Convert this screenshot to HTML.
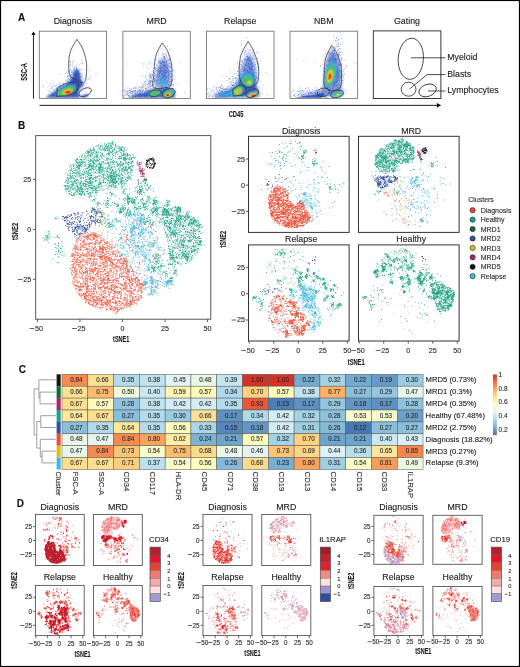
<!DOCTYPE html>
<html><head><meta charset="utf-8"><style>
html,body{margin:0;padding:0;background:#fff;}
body{width:520px;height:667px;overflow:hidden;}
svg{display:block;will-change:transform;filter:blur(0.25px);font-family:"Liberation Sans", sans-serif;}
text{stroke:#222;stroke-width:0.22px;stroke-opacity:0.55;}
</style></head><body>
<svg width="520" height="667" viewBox="0 0 520 667">
<rect x="0" y="0" width="520" height="667" fill="#fff"/>
<text x="18.00" y="21.40" font-size="10" text-anchor="start" fill="#111" font-weight="bold" >A</text>
<text x="72.95" y="24.30" font-size="8.8" text-anchor="middle" fill="#222" >Diagnosis</text>
<text x="156.60" y="24.30" font-size="8.8" text-anchor="middle" fill="#222" >MRD</text>
<text x="240.25" y="24.30" font-size="8.8" text-anchor="middle" fill="#222" >Relapse</text>
<text x="323.80" y="24.30" font-size="8.8" text-anchor="middle" fill="#222" >NBM</text>
<text x="407.00" y="24.30" font-size="8.8" text-anchor="middle" fill="#222" >Gating</text>
<defs><filter id="fb1" x="-50%" y="-50%" width="200%" height="200%"><feGaussianBlur stdDeviation="0.9"/></filter><filter id="fb2" x="-50%" y="-50%" width="200%" height="200%"><feGaussianBlur stdDeviation="1.6"/></filter><filter id="fb0" x="-50%" y="-50%" width="200%" height="200%"><feGaussianBlur stdDeviation="0.5"/></filter></defs>
<clipPath id="fc39"><rect x="39.3" y="31.2" width="67.3" height="67.2"/></clipPath>
<g clip-path="url(#fc39)">
<path transform="scale(.5)" d="M166 126h0m-1 1h0m-1-6h0m-1 1h0m-1 5h0m-14-5h0m-1-2h0m-2 6h0m0-2h0m-4-1h0m0 2h0m-2-2h0m-1 10h0m0-1h0m2-4h0m0 1h0m2 1h0m2 2h0m1-1h0m3 4h0m0-7h0m1 6h0m3-1h0m0 1h0m1 0h0m1-5h0m5 1h0m20 7h0m-11 1h0m-4 1h0m-3 1h0m-1-2h0m-1 2h0m-2 2h0m0-1h0m0 2h0m-1-2h0m-1 2h0m0-1h0m0-2h0m-1-3h0m0 4h0m-1-2h0m0-2h0m-1 6h0m-1-3h0m0 2h0m-1-3h0m0 2h0m0-5h0m-1 7h0m0-5h0m-1-1h0m-1 2h0m0 3h0m0-2h0m-2 0h0m-1 3h0m0-5h0m-1 5h0m-1-5h0m0 3h0m-1-2h0m-2 3h0m-1 0h0m-1 0h0m-2 0h0m-1-5h0m-14 12h0m11-2h0m2-3h0m1 2h0m2 2h0m0 3h0m1-5h0m1-2h0m3 6h0m1-1h0m0-4h0m1 1h0m0-1h0m0 4h0m2 0h0m0-3h0m1-1h0m0-1h0m1 5h0m0-1h0m0-1h0m0 3h0m0-5h0m1 0h0m1 2h0m0 3h0m0-1h0m0-1h0m1 0h0m1-1h0m0 4h0m1-4h0m0-1h0m0-1h0m1 2h0m0 4h0m1-4h0m2 2h0m0-2h0m0 4h0m0-5h0m0 4h0m1-5h0m0 3h0m1 0h0m0-1h0m0 3h0m1-4h0m0 4h0m2-3h0m3 1h0m0-1h0m4 4h0m3-3h0m2 3h0m6-7h0m13 3h0m-10 6h0m-3 6h0m0-5h0m-2 3h0m-5-3h0m-3 5h0m-1-1h0m-2-3h0m-2 2h0m0-5h0m0 2h0m-2-2h0m-1 7h0m-1-7h0m-1 3h0m0 1h0m-2 2h0m0-1h0m-1-1h0m-1-3h0m0 2h0m0-1h0m-1-1h0m-1 1h0m0 4h0m0-5h0m-1 6h0m0-6h0m0 4h0m-1 2h0m0-5h0m-1 2h0m-1 0h0m0-1h0m0 3h0m0-5h0m-1 6h0m0-6h0m0 2h0m-1 3h0m0-3h0m-1 3h0m-1-4h0m0 3h0m0 2h0m-1-1h0m-1 1h0m0-6h0m0-1h0m-1 3h0m-1 1h0m0 1h0m0-5h0m-1 6h0m0-2h0m-1-2h0m-1 5h0m0-7h0m-1 6h0m0-1h0m0-5h0m-1 1h0m-1 6h0m0-6h0m-1 2h0m-41 9h0m9 3h0m3-5h0m16 5h0m4-3h0m1 3h0m1 0h0m4-5h0m0-2h0m1 1h0m0 4h0m2-1h0m0-3h0m1 2h0m1 1h0m0-1h0m1 1h0m1-4h0m2 6h0m0-6h0m1 2h0m1 1h0m0-3h0m0 4h0m1 1h0m1-4h0m0-1h0m1 3h0m0 4h0m0-5h0m0-2h0m1 1h0m0-1h0m0 7h0m1-6h0m0 4h0m1-4h0m0 3h0m1-3h0m0 4h0m0-1h0m0 3h0m1-1h0m0-1h0m1-3h0m0 4h0m0-5h0m0 4h0m0-5h0m1 0h0m0 2h0m0 4h0m2-1h0m1-4h0m0 3h0m1 3h0m0-6h0m0 3h0m1-4h0m0 7h0m0-1h0m1 1h0m0-5h0m1 4h0m1-4h0m0 4h0m1-3h0m0 4h0m0-5h0m0-1h0m1 4h0m0 2h0m0-1h0m1 0h0m1-5h0m1 1h0m2 4h0m2 1h0m5 0h0m1-7h0m7 2h0m-13 11h0m-4 0h0m-2-4h0m0-1h0m-4 3h0m-1-2h0m-1 4h0m-1-4h0m-1 0h0m-2-1h0m0 7h0m0-6h0m-1 6h0m0-4h0m-1 0h0m-1 2h0m0-5h0m0 7h0m0-6h0m-2 5h0m-1-1h0m0-5h0m-2 5h0m0-5h0m0 2h0m-2-1h0m0 3h0m-1-2h0m-1-2h0m-5 3h0m0 4h0m-1 0h0m0-2h0m-1 0h0m0-1h0m0-2h0m-1-2h0m0 3h0m-1-2h0m-4 0h0m-1 2h0m0 3h0m-1-3h0m0 4h0m-2 0h0m0-3h0m-1-1h0m0-1h0m-1 2h0m-1 1h0m0-2h0m-1 1h0m0 3h0m-1-6h0m0 3h0m-1-4h0m0 7h0m-1-2h0m-1-3h0m-3 1h0m-1 1h0m0 2h0m-2-3h0m-1 0h0m-3 2h0m0-5h0m-1 4h0m-2 3h0m-1-3h0m-2-1h0m-4 4h0m-9-1h0m-1-3h0m10 10h0m6-4h0m0 6h0m3-6h0m0-1h0m2 5h0m1-2h0m1 3h0m2-4h0m1 2h0m1-3h0m0 4h0m0-5h0m0 3h0m1 2h0m1-3h0m0 3h0m0-5h0m0 4h0m1-3h0m3 5h0m0-1h0m0-5h0m1 2h0m1 0h0m0-2h0m0 7h0m1-6h0m0-1h0m1 1h0m0 4h0m1 0h0m1-1h0m0 3h0m0-2h0m1-4h0m0 3h0m0-1h0m0 4h0m1 0h0m0-5h0m2-1h0m0-1h0m0 4h0m0-1h0m1 0h0m0-2h0m1 0h0m0-1h0m1 6h0m0-5h0m0 4h0m2-3h0m1 5h0m0-7h0m2 5h0m0-1h0m1 2h0m0-5h0m0-1h0m2 5h0m1-1h0m0-2h0m0 4h0m0-5h0m2 2h0m0 4h0m1-4h0m1 3h0m1 1h0m0-7h0m3 0h0m1 3h0m13 4h0m1-2h0m0-2h0m2 0h0m5 4h0m-16 1h0m-8 5h0m-8-5h0m-2 2h0m-1 1h0m-3-2h0m-1 0h0m-3 1h0m-1 5h0m-1-6h0m-1 2h0m-3-3h0m-2 1h0m-1 5h0m-3-4h0m-1 2h0m-1-1h0m0-2h0m0-1h0m-3 1h0m-2 1h0m0 2h0m-1-3h0m-1 6h0m-4-2h0m-4-5h0m-2 0h0m16 8h0m11 0h0m8 0h0m4 0h0m11 0h0m9 0h0" stroke="#3D62C6" stroke-width="1.6" stroke-linecap="round" stroke-opacity="0.55"/>
<polygon points="46.3,96.7 53.3,92.2 61.3,87.2 68.3,82.7 72.3,77.2 74.3,71.2 77.3,68.2 80.3,74.2 81.3,81.2 84.3,84.2 80.3,88.2 78.3,93.2 80.3,97.7 46.3,97.7" fill="#2A50BC" fill-opacity="0.95" filter="url(#fb1)"/>
<ellipse cx="65.30" cy="90.70" rx="11" ry="3.7" transform="rotate(-24 65.30 90.70)" fill="#35B6E6" fill-opacity="1.0" filter="url(#fb1)"/>
<ellipse cx="66.30" cy="91.20" rx="9.6" ry="3.3" transform="rotate(-22 66.30 91.20)" fill="#58BF4C" fill-opacity="1.0" filter="url(#fb1)"/>
<ellipse cx="67.30" cy="91.70" rx="5.6" ry="2.1" transform="rotate(-18 67.30 91.70)" fill="#F2E22C" fill-opacity="1.0" filter="url(#fb1)"/>
<ellipse cx="67.90" cy="92.00" rx="4.2" ry="1.8" transform="rotate(-14 67.90 92.00)" fill="#F59A22" fill-opacity="1" filter="url(#fb0)"/>
<ellipse cx="68.10" cy="92.10" rx="2.6" ry="1.2" transform="rotate(-10 68.10 92.10)" fill="#E4241F" fill-opacity="1" filter="url(#fb0)"/>
<ellipse cx="84.80" cy="95.80" rx="4.2" ry="1.4" transform="rotate(-12 84.80 95.80)" fill="#2A50BC" fill-opacity="0.9" filter="url(#fb1)"/>
<ellipse cx="85.30" cy="96.00" rx="2.2" ry="0.8" transform="rotate(-12 85.30 96.00)" fill="#35B6E6" fill-opacity="0.8" filter="url(#fb0)"/>
<path d="M76.9 39.3C77.8 40.8 80.9 44.7 82.4 48.2C83.9 51.7 85.4 56.5 86.1 60.2C86.8 63.9 86.7 67.2 86.6 70.4C86.5 73.7 86.3 77.7 85.7 79.7C85.0 81.7 84.4 82.5 82.7 82.4C81.0 82.3 77.4 80.3 75.3 79.2C73.2 78.1 71.2 78.2 70.1 75.7C69.0 73.2 68.6 68.3 68.7 64.2C68.8 60.1 69.1 55.3 70.5 51.2C71.9 47.0 75.8 41.3 76.9 39.3Z" fill="none" stroke="#3a3a3a" stroke-width="0.8" stroke-linejoin="miter"/>
<path d="M56.3 96.4 L57.6 87.7 L65.3 83.6 L74.6 81.5 L78.5 83.5 L78.7 87.4 L75.9 92.6 L65.4 95.9Z" fill="none" stroke="#3a3a3a" stroke-width="0.8" stroke-linejoin="round"/>
<ellipse cx="85.10" cy="92.20" rx="6.6" ry="3.8" transform="rotate(-25 85.10 92.20)" fill="none" stroke="#3a3a3a" stroke-width="0.8"/>
</g>
<clipPath id="fc122"><rect x="122.9" y="31.2" width="67.4" height="67.2"/></clipPath>
<g clip-path="url(#fc122)">
<polygon points="153.9,87.2 155.4,76.2 158.9,63.2 163.9,55.2 168.9,63.2 170.9,76.2 170.9,87.2" fill="#2A50BC" fill-opacity="0.45" filter="url(#fb2)"/>
<polygon points="126.9,97.7 134.9,94.7 146.9,91.7 154.9,89.2 162.9,88.2 170.9,88.2 174.9,91.2 174.9,97.7" fill="#2A50BC" fill-opacity="0.9" filter="url(#fb1)"/>
<path transform="scale(.5)" d="M335 93h0m-7-2h0m-6 3h0m0 4h0m16 0h0m3 1h0m-3 12h0m-2-5h0m-3 0h0m-2 4h0m-1-3h0m-3 2h0m0-1h0m-1 0h0m-2 3h0m-7-6h0m-4 13h0m5-2h0m6 2h0m3-4h0m1-1h0m1 6h0m0-6h0m0 3h0m0-1h0m2 2h0m1-5h0m1 0h0m2 4h0m3 0h0m0 3h0m0-1h0m2 1h0m0-1h0m21 7h0m-18-1h0m-3 3h0m0-1h0m-1 0h0m-1-5h0m0-1h0m0 6h0m-2-5h0m0 2h0m-2 4h0m0-6h0m-1 1h0m0 3h0m0-2h0m-2-1h0m0 4h0m-2-2h0m0-2h0m0 3h0m-1 2h0m-1-2h0m0-1h0m0-1h0m0 3h0m-2-2h0m0-1h0m-1 0h0m0-1h0m0 4h0m0-1h0m-1 2h0m-1-1h0m0-1h0m0 2h0m-1 0h0m0-1h0m0-5h0m-1 1h0m0 2h0m-1 0h0m0 3h0m0-5h0m-2 0h0m0 3h0m0-5h0m0 3h0m-6-1h0m-10 2h0m-3 1h0m-13 2h0m-31 1h0m33 4h0m4-4h0m7 0h0m4 4h0m4-4h0m4 0h0m0 7h0m1 0h0m1-1h0m1-6h0m1 3h0m0-1h0m3 4h0m1-2h0m0 2h0m2-6h0m1 4h0m0-1h0m0 4h0m1 0h0m0-5h0m0 2h0m1 3h0m1-6h0m0 3h0m0 3h0m1 0h0m1-3h0m0 3h0m0-5h0m0 4h0m1-2h0m0-2h0m1 1h0m0-1h0m0 4h0m0-5h0m0 4h0m0-5h0m0 4h0m1 0h0m1-1h0m0-2h0m0 4h0m0-1h0m1-1h0m0 3h0m0-6h0m1 2h0m0 4h0m1-4h0m0 4h0m1-1h0m0-3h0m0 4h0m1 1h0m0-5h0m1 1h0m0 1h0m2-1h0m1 3h0m1-5h0m0 5h0m1 0h0m0-1h0m1 0h0m2-4h0m4 11h0m-1 1h0m-2 1h0m-2 1h0m-1-7h0m0 4h0m-1 3h0m-1 0h0m-1-1h0m-2-1h0m0-1h0m-1-2h0m0 4h0m0-6h0m-1 1h0m0 4h0m0-5h0m-1 1h0m0 3h0m0 3h0m-1-2h0m0-1h0m0-2h0m0 4h0m-1-6h0m0 7h0m-1-3h0m0 2h0m0-1h0m0-5h0m-1 0h0m0 1h0m0 4h0m-1 2h0m0-1h0m0-1h0m0-1h0m0-1h0m-1 0h0m0-1h0m0-2h0m-1 7h0m0-2h0m0-5h0m-1 2h0m0 4h0m0-6h0m-1 4h0m0 3h0m0-2h0m-1 2h0m0-1h0m0-1h0m0-1h0m-1-3h0m0 1h0m-1 3h0m0-1h0m0-1h0m0 4h0m0-5h0m-1 5h0m0-6h0m0 4h0m0-5h0m-1 0h0m0 4h0m0 3h0m0-2h0m-1 1h0m0-5h0m0 4h0m0-5h0m-1 7h0m0-5h0m0-2h0m-1 4h0m0 3h0m-1-4h0m-1 2h0m0-5h0m0 7h0m-1-3h0m0 1h0m-1 0h0m-1 2h0m0-5h0m0-1h0m-1 2h0m-2-2h0m-3 5h0m-2 0h0m-7-5h0m-4-1h0m-9 14h0m13 0h0m2-4h0m1 4h0m1-2h0m0 3h0m1-2h0m2 1h0m0-2h0m1 3h0m0-2h0m2-4h0m2 2h0m0 4h0m4-2h0m1-1h0m0-2h0m1 5h0m0-6h0m1 6h0m1-2h0m0-5h0m0 4h0m1 1h0m1-1h0m0-1h0m0-1h0m0-1h0m0 4h0m0-5h0m1 1h0m0 4h0m0-5h0m1 2h0m0-1h0m0-1h0m1 0h0m0 4h0m1-2h0m0 2h0m1 0h0m0-1h0m0 3h0m0-1h0m1 1h0m0-1h0m0-2h0m1 3h0m0-5h0m0-1h0m0 4h0m1 3h0m0-6h0m0-1h0m0 4h0m1-3h0m0 3h0m0-2h0m1 1h0m0 4h0m0-5h0m0 4h0m0-1h0m1 0h0m0-2h0m0-1h0m1 4h0m0-3h0m0 4h0m0-5h0m1 0h0m0-1h0m0 3h0m1-3h0m0-1h0m0 3h0m0-1h0m1 5h0m0-7h0m1 5h0m0-5h0m1 0h0m1 3h0m0 4h0m0-2h0m0-5h0m0 4h0m1-4h0m0 7h0m0-6h0m1 3h0m1-2h0m0 3h0m0-1h0m1-1h0m3-3h0m1 6h0m3 1h0m2-7h0m0 11h0m-1 4h0m-2-6h0m-4 6h0m-1-6h0m-1 1h0m-1 0h0m-1 4h0m-1-1h0m-1-5h0m0 6h0m0-5h0m-1 1h0m0 2h0m-2-1h0m0-1h0m0-2h0m-1 2h0m0-1h0m0 4h0m-1-2h0m0-2h0m-1 6h0m0-5h0m0 4h0m0-2h0m-1-2h0m0-1h0m0 6h0m-1-2h0m0-5h0m0 7h0m0-5h0m0 4h0m0-5h0m-1 6h0m0-5h0m0 4h0m0-2h0m-1-4h0m0 4h0m0 3h0m0-1h0m0-5h0m-1 2h0m0-1h0m0 4h0m0-6h0m-1 3h0m0-3h0m0 4h0m-1 1h0m0-1h0m0 3h0m-1-1h0m0-5h0m0 3h0m-1 3h0m0-1h0m0-6h0m0 4h0m-1 1h0m0 2h0m0-6h0m-1 6h0m0-6h0m-1-1h0m0 1h0m-1 2h0m0-1h0m-1 1h0m0-2h0m0 4h0m-1-5h0m0 7h0m0-1h0m-1 0h0m0-6h0m-1 0h0m-2 1h0m0 3h0m-2 1h0m0-5h0m0 7h0m-1-1h0m0-1h0m-1-2h0m-1-1h0m0 4h0m-1 1h0m-2-4h0m0-1h0m-1 3h0m-1-5h0m0 3h0m0-1h0m-1 1h0m0-3h0m0 4h0m-1-4h0m0 7h0m-1-4h0m0-2h0m-3 5h0m-2-1h0m-1 1h0m-1-6h0m-1 2h0m-3-1h0m-8 0h0m6 14h0m3-1h0m0-3h0m3 0h0m0 4h0m0-6h0m0 3h0m4-3h0m1 6h0m0-1h0m1-2h0m0 3h0m0-5h0m0 3h0m1-4h0m0 2h0m1 3h0m0-6h0m1 4h0m0-1h0m0 4h0m0-5h0m1-1h0m0 4h0m0-1h0m0-2h0m1 0h0m1 1h0m1 0h0m2 2h0m1-3h0m0-1h0m0 4h0m1-2h0m0-2h0m1 2h0m2-3h0m0 4h0m0-2h0m1 2h0m1-2h0m0-1h0m0 3h0m1 2h0m1-5h0m0 6h0m2-7h0m1 6h0m0 1h0m1 0h0m0-5h0m0-1h0m0-1h0m1 6h0m0-5h0m0 4h0m1-2h0m1 1h0m0-1h0m0 3h0m1-2h0m0-1h0m1 4h0m0-1h0m0-5h0m1-1h0m0 1h0m1 3h0m0-1h0m0 4h0m0-5h0m1 2h0m0-2h0m1 4h0m0-1h0m0-2h0m1-1h0m0 2h0m1 0h0m0 3h0m0-7h0m1 4h0m0 3h0m0-5h0m1-2h0m1 5h0m1 1h0m0-5h0m0 4h0m0-2h0m1-2h0m0 4h0m0-5h0m2 0h0m0 3h0m1 0h0m0 2h0m2-2h0m1 0h0m1 3h0m0-1h0m1-5h0m1 1h0m11 6h0m18-4h0m-26 6h0m-1 0h0m-1 2h0m-2-3h0m-1 3h0m-1-1h0m-1 0h0m-1 0h0m-2-1h0m-1 1h0m0-2h0m-1 3h0m0 4h0m-1 0h0m-1-6h0m0 4h0m-1-4h0m-1 6h0m0-5h0m0 4h0m-1-6h0m0 4h0m0 2h0m-2 1h0m0-3h0m-1 2h0m-1 0h0m0-6h0m-1 3h0m-1 3h0m0-2h0m0-1h0m-1 4h0m-1-7h0m0 3h0m0-1h0m0 4h0m-1-1h0m-1 0h0m0-5h0m-3 5h0m0-5h0m-2 2h0m0 3h0m-2-4h0m-3 2h0m0 4h0m-1-6h0m-4 0h0m0 2h0m-2 1h0m-2-1h0m0 3h0m0-2h0m-1-3h0m0 4h0m-1-4h0m-1 0h0m0-1h0m0 4h0m-1 2h0m-1-3h0m0 4h0m-1-1h0m-1 0h0m0-5h0m-2 2h0m-1-2h0m-1 5h0m-1-5h0m0 2h0m-2 4h0m-1-4h0m-1 1h0m0 2h0m-1 1h0m-1-3h0m0 2h0m-3 1h0m-2 0h0m-2-2h0m-5 2h0m-2 0h0m-22 8h0m1-2h0m1-2h0m2 3h0m2 1h0m1-2h0m0-5h0m2 6h0m1 0h0m1-1h0m0-5h0m0 2h0m1 3h0m1 2h0m1-4h0m1-1h0m0 4h0m1 1h0m0-5h0m0 4h0m1 0h0m1 1h0m2-6h0m0 4h0m0-5h0m0 7h0m1 0h0m0-1h0m0-6h0m1 5h0m0-4h0m1 5h0m0-1h0m1-2h0m0 3h0m2-6h0m1 7h0m0-6h0m1 6h0m0-1h0m0-1h0m1 1h0m1-3h0m0 3h0m1 1h0m0-3h0m1 0h0m0 1h0m1 0h0m0 2h0m0-6h0m1 5h0m0-1h0m1-2h0m1 3h0m0-6h0m1 7h0m0-2h0m1 2h0m1-2h0m0-2h0m1-2h0m3 3h0m0-2h0m0 4h0m0-5h0m1 3h0m0 2h0m1 1h0m0-5h0m0-1h0m1 4h0m0 2h0m1-6h0m0 4h0m1 0h0m1 0h0m0-2h0m0 4h0m0-1h0m1 1h0m1-4h0m0 4h0m0-7h0m0 4h0m1 2h0m1-4h0m0 3h0m0-1h0m2-3h0m1 6h0m0-5h0m0 4h0m0-1h0m1 0h0m0-5h0m0 4h0m0 3h0m0-1h0m2 1h0m0-6h0m0 4h0m1-5h0m0 4h0m2 0h0m1-4h0m0 4h0m1-1h0m2-2h0m0 2h0m0 4h0m0-1h0m2-1h0m1 2h0m1-6h0m1 2h0m0 3h0m1-6h0m1 5h0m1 2h0m0-5h0m0 4h0m1-1h0m0-5h0m0 3h0m1 0h0m0-2h0m1 6h0m3-4h0m1 1h0m0-4h0m1 4h0m0 3h0m0-5h0m1-2h0m0 3h0m1-2h0m1 1h0m1 3h0m0-5h0m1 1h0m1 0h0m1 0h0m0 3h0m9-3h0m23 8h0m-28 4h0m-1-3h0m-1 4h0m-5-5h0m0 4h0m-3 1h0m-1-6h0m-2 7h0m0-5h0m0 4h0m-2-5h0m-1 1h0m-2 5h0m0-2h0m0-1h0m-2-3h0m-1 3h0m-1-3h0m-3 0h0m0-1h0m-1 7h0m0-6h0m0 4h0m-1-4h0m0 6h0m-2-6h0m-7 1h0m0 2h0m-1 1h0m-1-3h0m0 4h0m-1-3h0m-1 0h0m0-2h0m-1 5h0m0-1h0m-1-5h0m0 7h0m0-5h0m-1 1h0m0-1h0m0-2h0m-1 2h0m-1 2h0m0-1h0m0-2h0m0-1h0m-1 7h0m0-5h0m0 4h0m0-2h0m-1-1h0m-1 0h0m0 4h0m0-2h0m-1 1h0m0-6h0m-1 1h0m-1 1h0m0-1h0m-1-1h0m0 3h0m0 4h0m-2-2h0m-3 1h0m0-6h0m0 3h0m-1 2h0m0-1h0m-1 0h0m0-3h0m0-1h0m-1 2h0m0 3h0m-1 0h0m0-5h0m0 3h0m-1 1h0m0 2h0m-1 0h0m0-1h0m0-5h0m0 4h0m0-1h0m0-1h0m-1 3h0m-1 2h0m0-2h0m0-1h0m-1-4h0m0 4h0m-1 0h0m0-3h0m-1 4h0m-1-4h0m0 3h0m0-2h0m-1 1h0m0-1h0m0 3h0m-2 1h0m0-5h0m-1-1h0m-1 7h0m0-3h0m-1-2h0m-1 4h0m0-5h0m0 3h0m-1-4h0m0 3h0m-1-3h0m0 3h0m-1 4h0m-1-5h0m0-1h0m-2 0h0m0-1h0m-1 3h0m-1 4h0m-1-2h0m0-1h0m0 3h0m-1-3h0m0-3h0m-1 4h0m0-5h0m-2 4h0m0 2h0m0-5h0m-1 4h0m0-5h0m-2 7h0m-1 4h0m0-3h0m10 0h0m1 0h0m1 1h0m4 2h0m2-2h0m0 2h0m1-1h0m2-1h0m2-1h0m0 2h0m1-1h0m0-1h0m2 0h0m2 1h0m1-1h0m1 0h0m2 0h0m0 2h0m1 1h0m1-3h0m1 0h0m5 0h0m1 1h0m1 1h0m2-2h0m2 2h0m0-1h0m1-1h0m8 3h0m1-1h0m2-2h0m6 3h0m1-2h0m3-1h0m7 0h0m0 2h0m14-1h0" stroke="#2E56C4" stroke-width="1.7" stroke-linecap="round" stroke-opacity="0.55"/>
<ellipse cx="162.90" cy="82.20" rx="4" ry="4.5" transform="rotate(8 162.90 82.20)" fill="#35B6E6" fill-opacity="0.7" filter="url(#fb2)"/>
<ellipse cx="154.90" cy="93.20" rx="7" ry="3.2" transform="rotate(-10 154.90 93.20)" fill="#35B6E6" fill-opacity="1.0" filter="url(#fb1)"/>
<ellipse cx="154.90" cy="93.20" rx="5.2" ry="2.2" transform="rotate(-10 154.90 93.20)" fill="#58BF4C" fill-opacity="1.0" filter="url(#fb1)"/>
<ellipse cx="168.40" cy="93.70" rx="6" ry="3.8" transform="rotate(-20 168.40 93.70)" fill="#35B6E6" fill-opacity="1.0" filter="url(#fb1)"/>
<ellipse cx="168.10" cy="94.20" rx="4.5" ry="2.8" transform="rotate(-20 168.10 94.20)" fill="#58BF4C" fill-opacity="1.0" filter="url(#fb1)"/>
<ellipse cx="167.90" cy="94.70" rx="3" ry="1.8" transform="rotate(-20 167.90 94.70)" fill="#F2E22C" fill-opacity="1.0" filter="url(#fb1)"/>
<ellipse cx="167.70" cy="95.00" rx="1.8" ry="1.1" transform="rotate(-20 167.70 95.00)" fill="#E4241F" fill-opacity="1" filter="url(#fb0)"/>
<path d="M162.1 43.0C163.1 44.5 166.4 48.3 167.9 51.7C169.4 55.1 170.7 59.3 171.4 63.2C172.1 67.1 171.9 71.8 171.9 75.2C171.9 78.6 172.1 81.5 171.3 83.5C170.5 85.5 170.2 86.8 167.3 87.4C164.3 88.0 155.9 89.4 153.6 87.4C151.3 85.4 153.7 79.2 153.8 75.2C153.9 71.2 154.0 67.0 154.5 63.2C155.0 59.5 155.6 56.1 156.9 52.7C158.2 49.3 161.2 44.6 162.1 43.0Z" fill="none" stroke="#3a3a3a" stroke-width="0.8" stroke-linejoin="miter"/>
<ellipse cx="154.90" cy="93.20" rx="6.2" ry="3.3" transform="rotate(-10 154.90 93.20)" fill="none" stroke="#3a3a3a" stroke-width="0.8"/>
<ellipse cx="168.70" cy="93.00" rx="6.6" ry="4.4" transform="rotate(-20 168.70 93.00)" fill="none" stroke="#3a3a3a" stroke-width="0.8"/>
</g>
<clipPath id="fc206"><rect x="206.5" y="31.2" width="67.5" height="67.2"/></clipPath>
<g clip-path="url(#fc206)">
<polygon points="239.5,81.2 240.5,69.2 244.5,59.2 248.5,53.2 253.5,61.2 255.5,73.2 255.5,83.2" fill="#2A50BC" fill-opacity="0.45" filter="url(#fb2)"/>
<polygon points="212.5,97.2 220.5,93.2 230.5,89.2 236.5,85.2 239.5,78.2 246.5,71.2 253.5,73.2 255.5,79.2 256.5,86.2 258.5,90.2 259.5,96.2 212.5,97.8" fill="#2A50BC" fill-opacity="0.9" filter="url(#fb2)"/>
<path transform="scale(.5)" d="M494 75h0m-11 12h0m0-5h0m1 9h0m6 10h0m1 0h0m0 2h0m3-3h0m2 3h0m2-3h0m2 1h0m0-1h0m4 2h0m2-3h0m12 7h0m-4 0h0m-1-2h0m-6 6h0m-1 1h0m0-5h0m0-1h0m-1 4h0m-1-4h0m-2 4h0m-2-3h0m0 4h0m-2-5h0m0 2h0m-4 0h0m-1 1h0m-3-4h0m-1 1h0m0 4h0m-1-3h0m0 4h0m-8 4h0m6 0h0m3 4h0m0 1h0m1-3h0m1 2h0m2-5h0m1 6h0m0-1h0m0-5h0m1 5h0m0-5h0m0 4h0m0-5h0m0 7h0m0-5h0m1 1h0m0 2h0m0-1h0m1 2h0m0-1h0m0-2h0m0 4h0m1-5h0m0 3h0m1 1h0m0-1h0m1 1h0m0-5h0m0 2h0m0 4h0m0-5h0m1 3h0m3 0h0m0-1h0m1 2h0m0-2h0m0-2h0m2-1h0m0 3h0m2 1h0m0-5h0m1 7h0m0-1h0m0-1h0m3 0h0m1 0h0m4 1h0m4 4h0m-5 5h0m-2 0h0m-1-5h0m0 2h0m-4-2h0m0 4h0m-2-2h0m-3 3h0m0-1h0m0-6h0m-1 5h0m0-1h0m-1 3h0m0-7h0m0 4h0m0-1h0m-1 2h0m0-5h0m0 4h0m0 3h0m-1-5h0m0-1h0m-1 6h0m0-5h0m0-1h0m0-1h0m-1 2h0m0 4h0m-1-3h0m0-1h0m0-1h0m0-1h0m-1 7h0m0-1h0m0-1h0m-1 0h0m0 2h0m0-6h0m-1-1h0m0 4h0m-1-2h0m-1 3h0m0-2h0m0 3h0m0-5h0m-1 5h0m0-5h0m-2 1h0m0-2h0m-2 6h0m-1 0h0m-1-6h0m-1 1h0m0 4h0m0-3h0m-3 2h0m-1-1h0m-3 2h0m-3 1h0m-1 2h0m4 7h0m0-5h0m3-1h0m1 5h0m1-4h0m0 1h0m1 2h0m0-5h0m1 5h0m3 0h0m0-5h0m0 3h0m0 4h0m1 0h0m0-1h0m1-5h0m1 5h0m0-1h0m0-5h0m0 3h0m0-1h0m1 1h0m0-1h0m0-2h0m1 2h0m0 2h0m1 2h0m0-5h0m0-1h0m1 4h0m0-1h0m1 3h0m0-6h0m0 4h0m1-2h0m0-1h0m0 4h0m0-5h0m1 6h0m0-1h0m1-3h0m0 3h0m0-5h0m0 4h0m0-1h0m0 4h0m1-5h0m0-1h0m1 0h0m0 4h0m0-5h0m0 7h0m0-5h0m1 4h0m0-1h0m0-2h0m1 3h0m0-2h0m1-2h0m0 4h0m0-5h0m0 4h0m0 2h0m1-3h0m0 3h0m0-5h0m0 4h0m0-6h0m1 3h0m0-1h0m0 3h0m2 0h0m0-5h0m1 1h0m0 4h0m0-3h0m1 4h0m0-2h0m1-3h0m4-1h0m0 7h0m2-4h0m0 3h0m1 3h0m-4 4h0m0-1h0m-1-4h0m-1 7h0m-1-7h0m0 4h0m0-2h0m-2 4h0m0-5h0m0-1h0m0 3h0m-1 1h0m-1 2h0m0-1h0m-1-1h0m-1 1h0m0-5h0m0 3h0m0-1h0m0 4h0m-1-3h0m0 4h0m0-6h0m0 3h0m-1 1h0m0-3h0m0-1h0m-1 2h0m0-1h0m0-2h0m0 4h0m-1-1h0m0 4h0m0-5h0m0-2h0m-1 5h0m0-5h0m0 3h0m0 4h0m0-5h0m-1 1h0m0 4h0m0-6h0m0 4h0m0-5h0m0 4h0m-1-3h0m0-1h0m-1 0h0m-1 7h0m0-5h0m0 3h0m0-1h0m-1 1h0m0-5h0m0 3h0m0 4h0m-1-1h0m0-6h0m-1 3h0m0 4h0m0-6h0m-1 5h0m0 1h0m0-5h0m-1 1h0m0-1h0m0 4h0m-1 0h0m0-1h0m0-1h0m-1-4h0m0 4h0m0-1h0m0-1h0m-1 1h0m0 3h0m-1-5h0m0 6h0m-1-4h0m0 3h0m-1-3h0m0-2h0m-1 6h0m-2 0h0m-1-3h0m0-2h0m-1 4h0m-3-6h0m-2 7h0m0-1h0m-8-2h0m-7 1h0m8 6h0m2 0h0m2 4h0m4-2h0m1 2h0m1 0h0m2-6h0m1 4h0m0-1h0m0-1h0m2 3h0m4 1h0m0-1h0m1-1h0m0 2h0m0-5h0m1 1h0m1 4h0m0-2h0m0-2h0m1 1h0m0-1h0m1 3h0m0-1h0m0-1h0m1-2h0m0-1h0m0 4h0m1 2h0m0-2h0m1 2h0m0-1h0m0-6h0m1 3h0m0 4h0m0-6h0m1 1h0m0 4h0m0-1h0m0-5h0m0 4h0m0-1h0m1 3h0m0-5h0m0 4h0m0-5h0m0 7h0m1-7h0m0 4h0m0-1h0m0-1h0m0 4h0m0-1h0m1 2h0m0-6h0m0 4h0m1-1h0m0 2h0m0-5h0m0 4h0m0-5h0m1 4h0m1-1h0m0 4h0m1 0h0m0-1h0m0-5h0m1 5h0m0-1h0m0-2h0m1 4h0m0-5h0m0 4h0m0-5h0m0 3h0m1 0h0m0 1h0m0-5h0m1 0h0m0 7h0m1-6h0m0 4h0m1 2h0m1-5h0m1 2h0m0-3h0m1 2h0m1 3h0m0-5h0m4 3h0m15-3h0m-17 13h0m-1-1h0m-1-5h0m-1 1h0m0 3h0m0-1h0m0-1h0m-1 3h0m0 1h0m-2 0h0m0-5h0m0 6h0m-1-2h0m-1-5h0m0 4h0m-1 1h0m-1-4h0m0-1h0m-1 7h0m-1-6h0m0 6h0m-1-4h0m0 4h0m0-1h0m0-1h0m-1-4h0m0 4h0m0-5h0m0 2h0m-1 4h0m-1-5h0m0-1h0m-1 6h0m0-1h0m0-5h0m0 2h0m-1 1h0m0 4h0m0-6h0m-1 6h0m0-3h0m-1 2h0m0-6h0m0 4h0m0-1h0m-1 0h0m0 4h0m0-7h0m0 4h0m-1 1h0m0-2h0m0 4h0m0-5h0m-1 4h0m0-6h0m0 2h0m-1 2h0m0-2h0m0-1h0m-1-1h0m0 4h0m0 3h0m-1 0h0m0-5h0m0-2h0m-2 1h0m-2 5h0m0 1h0m-1-6h0m0 4h0m-1 0h0m-2 0h0m-3-1h0m-4 0h0m-1 1h0m-2 1h0m0-3h0m-1 1h0m-1 1h0m-3 0h0m-1-4h0m0 4h0m-2-4h0m-4 4h0m-1 1h0m0-1h0m-2 1h0m-3-5h0m-10 0h0m0 10h0m10-2h0m5 5h0m2 0h0m1-2h0m1 0h0m3-3h0m0-1h0m0 4h0m1 1h0m1 2h0m2-3h0m1 3h0m1 0h0m0-5h0m0 4h0m0-1h0m0-5h0m1 2h0m1 3h0m2-5h0m1 0h0m1 4h0m1 1h0m0-1h0m3-3h0m0 3h0m1-3h0m1 2h0m1-1h0m0 3h0m0-1h0m1-1h0m0-3h0m1 1h0m0-1h0m0 4h0m0 3h0m0-1h0m1-4h0m1 2h0m0-2h0m2-2h0m1 5h0m0-5h0m1 7h0m0-5h0m0-1h0m0 2h0m1-3h0m1 2h0m0 4h0m1-1h0m0-2h0m1-3h0m1 2h0m1 0h0m0 2h0m1 1h0m0-5h0m0 3h0m1 3h0m0-2h0m0 3h0m1-1h0m2 0h0m2-6h0m1 2h0m0-2h0m1 6h0m1-4h0m0-1h0m1 5h0m0-6h0m2 2h0m2 3h0m6-4h0m1 3h0m7 6h0m-17-2h0m-1 1h0m-2 5h0m-1-5h0m-1 1h0m-1-2h0m-1 2h0m0 3h0m0-1h0m-3 3h0m0-6h0m-1 0h0m0-1h0m-1 3h0m-1 0h0m-1 0h0m0-2h0m-1 5h0m0-6h0m-1 5h0m0-5h0m-2 1h0m0-1h0m-1 1h0m0 3h0m-1-4h0m-1 0h0m-1 1h0m0-1h0m0 3h0m-4-3h0m-1 4h0m-1 1h0m-1 1h0m-1-5h0m0 2h0m-1-2h0m-1 1h0m-1-2h0m0 4h0m0 3h0m0-1h0m0-5h0m-3 6h0m-1-2h0m-1-4h0m-2 3h0m-2-1h0m-1-1h0m0-1h0m0 2h0m-1 4h0m0-5h0m-1 1h0m-1-1h0m0 2h0m0-1h0m-1-3h0m0 2h0m-1 5h0m0-1h0m0-5h0m-2 2h0m-3 1h0m0 2h0m-2-4h0m0 3h0m-3 1h0m-6 0h0m-3-4h0m0 4h0m-1-5h0m0 3h0m-2 2h0m-1 1h0m0-1h0m-2 1h0m-2 0h0m-2-7h0m-1 7h0m-1-2h0m-4 2h0m0-2h0m-13 5h0m4-1h0m3 5h0m2-4h0m0 4h0m2 0h0m3-2h0m4-1h0m0-2h0m1 4h0m1 1h0m1 0h0m2 0h0m1-1h0m1 1h0m0-2h0m0-2h0m2-2h0m0 7h0m1-5h0m0-1h0m0 4h0m1 2h0m0-5h0m0 4h0m1-5h0m0 4h0m0 2h0m2-4h0m1-2h0m0 2h0m0 4h0m0-5h0m1 1h0m0 4h0m1-1h0m0-3h0m1 0h0m0 4h0m0-5h0m1 5h0m1-6h0m0 1h0m1 0h0m1-2h0m0 2h0m1 2h0m0 3h0m2-1h0m1-1h0m0-5h0m1 1h0m1 5h0m0-1h0m0-1h0m1 2h0m0-1h0m0-1h0m1 3h0m0-5h0m0 4h0m1 0h0m0-1h0m0-1h0m1-3h0m1 3h0m0 2h0m1-5h0m0 4h0m1 2h0m0-1h0m0-1h0m1 2h0m0-5h0m0 4h0m1-2h0m1 3h0m0-1h0m1 0h0m0-5h0m0 3h0m1 3h0m0-3h0m1 2h0m1 0h0m0-2h0m1-3h0m0 4h0m1-2h0m2 4h0m1-6h0m0 1h0m1 0h0m0 3h0m1 2h0m1-1h0m1-3h0m0 3h0m1-5h0m1-1h0m0 2h0m1 1h0m0 2h0m1 2h0m1-4h0m1-1h0m0 2h0m1-1h0m1-3h0m1 1h0m6 1h0m2 2h0m0 1h0m5 1h0m2-4h0m17 0h0m10 12h0m-18-1h0m-12-3h0m-5-2h0m-4 5h0m-1-3h0m-8 2h0m0-1h0m-1 1h0m-1 0h0m-1 1h0m0-1h0m0-3h0m-2 3h0m-1-3h0m-1 3h0m-1-1h0m0-2h0m-1 3h0m-1 0h0m0-1h0m-2-1h0m-1 2h0m0-1h0m0-1h0m0-1h0m-2 6h0m-1-5h0m-2 4h0m0-3h0m-3 0h0m0-1h0m-1 3h0m-1-4h0m0 3h0m-1-4h0m-1 2h0m0-1h0m0-1h0m-1 7h0m0-1h0m0-6h0m-1 0h0m0 1h0m-1 2h0m0-1h0m0 4h0m0-1h0m0-1h0m-1-2h0m0 3h0m-1-1h0m-1 0h0m-1-4h0m0 4h0m-1-1h0m0 4h0m0-6h0m-1-1h0m0 3h0m-1 2h0m0-1h0m0-1h0m0-2h0m-1 3h0m0 3h0m0-5h0m0 4h0m-1-3h0m0 2h0m0-5h0m-1 5h0m-1-2h0m-1-2h0m-1 4h0m-1 2h0m0-1h0m0-6h0m-1 0h0m0 7h0m-1-4h0m-1-2h0m0 4h0m0-5h0m-1 4h0m0-2h0m0 4h0m0-5h0m-1 6h0m0-2h0m-1-3h0m0 3h0m-1-2h0m-1 0h0m0-1h0m0-2h0m-3 2h0m0-1h0m0 4h0m0-1h0m-1 0h0m-1 2h0m-1-4h0m0 4h0m-2-3h0m0 2h0m-2-5h0m-1 6h0m-4 1h0m-1-4h0m-2 3h0m-2-5h0m-1 4h0m-1-1h0m3 4h0m0 1h0m7 0h0m7 0h0m2 2h0m6-3h0m1 0h0m2 2h0m3-2h0m1 1h0m1 2h0m1-2h0m1-1h0m1 3h0m1-2h0m2 1h0m2-2h0m5 0h0m4 0h0m2 0h0m1 1h0m1 1h0m3-1h0m2 1h0m4 1h0m6-3h0m2 3h0m0-3h0m19 3h0m9-2h0" stroke="#2E56C4" stroke-width="1.7" stroke-linecap="round" stroke-opacity="0.55"/>
<ellipse cx="247.50" cy="79.20" rx="7" ry="7" transform="rotate(0 247.50 79.20)" fill="#35B6E6" fill-opacity="0.95" filter="url(#fb2)"/>
<ellipse cx="248.00" cy="80.70" rx="5" ry="4.5" transform="rotate(0 248.00 80.70)" fill="#58BF4C" fill-opacity="0.9" filter="url(#fb1)"/>
<ellipse cx="249.50" cy="82.70" rx="2.5" ry="2" transform="rotate(0 249.50 82.70)" fill="#F2E22C" fill-opacity="0.9" filter="url(#fb1)"/>
<ellipse cx="236.50" cy="91.20" rx="7" ry="4.5" transform="rotate(-30 236.50 91.20)" fill="#35B6E6" fill-opacity="1.0" filter="url(#fb1)"/>
<ellipse cx="237.50" cy="91.20" rx="5.5" ry="3.3" transform="rotate(-30 237.50 91.20)" fill="#58BF4C" fill-opacity="1.0" filter="url(#fb1)"/>
<ellipse cx="238.00" cy="91.50" rx="3.8" ry="2.2" transform="rotate(-30 238.00 91.50)" fill="#F2E22C" fill-opacity="1.0" filter="url(#fb1)"/>
<ellipse cx="238.70" cy="91.50" rx="2.0" ry="1.2" transform="rotate(-30 238.70 91.50)" fill="#F59A22" fill-opacity="1" filter="url(#fb0)"/>
<ellipse cx="226.50" cy="94.20" rx="8" ry="2" transform="rotate(-10 226.50 94.20)" fill="#35B6E6" fill-opacity="0.8" filter="url(#fb1)"/>
<ellipse cx="252.50" cy="94.70" rx="6" ry="3" transform="rotate(-15 252.50 94.70)" fill="#35B6E6" fill-opacity="1.0" filter="url(#fb1)"/>
<ellipse cx="253.00" cy="95.20" rx="4.5" ry="2" transform="rotate(-15 253.00 95.20)" fill="#F2E22C" fill-opacity="1.0" filter="url(#fb1)"/>
<ellipse cx="253.50" cy="95.70" rx="2.5" ry="1.2" transform="rotate(-15 253.50 95.70)" fill="#E4241F" fill-opacity="1" filter="url(#fb0)"/>
<path d="M248.1 41.4C249.0 43.0 251.9 47.0 253.5 50.8C255.1 54.5 257.0 60.0 257.9 63.9C258.8 67.8 258.9 70.9 258.7 74.2C258.5 77.5 258.5 81.2 256.8 83.5C255.1 85.8 250.9 87.6 248.5 87.7C246.1 87.8 244.0 86.0 242.5 84.2C241.0 82.5 240.0 80.0 239.5 77.2C239.0 74.4 239.0 71.0 239.3 67.2C239.6 63.4 239.8 58.5 241.3 54.2C242.8 49.9 247.0 43.5 248.1 41.4Z" fill="none" stroke="#3a3a3a" stroke-width="0.8" stroke-linejoin="miter"/>
<path d="M232.7 89.2 L240.5 84.6 L245.7 87.4 L246.4 91.3 L243.1 95.2 L233.3 95.9Z" fill="none" stroke="#3a3a3a" stroke-width="0.8" stroke-linejoin="round"/>
<ellipse cx="252.30" cy="93.20" rx="6.6" ry="3.8" transform="rotate(-22 252.30 93.20)" fill="none" stroke="#3a3a3a" stroke-width="0.8"/>
</g>
<clipPath id="fc290"><rect x="290.0" y="31.2" width="67.60000000000002" height="67.2"/></clipPath>
<g clip-path="url(#fc290)">
<polygon points="296.0,97.2 310.0,94.2 322.0,90.2 324.0,81.2 325.0,69.2 328.0,55.2 333.0,48.2 338.0,57.2 341.0,71.2 341.0,83.2 342.0,91.2 344.0,95.2 296.0,97.8" fill="#2A50BC" fill-opacity="0.6" filter="url(#fb2)"/>
<polygon points="295.0,97.6 305.0,96.0 318.0,94.4 323.0,92.7 325.0,95.2 321.0,97.8" fill="#2A50BC" fill-opacity="0.9" filter="url(#fb0)"/>
<path transform="scale(.5)" d="M667 70h0m14-5h0m2 12h0m-1-5h0m-5 7h0m0-1h0m-3-3h0m-1 0h0m-1 2h0m-4-3h0m3 7h0m1 0h0m2 3h0m1-3h0m2 3h0m1 3h0m8-2h0m-5 4h0m-4 1h0m0 3h0m0-5h0m-1 5h0m-2 1h0m-1-5h0m-1 3h0m-2 3h0m-2-3h0m0 3h0m-6 0h0m0-7h0m-12 12h0m12-4h0m2 1h0m1 4h0m2-1h0m1 0h0m1 1h0m0-1h0m2-3h0m4 3h0m0 1h0m2-2h0m0-1h0m1 5h0m1-7h0m0 2h0m3-1h0m3 8h0m-4 0h0m0-1h0m-1 6h0m0-5h0m-1 4h0m-1 0h0m0 1h0m0-5h0m-1 3h0m0 2h0m-1-2h0m-2 0h0m-2 0h0m0 3h0m0-1h0m-2-3h0m0-1h0m-1-2h0m-2 4h0m0 2h0m-1-1h0m0-1h0m-2-2h0m-1 2h0m-3-2h0m-2-1h0m0 4h0m0-5h0m-2 3h0m-4 2h0m-1-4h0m-5 3h0m-52 10h0m53-6h0m3 5h0m5 1h0m2-3h0m2 4h0m1 0h0m0-1h0m1-2h0m0 3h0m3 0h0m0-5h0m0 4h0m0-1h0m1-2h0m0 2h0m0-5h0m1 0h0m1 1h0m1 3h0m0 3h0m0-1h0m1 0h0m0-1h0m1 0h0m0-5h0m0 4h0m0 3h0m1 0h0m0-1h0m1-1h0m2-1h0m0-2h0m0 4h0m1 0h0m1 1h0m1-7h0m0 3h0m6 3h0m0-1h0m0-1h0m1-1h0m0 4h0m28 8h0m-4-3h0m-18-4h0m-6 1h0m-1 6h0m-2-5h0m-1 4h0m-2 1h0m0-5h0m0-1h0m-1 4h0m-1 0h0m-1-2h0m0-3h0m-2 7h0m0-1h0m0-6h0m-1 1h0m0 3h0m-1-3h0m0 3h0m-1 3h0m0-5h0m0 2h0m-1 2h0m0-1h0m0-5h0m-1 5h0m-1-3h0m0 4h0m-1-5h0m0 6h0m-1-3h0m0-1h0m0 4h0m0-6h0m0 4h0m-1-2h0m-1 3h0m-1-2h0m0-4h0m-1 7h0m-1-1h0m0 1h0m0-5h0m-1 0h0m0 4h0m-1-6h0m0 2h0m-2 2h0m0-1h0m0-3h0m-1 1h0m-2 3h0m-1-4h0m-2 3h0m-3-3h0m-17 5h0m-15-3h0m-7 0h0m33 9h0m0 2h0m4-4h0m6-1h0m1 3h0m1 1h0m0-3h0m1 2h0m1 1h0m2-2h0m0 3h0m1 0h0m0-5h0m1 5h0m0-4h0m1 2h0m0 4h0m0-2h0m1-3h0m0-1h0m0 4h0m0-5h0m1 4h0m0-3h0m1 2h0m0-1h0m0 4h0m1 1h0m1-6h0m0-1h0m0 4h0m1 1h0m0-2h0m1-3h0m0 3h0m1 0h0m0 4h0m0-6h0m0 4h0m0-1h0m1-1h0m0 4h0m0-6h0m0-1h0m1 6h0m1-1h0m1 2h0m0-5h0m1 5h0m1-5h0m0 3h0m2-3h0m0 3h0m1 1h0m0-5h0m1 2h0m0-2h0m1-1h0m0 4h0m1-1h0m0-2h0m2 6h0m0-6h0m1 2h0m0-2h0m1 4h0m0-2h0m7-1h0m1 4h0m1-2h0m-4 5h0m-2 2h0m0 4h0m-4-2h0m-2 2h0m-1-2h0m0 2h0m-1-4h0m0 2h0m-1 0h0m0-5h0m-1 4h0m-1 3h0m0-5h0m0 4h0m0-1h0m-1-4h0m0 4h0m0-1h0m-1 3h0m0-7h0m-1 6h0m0-2h0m-1 1h0m0-1h0m-1 0h0m0-1h0m0-1h0m0-2h0m-1 1h0m-1-1h0m0 3h0m0-1h0m-1 3h0m-1 1h0m0-1h0m0-1h0m0-1h0m-2 3h0m0-1h0m0-5h0m0 3h0m0 4h0m-1-1h0m0-1h0m0-2h0m-1 0h0m0-3h0m-1 6h0m0-2h0m0 3h0m-1-7h0m0 2h0m0 4h0m-1-3h0m0 3h0m-1 0h0m0-2h0m0 3h0m-1-3h0m0 3h0m0-6h0m-2 6h0m0-5h0m0-1h0m0 2h0m-1 1h0m0 2h0m-1-3h0m-3-1h0m-2 5h0m0-7h0m-1 7h0m-2 7h0m5-6h0m1 0h0m2 5h0m0-1h0m1-4h0m0 6h0m1-4h0m1 4h0m0-5h0m1 6h0m0-1h0m1-5h0m1 4h0m0-1h0m0 2h0m1 0h0m0-1h0m1-3h0m0 4h0m1 0h0m0-1h0m0-1h0m0 3h0m1-3h0m1-1h0m0 4h0m0-6h0m1-1h0m0 7h0m0-1h0m0-5h0m1 6h0m0-5h0m0-1h0m0 3h0m1 1h0m0-5h0m0 3h0m0-1h0m1-1h0m0 3h0m0-1h0m1-1h0m0 3h0m0-1h0m1-4h0m0 3h0m0 4h0m1-3h0m1-1h0m0 4h0m0-6h0m0-1h0m1 5h0m0-5h0m0 3h0m0 4h0m0-1h0m1-3h0m0 4h0m0-6h0m0 3h0m1-2h0m0-1h0m0 4h0m1-5h0m0 4h0m0 3h0m1-6h0m0 3h0m1 1h0m0 2h0m1-4h0m3 0h0m2 3h0m1 1h0m2-3h0m2 0h0m21 0h0m-23 11h0m-1-4h0m-1-2h0m-4 2h0m-1-3h0m0 1h0m0 4h0m-1-4h0m-1 5h0m0-4h0m-2 4h0m0-6h0m0 3h0m-1 1h0m0-2h0m-1 1h0m0-1h0m0 4h0m-1-4h0m-1 5h0m0-5h0m-1 1h0m0-1h0m0-2h0m-1 1h0m0 2h0m-1 4h0m-1-6h0m0 4h0m-1-5h0m0 3h0m-1-3h0m0 2h0m-1 5h0m0-6h0m0 4h0m0-5h0m0 3h0m-1-3h0m0 4h0m-2 2h0m-1-4h0m0 4h0m0-5h0m0-1h0m-1 4h0m-1-4h0m0 4h0m0-1h0m-1 1h0m0 1h0m-1-5h0m-2 0h0m0 2h0m0 4h0m-2-6h0m0 6h0m-2-6h0m0 4h0m-1 0h0m-3 1h0m0 9h0m2-3h0m1 2h0m1-3h0m4 0h0m2 4h0m1-3h0m1-1h0m1 1h0m0-3h0m1 7h0m1-6h0m0-1h0m1 0h0m0 4h0m1 1h0m0-5h0m0 7h0m2 0h0m1 0h0m0-1h0m0-1h0m0-5h0m0 4h0m0-1h0m1 0h0m0 4h0m0-1h0m0-1h0m0-1h0m1 2h0m0-1h0m1-2h0m0 3h0m0-6h0m1 2h0m0-1h0m1 3h0m0-2h0m1 0h0m0 4h0m0-1h0m1-5h0m1 2h0m2-1h0m1 0h0m2 5h0m2-2h0m2 3h0m0-6h0m1 0h0m1 3h0m22-1h0m-26 8h0m-4 0h0m0 4h0m-2-7h0m-2 6h0m-1-2h0m-1-1h0m-1 1h0m-2-3h0m0 4h0m-1-5h0m0 2h0m-1 1h0m0-1h0m0 4h0m-1-2h0m-1-4h0m0 3h0m-1 4h0m0-6h0m-2 2h0m-4 4h0m0-3h0m-2-2h0m0-1h0m-1 5h0m-2-3h0m0 4h0m-5-3h0m-7 3h0m-9 0h0m-16 0h0m-31 5h0m0 1h0m3 2h0m5 0h0m2-3h0m1 3h0m2 0h0m1-5h0m1 3h0m0-5h0m1 5h0m2 2h0m1-2h0m0 1h0m1 0h0m2-2h0m3-3h0m1 6h0m0-2h0m0-5h0m3 6h0m2-5h0m1 3h0m1 2h0m1 0h0m5-3h0m0 4h0m3-2h0m2 0h0m0 1h0m2-3h0m0 2h0m1 1h0m1-4h0m0 1h0m3 0h0m2 4h0m5-1h0m0 1h0m1-3h0m2 3h0m5 0h0m2-5h0m3 4h0m3-3h0m1 4h0m1-1h0m3-5h0m1 5h0m1-3h0m3 1h0m1-1h0m3 2h0m0-1h0m5-1h0m3 2h0m5 2h0m1-2h0m4 1h0m0 5h0m-7 3h0m-9-6h0m0 3h0m0 3h0m-3-5h0m-1 4h0m-2-2h0m-1 2h0m-1-1h0m-2-2h0m0 4h0m0-5h0m-1 0h0m0 4h0m-1-2h0m0 2h0m-1-2h0m0 4h0m0-6h0m0 4h0m0-5h0m-1 7h0m-1 0h0m-1-2h0m-2-3h0m-1 5h0m-5-4h0m0 4h0m-1 0h0m-1-3h0m-2 3h0m-1-3h0m-2-1h0m0 2h0m-1 0h0m0-5h0m-1 5h0m0 2h0m-1-5h0m0 3h0m-1 1h0m-2-2h0m0-1h0m0 3h0m-1 0h0m0-1h0m0-5h0m-1 2h0m0 4h0m0-1h0m-1-3h0m0-1h0m-1 2h0m-1 4h0m0-1h0m-1 0h0m-1-2h0m0-1h0m-1 0h0m0-1h0m0-2h0m-1 6h0m0-6h0m0 3h0m-1-2h0m-2 1h0m0-2h0m-1 3h0m-1 0h0m-1-3h0m0 4h0m-1-1h0m0-1h0m0-2h0m-1 2h0m0-1h0m-1 3h0m0-2h0m-1 2h0m-1-3h0m0 1h0m-1 5h0m0-1h0m-1-3h0m0 3h0m0-6h0m0 4h0m-1 0h0m0 3h0m0-5h0m-1-1h0m-2 6h0m-1-4h0m0 3h0m0-2h0m-1 2h0m-1-5h0m-1 3h0m0 3h0m-1-4h0m-1-2h0m0 4h0m-1 2h0m0-3h0m-1 2h0m-1 1h0m0-5h0m0 4h0m-1-1h0m-1-4h0m-1 1h0m-1 3h0m0-1h0m-2 1h0m-1 1h0m0-1h0m-2 2h0m-3-4h0m-3 3h0m-1 0h0m0-1h0m-5-4h0m0 7h0m4 0h0m3 0h0m1 2h0m14 0h0m0-2h0m1 1h0m1 0h0m1 2h0m6 0h0m1-3h0m1 3h0m1-1h0m2 0h0m9 0h0m1-1h0m1 1h0m2-2h0m1 0h0m1 0h0m0 3h0m2 0h0m1-3h0m1 0h0m4 1h0m2 0h0m3 1h0m4 1h0m0-2h0m3 2h0m8-3h0m2 3h0m0-1h0m0-1h0m2 0h0m8-1h0m4 0h0" stroke="#2E56C4" stroke-width="1.7" stroke-linecap="round" stroke-opacity="0.55"/>
<ellipse cx="330.50" cy="74.20" rx="5.5" ry="13" transform="rotate(12 330.50 74.20)" fill="#35B6E6" fill-opacity="0.95" filter="url(#fb2)"/>
<ellipse cx="330.20" cy="75.20" rx="4.0" ry="10" transform="rotate(12 330.20 75.20)" fill="#58BF4C" fill-opacity="0.95" filter="url(#fb1)"/>
<ellipse cx="330.00" cy="76.20" rx="2.6" ry="6.5" transform="rotate(12 330.00 76.20)" fill="#F2E22C" fill-opacity="1.0" filter="url(#fb1)"/>
<ellipse cx="329.90" cy="76.40" rx="1.7" ry="4.2" transform="rotate(12 329.90 76.40)" fill="#F59A22" fill-opacity="1" filter="url(#fb0)"/>
<ellipse cx="329.90" cy="76.50" rx="1.0" ry="2.8" transform="rotate(12 329.90 76.50)" fill="#E4241F" fill-opacity="1" filter="url(#fb0)"/>
<ellipse cx="337.00" cy="94.20" rx="5.5" ry="2.6" transform="rotate(-10 337.00 94.20)" fill="#35B6E6" fill-opacity="1.0" filter="url(#fb1)"/>
<ellipse cx="337.50" cy="94.50" rx="3.5" ry="1.6" transform="rotate(-10 337.50 94.50)" fill="#58BF4C" fill-opacity="1.0" filter="url(#fb1)"/>
<ellipse cx="338.00" cy="94.70" rx="1.8" ry="1" transform="rotate(-10 338.00 94.70)" fill="#F2E22C" fill-opacity="1" filter="url(#fb0)"/>
<path d="M331.6 45.3C332.5 46.6 335.5 50.1 337.0 53.4C338.5 56.7 340.1 61.3 340.8 65.2C341.6 69.1 341.6 73.3 341.5 77.0C341.4 80.7 341.7 85.1 340.3 87.4C338.9 89.7 335.7 90.9 333.1 90.7C330.5 90.5 326.1 88.8 324.6 86.2C323.1 83.6 324.2 78.7 324.2 75.2C324.2 71.7 324.1 68.5 324.5 65.2C324.9 62.0 325.3 59.0 326.5 55.7C327.7 52.4 330.8 47.0 331.6 45.3Z" fill="none" stroke="#3a3a3a" stroke-width="0.8" stroke-linejoin="miter"/>
<ellipse cx="323.30" cy="92.40" rx="6.2" ry="4.2" transform="rotate(-10 323.30 92.40)" fill="none" stroke="#3a3a3a" stroke-width="0.8"/>
<ellipse cx="337.00" cy="93.90" rx="6.6" ry="3.6" transform="rotate(-12 337.00 93.90)" fill="none" stroke="#3a3a3a" stroke-width="0.8"/>
</g>
<rect x="39.30" y="31.20" width="67.30" height="67.20" fill="none" stroke="#777" stroke-width="0.9" />
<rect x="122.90" y="31.20" width="67.40" height="67.20" fill="none" stroke="#777" stroke-width="0.9" />
<rect x="206.50" y="31.20" width="67.50" height="67.20" fill="none" stroke="#777" stroke-width="0.9" />
<rect x="290.00" y="31.20" width="67.60" height="67.20" fill="none" stroke="#777" stroke-width="0.9" />
<rect x="373.30" y="30.90" width="67.60" height="67.60" fill="none" stroke="#222" stroke-width="0.9" />
<ellipse cx="410.8" cy="58.8" rx="12.6" ry="20.6" fill="none" stroke="#222" stroke-width="0.8" transform="rotate(4 410.8 58.8)"/>
<ellipse cx="408.6" cy="89.2" rx="7.4" ry="7.0" fill="none" stroke="#222" stroke-width="0.8"/>
<ellipse cx="427.6" cy="90.4" rx="9.0" ry="6.0" fill="none" stroke="#222" stroke-width="0.8" transform="rotate(-20 427.6 90.4)"/>
<polyline points="411,57.8 445.5,57.8" fill="none" stroke="#222" stroke-width="0.8"/>
<polyline points="409.6,89 427,74.6 445.5,74.6" fill="none" stroke="#222" stroke-width="0.8"/>
<polyline points="428,91 445.5,91" fill="none" stroke="#222" stroke-width="0.8"/>
<text x="447.20" y="59.80" font-size="8.8" text-anchor="start" fill="#222" >Myeloid</text>
<text x="447.20" y="76.90" font-size="8.8" text-anchor="start" fill="#222" >Blasts</text>
<text x="447.20" y="93.00" font-size="8.8" text-anchor="start" fill="#222" >Lymphocytes</text>
<line x1="33.45" y1="34.00" x2="33.45" y2="98.60" stroke="#222" stroke-width="1.0"/>
<polygon points="33.45,31.5 31.3,35.1 35.6,35.1" fill="#111"/>
<line x1="39.50" y1="105.35" x2="438.00" y2="105.35" stroke="#222" stroke-width="1.0"/>
<polygon points="441.2,105.35 436.8,103.0 436.8,107.7" fill="#111"/>
<text transform="translate(27.20,71.90) rotate(-90)" font-size="9.8" text-anchor="middle" fill="#1a1a1a" font-weight="bold" textLength="17.6" lengthAdjust="spacingAndGlyphs">SSC-A</text>
<text x="236.05" y="116.70" font-size="9.4" text-anchor="middle" fill="#1a1a1a" font-weight="bold" textLength="14.7" lengthAdjust="spacingAndGlyphs" >CD45</text>
<text x="18.00" y="129.30" font-size="10" text-anchor="start" fill="#111" font-weight="bold" >B</text>
<path transform="scale(.5)" d="M229 285h0m-4 1h0m0-2h0m0-1h0m-1 4h0m-2-2h0m-4 2h0m-2-1h0m-7 1h0m-22 8h0m5-2h0m2-1h0m2-1h0m1 0h0m0-1h0m1 5h0m3-3h0m0 2h0m0-1h0m1-5h0m0 3h0m2 3h0m1 0h0m1-2h0m3-2h0m1 4h0m1-2h0m0 1h0m1-3h0m1 4h0m0-5h0m0 1h0m1 4h0m1 0h0m1-2h0m0 1h0m0 2h0m1-7h0m0 3h0m1 2h0m0-5h0m3 0h0m0 3h0m0 3h0m1-1h0m1-3h0m0 3h0m1-5h0m0 7h0m1-7h0m0 7h0m1-7h0m1 2h0m4-1h0m0 1h0m0 2h0m0 2h0m1-2h0m2 0h0m2 3h0m2-2h0m1 1h0m2 1h0m3-2h0m2 1h0m0 1h0m8 3h0m-2 3h0m-3 1h0m0-6h0m0 2h0m-1 0h0m-2 5h0m0-2h0m0-1h0m-2 1h0m-1 0h0m0-5h0m0 2h0m0 1h0m-1 1h0m0 2h0m0-4h0m-1 1h0m0-1h0m-2 2h0m-1-4h0m0 1h0m0 3h0m0 3h0m0-1h0m-5 0h0m-1-5h0m-3 0h0m0 2h0m-1 0h0m0 2h0m-2-2h0m0 4h0m-1-2h0m0 2h0m-2-6h0m-2 0h0m0 6h0m-1-3h0m-1-2h0m0 2h0m-1 2h0m0-2h0m-1-4h0m-1 4h0m-1-3h0m0 4h0m0-1h0m-1 2h0m-1-6h0m-1 1h0m0 4h0m-1-3h0m0 3h0m-2-2h0m0 3h0m0-6h0m0 1h0m-1 2h0m-1-1h0m-1 2h0m-1-2h0m-2 3h0m-2-2h0m-2-2h0m-1 3h0m-2-2h0m-3 5h0m-3 0h0m-1-4h0m0 2h0m-1-1h0m-1-4h0m0 2h0m0 2h0m-3-1h0m0 3h0m0-1h0m-2 2h0m0-3h0m-1 1h0m0-3h0m-1 0h0m-1 5h0m-2-3h0m0 3h0m-2-2h0m-3 2h0m-8 7h0m1 0h0m4 0h0m1 1h0m1-5h0m3 0h0m0 1h0m1 4h0m0-7h0m1 0h0m1 6h0m0-5h0m0 2h0m1 4h0m0-1h0m0-5h0m1-1h0m1 1h0m1 4h0m0 2h0m1 0h0m1-5h0m0 2h0m0-1h0m2-1h0m0 3h0m1-3h0m1-1h0m0-1h0m2 6h0m3-1h0m0-4h0m0 2h0m1-2h0m1 6h0m0-6h0m1 6h0m0-3h0m0 2h0m1-2h0m1-4h0m1 0h0m3 1h0m0 6h0m1-5h0m0 4h0m2-3h0m1 1h0m0 1h0m1 1h0m7-1h0m1-2h0m2 0h0m1-2h0m0 2h0m0 2h0m1-5h0m0 7h0m1-3h0m0-1h0m1 2h0m1-4h0m2 0h0m1 1h0m1 3h0m1-2h0m0-3h0m1 7h0m3-5h0m1 4h0m0-6h0m0 2h0m2-1h0m0-1h0m2 0h0m0 5h0m6-4h0m2 1h0m0 4h0m0-1h0m2 1h0m0 1h0m2-5h0m0 2h0m0-1h0m0 4h0m1-7h0m0 4h0m0 2h0m2-2h0m0 1h0m0 1h0m2-4h0m0 5h0m2-2h0m1 0h0m0 2h0m0-1h0m0-2h0m0-1h0m1 4h0m1-1h0m3-1h0m1 2h0m5-2h0m1 2h0m3 4h0m-1 1h0m-2-1h0m-1 0h0m-1 0h0m-2 2h0m0-1h0m0 2h0m-1-4h0m0 5h0m-2-3h0m0 3h0m-1-5h0m-1 5h0m0-2h0m-3-3h0m-1 3h0m-1 2h0m-1-2h0m0 1h0m-1-2h0m0 2h0m0-1h0m0-4h0m-1 4h0m0-1h0m-1-1h0m0 1h0m0 2h0m-1-6h0m0 7h0m-1-4h0m0 2h0m0 1h0m-3-4h0m-1 3h0m0 1h0m-1-4h0m-1 3h0m-1-4h0m0 1h0m-1 4h0m0-4h0m-1 3h0m-1-1h0m0 1h0m-1 1h0m-5-5h0m0 4h0m-6-3h0m0 2h0m-2 3h0m-1 0h0m-2-2h0m0-3h0m-3 4h0m-1-1h0m0 2h0m-2-4h0m-1 2h0m-3-5h0m-2 1h0m0 5h0m-2-6h0m-1 4h0m-1-4h0m-1 4h0m-1-4h0m0 2h0m-3 5h0m-1-2h0m0-5h0m-2 3h0m-1-1h0m-1-2h0m0 2h0m0 2h0m0 3h0m-1-6h0m0 1h0m-1-1h0m-3 6h0m0-4h0m0-1h0m-1 2h0m-2-4h0m0 5h0m0 1h0m-2-4h0m-3-1h0m0 6h0m-4-3h0m-1 2h0m-2-5h0m-1 0h0m-1 4h0m-1-2h0m-1 4h0m-1-5h0m-1 5h0m-1-3h0m-3 0h0m0 3h0m-1-6h0m0 6h0m-2 0h0m-2-5h0m-4 4h0m0-1h0m0 2h0m-2-1h0m-3 2h0m1 2h0m1-2h0m1 3h0m0-1h0m0 3h0m1 2h0m1-2h0m1 1h0m1-6h0m0 6h0m1-3h0m0 2h0m0 1h0m1-1h0m1-5h0m1 6h0m1-1h0m0-1h0m0-4h0m1 4h0m1 1h0m0-1h0m0 3h0m1-5h0m0 2h0m1 2h0m0-1h0m1-3h0m2 3h0m1-1h0m1 2h0m1-4h0m5 3h0m0-4h0m1 3h0m2-2h0m0 5h0m0-7h0m1 1h0m0 2h0m1 0h0m1-3h0m0 1h0m2 1h0m0 3h0m1 0h0m0 1h0m0-4h0m1 0h0m0 3h0m0 1h0m1-6h0m1 1h0m0 6h0m0-1h0m1-2h0m1-2h0m1 1h0m0-3h0m2 1h0m0 2h0m0-1h0m1 0h0m0-2h0m2 1h0m1 5h0m1-1h0m0-1h0m1 3h0m1-7h0m2 6h0m1-2h0m1-1h0m1 3h0m1-3h0m0 3h0m3 1h0m0-5h0m1 5h0m2-7h0m1 6h0m1 1h0m0-7h0m0 1h0m1 4h0m1 0h0m0 2h0m3-3h0m0 3h0m1-5h0m1 3h0m1-1h0m2 1h0m0-1h0m1-4h0m0 3h0m1-2h0m0 4h0m1 1h0m1-2h0m1-1h0m3 0h0m0 1h0m1 0h0m0 2h0m1 1h0m1 0h0m5-4h0m0 2h0m1 2h0m2-2h0m2 1h0m1 1h0m0-7h0m2 0h0m1 1h0m1-1h0m0 4h0m1-1h0m0 3h0m1 0h0m2 1h0m1-2h0m1-1h0m0 1h0m2-5h0m0 5h0m1 1h0m2-2h0m0 3h0m1-4h0m0 4h0m1-4h0m0 2h0m1-2h0m1 2h0m0-4h0m1 10h0m-2 2h0m-1 1h0m0-3h0m-2 2h0m-2 1h0m0 1h0m-1 0h0m-1-2h0m-1-4h0m0-1h0m0 2h0m0 5h0m-3-5h0m-1 4h0m-1 1h0m-1 0h0m-1-7h0m0 6h0m0-1h0m-2-5h0m-1 7h0m-1-6h0m0-1h0m0 2h0m-1 2h0m0-1h0m-2-1h0m-1 1h0m0-2h0m-1 2h0m0 3h0m-1-6h0m-1 0h0m0 6h0m-1-5h0m-1 0h0m0 2h0m-1 0h0m-1-1h0m0 2h0m-1 0h0m-4 2h0m-1-6h0m0 5h0m-1 1h0m-3 0h0m0-5h0m-2 3h0m0 3h0m-1-7h0m-2 4h0m0 2h0m-1-2h0m-1-2h0m0 2h0m-1-2h0m-1-2h0m0 6h0m-4 0h0m-5-2h0m-1 3h0m-1 0h0m-1-4h0m0 4h0m-1-7h0m0 2h0m0-1h0m0 5h0m-1 1h0m0-6h0m-1 0h0m0 3h0m0-1h0m0 2h0m0 2h0m-1 0h0m-1 0h0m0-6h0m0 4h0m-1-5h0m0 2h0m-1 4h0m0-6h0m-1 6h0m-2-4h0m-1 1h0m0 2h0m-1 1h0m0-5h0m-1 5h0m-1-5h0m-1 4h0m-2-5h0m0 2h0m0 4h0m0-1h0m-1-1h0m0-1h0m-2-1h0m0 2h0m0-1h0m0 2h0m-1 2h0m0-1h0m-1-4h0m0 3h0m-1-5h0m0 2h0m-1-2h0m0 3h0m0 2h0m-1 1h0m0-5h0m0 3h0m0-1h0m-1 3h0m0-1h0m0 2h0m-1-2h0m0-4h0m-1 2h0m0 3h0m-2-6h0m-3 2h0m0 2h0m-2-2h0m0 2h0m-3-3h0m-2 5h0m0-2h0m-1-3h0m0 4h0m-2-2h0m0-3h0m0 2h0m-1 3h0m0-3h0m-1 1h0m0-1h0m0-1h0m0 3h0m-1 0h0m0 3h0m0-5h0m-1 2h0m0-1h0m-1 4h0m-1-7h0m0 4h0m0 1h0m-1 2h0m-1-5h0m0 1h0m0 3h0m-5-5h0m0 3h0m-1 1h0m0-5h0m0 3h0m-3-2h0m-2 4h0m-1-2h0m-2 3h0m-2 7h0m4-1h0m1 0h0m0 1h0m1-5h0m0 2h0m1 3h0m1 2h0m2-6h0m1 4h0m1-5h0m2 4h0m0 2h0m2-2h0m1 2h0m0-6h0m1 3h0m2-2h0m1-1h0m0 2h0m1-2h0m0 2h0m1 4h0m0-1h0m5 2h0m1-4h0m4 3h0m1-4h0m2 5h0m0-6h0m1 3h0m0-4h0m1 1h0m2 4h0m1-2h0m1-3h0m0 3h0m0 3h0m1-3h0m1 1h0m1-3h0m0 2h0m1 2h0m1-3h0m1-1h0m0-1h0m1 0h0m1 2h0m1 1h0m0 1h0m2-2h0m1-2h0m2 5h0m1-2h0m2 1h0m0 3h0m1-7h0m0 3h0m1-3h0m0 6h0m1-6h0m0 3h0m0-1h0m0 3h0m0-1h0m1-2h0m0 3h0m0 2h0m1-3h0m0-3h0m0-1h0m1 5h0m0 2h0m0-7h0m1 3h0m2 2h0m0 2h0m0-6h0m0 3h0m1 0h0m1 0h0m1-3h0m2 0h0m0-1h0m3 3h0m0 1h0m0 3h0m1-7h0m1 2h0m0 4h0m1-5h0m0 6h0m0-7h0m2 0h0m1 2h0m0 2h0m2-1h0m1-3h0m0 1h0m1 6h0m1-2h0m1 1h0m0-3h0m0 2h0m1 2h0m0-3h0m2 1h0m3-3h0m1 5h0m1-1h0m1 0h0m2-3h0m1-1h0m1-1h0m1 4h0m0 1h0m3-2h0m1-2h0m0 4h0m1-6h0m0 1h0m0 2h0m1 3h0m1-5h0m0 1h0m0 4h0m1-6h0m0 6h0m1-2h0m1-1h0m0 2h0m1-3h0m1 2h0m0-4h0m1 1h0m0 2h0m0 1h0m0 2h0m1 0h0m1-3h0m0 2h0m1 1h0m0-3h0m2-2h0m1-1h0m0 1h0m2-1h0m0 1h0m1 4h0m1-3h0m0 2h0m1-1h0m0 2h0m2 1h0m1-2h0m-2 11h0m-2-6h0m-1-1h0m0 4h0m-3 3h0m-1-6h0m-1 0h0m0 3h0m-1-1h0m-3 1h0m-2-2h0m-1-1h0m-3 6h0m-1-1h0m-1 0h0m-1-3h0m0 2h0m-1-1h0m-2-4h0m-1 7h0m0-7h0m-1 3h0m0 3h0m-1 1h0m0-4h0m-3 4h0m0-1h0m0-1h0m-1 0h0m0 2h0m-1-4h0m0 3h0m0-6h0m-2 1h0m0 4h0m0-5h0m0 2h0m-1 2h0m-1-2h0m0-1h0m0 5h0m-1-5h0m0 2h0m0 3h0m-2-2h0m0 3h0m-1-4h0m0 4h0m-1 0h0m0-6h0m0 2h0m-1-1h0m0 1h0m0 4h0m-1-2h0m0 1h0m0-6h0m-1 5h0m-1 1h0m-1-6h0m0 1h0m-2 3h0m0 3h0m0-7h0m-1 5h0m-1-2h0m-3-3h0m0 6h0m-2-6h0m-1 5h0m0-1h0m0 2h0m-1 0h0m-1 1h0m-1-5h0m0 3h0m-2-4h0m-3 0h0m0 3h0m0-2h0m-1 0h0m-1-1h0m-1 0h0m-3 2h0m-3-3h0m0 1h0m-1 1h0m-2 0h0m-1-2h0m-3 7h0m0-1h0m-1-5h0m0 6h0m-1-3h0m0 2h0m-1-4h0m0 5h0m-1-4h0m0 1h0m0 3h0m-2-4h0m-1-2h0m0 3h0m0 3h0m0-7h0m-1 0h0m0 6h0m-1-4h0m0 2h0m-2-4h0m-1 3h0m0 1h0m-2-4h0m0 4h0m-1-3h0m-1 4h0m0-5h0m-1 6h0m-1-2h0m0 2h0m-1-1h0m-1-3h0m0 2h0m-2 0h0m-1 3h0m-1-3h0m0 3h0m0-7h0m-1 4h0m-1-3h0m0 3h0m0 2h0m-1-6h0m0 2h0m-2 2h0m0-4h0m-1 1h0m0 4h0m0 2h0m-1-5h0m-2 0h0m-1 1h0m0 3h0m-1-5h0m-1 6h0m-1-6h0m-1 2h0m-1 0h0m0 4h0m-1-5h0m-3 2h0m-1 2h0m0-4h0m0 5h0m-2-6h0m-2 6h0m-1-2h0m-3-3h0m3 9h0m1 2h0m0 2h0m0-4h0m2 3h0m1-1h0m2-4h0m0-1h0m0 2h0m1 1h0m0 2h0m0 1h0m0-6h0m1 3h0m1-2h0m0 2h0m2-1h0m0 3h0m1-1h0m2 1h0m2 2h0m0-6h0m0 1h0m3 0h0m1 5h0m3-6h0m2 0h0m1 4h0m1 1h0m1-2h0m0-1h0m1-1h0m3 1h0m0 2h0m3-5h0m1 3h0m1-1h0m2 5h0m1-6h0m1 1h0m0 4h0m2-3h0m0 3h0m0 1h0m1-2h0m0 2h0m1-2h0m0-5h0m1 4h0m0 2h0m0-3h0m1 0h0m0 3h0m1-3h0m0-1h0m1 2h0m1 3h0m1-2h0m1 1h0m1-2h0m0-1h0m2-3h0m0 3h0m1-1h0m0 3h0m1-1h0m1-2h0m1 2h0m1-2h0m0-1h0m2-1h0m1 7h0m0-7h0m2 5h0m0-5h0m2 0h0m1 2h0m3 1h0m1-2h0m0 3h0m2 0h0m0 2h0m2-2h0m1 1h0m1 1h0m0-6h0m3 1h0m0 2h0m0-1h0m1-1h0m0 1h0m0 2h0m0-1h0m1 2h0m2-4h0m0-1h0m0 2h0m1-2h0m0 3h0m0 1h0m1-4h0m0 3h0m0 1h0m0 1h0m0 2h0m1-6h0m0-1h0m0 4h0m0 1h0m1-3h0m0 2h0m0 1h0m1-5h0m0 6h0m1-5h0m0 3h0m0 2h0m0-1h0m1 0h0m0 2h0m0-6h0m1-1h0m0 3h0m0-1h0m1 4h0m0 1h0m0-6h0m0-1h0m1 6h0m0-2h0m1 0h0m0 2h0m0-5h0m1 5h0m1-5h0m0 2h0m3-1h0m0 4h0m1-1h0m1-3h0m1-1h0m1 4h0m1-1h0m0 1h0m0-5h0m2 4h0m0 3h0m2-4h0m0 2h0m1 0h0m0-2h0m3-1h0m2 5h0m0-1h0m3-3h0m1 2h0m1-5h0m0 3h0m0-1h0m1 4h0m1 0h0m0-5h0m1 2h0m0 1h0m1-2h0m1 4h0m1-4h0m1 5h0m-9 3h0m0-1h0m0 2h0m-1-3h0m-1 7h0m-2-3h0m-1 3h0m-1-5h0m-1 2h0m-1-3h0m-1 6h0m0-6h0m-1 1h0m0 1h0m-1 3h0m0-4h0m0 3h0m-1-1h0m0-4h0m0 1h0m-1 5h0m0-3h0m-1 2h0m-3 2h0m0-7h0m-1 3h0m-2-1h0m0 2h0m-1-1h0m0 2h0m-1-5h0m0 5h0m-1 2h0m0-1h0m0-4h0m-1-2h0m0 1h0m0 1h0m0 3h0m-1-3h0m0 3h0m0 2h0m-1-1h0m-1-2h0m0-1h0m0 2h0m-1 1h0m0-6h0m0 1h0m-1 4h0m0-1h0m0-4h0m0 1h0m0 2h0m-2-2h0m0 3h0m-1 0h0m0 2h0m0-4h0m-1 0h0m0-2h0m-1 1h0m0 5h0m-1-1h0m0 1h0m-1-6h0m0 1h0m0 3h0m-2-4h0m0 2h0m0 4h0m-1-6h0m0 6h0m-3-6h0m-1 5h0m-1 0h0m-2-1h0m-1-3h0m0 4h0m0-5h0m0 2h0m-1 3h0m-1 0h0m-1 1h0m0-6h0m-2 6h0m-1-6h0m0 5h0m0 2h0m-1-2h0m-1-3h0m0 5h0m-1-3h0m-4-2h0m-1-1h0m-2 0h0m0 2h0m-1 1h0m0-4h0m-4 5h0m-1-2h0m-1 2h0m0 2h0m-2-4h0m0 2h0m0 1h0m-1 1h0m0-1h0m0-4h0m0-1h0m-1-1h0m0 3h0m0 1h0m0 2h0m-1 0h0m0 1h0m-1-3h0m0-1h0m-1 4h0m0-3h0m-2 0h0m0 1h0m-1 0h0m0-5h0m-1 3h0m-1 0h0m-1-2h0m0-1h0m0 7h0m-1-7h0m0 3h0m-1 4h0m-1 0h0m-1 0h0m-2-1h0m-2-4h0m-1 2h0m0 3h0m0-4h0m-1 4h0m0-2h0m-1 1h0m-1 0h0m-2-5h0m-1 4h0m-2-2h0m0 3h0m0-5h0m-1 6h0m0-7h0m-1 7h0m0-6h0m-1 3h0m-1 0h0m-1-3h0m0 1h0m0 2h0m-1 2h0m0-3h0m-2 0h0m-1 3h0m-1 0h0m-1-4h0m-1 2h0m-1-2h0m-1 2h0m-2 0h0m-1-4h0m0 7h0m-1-4h0m0 1h0m-1 2h0m-1 1h0m0-6h0m-1 0h0m0-1h0m-2 3h0m-1 2h0m-2 8h0m1-2h0m2 0h0m0 2h0m1 0h0m0 1h0m2-3h0m1 0h0m1 1h0m0 1h0m1 2h0m1-1h0m0-4h0m1 2h0m2 3h0m1-6h0m0 2h0m1 3h0m1-6h0m0 1h0m0 4h0m1-5h0m0 4h0m1-3h0m0 1h0m0-2h0m1 0h0m0 3h0m1 3h0m2-2h0m2-4h0m2 5h0m0-1h0m0-2h0m1 1h0m0 2h0m0 2h0m1 0h0m1 0h0m1-6h0m0 5h0m2-3h0m1-3h0m0 4h0m0 2h0m1 1h0m1-4h0m0 4h0m0-1h0m1-6h0m2 1h0m0 2h0m1-1h0m0 2h0m2 1h0m1-1h0m0-4h0m1 3h0m0-2h0m0 3h0m1-4h0m0 1h0m0 4h0m1 0h0m0-4h0m1 0h0m2 1h0m2 0h0m0 2h0m0-1h0m0 2h0m0 2h0m1 0h0m1-4h0m2-1h0m0-1h0m0 6h0m0-1h0m1-3h0m1 3h0m1-3h0m0 4h0m1-7h0m1 5h0m1 0h0m1 0h0m0-1h0m0 2h0m3 0h0m0 1h0m1-4h0m2 4h0m1-7h0m1 1h0m0 4h0m1-4h0m0 2h0m0 3h0m0-6h0m1 5h0m0-5h0m2 0h0m0 2h0m2 0h0m1 3h0m1 0h0m5-2h0m3-1h0m3 3h0m1 1h0m1-4h0m0 2h0m1-1h0m2 1h0m0-2h0m2 3h0m0-3h0m0 2h0m1 3h0m2-7h0m0 1h0m0 3h0m1 0h0m1-3h0m0 3h0m1 3h0m1-4h0m1 1h0m0 2h0m0-1h0m1 2h0m2-4h0m2-3h0m2 1h0m4 5h0m1-5h0m0-1h0m1 2h0m0 3h0m1 0h0m3-3h0m1 0h0m-15 6h0m-14 2h0m-4 0h0m-2-1h0m-6 1h0m-2 3h0m-2-2h0m-2-2h0m-1-1h0m-2 5h0m-1 0h0m-1-5h0m-2 4h0m-1-4h0m0 5h0m-1-4h0m0 3h0m0 2h0m-2-4h0m0 1h0m0 3h0m0-5h0m-1-1h0m0 2h0m0 3h0m-2 1h0m-1-5h0m0 1h0m-1 3h0m-1 1h0m0-4h0m-1-1h0m0-1h0m0 2h0m-1-1h0m-2 0h0m-3 3h0m-2-4h0m0 2h0m-1-1h0m0 1h0m0 5h0m-1-2h0m-1 2h0m0-6h0m-2 1h0m-1 1h0m-3 4h0m-1-3h0m0-3h0m0 1h0m-1 1h0m0 4h0m0-6h0m-1 5h0m-1-2h0m0 3h0m0-7h0m-1 2h0m0 3h0m0 2h0m-1-5h0m0-1h0m-1 1h0m0-1h0m0-1h0m-1 6h0m0-1h0m0 2h0m-1-5h0m0 2h0m-1-2h0m-1 0h0m0 4h0m-1-4h0m0 1h0m-1 4h0m0-5h0m0 4h0m0-1h0m-1 1h0m-2-6h0m0 4h0m-2-4h0m0 2h0m-2 2h0m-2-3h0m0 2h0m-1-3h0m-2 0h0m-1 0h0m0 2h0m0 4h0m-2 0h0m-1 1h0m0-4h0m-1 4h0m0-7h0m-1 6h0m-1-3h0m0-2h0m-2 3h0m0-3h0m-1 0h0m-1 1h0m0 4h0m-1-4h0m6 8h0m3 1h0m1 0h0m0 2h0m3-4h0m0 4h0m0 2h0m2 0h0m1 0h0m1-1h0m0-3h0m1 1h0m0 3h0m1-5h0m1 4h0m1-4h0m1-2h0m1 5h0m2-5h0m1 2h0m2 3h0m0-2h0m1 2h0m1-2h0m0-1h0m0 3h0m1-1h0m1-2h0m0 2h0m0 3h0m1-1h0m0-1h0m1-5h0m1 1h0m0 1h0m1 2h0m1 0h0m2 2h0m0-4h0m0 3h0m1 1h0m0-6h0m5 3h0m1-3h0m1 5h0m0-2h0m3 3h0m0-5h0m0 2h0m0-1h0m1 0h0m0 2h0m1-4h0m2 2h0m1-1h0m5 1h0m1-1h0m1 0h0m1 0h0m1 4h0m1-5h0m-6 8h0m-8 0h0m-2 0h0m-2 2h0" stroke="#1FA386" stroke-width="1.9" stroke-linecap="round"/>
<path transform="scale(.5)" d="M361 415h0m-3 0h0m0-1h0m-1 1h0m0-1h0m-1 0h0m-1 0h0m-1 1h0m-3-3h0m0 3h0m-1-1h0m-2 1h0m-21 7h0m1-4h0m0 4h0m0-5h0m1 5h0m0-5h0m0 2h0m1-2h0m0 4h0m1-1h0m1 0h0m0-2h0m1 3h0m1 0h0m0-1h0m0 2h0m1-2h0m1 3h0m0-1h0m1-5h0m3 2h0m1-1h0m1-1h0m1 4h0m0-2h0m2-3h0m1 5h0m2 1h0m0-1h0m2 2h0m0-7h0m1 4h0m1 0h0m1 0h0m0-1h0m0-1h0m1 4h0m0-2h0m1-2h0m0 4h0m0-5h0m0 4h0m1-4h0m0-1h0m0 4h0m0 2h0m1 0h0m0-1h0m0-5h0m1 4h0m0-1h0m0-1h0m0-1h0m1 5h0m1-4h0m0-1h0m0-1h0m0 3h0m1 0h0m0 4h0m0-5h0m0 4h0m0-1h0m1-5h0m12 6h0m5 1h0m-1 3h0m-1 2h0m-2 2h0m-1-6h0m0 4h0m0 3h0m0-6h0m-1 3h0m-1 1h0m0-1h0m-6-4h0m0 7h0m-4-3h0m-2-4h0m-1 7h0m0-5h0m0 4h0m0-6h0m-3 6h0m0 1h0m-1-6h0m0-1h0m0 4h0m0-2h0m-1 1h0m0 2h0m0-5h0m-1 0h0m-1 6h0m-1-3h0m-3 4h0m-1-5h0m-2 3h0m-1-1h0m0 3h0m0-1h0m-1-3h0m-1-2h0m0 4h0m-1 2h0m-2-2h0m0 2h0m-1-4h0m0 4h0m0-5h0m0-2h0m0 4h0m-1-3h0m0 4h0m0-2h0m-1-3h0m0 3h0m0 3h0m0-5h0m-1 5h0m0-6h0m-1 1h0m0-1h0m0 4h0m0 3h0m-1-4h0m0 3h0m-1-3h0m0 4h0m0-5h0m0 3h0m0-1h0m-2 0h0m0 2h0m-1-1h0m-1-5h0m0 7h0m-1-1h0m0-5h0m0 3h0m-2-2h0m0 4h0m1 6h0m1 0h0m0-1h0m4 0h0m2 0h0m1-2h0m1 2h0m0-1h0m1 4h0m0-3h0m4-3h0m2 4h0m1 1h0m1 0h0m1 0h0m1-5h0m0 2h0m1 4h0m5-4h0m0-1h0m1 5h0m0-1h0m0-2h0m0 4h0m1-3h0m0-2h0m0 3h0m1 0h0m1-5h0m1 2h0m0-1h0m0 4h0m1-5h0m0 4h0m0-1h0m0 4h0m1-7h0m1 7h0m0-1h0m1-1h0m0-5h0m0 4h0m1 0h0m0 3h0m0-5h0m0-1h0m0-1h0m1 2h0m0-2h0m0 4h0m0 3h0m2-7h0m1 5h0m0 2h0m1-6h0m0 4h0m2-3h0m0-2h0m0 3h0m2 1h0m0-2h0m0 4h0m1-5h0m0-1h0m0 3h0m1 3h0m1 0h0m0 1h0m1-4h0m0-2h0m0-1h0m1 0h0m0 3h0m0 4h0m1-7h0m0 3h0m0-1h0m1 1h0m0 2h0m1-5h0m0 2h0m2 5h0m0-1h0m1-5h0m0 4h0m1 2h0m1 0h0m1-3h0m1 3h0m1-3h0m1 0h0m0-1h0m1 4h0m1-1h0m7 5h0m0 4h0m0-1h0m-1 0h0m0-6h0m-1 1h0m-2 1h0m0 2h0m-1-2h0m0 4h0m-1-4h0m0-2h0m0 4h0m-1 2h0m0-5h0m-1-1h0m0 3h0m-1 0h0m0 2h0m0-5h0m0 4h0m-1-3h0m0 3h0m0-1h0m0 3h0m-1 1h0m0-1h0m0-5h0m0 4h0m-1 1h0m-1-1h0m-1 2h0m0-6h0m-1 5h0m0-5h0m0 4h0m0-1h0m-1-2h0m-1 5h0m0-1h0m0-1h0m0-1h0m-1 3h0m0-5h0m-2 5h0m-1-3h0m-4 0h0m-1-3h0m0 3h0m-1-4h0m-1 3h0m0-2h0m-1 6h0m-2-2h0m-2-2h0m-2 3h0m-1-3h0m0 3h0m0-6h0m-1 5h0m0 1h0m-1-6h0m-1 3h0m0-2h0m-1 0h0m0-1h0m0 3h0m-1 0h0m0-1h0m-1 4h0m0-6h0m-1 1h0m0-1h0m0 3h0m-1 0h0m-1 3h0m0-3h0m-1-2h0m0 4h0m0-5h0m-1 4h0m0-2h0m0 3h0m-1 2h0m-1-5h0m-1-1h0m-3 6h0m0-5h0m-1-1h0m0 3h0m0 3h0m-1 0h0m0-3h0m-1 2h0m0-6h0m0 7h0m0-5h0m-1 1h0m0 3h0m-2 0h0m0-1h0m0-5h0m-1 7h0m-2-6h0m0 2h0m0-1h0m-1 1h0m0 3h0m-1 1h0m0-3h0m-1-3h0m-1 6h0m-1-2h0m-1-2h0m0 4h0m0-6h0m-1 5h0m0-5h0m0 4h0m0-1h0m-4 2h0m4 4h0m1-1h0m0 2h0m0-1h0m2-2h0m0 6h0m2-3h0m0 2h0m1-1h0m1 0h0m1 2h0m1-1h0m2-5h0m0 4h0m0 3h0m0-5h0m0-1h0m1 4h0m0 2h0m1 0h0m1-1h0m2-4h0m1-1h0m2 2h0m1 3h0m1-4h0m0 4h0m0-1h0m1-1h0m0 3h0m0-6h0m1 0h0m0-1h0m0 4h0m1 2h0m0-5h0m1-1h0m1 7h0m1-4h0m1-3h0m0 2h0m2-2h0m1 5h0m0-2h0m1-1h0m0-2h0m1 2h0m1 4h0m2-5h0m1 5h0m0-1h0m0-2h0m1 1h0m0-2h0m1 3h0m0-2h0m1 3h0m2-3h0m1 2h0m1-3h0m3 5h0m1-7h0m1 3h0m0-1h0m0-1h0m1-1h0m0 4h0m0-1h0m2-2h0m1 1h0m1 5h0m1-2h0m0-5h0m1 0h0m1 0h0m0 2h0m1 4h0m3-4h0m0-1h0m1-1h0m2 3h0m1-2h0m0 4h0m1-2h0m0 3h0m1-2h0m0-1h0m2-3h0m0 4h0m1-2h0m0 4h0m0-5h0m1 3h0m0-1h0m0 3h0m1 1h0m0-6h0m1 0h0m1 1h0m0 4h0m2-1h0m0 3h0m-4 7h0m-1-1h0m-1 1h0m0-5h0m-1-1h0m-2 2h0m-1 1h0m-2 1h0m0-1h0m-1 2h0m-1 1h0m-1-4h0m0 4h0m-1-6h0m0 4h0m-1 0h0m0-1h0m-1 2h0m0-5h0m-3 4h0m0-1h0m-2 1h0m-1-1h0m-2 3h0m-3-4h0m0 4h0m-1 0h0m-2-1h0m-1 1h0m-2-6h0m0 1h0m-1 1h0m0-1h0m-4-1h0m-2 5h0m-1 0h0m-1 0h0m-1-4h0m-2 0h0m-1 3h0m-2-3h0m-2 2h0m0-1h0m0-1h0m-2 2h0m0 3h0m-1-2h0m-2 1h0m0-5h0m-1 4h0m-1-1h0m0 3h0m-1-7h0m-2 4h0m-1-3h0m0 4h0m-1 2h0m0-5h0m0-2h0m0 3h0m-1-2h0m0-1h0m0 7h0m-1-7h0m-1 5h0m-1-3h0m-1 1h0m0-3h0m-6 4h0m-1-4h0m3 11h0m0-3h0m1 4h0m0-3h0m2 6h0m0-1h0m1-1h0m3-3h0m1 4h0m2-5h0m0 5h0m1-4h0m0 3h0m0-1h0m1-3h0m0 3h0m1-4h0m0 7h0m1-5h0m0-2h0m1 1h0m0 4h0m0-1h0m0-1h0m0-1h0m1 3h0m0-1h0m1-2h0m0 4h0m0-1h0m0-5h0m1 5h0m0-1h0m0-2h0m0 4h0m1-6h0m1 3h0m0 4h0m0-1h0m1-5h0m0 4h0m1-2h0m0-2h0m1 2h0m1 2h0m2-4h0m0 5h0m2-5h0m0 4h0m3-5h0m0 6h0m1 1h0m1 0h0m2 0h0m0-1h0m2-4h0m3 2h0m1 2h0m0-5h0m1 4h0m3-4h0m0 1h0m1 4h0m2 1h0m0-6h0m1 1h0m1 2h0m1-2h0m1 5h0m0-1h0m0-6h0m3 3h0m0-2h0m0-1h0m1 4h0m0-1h0m1 4h0m0-3h0m3-1h0m0 1h0m6 1h0m0-5h0m4 3h0m3-2h0m-3 12h0m-1 0h0m-1-1h0m0-3h0m-1 0h0m0 4h0m-1-1h0m-1-2h0m-1 1h0m-1 2h0m-1 0h0m-1-3h0m-1 2h0m0-3h0m-1 1h0m0 2h0m-2-1h0m0-2h0m-1 1h0m0 3h0m0-1h0m-1-4h0m-1 7h0m0-6h0m-3 5h0m0-3h0m-1-1h0m-2 4h0m0-3h0m-2-1h0m-1-2h0m-1 1h0m-3 3h0m0 3h0m-1-3h0m-2-1h0m-1 2h0m-1-5h0m0 7h0m-1-2h0m-3-3h0m-2 1h0m0 4h0m0-5h0m-3 2h0m-3 2h0m0-5h0m0 3h0m-4-3h0m-1-1h0m0 3h0m-3-3h0m-4 5h0m0-1h0m-2-3h0m-2 5h0m-2-3h0m-1-2h0m-2 0h0m-1 2h0m1 5h0m2 3h0m2 3h0m1-5h0m1 0h0m4 1h0m1 2h0m2 1h0m0-3h0m2 0h0m2 3h0m0-5h0m2 0h0m0 2h0m1-2h0m1 0h0m0 3h0m0 3h0m1-6h0m2 7h0m1-2h0m1-2h0m0 4h0m0-3h0m1-3h0m0 1h0m1 0h0m1 5h0m0-7h0m1 5h0m0-1h0m1-2h0m0-1h0m1 4h0m0-5h0m1 3h0m0-1h0m2-1h0m0 4h0m0-2h0m1-2h0m6 3h0m0-1h0m0-2h0m1 2h0m0-2h0m1 0h0m1 0h0m0 3h0m1-4h0m0 3h0m1-1h0m0 2h0m1-4h0m1 1h0m0 1h0m4 3h0m1 2h0m2-7h0m1 5h0m0-3h0m1 4h0m0-1h0m1-3h0m1-2h0m1 6h0m1-5h0m0 4h0m2-3h0m1 3h0m0-2h0m1-2h0m1 2h0m0 3h0m0-1h0m1-4h0m0 3h0m0-1h0m0-1h0m1 1h0m6 7h0m-5-2h0m-1 2h0m-1 1h0m-1-3h0m-1 0h0m-1 1h0m-1-1h0m0 4h0m0-2h0m-1-1h0m-1 0h0m0-1h0m-3 2h0m-1 4h0m-1-3h0m-1 2h0m0 1h0m-2-1h0m-1 0h0m0-5h0m0 6h0m-1-1h0m0-1h0m0-1h0m-1 1h0m-3 1h0m0-5h0m-3 7h0m-1-3h0m-3 1h0m-1-2h0m0 3h0m-2-1h0m-1-3h0m-2 2h0m-1-2h0m-1 1h0m0 4h0m0-6h0m0 4h0m-1-1h0m0-1h0m0 4h0m-1-6h0m-1 6h0m0-5h0m0-1h0m0-1h0m0 3h0m-1 1h0m0-3h0m-1-1h0m-2 7h0m0-1h0m-1-2h0m-2 0h0m0-3h0m-1 5h0m-2-1h0m0-4h0m-2 6h0m-1-7h0m-1 3h0m-1 4h0m-3 0h0m-1-2h0m-2-4h0m-1 4h0m-3 1h0m-2-1h0m0-1h0m2 11h0m1-4h0m0-1h0m4 5h0m1-5h0m1 3h0m0-1h0m1-4h0m3 1h0m2 0h0m4 1h0m0-1h0m3 4h0m1 1h0m0-3h0m1 2h0m3-5h0m1 6h0m0-3h0m1 3h0m2-6h0m0 7h0m2-4h0m1 4h0m0-1h0m0-6h0m1 6h0m1-4h0m2-2h0m2 6h0m0-6h0m2 6h0m2-4h0m2 5h0m0-5h0m0 4h0m0-5h0m0-1h0m1 6h0m0-1h0m0 2h0m1-3h0m1 2h0m1 1h0m1-4h0m0-1h0m0-2h0m1 7h0m0-1h0m0-1h0m1 1h0m0-3h0m1 1h0m0-1h0m1 1h0m2-2h0m1-1h0m1 4h0m0-5h0m0 4h0m1-3h0m-2 8h0m-1 0h0m-2 3h0m-2 2h0m-2-3h0m-3 4h0m-1-6h0m0-1h0m-1 1h0m-2 3h0m-1 2h0m-1-6h0m-1 0h0m0 3h0m-1 2h0m-1 0h0m0-1h0m-1-2h0m-1 0h0m0-2h0m0 4h0m-1 3h0m-1-1h0m0-1h0m-1 0h0m-1-5h0m0 4h0m0 3h0m0-5h0m0 4h0m-1-2h0m-1-2h0m0 2h0m-1 2h0m0-2h0m-1 3h0m0-5h0m0 3h0m0-5h0m-1 7h0m0-5h0m0 3h0m-1-3h0m-1-1h0m-3 1h0m0 4h0m0-1h0m-2 0h0m-1 2h0m-2-4h0m-1-3h0m-1 5h0m-1 1h0m-1-5h0m-3 5h0m-1 1h0m-1-1h0m-1 0h0m0-5h0m-1 6h0m0-1h0m-2 0h0m-1-3h0m0 4h0m0-5h0m0 3h0m-1 1h0m0 6h0m3-1h0m1 0h0m2 1h0m0-2h0m0 4h0m0-6h0m2 6h0m0-3h0m4 1h0m0-1h0m1-2h0m0 3h0m0-1h0m2 1h0m0-2h0m1 3h0m3-3h0m1 3h0m3 0h0m0-5h0m0 2h0m1-1h0m2 1h0m0 3h0m1-5h0m2 3h0m0-2h0m1 3h0m1 0h0m0-3h0m1 6h0m0-5h0m0-1h0m0 4h0m0-5h0m1 2h0m0 4h0m0-5h0m1 1h0m0-1h0m1 6h0m0-5h0m0-1h0m0 4h0m0-2h0m1 4h0m0-5h0m1-2h0m0 4h0m0-1h0m1-2h0m0 4h0m4-2h0m1 3h0m0-3h0m1-2h0m0 4h0m3-1h0m-5 5h0m-1-1h0m-2 2h0m-1 3h0m-3-3h0m0-1h0m0-1h0m-1 1h0m0-1h0m0 4h0m-2 3h0m-1 0h0m-6-3h0m-6 0h0m-2 3h0m-1 0h0m0-3h0m-2 0h0m-3 0h0m0-2h0m5 6h0m5 0h0m2 0h0" stroke="#1FA386" stroke-width="1.9" stroke-linecap="round"/>
<path transform="scale(.5)" d="M277 359h0m16 1h0m-1 3h0m-1 2h0m0 2h0m-1 0h0m0-2h0m-1-5h0m-2 2h0m-2 1h0m-3 4h0m0-1h0m-4 0h0m-1 0h0m0-3h0m-1 3h0m-1-5h0m-5 14h0m3-1h0m2-2h0m2-3h0m2 4h0m1 2h0m2-3h0m1 2h0m0-2h0m2 2h0m4-3h0m5-2h0m0 2h0m1-3h0m0 3h0m2 4h0m1-1h0m3-1h0m0-2h0m6 12h0m-1-5h0m-6 0h0m-2-2h0m-1 0h0m0 2h0m-2 3h0m-1-2h0m-3 1h0m0-4h0m-5 6h0m0-5h0m-1 0h0m0 3h0m-2-1h0m0 3h0m0-1h0m-1 2h0m0-1h0m-1-2h0m0-1h0m0 4h0m0-1h0m-1-2h0m-1 3h0m0-5h0m0-2h0m0 3h0m-2 2h0m-1 0h0m-1 2h0m-4-5h0m-1 5h0m-11-5h0m-7-1h0m0 2h0m-3 1h0m0-1h0m-1 4h0m0-2h0m-2 2h0m-1-7h0m-1 2h0m-30 9h0m5-1h0m2-1h0m0-1h0m2 6h0m0-2h0m0-1h0m1 0h0m1 1h0m1 0h0m3 2h0m17-2h0m0-3h0m2 1h0m2 2h0m0-1h0m5 4h0m1-3h0m3 0h0m15-2h0m1-2h0m0 4h0m1-3h0m2-1h0m1 1h0m0 4h0m0-1h0m1-2h0m1-2h0m1 3h0m0-2h0m1 4h0m4-4h0m2 1h0m1 4h0m22 5h0m-2 0h0m0 4h0m-3-1h0m-6 0h0m-1-1h0m-1-2h0m-1-1h0m0-1h0m-2 1h0m0 4h0m-1-6h0m0 4h0m-10 1h0m0 2h0m0-1h0m-2 1h0m-8-6h0m-2 3h0m-1-1h0m0 4h0m-1-5h0m-2 5h0m-3 0h0m-1-4h0m-1 3h0m-1-1h0m-2 0h0m-1-1h0m0 2h0m-1-1h0m0-1h0m-1 3h0m-1-7h0m0 3h0m0 2h0m-1 2h0m0-5h0m0 4h0m0-5h0m0 4h0m-1-1h0m0-2h0m0 4h0m-1-5h0m-1 5h0m-2-2h0m-1 1h0m-2 1h0m-1 1h0m-8-2h0m-6-5h0m-11 0h0m-1 6h0m-5-2h0m-1 1h0m0-1h0m-25 2h0m-1 1h0m-2 0h0m-4-6h0m0-1h0m-4 4h0m1 4h0m5 2h0m0-1h0m4 1h0m1 0h0m2 5h0m3-1h0m1-1h0m1 1h0m1-2h0m1 3h0m8 0h0m3-6h0m1 6h0m1-1h0m2 0h0m0-3h0m0 4h0m1-6h0m1 0h0m0 3h0m1 3h0m0-5h0m8 3h0m4 2h0m0-2h0m20-4h0m0 6h0m5-7h0m0 2h0m1 0h0m0 3h0m0-2h0m2 3h0m0-1h0m0-2h0m0 4h0m1-7h0m1 4h0m0-1h0m1-3h0m2 4h0m0-1h0m0-2h0m1 3h0m1 2h0m0-1h0m0-5h0m0 4h0m1 3h0m0-5h0m1-2h0m0 3h0m1 1h0m0-2h0m0 4h0m1-1h0m0-5h0m0 4h0m1 3h0m0-5h0m0-2h0m0 4h0m1 2h0m0-5h0m0 4h0m7 2h0m0-2h0m4-5h0m1 1h0m0 2h0m1 2h0m3 2h0m0-2h0m1-4h0m3 3h0m0 3h0m1 0h0m2-1h0m0 1h0m0-5h0m1-2h0m1 3h0m1 1h0m1-4h0m1 0h0m1 4h0m2 1h0m5-5h0m0 7h0m1 0h0m0-5h0m0 4h0m0-5h0m1 2h0m0 4h0m0-1h0m1 0h0m0-1h0m0-5h0m0 7h0m0-5h0m1 0h0m0 4h0m1-2h0m0-3h0m1 5h0m0-4h0m1 0h0m0-1h0m0 3h0m1 0h0m2 3h0m1-4h0m3 3h0m12-1h0m1-5h0m1 7h0m0-5h0m0-1h0m1 3h0m1 1h0m1-3h0m0 4h0m2-3h0m0-1h0m1 6h0m-2 2h0m-2-1h0m0 3h0m0-1h0m-1-2h0m-1 1h0m0 4h0m0-1h0m-1-3h0m-3 3h0m0-2h0m-1 0h0m-2 4h0m-3-5h0m-2 5h0m-2 0h0m-2-1h0m-4 1h0m0-1h0m-1-1h0m0-5h0m-1 2h0m-1-1h0m-3 2h0m0 4h0m0-1h0m0-5h0m-1-1h0m-2 0h0m-8 2h0m-3 3h0m0-1h0m-3 1h0m0 1h0m-1-4h0m0 4h0m0-6h0m-1 7h0m0-6h0m-1-1h0m0 6h0m-1-3h0m0 3h0m0-5h0m0-1h0m0 4h0m-1 3h0m-2-6h0m-3 3h0m-1 1h0m-1-1h0m-2 1h0m-3-4h0m-2 1h0m-1 5h0m0-5h0m-2 5h0m0-2h0m-2-5h0m-10 1h0m-2-1h0m-6 3h0m-1 4h0m-2-1h0m-1-1h0m-1-2h0m-2 4h0m-4-7h0m-1 4h0m0-2h0m-1 1h0m0 1h0m-1-2h0m0 3h0m0-1h0m-1-4h0m-1 5h0m-1-4h0m0-1h0m-10 3h0m-4 3h0m-1-3h0m-2-2h0m0 6h0m-2-4h0m-1 4h0m0-5h0m-1 1h0m-9-2h0m-6-1h0m0 3h0m-1-1h0m0-2h0m-2 6h0m-11 2h0m3 2h0m1-2h0m0 4h0m1 0h0m1-2h0m1-2h0m2 3h0m0 4h0m2 0h0m2-3h0m29 3h0m12-5h0m2 5h0m0-2h0m1 2h0m1-6h0m1 2h0m0 4h0m0-5h0m1 5h0m0-5h0m0 4h0m0-1h0m0-2h0m1 3h0m1-4h0m1-2h0m0 3h0m1 4h0m0-6h0m1 3h0m0 2h0m0-5h0m1 5h0m1-3h0m1-3h0m1 2h0m0-2h0m4 5h0m0-2h0m0 4h0m2-4h0m0-3h0m2 5h0m1-1h0m0 3h0m2 0h0m6-3h0m0-3h0m1 6h0m3-4h0m1-1h0m0-2h0m1 0h0m0 3h0m0 3h0m1-4h0m1-2h0m1 1h0m3 1h0m0-1h0m1 1h0m0-2h0m7 5h0m1-5h0m1 3h0m1 1h0m2-3h0m0-1h0m2 3h0m1 0h0m4 3h0m2-2h0m0-1h0m1 3h0m0-1h0m1-4h0m2 6h0m0-5h0m0 4h0m0-5h0m1-1h0m0 7h0m1 0h0m1-4h0m0 3h0m1 0h0m0-5h0m0 4h0m0-2h0m1-2h0m0 4h0m1-1h0m0-1h0m0 3h0m0-1h0m0-5h0m1 1h0m0 3h0m0 3h0m1-4h0m1-1h0m0 4h0m0-1h0m1-4h0m0 2h0m1-3h0m2 0h0m3 7h0m1-7h0m1 6h0m1-2h0m1-1h0m2 0h0m0 3h0m1-2h0m2-2h0m0 4h0m1-3h0m0 4h0m1 0h0m1-4h0m0 3h0m3 1h0m0-5h0m1 4h0m-1 2h0m-3 1h0m-1 3h0m-1-4h0m-2 0h0m-1 2h0m-1-2h0m-1 5h0m0-5h0m-1 0h0m0 4h0m-1-3h0m0 4h0m0-1h0m-2 2h0m-3-1h0m-2-1h0m-2-1h0m0 4h0m0-5h0m-1 0h0m-1 3h0m-1 0h0m-1-3h0m-1 0h0m0 4h0m-3-4h0m-1-1h0m0-1h0m-1 0h0m0 7h0m0-6h0m-1 2h0m0-3h0m-1 4h0m-2-1h0m-5 4h0m-9-1h0m-5-3h0m-22 0h0m0 2h0m-1-4h0m0-1h0m-2 7h0m-1-3h0m0-2h0m-1-2h0m-2 4h0m-1 3h0m0-6h0m0 4h0m-1-5h0m0 3h0m-1 3h0m-4-1h0m-3-4h0m-1 0h0m-1-1h0m-1 1h0m0-1h0m-1 3h0m-1-3h0m0 2h0m-6-2h0m-16 6h0m-8-2h0m-2 0h0m-1-3h0m-2 0h0m0 4h0m-1-3h0m-1 1h0m0-1h0m-13-2h0m-1 5h0m14 7h0m1-3h0m2 0h0m5 4h0m0-2h0m5 4h0m1-7h0m1 7h0m15-3h0m0 3h0m0-1h0m16-6h0m3 1h0m4 3h0m2-4h0m24 7h0m1 0h0m0-5h0m1 4h0m6 1h0m0-1h0m4-1h0m2 1h0m1-2h0m1-4h0m1 3h0m1 0h0m13 3h0m2-5h0m4 2h0m3 3h0m1 1h0m1-3h0m2 2h0m0-6h0m-1 11h0m-1-3h0m-1 4h0m-2 1h0m-1 1h0m0-4h0m-3 1h0m-6 0h0m-3 1h0m0 1h0m-1 0h0m-1 1h0m-4-1h0m0-5h0m-1 2h0m0-2h0m-2 3h0m0-3h0m-2 3h0m-1-1h0m0 1h0m-1 0h0m-1 1h0m-1-3h0m0 2h0m-1 3h0m-1-2h0m-2-2h0m0 3h0m-1-1h0m-1-2h0m-2 2h0m-1-4h0m-1 3h0m-1-1h0m-1 0h0m-2-1h0m-37 1h0m-2 1h0m-3 0h0m0-2h0m-2 4h0m-1-3h0m-1-2h0m-3 0h0m-4 2h0m-1 4h0m-5 1h0m0-2h0m-2 2h0m0-1h0m-1-2h0m-4 0h0m-1-2h0m-1 5h0m0-7h0m-1 6h0m-2-6h0m-1 4h0m9 4h0m2 4h0m3 3h0m1-6h0m0 4h0m1-5h0m2 4h0m0-3h0m0 4h0m3-2h0m62-3h0m1 1h0m1 0h0m8-1h0m2 0h0m2 4h0m1-4h0m1 0h0m1 1h0m5-1h0m3 5h0m6-1h0m-8 11h0m-9 21h0m2 3h0m5-2h0m4 0h0m7 10h0m-12-7h0m-1 2h0m-1-1h0m0 3h0m-1 0h0m0 2h0m-2-4h0m0 2h0m-2-3h0m20 11h0m-10 7h0m2 16h0m-11 11h0m1 1h0m1-3h0m0 3h0m2-2h0m1 1h0m1 1h0m6 1h0m-4 5h0m-1-3h0m0 4h0m-1-6h0m0 2h0m-1-1h0m0 4h0m0-5h0m-1 6h0m0-1h0m0 2h0m-1-5h0m0-1h0m-1-1h0m-2 0h0" stroke="#1FA386" stroke-width="1.9" stroke-linecap="round"/>
<path transform="scale(.5)" d="M327 502h0m2-2h0m9-3h0m1 3h0m3 2h0m0-3h0m3 4h0m1 0h0m-1 3h0m-4-2h0m-1 3h0m0 3h0m-1-3h0m-2 0h0m-1-1h0m-6 1h0m-3 2h0m-7 2h0m-3-3h0m-2 1h0m-2 1h0m-1 1h0m0-1h0m-4-1h0m-2 2h0m-1 1h0m2 1h0m1 1h0m0 5h0m2-2h0m1 0h0m0-5h0m1 3h0m1 3h0m1-4h0m1-2h0m1 5h0m1-1h0m1-2h0m2 1h0m1-3h0m18 2h0m2 2h0m0 2h0m1-6h0m0 6h0m0-3h0m1-1h0m0 4h0m1 0h0m0-6h0m1 5h0m0 2h0m1-3h0m1-1h0m0 1h0m2-1h0m6 10h0m-5-5h0m-1 3h0m0-3h0m-1 5h0m-2-2h0m-1 4h0m-5 0h0m-1-7h0m-1 6h0m-3-5h0m-9-1h0m-2 2h0m0 5h0m-5-5h0m-1 0h0m-1 5h0m0-7h0m-1 4h0m-1 1h0m0-5h0m-2 3h0m-1 2h0m-1-3h0m0 1h0m-2 4h0m-2-3h0m4 9h0m1-5h0m1 2h0m4 3h0m0 2h0m1-2h0m2-5h0m1 4h0m0-1h0m1 4h0m1-5h0m0 1h0m0 2h0m1-2h0m1 1h0m3-1h0m1 2h0m8-4h0m1 0h0m2 0h0m1 0h0m0-1h0m1 1h0m2 0h0m1 0h0m1 3h0m2-4h0m1 5h0m2-4h0m2 12h0m-1-3h0m0 5h0m-1-2h0m-1 0h0m-1 0h0m-1-5h0m-5 5h0m-6-4h0m-3 6h0m-4-1h0m-4 1h0m-4-5h0m-1 4h0m-1-6h0m-1 6h0m-1-3h0m-2-3h0m-6 6h0m-3-3h0m11 9h0m7 0h0m1-3h0m4 0h0m0-1h0m1 3h0m1 4h0m1-4h0m1 2h0m0-1h0m5-2h0m7 0h0m2 1h0m0 2h0m0-3h0m1-2h0m1 0h0m1 2h0m1 2h0m1-2h0m1 5h0m-9 4h0m0 1h0m-1 1h0m-1-3h0m0 2h0m-1 1h0m-1-1h0m0 1h0m-6-4h0m-4 0h0m-1 3h0m-9-2h0m0 9h0m13 1h0m0 2h0m1-5h0m1 1h0m0 2h0m0-3h0m0 4h0m2-5h0m0 1h0m0 2h0m1-3h0m0 4h0m2-1h0m0-1h0m0-1h0m1 0h0m1 1h0m3 1h0m-3 5h0m-7 0h0m-2 1h0m-5-1h0" stroke="#1FA386" stroke-width="1.9" stroke-linecap="round"/>
<path transform="scale(.5)" d="M97 463h0m-4 1h0m0 6h0m2 1h0m3-5h0m0 2h0m1 2h0m15 1h0m4 5h0m0-1h0m-3-2h0m-1 2h0m-6 0h0m-6-1h0m-4 3h0m0-3h0m-2-1h0m0 5h0m-1-4h0m0 1h0m-1 4h0m-1-3h0m-1 0h0m0-4h0m-1 0h0m-1 7h0m-2-3h0m-2 0h0m2 5h0m6 0h0m4 4h0m19 1h0m0 1h0m6-3h0m2 9h0m-7-2h0m0 3h0m-2-3h0m-5 4h0m0-7h0m-3 0h0m4 15h0m1-7h0m3 2h0m1 3h0m0 2h0m1-3h0m3-3h0m1-1h0m0 2h0m3 5h0m3 4h0m-4 4h0m-3-6h0m-2-1h0m-1 4h0m-4 0h0m-3 1h0m-6 9h0m12-4h0m1 0h0m10-2h0m-11 13h0m-3 0h0" stroke="#1FA386" stroke-width="2" stroke-linecap="round"/>
<path transform="scale(.5)" d="M286 429h0m-1 2h0m-1-1h0m-2-1h0m-2-2h0m-3 4h0m-8-3h0m-2 1h0m-3 2h0m0-3h0m-1 1h0m0 2h0m-1-4h0m-1-1h0m0-1h0m-1 5h0m-1-4h0m-1 4h0m0-4h0m-1 2h0m-3-1h0m0-2h0m-14 13h0m16-4h0m8 4h0m6 1h0m2-4h0m7-3h0m2 3h0m4-3h0m1 0h0m0 7h0m2-4h0m1 1h0m-1 11h0m-1-4h0m-4 1h0m-7 3h0m-1-4h0m-2 3h0m-16-6h0m-6 2h0m-9 3h0m-4-3h0m-8 3h0m-4-2h0m-1-3h0m-6 7h0m-1 0h0m-1-1h0m-1 0h0m-5 7h0m3-4h0m0 6h0m2 0h0m1-1h0m1-6h0m1 3h0m0-2h0m1 6h0m3-2h0m1-2h0m2-1h0m1 1h0m1-3h0m1 4h0m0 1h0m16 1h0m1-6h0m4 6h0m3-5h0m0 4h0m10 0h0m1 2h0m0-5h0m1-2h0m1 7h0m1-2h0m0-5h0m0 4h0m1 1h0m1-1h0m1 1h0m3 2h0m0-5h0m3-2h0m2 3h0m0-2h0m0 3h0m1-3h0m1 4h0m0-5h0m2 3h0m1-2h0m2-1h0m16 4h0m2-3h0m9 14h0m-5-4h0m-4-2h0m-10 4h0m-1-5h0m0 3h0m-1 0h0m0 1h0m-3 2h0m0-2h0m-1-3h0m0 2h0m-2 3h0m0-3h0m-1 4h0m-1-4h0m-7-1h0m-2-1h0m-4 0h0m-2 4h0m0 2h0m0-5h0m-1-2h0m0 2h0m-2 2h0m-1-2h0m-1 5h0m0-6h0m-1 1h0m-1-1h0m0 4h0m-9 0h0m0-5h0m-1 0h0m0 3h0m-1 0h0m-1 3h0m-2-2h0m-2-1h0m-2 3h0m-11-6h0m0 3h0m-7-3h0m-1 2h0m-8 5h0m0 2h0m8 2h0m15 2h0m1 1h0m6-1h0m15-4h0m8 3h0m1 0h0m1-4h0m5 4h0m2-1h0m3 3h0m0-5h0m1-1h0m1 1h0m1 2h0m1 2h0m1-4h0m0 2h0m0-1h0m1 0h0m7-2h0m3 0h0m0 2h0m5 4h0m13 8h0m-1-3h0m-4-1h0m-3 3h0m-12 2h0m-8-5h0m-10 3h0m-8 1h0m-2-1h0m-6 2h0m-1 0h0m-7-7h0m-5 1h0m-4 4h0m0-1h0m-1-1h0m0-1h0m-1 3h0m0 1h0m-1-3h0m0 2h0m-2-1h0m-1 3h0m-7-4h0m-7 3h0m16 2h0m2 6h0m0-1h0m3 1h0m2-1h0m3-1h0m1-2h0m1 1h0m2 4h0m2-5h0m1-1h0m4 3h0m5 2h0m0-5h0m0-1h0m1 6h0m1-4h0m0 4h0m0-5h0m1 5h0m0-5h0m6 4h0m3-2h0m15 1h0m11 3h0m1-1h0m2 0h0m1-5h0m0 4h0m2-5h0m0 4h0m2-3h0m1-1h0m4 13h0m0 2h0m-1-7h0m-6 0h0m-6 5h0m-8-2h0m0 1h0m-9 1h0m-8-1h0m-7 3h0m-1-3h0m0-1h0m-2 2h0m-2 2h0m-2-4h0m-2 3h0m0-5h0m-1-1h0m0 2h0m-1 5h0m-2 0h0m0-5h0m-1 1h0m-1 1h0m-7-4h0m-2 3h0m-1 1h0m0 3h0m0-2h0m-4-3h0m-1 5h0m0-6h0m-1 2h0m-5-1h0m0 3h0m-1-4h0m-4 3h0m-3-4h0m-4 0h0m11 12h0m5-4h0m3 2h0m2-1h0m4-1h0m3 5h0m1 1h0m2 1h0m4-6h0m2 6h0m2-1h0m2 0h0m0-3h0m14-1h0m13 4h0m7-2h0m14-4h0m2 4h0m2-2h0m0-2h0m1 0h0m0 6h0m1-3h0m-3 9h0m-5-2h0m-11-2h0m-4 0h0m-2 5h0m-2-4h0m-15-1h0m-6 3h0m-1-1h0m-12 1h0m-3 1h0m-1 0h0m-3 2h0m-1 0h0m-1-1h0m-3 1h0m0-1h0m-1 1h0m-1-3h0m0-1h0m-1 3h0m-2 3h0m3 5h0m3 0h0m4-3h0m3-1h0m3-1h0m10 7h0m21-2h0m0-5h0m2 6h0m1-3h0m2 3h0m6 1h0m1-1h0m13-3h0m3 5h0m-2 7h0m-9-4h0m-1 2h0m-3-1h0m-1-3h0m0 4h0m0-2h0m-1-3h0m-1 5h0m-1-4h0m0-1h0m-6 3h0m-2-3h0m0 3h0m-10 2h0m-5 0h0m-5 1h0m-5 0h0m-4 0h0m0-6h0m-4 5h0m-1 0h0m-1-3h0m2 6h0m5 2h0m10 3h0m4 0h0m14-5h0m4 0h0m1 5h0m1 0h0m1 2h0m1-5h0m0-1h0m0 6h0m1-7h0m0 4h0m2 2h0m3-4h0m1 5h0m8-6h0m1 7h0m-5 1h0m-2 6h0m0-5h0m-2 1h0m-1 4h0m-4-6h0m0 4h0m0-5h0m0 3h0m-1 1h0m0-1h0m-1-1h0m0-2h0m-1 6h0m0-6h0m0 4h0m-2-2h0m0 3h0m-3-1h0m-2-3h0m-1 5h0m-13-1h0m-10-2h0m0 4h0m7 5h0m2-1h0m4 3h0m2-3h0m14 4h0m9-6h0m5 2h0m7-2h0m0 3h0m5-2h0m-16 13h0m0-3h0m-2-2h0m-8 0h0m-8 12h0m0-3h0m2 2h0m0-1h0m1 1h0m0-5h0m1 4h0m0-1h0m0-1h0m1 3h0m0-1h0m1 3h0m0-1h0m0-1h0m1 0h0m1-3h0m0 1h0m2 3h0m6 0h0m1 1h0m1-7h0m0 7h0m3-1h0m3 0h0m0-6h0m0 4h0m2 2h0m1-5h0m2 5h0m0-1h0m1-3h0m1 0h0m0-1h0m8 10h0m-5-1h0m-4-1h0m-1 3h0m-1 3h0m-1 0h0m-1 0h0m-3-1h0m-3-6h0m-1 1h0m-1-1h0m-2 5h0m0-5h0m-5 4h0m-1 3h0m-2-7h0m-3 1h0m0 3h0m-1-1h0m0-1h0m-1-2h0m-1 1h0m-1 2h0m-2-3h0m5 9h0m14 2h0m12-3h0m0 1h0" stroke="#45BCE6" stroke-width="1.9" stroke-linecap="round"/>
<path transform="scale(.5)" d="M269 423h0m3-4h0m5 4h0m10 6h0m-1 2h0m-3 0h0m-4-3h0m-2 3h0m-1-6h0m-1 5h0m0-3h0m-1 1h0m0 2h0m-3 0h0m-1 0h0m0 1h0m-1-3h0m0-3h0m-1 5h0m-1 0h0m0-3h0m-8 2h0m2 4h0m3 1h0m3 5h0m1-3h0m2-3h0m2 5h0m3 0h0m1-2h0m2 1h0m1-2h0m2 1h0m1 2h0m2-3h0m0 2h0m1 0h0m2 2h0m1 0h0m1-5h0m10 12h0m-8-2h0m-1 0h0m-1 3h0m-3-7h0m-4 7h0m0-3h0m-1 1h0m-1-3h0m0 4h0m-1-5h0m-2 0h0m0-1h0m-1 0h0m-2 0h0m0 1h0m-1 4h0m-1-3h0m-3-1h0m-2 5h0m-1 0h0m0-3h0m-1 3h0m-3-1h0m-3-4h0m-2 5h0m1 7h0m1-3h0m2-1h0m4 5h0m3-3h0m0 2h0m1 2h0m1-2h0m2-1h0m2 2h0m0-6h0m1 2h0m5 4h0m3-1h0m1 1h0m2 1h0m11-3h0m0 2h0m1 0h0m4 0h0m1 2h0m-8 0h0m-3 0h0m-2 3h0m-4-3h0m-1 6h0m-2-2h0m0 1h0m-1 2h0m0-5h0m-2 4h0m-1-3h0m-2-2h0m-2 0h0m-3 1h0m-1-1h0m-1 0h0m-1 0h0m-2-1h0m0 2h0m-1 1h0m-1 2h0m0-5h0m0 6h0m-1-5h0m-1 2h0m-1 1h0m-1-2h0m0 4h0m-1 0h0m0 3h0m2 0h0m1 1h0m0 5h0m0-7h0m1 3h0m0 2h0m1 2h0m0-5h0m1 2h0m3-4h0m1 4h0m4 0h0m2 2h0m1-4h0m0 4h0m1-3h0m0-1h0m0 2h0m1-2h0m2 3h0m0 2h0m1 0h0m2-2h0m1-2h0m4-1h0m8-2h0m1 4h0m2 2h0m0-5h0m1 0h0m2 2h0m0-1h0m1-2h0m0 3h0m1 0h0m0 1h0m1 2h0m-6 5h0m0 2h0m0-5h0m-1 2h0m-8-2h0m-2 2h0m-1 2h0m-5-3h0m0 6h0m-2-7h0m-2 1h0m-2 1h0m-7 0h0m-1 0h0m0 4h0m-5 0h0m-1-4h0m0 2h0m-2-3h0m-1 3h0m1 7h0m0 2h0m3-4h0m3 4h0m4-1h0m4 2h0m2-4h0m1 0h0m2 3h0m5-1h0m0 1h0m9-4h0m4 2h0m0 2h0m0 2h0m1 0h0m2-2h0m0 8h0m0 2h0m-1-6h0m-2 0h0m-2 2h0m0 2h0m0-3h0m-6 0h0m-1 2h0m-1 2h0m0-5h0m0 2h0m-2-3h0m-1 4h0m-1 1h0m-1 1h0m0-3h0m0 2h0m-1 0h0m0 2h0m-5-2h0m0 2h0m-1-4h0m-3 0h0m-1 3h0m-1-6h0m-5 2h0m2 11h0m2-4h0m1 5h0m1-5h0m1 5h0m1 1h0m1-5h0m3-2h0m1 4h0m0-3h0m2 1h0m1 3h0m0-1h0m1 2h0m1-5h0m2 6h0m1-7h0m0 4h0m1 1h0m3-4h0m2 2h0m2 2h0m4 0h0m1-2h0m1 9h0m-4 2h0m-1-2h0m-3 1h0m-1 2h0m-1 0h0m-1-5h0m0 4h0m0-5h0m-2 3h0m-1 0h0m-1 0h0m-1 3h0m0-7h0m-1 6h0m0-5h0m-1 4h0m-2-5h0m-1 4h0m-3-3h0m0 4h0m-1-5h0m-1 2h0m-1 0h0m0 2h0m-2-4h0m0 4h0m-1 3h0m0-4h0m0 2h0m-1-4h0m0 2h0m-3-3h0m1 10h0m4-2h0m6 3h0m0-1h0m8-1h0m3 1h0m2 2h0m0-3h0m2 1h0m0 2h0m1 3h0m2-5h0m3-2h0m1 6h0" stroke="#45BCE6" stroke-width="1.9" stroke-linecap="round"/>
<path transform="scale(.5)" d="M301 546h0m38 11h0m-7 1h0m-27-3h0m-1-1h0m-1 2h0m0 1h0m-1-5h0m0 2h0m-1 0h0m-1 0h0m0 2h0m-5 1h0m-3 2h0m-4 7h0m3 0h0m0-1h0m2 2h0m6-3h0m0-3h0m1 0h0m1-1h0m1 4h0m0-4h0m1 5h0m0-5h0m1 4h0m0 2h0m0-5h0m0 2h0m1-2h0m0 4h0m0-3h0m1 2h0m0-4h0m1 3h0m3-2h0m1-1h0m1 5h0m13 0h0m2 1h0m0-6h0m3 3h0m1 0h0m1 1h0m0 1h0m1-2h0m0 2h0m0-1h0m1 0h0m1-3h0m1 6h0m0-5h0m1-1h0m0 1h0m1 3h0m0-3h0m1 3h0m0-1h0m1-3h0m1 2h0m0 4h0m0-3h0m1 0h0m0-1h0m0 2h0m2-3h0m0-1h0m1-1h0m2 9h0m-3 1h0m0-1h0m-2 0h0m-5 1h0m-2-2h0m-1 3h0m0-3h0m-1 5h0m-1-3h0m-2 0h0m-2 3h0m-15-1h0m-1 1h0m-1 1h0m-1 0h0m-5 1h0m-2 0h0m-1-2h0m-3 1h0m-6 1h0m-5-6h0m0 9h0m2 2h0m2-1h0m8-2h0m2 1h0m0 4h0m1-4h0m1 5h0m4-1h0m0-3h0m0 2h0m2 1h0m0-3h0m2 4h0m26-7h0m2 1h0m-24 9h0m-2 2h0m-3-4h0m-1 0h0m-1 0h0m-2 3h0m-1-3h0m-1 2h0m0 4h0m-1-1h0m-1-3h0m0-1h0m0-1h0m-1 3h0m-1 1h0m0 1h0m-1-1h0m-1-2h0m0 4h0m-2 0h0m-1-1h0" stroke="#45BCE6" stroke-width="1.9" stroke-linecap="round"/>
<path transform="scale(.5)" d="M283 431h0m-24 0h0m17 5h0m4 9h0m-11-4h0m-50 13h0m27-1h0m22-1h0m9 3h0m11-7h0m13 6h0m5-3h0m-5 12h0m-31-6h0m-22 4h0m-7 6h0m8 1h0m5 1h0m1 2h0m0-7h0m1 4h0m8-4h0m1 5h0m2 2h0m5 0h0m43 4h0m-27 4h0m-25-7h0m-7 7h0m-1 0h0m-1-6h0m-1 2h0m0 2h0m-29 5h0m0 2h0m13-3h0m7-1h0m5 0h0m3 5h0m1-5h0m7 5h0m30-2h0m18-2h0m6 9h0m-14 4h0m-24-3h0m-1 2h0m-1 0h0m-17-3h0m-3-1h0m-22-1h0m33 12h0m9 2h0m4-6h0m24 5h0m15 10h0m-75 6h0m25-2h0m23-1h0m18 3h0m1-1h0m3-3h0m-26 9h0m-1-1h0m-6 4h0m-14-2h0m12 12h0m2-7h0m1 0h0m24 3h0m-31 15h0m6 1h0m10 4h0m33-2h0m1 9h0m-15 1h0m-4-2h0m-20 1h0m0 9h0m11-1h0m9-1h0m11-3h0m1 6h0m-5 2h0m-6 4h0m-14-5h0m-4 1h0m16 11h0m3-1h0" stroke="#EE4A30" stroke-width="1.8" stroke-linecap="round"/>
<path transform="scale(.5)" d="M173 422h0m1 1h0m9-1h0m1-1h0m0 1h0m1-4h0m0-2h0m2 2h0m1 1h0m0 1h0m1 2h0m1-2h0m0 2h0m4 0h0m2-4h0m1 4h0m3-2h0m0-3h0m2 5h0m1 8h0m-2-5h0m-2-1h0m-1 1h0m0-1h0m-3 2h0m-1 2h0m0-2h0m-1 0h0m0-2h0m0 4h0m-1-2h0m-1 5h0m-1-4h0m-6-3h0m-1 7h0m0-6h0m-7 2h0m-3 3h0m-7-5h0m-2 1h0m0 4h0m-2 1h0m-5-5h0m-1 1h0m0-2h0m0 4h0m-4 1h0m-2-2h0m0-1h0m0 3h0m-1-3h0m-2-1h0m-4 3h0m0 2h0m-1-2h0m-4 1h0m-2 1h0m-11 2h0m1 6h0m0-5h0m1-1h0m2 4h0m0-2h0m2 0h0m1-1h0m0-1h0m0 6h0m1-3h0m0-1h0m1-2h0m1 2h0m0 1h0m1-1h0m3-2h0m2-1h0m1 6h0m1-1h0m2-2h0m1 3h0m5 0h0m0-3h0m3-1h0m1 2h0m0 3h0m1-6h0m2 0h0m2 2h0m1 2h0m2-3h0m7 3h0m6-1h0m3-4h0m1 2h0m1-1h0m0 4h0m0-1h0m1-1h0m0 3h0m1-5h0m0-1h0m2 1h0m1 0h0m1 2h0m0 1h0m3-2h0m1 3h0m1-5h0m4 7h0m0-1h0m3-4h0m2 5h0m1-6h0m2 1h0m1-1h0m0-1h0m-3 15h0m0-5h0m0 2h0m-2-2h0m0 3h0m-1-4h0m0 4h0m-1 0h0m-2 0h0m0-1h0m-1-2h0m0-1h0m-2 2h0m-1-3h0m0 2h0m-1 5h0m0-2h0m-1-5h0m0 1h0m-1 3h0m-1-2h0m0 1h0m-1-2h0m-3 4h0m0-2h0m0-1h0m0-1h0m-1 6h0m-1-6h0m-3 4h0m-1-5h0m-2 1h0m-3 4h0m-5 1h0m-1-5h0m-6-1h0m0 3h0m-1 2h0m-1-2h0m0 2h0m-1-4h0m-4 4h0m-5-1h0m0-1h0m-1 0h0m-1 4h0m-1-1h0m-1-1h0m-2 1h0m-2-1h0m-2 0h0m0-2h0m-3-2h0m0 6h0m-1 0h0m0-5h0m-1 5h0m-1-3h0m-2-3h0m-2 1h0m0-1h0m2 10h0m3 1h0m2-3h0m0 4h0m0-5h0m1 0h0m1 7h0m0-6h0m1 0h0m1 4h0m2-5h0m1 1h0m1 6h0m0-7h0m0 4h0m5 2h0m1-5h0m1 6h0m0-1h0m2 1h0m1-2h0m0-5h0m0 4h0m0 3h0m1-5h0m0 2h0m1-2h0m0 3h0m1 0h0m1 1h0m1-4h0m0 4h0m1 0h0m1 0h0m0-5h0m1 2h0m2 3h0m0-1h0m1 0h0m1 0h0m0-2h0m1 0h0m1 3h0m0 1h0m1 0h0m2-4h0m2-1h0m2 2h0m0-1h0m0 4h0m1-5h0m1-2h0m2 7h0m0-1h0m0-5h0m0-1h0m0 4h0m1-1h0m0 2h0m2-4h0m9 1h0m8 2h0m5-3h0m-28 10h0m0-2h0m-2 0h0m0 3h0m-1 0h0m0-1h0m-1 2h0m0-5h0m0 3h0m0 4h0m-1-4h0m0-1h0m0 4h0m0-2h0m-1-3h0m0-1h0m0 3h0m0 4h0m-1-6h0m-1 5h0m0-6h0m-1 4h0m-1-1h0m-1 3h0m0-6h0m-1 4h0m0-3h0m-3 2h0m-3-1h0m0-2h0m-1 2h0m-1-1h0m0-1h0m-1 6h0m-1-2h0m-1 1h0m-1-2h0m-1-2h0m-1-1h0m0 1h0m-1 2h0m0 3h0m-1-1h0m0 2h0m-1 0h0m-1-3h0m-1-4h0m0 3h0m0 4h0m-7-2h0m0-1h0m-1-2h0m-1-2h0m9 8h0m4 5h0m0-2h0m2 2h0m2-5h0m0 7h0m1-7h0m1 2h0m1 3h0m2-2h0m1 3h0m0-1h0m0-2h0m2 1h0m0-2h0m3-2h0m0 3h0m5-3h0m1 0h0m2 2h0m4 4h0m-16 3h0m-6 3h0m0 2h0m-4-5h0m4 7h0" stroke="#2C4B9A" stroke-width="1.9" stroke-linecap="round"/>
<path transform="scale(.5)" d="M110 438h0m0-1h0m1-2h0m0 1h0m3 2h0m0-4h0m0 3h0m3 0h0" stroke="#45BCE6" stroke-width="1.9" stroke-linecap="round"/>
<path transform="scale(.5)" d="M161 470h0m2-3h0m1 0h0m0 1h0m2 1h0m4-2h0m0 1h0m5-3h0m1 4h0m0 2h0m1-3h0m3 3h0m1 0h0m1-3h0m0-2h0m0 3h0m1 0h0m0 1h0m1-1h0m2-1h0m0 3h0m0-6h0m1 1h0m0 3h0m1 2h0m1 0h0m0-5h0m0 3h0m0 1h0m1-1h0m0 2h0m1-4h0m0 3h0m1-3h0m0 4h0m1-1h0m4-1h0m3 2h0m8 6h0m0 2h0m-4-4h0m-2 3h0m-1-6h0m0 3h0m-4-2h0m-1 1h0m0-1h0m-2 6h0m0-7h0m0 2h0m-1 0h0m0-1h0m-1 3h0m-1-4h0m0 1h0m-2 0h0m0 5h0m-1-4h0m0 2h0m0-1h0m0 4h0m0-1h0m-1 0h0m-1 0h0m0-1h0m-1-2h0m-3 4h0m-1 0h0m-1-7h0m0 1h0m0 3h0m-1 1h0m-2-1h0m0 2h0m0-5h0m-1 0h0m0 1h0m-1 1h0m0 4h0m0-5h0m0-1h0m-2 0h0m0 3h0m0 1h0m0-5h0m-2 2h0m-1 0h0m0-1h0m0 6h0m-2-5h0m0 1h0m-1-2h0m-3-1h0m-1 5h0m-1 1h0m-2-5h0m-1 1h0m0 4h0m-2-1h0m-1-2h0m-4 11h0m1-2h0m0-3h0m3 3h0m2-4h0m3 7h0m0-6h0m3 5h0m1-3h0m1 0h0m0 2h0m1-5h0m0 4h0m1-3h0m0 6h0m1-4h0m0 1h0m3 3h0m2-3h0m0-4h0m4 7h0m2-3h0m0 2h0m1 1h0m0-1h0m2 1h0m1-6h0m1 5h0m4 1h0m1-3h0m1-1h0m0 3h0m1 1h0m0-6h0m1 5h0m1-5h0m0 3h0m1-3h0m0 1h0m2 4h0m1-2h0m1 2h0m0 1h0m1-3h0m0 2h0m1-1h0m1-4h0m0-1h0m0 2h0m0 2h0m1 0h0m0-2h0m3-1h0m0-1h0m2 2h0m1 3h0m1-2h0m1 4h0m2-1h0m0-1h0m1 2h0m0-3h0m1 0h0m2 2h0m12 9h0m-3-2h0m-2-3h0m-1 3h0m-1 2h0m-1-6h0m-2 2h0m0 3h0m-1-6h0m-1 5h0m-2-2h0m-1-3h0m0 4h0m0 2h0m-2 1h0m-2 0h0m-1-6h0m-1 6h0m-2-1h0m0-4h0m0 1h0m0 2h0m-1 0h0m-1 2h0m0-7h0m-3 6h0m-1-1h0m0 2h0m0-5h0m-1 3h0m-1-4h0m-2 4h0m-5-5h0m0 5h0m0 1h0m-1-6h0m-1 2h0m0 5h0m-1-7h0m-4 6h0m0-1h0m-5 0h0m0-1h0m-1-3h0m0 1h0m0 4h0m-1-6h0m-4 1h0m-1 1h0m0 3h0m-1-4h0m-2 6h0m0-7h0m-1 3h0m0 4h0m0-6h0m-1 2h0m-1 2h0m0 2h0m-1-4h0m-2 2h0m-1-2h0m0 2h0m-1-4h0m0 6h0m-4-1h0m-2-4h0m-1 5h0m-1-3h0m-1 1h0m0 2h0m-1-5h0m0 1h0m-2 2h0m-1-3h0m-2 10h0m0 2h0m0-6h0m2 1h0m1-1h0m1 2h0m1-2h0m0 2h0m0 2h0m0-1h0m3-1h0m0-1h0m0 3h0m1 0h0m1-2h0m1 2h0m3 2h0m0-4h0m1 2h0m0-2h0m1 2h0m5 2h0m2-3h0m3-3h0m0 2h0m1 0h0m0 1h0m0 3h0m2-5h0m0 2h0m1 0h0m2-1h0m0 5h0m1-5h0m1 5h0m1-3h0m1 0h0m1 1h0m1-1h0m1-4h0m2 1h0m0 3h0m0-1h0m1-3h0m1 6h0m1-6h0m1 4h0m1-2h0m0 4h0m1-4h0m0 3h0m0 2h0m3-3h0m2 1h0m1-5h0m0 3h0m1-2h0m1-1h0m0 2h0m0-1h0m0 2h0m0 4h0m1-3h0m1-3h0m1 0h0m1 1h0m0-1h0m0 2h0m0 1h0m0 3h0m0-1h0m0-6h0m1 4h0m0-1h0m1 0h0m0 2h0m1-5h0m2 1h0m0-1h0m1 4h0m0-1h0m0 3h0m2-3h0m0 4h0m2-7h0m1 2h0m1 5h0m1-6h0m2-1h0m0 4h0m0-1h0m0 3h0m3-6h0m0 2h0m1 5h0m1-7h0m1 0h0m0 7h0m1-1h0m1 0h0m4 1h0m4-1h0m7 9h0m0-1h0m-3-4h0m-1 4h0m-2-5h0m0-1h0m-2 7h0m-2-5h0m-1-2h0m-1 7h0m-1-2h0m-1-1h0m0 1h0m-2-1h0m0-1h0m-1-1h0m0-2h0m0 3h0m-1 1h0m-1 3h0m-1-5h0m-2 3h0m-1 1h0m-2-3h0m0 4h0m-1-4h0m-2-3h0m-2 4h0m-1-3h0m0 2h0m-2 3h0m-1-1h0m-1-3h0m-1-1h0m0 6h0m-1-7h0m-1 3h0m0-1h0m-1-1h0m0-1h0m-1 0h0m0 5h0m-1 0h0m-2-5h0m0 4h0m-1-4h0m0 4h0m-1-4h0m-1 0h0m-1 0h0m0 6h0m-1-1h0m-1-3h0m-2 4h0m-1-6h0m0 2h0m-1 0h0m0 3h0m0 1h0m-2-5h0m0 5h0m-1-4h0m0 4h0m-2 1h0m0-4h0m0 3h0m-1-4h0m0 2h0m-1 3h0m0-5h0m0 4h0m-1-2h0m-3-2h0m0 4h0m0-1h0m-1-5h0m-1 6h0m0-4h0m-2-1h0m0-1h0m-2 3h0m0 1h0m0 2h0m-2-2h0m-2 2h0m-1 0h0m0 1h0m-2 0h0m0-4h0m0 3h0m0-1h0m-1-3h0m0 1h0m-2 4h0m-2-2h0m-3-2h0m-1 1h0m0 3h0m-1-4h0m-1-2h0m0 6h0m-1-5h0m0 5h0m-2-6h0m0 3h0m-1-4h0m0 5h0m-1 1h0m-1 1h0m-1-4h0m-1 1h0m-1 0h0m0 1h0m0 2h0m-1 0h0m-1-4h0m0 2h0m-1 1h0m-1 3h0m2-1h0m1 1h0m1 6h0m2-3h0m1-1h0m0-1h0m0 5h0m1-4h0m0 3h0m3 1h0m1-1h0m0-6h0m1 5h0m0 2h0m1-1h0m2-3h0m0 1h0m1-2h0m1-1h0m1-1h0m0 3h0m3 4h0m1-1h0m1-4h0m1 5h0m2-7h0m1 6h0m2-6h0m0 1h0m2 4h0m0-5h0m1 0h0m1 6h0m0-4h0m0 3h0m2 1h0m0-1h0m2 1h0m0-6h0m1 6h0m0-6h0m0 7h0m1-2h0m0-1h0m1-4h0m1 6h0m0-5h0m3-1h0m1 5h0m0 2h0m0-1h0m0-4h0m1 5h0m0-6h0m1-1h0m2 5h0m1 2h0m2-1h0m1-5h0m1 0h0m1 0h0m2-1h0m0 2h0m0-1h0m0 2h0m0 2h0m1-1h0m0-4h0m0 1h0m1 2h0m0 4h0m1-3h0m0 2h0m0-5h0m0 2h0m1 1h0m0-4h0m1 0h0m0 1h0m0 3h0m0 2h0m1-6h0m1 6h0m0-6h0m2 6h0m0-6h0m0 5h0m0-1h0m1-2h0m0-1h0m1 5h0m0-2h0m0-1h0m1 4h0m0-1h0m0-6h0m1 1h0m1 0h0m0 3h0m0-1h0m1 0h0m1 1h0m0 1h0m1-3h0m0 3h0m0 1h0m1 1h0m0-1h0m1-3h0m1 0h0m0 3h0m1-2h0m1 1h0m1 0h0m0 2h0m1-6h0m0 6h0m5-3h0m1 3h0m1-6h0m1 6h0m2-5h0m0-1h0m1-1h0m1 6h0m2 1h0m1-6h0m1 0h0m1-1h0m0 7h0m1-3h0m1 3h0m4-4h0m1 2h0m1 2h0m2-2h0m2 0h0m2 6h0m-1 0h0m0-1h0m-1 5h0m0-7h0m-1 1h0m-1 4h0m0-2h0m-1 2h0m-1-3h0m0-1h0m0 2h0m-1-3h0m-1 0h0m0 5h0m0 2h0m-1 0h0m-1-5h0m0 5h0m-1-4h0m-1 3h0m-2 1h0m-1-5h0m0 3h0m0-1h0m-1-4h0m-1 6h0m0-3h0m-1-2h0m-2 1h0m0 4h0m0-5h0m-2 5h0m-1 1h0m-3-7h0m-1 1h0m-1 6h0m-1-3h0m0 2h0m-1-6h0m0 6h0m0-1h0m0 2h0m-1-3h0m0 2h0m-1-1h0m0-1h0m-1-1h0m-1-2h0m0 3h0m0-1h0m-2-1h0m0-1h0m0-1h0m-1 0h0m-1 1h0m-2 4h0m-1-5h0m0 2h0m0 5h0m-1-3h0m-1-3h0m0-1h0m0 3h0m0 1h0m-2 0h0m0 1h0m-1-3h0m-2 2h0m0 2h0m-1-1h0m-1-4h0m0 5h0m-1 1h0m-3-3h0m-1 3h0m0-7h0m-6 3h0m0 4h0m-2-7h0m0 5h0m-2-1h0m-1 1h0m-2 2h0m0-7h0m0 3h0m-1-1h0m-2 5h0m0-1h0m0-3h0m-1 4h0m-3-6h0m-1 5h0m0-2h0m-1 2h0m-2-5h0m0 3h0m-2 3h0m0-5h0m0 2h0m-1-3h0m0 4h0m-2 0h0m-1-1h0m-1-3h0m-2 3h0m-1-1h0m-2-1h0m-1 2h0m-1-4h0m0 6h0m-1-3h0m0 2h0m-1-4h0m-1 0h0m0 4h0m-2 0h0m-1-4h0m-1 3h0m-1-1h0m-1-3h0m0 4h0m0 1h0m-2-5h0m0 4h0m-1 2h0m0 1h0m-1-3h0m-3-1h0m-1-3h0m0 3h0m-3 0h0m2 9h0m0 2h0m0-5h0m1 6h0m1-7h0m0 3h0m1 1h0m0 3h0m0-7h0m1 1h0m2 4h0m1 2h0m0-1h0m2-5h0m0 1h0m1-2h0m3 1h0m0 1h0m0 4h0m1-2h0m0 1h0m1-3h0m1 5h0m0-7h0m1 4h0m0 2h0m3-4h0m1 1h0m0-1h0m1 3h0m0 2h0m1-5h0m3-1h0m0 3h0m2 3h0m2-7h0m1 1h0m5 4h0m0-5h0m2 3h0m1-3h0m2 3h0m0 1h0m2-4h0m0 2h0m1 5h0m0-5h0m2 0h0m0 5h0m1-7h0m0 3h0m1-3h0m2 1h0m3 4h0m1-2h0m2 3h0m0-3h0m0-1h0m1 1h0m0 1h0m3 3h0m0-3h0m2-2h0m1-1h0m0 6h0m0-1h0m1-5h0m1 4h0m0-5h0m2 3h0m0 1h0m0 2h0m1-3h0m1 3h0m2-3h0m0-1h0m0 2h0m1-2h0m4 1h0m0 1h0m1-4h0m1 2h0m0-2h0m1 5h0m1 0h0m1-1h0m0-3h0m2 5h0m0-5h0m2 0h0m1 6h0m0-2h0m2 1h0m0-3h0m0 2h0m0-1h0m1-2h0m0 1h0m1 2h0m1 1h0m2-1h0m0 2h0m2-3h0m2 2h0m2 0h0m1-3h0m0-3h0m1 3h0m1 3h0m1-1h0m0 1h0m0-6h0m1 0h0m1 0h0m1 7h0m2-7h0m0 2h0m0-1h0m0 4h0m1-5h0m0 3h0m0 3h0m1-2h0m1-2h0m0 3h0m5 0h0m0-1h0m0 2h0m2 1h0m5 8h0m-2-4h0m0 2h0m-2-4h0m0 6h0m-4-4h0m0 4h0m-1-2h0m0-2h0m-1 2h0m0 2h0m-1 0h0m0-6h0m-1 4h0m0 1h0m0-3h0m-1 4h0m0-6h0m-2 0h0m0-1h0m-1 2h0m0 3h0m-1-4h0m-2-1h0m0 2h0m0 2h0m-2-1h0m-2 0h0m-2-3h0m-1 1h0m0 3h0m-1-2h0m0 4h0m0-1h0m-1-5h0m-4 7h0m-1-6h0m0 4h0m0 2h0m-1-3h0m-3 2h0m0-4h0m-1 0h0m-2 4h0m-1-4h0m-1-2h0m-2 6h0m0 1h0m-1-6h0m0 2h0m0 3h0m0-4h0m-2 2h0m0 1h0m-2-5h0m0 7h0m-4-5h0m-2 1h0m0 4h0m-1-3h0m-1 0h0m-1 2h0m0-6h0m0 3h0m-2 4h0m-1-4h0m-4-2h0m0 2h0m0 4h0m-1 0h0m-3-6h0m0 5h0m-1-3h0m0 3h0m-2 1h0m0-6h0m-1 0h0m-1 0h0m-1 3h0m0-4h0m-1 0h0m0 1h0m-1 1h0m0 2h0m0 1h0m0 2h0m-1-4h0m0-3h0m-1 3h0m0 2h0m-1-2h0m0 3h0m-1-3h0m0 4h0m-1-3h0m0 3h0m0-1h0m-1-5h0m0 6h0m0-5h0m-1-1h0m-1-1h0m0 5h0m0-1h0m0 2h0m-1 0h0m-1-3h0m-1-2h0m0 3h0m-1 1h0m0-5h0m-3 4h0m0 3h0m0-5h0m-2-1h0m0 4h0m-1 2h0m-1-5h0m0 1h0m0 4h0m0-7h0m-3 3h0m-3 3h0m-1-5h0m-1-1h0m0 4h0m-1-3h0m-2 1h0m0 2h0m-1 2h0m-3-2h0m-2 0h0m0 2h0m-1 0h0m-1-5h0m0 2h0m0 4h0m-1 0h0m-1 0h0m-1-7h0m0 2h0m0 1h0m0 1h0m-1-1h0m-2-3h0m-1 6h0m0-1h0m-2 0h0m-2-4h0m2 8h0m1 3h0m0 2h0m2 0h0m1-5h0m3 3h0m0-3h0m1 5h0m1-3h0m1 2h0m0-3h0m1 1h0m0 1h0m4-2h0m0 5h0m1-7h0m1 0h0m1 2h0m2 0h0m0 1h0m1 3h0m1-6h0m1 5h0m0 2h0m1-6h0m0 2h0m1-2h0m0-1h0m2 4h0m0-1h0m1-2h0m0 1h0m1-2h0m1 7h0m0-7h0m1 1h0m1-1h0m0 2h0m0 4h0m0-1h0m1-1h0m3-1h0m1 3h0m0-1h0m1-5h0m3 0h0m0 2h0m3-1h0m0 3h0m3 1h0m1 0h0m1 1h0m2-3h0m0-1h0m0 2h0m0 1h0m1-4h0m0-1h0m1 4h0m1-4h0m0 2h0m1 4h0m2-3h0m1 2h0m0 2h0m0-7h0m3 0h0m2 5h0m0 2h0m3-2h0m1-2h0m1 0h0m1-1h0m1 1h0m0 4h0m2-7h0m0 6h0m0 1h0m1-6h0m0 2h0m1 4h0m0-7h0m1 2h0m0 3h0m2 2h0m2-5h0m2 0h0m2 3h0m1-4h0m1 3h0m3 0h0m1-2h0m0 4h0m1-4h0m6 5h0m0-2h0m2-2h0m2-1h0m0 3h0m0 1h0m1-6h0m2 0h0m0 3h0m0 3h0m1-6h0m3 1h0m0-1h0m0 4h0m2-4h0m1 3h0m1 2h0m0-1h0m0-3h0m2 6h0m0-5h0m0 3h0m2-4h0m0 5h0m1-4h0m5 5h0m2-4h0m1 2h0m0-5h0m2 0h0m1 7h0m7 8h0m-1 0h0m-1-3h0m0-1h0m-1 2h0m-1-2h0m-1-1h0m0 1h0m0 1h0m-1 3h0m-1-2h0m-1 0h0m0 1h0m-2-6h0m0 7h0m-2-1h0m-1-1h0m-1-2h0m0 2h0m0 2h0m-2-6h0m-2 6h0m0-1h0m-2 1h0m0-5h0m0 1h0m-1 1h0m0 3h0m-1-5h0m-1-1h0m0 4h0m-1-3h0m0 2h0m-2-3h0m-1 5h0m-1-5h0m-1 0h0m-1 3h0m0 3h0m-1-7h0m-1 2h0m-2 0h0m-2-1h0m-1 0h0m-1 2h0m-2 2h0m-2-5h0m-1 5h0m-1-1h0m-1 1h0m-1-3h0m-2 5h0m-3-5h0m0 2h0m-1-4h0m-2 4h0m-1-4h0m-3 6h0m-1 0h0m-1-4h0m0 3h0m0 1h0m-1 0h0m0-3h0m-1 1h0m0 3h0m0-1h0m0-6h0m-2 0h0m-1 0h0m-1 4h0m0 2h0m-1-3h0m-1 3h0m-1-4h0m0 5h0m-1-1h0m0-4h0m-1 4h0m-2-2h0m-1 2h0m-2-3h0m0 1h0m-1 1h0m0 2h0m-3-6h0m0 4h0m-1-4h0m-1-1h0m-1 1h0m0 6h0m-2-6h0m0 5h0m-3-3h0m-1 3h0m0-1h0m0 2h0m-2-2h0m0-1h0m0-2h0m-1 1h0m-1-3h0m0 6h0m-2-5h0m0 2h0m0 2h0m-1-1h0m0 3h0m-1-1h0m0-6h0m-1 6h0m-1-4h0m0 3h0m-1-4h0m-2 5h0m-1-3h0m0 2h0m-2-3h0m0 3h0m-1-5h0m0 5h0m0-1h0m-1 3h0m-3-2h0m-1-1h0m0 3h0m-1-3h0m-1-3h0m-2 2h0m0 2h0m-2-3h0m-2 1h0m-3-1h0m-2 0h0m-1-2h0m-1 0h0m-1 2h0m-1 4h0m0-3h0m-1-3h0m-1 4h0m-1 0h0m-1 7h0m1 3h0m0-6h0m3 6h0m0-4h0m1 2h0m2-4h0m0 3h0m1-3h0m2 4h0m0 1h0m1-3h0m1 3h0m2-2h0m2 4h0m3 0h0m1 0h0m1 0h0m1-4h0m1-2h0m0 3h0m2 1h0m1 2h0m1-6h0m0 2h0m0 2h0m0 1h0m1-6h0m2 3h0m0 4h0m0-7h0m1 4h0m0-4h0m5 4h0m0 1h0m0-5h0m3 1h0m1 0h0m1-1h0m0 4h0m1-3h0m1 2h0m2 3h0m2-5h0m0 5h0m2 0h0m0-4h0m2 5h0m0-4h0m4 3h0m1-5h0m0 6h0m1 0h0m0-5h0m1-1h0m0 3h0m1 0h0m0 2h0m1-3h0m0 4h0m0-7h0m1 0h0m1 0h0m0 2h0m1 2h0m0 1h0m0-4h0m1 4h0m1-5h0m1 7h0m0-7h0m1 5h0m1 2h0m1-3h0m0 2h0m0-5h0m1-1h0m1 2h0m0 2h0m0 2h0m1-6h0m1 1h0m0 5h0m2-5h0m0 4h0m1-4h0m1-1h0m0 5h0m1 0h0m1-1h0m1-2h0m1 3h0m0-5h0m1 1h0m0-1h0m0 4h0m3-4h0m0 2h0m1 3h0m1-5h0m1 2h0m1-2h0m0 2h0m0-1h0m0 6h0m1-6h0m2 5h0m0 1h0m1-5h0m0 1h0m3 4h0m6-7h0m2 5h0m2-3h0m0 5h0m1-2h0m0-3h0m0 2h0m1 3h0m3-7h0m1 7h0m1-6h0m1 2h0m0 4h0m0-7h0m1 3h0m0-1h0m1 3h0m0-5h0m1 0h0m0 5h0m2-3h0m0 2h0m0 3h0m0-6h0m0 2h0m1 4h0m3-6h0m0 5h0m2-2h0m1-4h0m0 2h0m0 3h0m1 2h0m1-4h0m2 3h0m0-5h0m2-1h0m1 2h0m0 3h0m0-1h0m0 2h0m0-5h0m1 0h0m2 6h0m1 0h0m6 8h0m0-6h0m-3 1h0m0-1h0m0 3h0m-1-2h0m0 3h0m0-4h0m-1 5h0m-1-5h0m0 6h0m-1-1h0m0-6h0m-1 7h0m-1-7h0m0 1h0m0 1h0m0 4h0m-2 0h0m0-4h0m-2-2h0m0 2h0m-1 4h0m0-5h0m0 2h0m0-1h0m-1 2h0m-4 2h0m-3-4h0m0 1h0m-1-1h0m-1-1h0m-1 0h0m-1 1h0m0 4h0m0 1h0m-2-1h0m0-4h0m-1 2h0m0-1h0m-4 1h0m-1-2h0m0 4h0m-1-2h0m-1-2h0m-1 2h0m0 2h0m-1 1h0m0-6h0m0-1h0m-1 0h0m0 3h0m-2 2h0m-1-3h0m-1 1h0m-1-2h0m0 3h0m-1-2h0m-1-1h0m-2 6h0m0-5h0m-4 4h0m0-6h0m-1 7h0m0-1h0m-2-1h0m0-1h0m0 2h0m-1 1h0m-1-1h0m-1-6h0m0 3h0m0 3h0m0 1h0m-1-4h0m-1 2h0m-1-5h0m-1 6h0m0 1h0m0-6h0m-2 2h0m0-1h0m0 2h0m-1-1h0m0-1h0m0 2h0m-1 0h0m0 3h0m0-4h0m-2 3h0m-2-6h0m-2 5h0m-1-3h0m0 3h0m0 1h0m0 1h0m-2 0h0m-2 0h0m-1-7h0m-1 0h0m0 2h0m-1 3h0m0 2h0m0-1h0m-1-2h0m-1 0h0m0-1h0m-1 3h0m-2 1h0m-1 0h0m-1 0h0m0-6h0m-1-1h0m-1 7h0m-1-1h0m0 1h0m-1-4h0m-2 1h0m-2-3h0m-1 5h0m-1-1h0m0-5h0m0 6h0m-1-6h0m-1 3h0m0-1h0m-1 2h0m0 3h0m-1-5h0m-1-1h0m-2 1h0m-1 3h0m-5-2h0m-1 1h0m0 1h0m-2 0h0m0-3h0m0 4h0m-1-3h0m0 3h0m0 1h0m0-6h0m-1 5h0m-1-5h0m-1 4h0m0-4h0m-1 2h0m-1-3h0m-1 4h0m-1 1h0m-1-2h0m0 2h0m0 2h0m-1-3h0m-1 1h0m-1 2h0m-2-2h0m0-4h0m0 1h0m-1 4h0m0-1h0m-1 0h0m-2 0h0m0 2h0m-1-1h0m-1-3h0m-1 1h0m0 1h0m-1-1h0m0-4h0m-1 4h0m-1-1h0m-1 3h0m-1-5h0m-1-1h0m0 3h0m3 7h0m1-1h0m2 0h0m0 3h0m3 1h0m1-1h0m1-1h0m0 2h0m1-4h0m0-1h0m1 3h0m0 2h0m2-2h0m1 0h0m3-3h0m5 1h0m1 6h0m0-7h0m0 3h0m0 1h0m1 3h0m0-4h0m1-2h0m0 2h0m0 3h0m2-3h0m0 3h0m1-4h0m0 5h0m1-6h0m2 5h0m1 1h0m1-6h0m0 2h0m0 3h0m3-5h0m0 6h0m1-3h0m0 2h0m0-6h0m1 7h0m1-5h0m1-1h0m0 3h0m0-1h0m1-2h0m2 5h0m4-6h0m0 2h0m1-1h0m2 3h0m1 2h0m0-5h0m2-1h0m0 3h0m2 4h0m1-1h0m1 0h0m2-4h0m0 3h0m1-5h0m0 1h0m1-1h0m0 5h0m2-4h0m0 6h0m2-6h0m1 1h0m1 4h0m1-2h0m0-2h0m1-1h0m0 2h0m1-2h0m2 1h0m0 1h0m1 3h0m0-5h0m0 2h0m1 0h0m0 2h0m0-1h0m2 2h0m0-4h0m0 3h0m2 0h0m1-4h0m0 6h0m1-5h0m0 2h0m1 3h0m1-1h0m3 1h0m0-7h0m4 7h0m1-7h0m1 1h0m1 6h0m0-1h0m1-4h0m1 1h0m2 1h0m1-2h0m0-1h0m1 3h0m0-4h0m0 2h0m1-1h0m2 1h0m1 3h0m0-4h0m0-1h0m1 2h0m1 3h0m0 2h0m0-7h0m1 6h0m2-1h0m1 2h0m2-5h0m0-1h0m0 4h0m1 1h0m0 1h0m2-6h0m0 6h0m1-6h0m2 5h0m1-2h0m1 2h0m0-1h0m2-1h0m0-1h0m1 0h0m0-3h0m4 7h0m1 0h0m1-2h0m1-4h0m0 3h0m0-1h0m3-2h0m0 5h0m0-6h0m1 5h0m1-1h0m1 3h0m0-5h0m2 0h0m6-2h0m-8 9h0m0-1h0m-1 2h0m-1 4h0m0 1h0m-6-2h0m-2-3h0m-5 2h0m-2 0h0m-1 0h0m-1-1h0m-1-2h0m-1 6h0m0-6h0m0 1h0m-1 1h0m-1 1h0m-1-2h0m0 5h0m-2-3h0m-1-4h0m-3 5h0m-3-1h0m-1 2h0m-2-4h0m-5 2h0m0 3h0m0-6h0m-1 5h0m-1-2h0m-1-3h0m0 4h0m-1-4h0m-1-1h0m0 2h0m-1-2h0m0 3h0m-2 1h0m-1-2h0m0 5h0m-1-6h0m-2-1h0m0 3h0m-1-1h0m-1 5h0m0-7h0m-1 0h0m0 3h0m0 2h0m-1-2h0m-5-3h0m-1 1h0m-1 1h0m-1 4h0m0-1h0m0-1h0m-1 2h0m-1-5h0m0 5h0m-5-4h0m-1 0h0m-1 1h0m0 4h0m-2-5h0m0 1h0m0-3h0m-3 5h0m-1 1h0m0-1h0m-1-3h0m-1 5h0m-2-1h0m0-4h0m-1 3h0m-3-5h0m-2 4h0m0-3h0m-1 1h0m-4 1h0m-1-3h0m-1 5h0m-1-1h0m-1-2h0m0 2h0m-1-1h0m-2 4h0m0-1h0m-1-4h0m-2 0h0m-1 0h0m0 3h0m0 2h0m-1-2h0m-1 2h0m-1-6h0m-1-1h0m0 7h0m-1-5h0m0 5h0m-1-6h0m0 4h0m0 2h0m-1-3h0m0-1h0m0 3h0m-1-3h0m0 3h0m0-1h0m-1-3h0m-1 3h0m0-1h0m-1-1h0m0 1h0m-1 3h0m-1-1h0m-1 0h0m0 1h0m-1-4h0m-1 2h0m-2 2h0m0-7h0m-1 4h0m0 1h0m-2-3h0m0 2h0m-3-4h0m6 8h0m2 1h0m1 3h0m3 2h0m2-4h0m1-1h0m0 2h0m0 2h0m0-1h0m1-2h0m0 4h0m1-5h0m0 2h0m0 2h0m1 2h0m1-2h0m1-4h0m0 1h0m1 4h0m0-6h0m1 7h0m1 0h0m0-4h0m1 1h0m1-4h0m2 6h0m0-6h0m1 0h0m0 6h0m2-6h0m0 2h0m1 1h0m0-1h0m1 0h0m0 5h0m0-1h0m1-3h0m0-1h0m0 4h0m1-4h0m0 4h0m1-6h0m1 1h0m0 6h0m1-7h0m1 6h0m1-2h0m0-2h0m1 1h0m0 2h0m1 0h0m0 2h0m0-6h0m2 0h0m1 6h0m0-5h0m0 3h0m1 2h0m0-2h0m1-1h0m1 0h0m3-1h0m0 4h0m0-7h0m2 1h0m0 1h0m1 0h0m0-1h0m0 3h0m1 0h0m0 2h0m0-3h0m1-1h0m2 2h0m1 3h0m1-5h0m0 4h0m1-5h0m4 6h0m1-5h0m5 4h0m0-5h0m1 4h0m0 2h0m0-6h0m1 4h0m0-1h0m1 2h0m1-5h0m0 2h0m2 0h0m0 1h0m0 2h0m2-4h0m3 1h0m0 2h0m2-1h0m4 1h0m0-1h0m0-3h0m1 1h0m0 4h0m3 0h0m4-3h0m0 1h0m0 2h0m2-3h0m0 4h0m1-7h0m0 5h0m2 2h0m1-3h0m0-4h0m4 0h0m1 7h0m0-6h0m1-1h0m0 4h0m4-3h0m0 4h0m0-1h0m2-2h0m1 1h0m0 4h0m3-5h0m0-1h0m1 0h0m0 2h0m1 3h0m3 0h0m0-6h0m0 2h0m1 4h0m1-4h0m1 2h0m0 2h0m1-2h0m2-3h0m1-1h0m0 3h0m1 1h0m-7 4h0m-1 1h0m0-1h0m-2 0h0m-2 7h0m0-7h0m0 6h0m-1-6h0m-2 6h0m0-4h0m-1 2h0m0-3h0m-1 4h0m0-5h0m-1 1h0m0 4h0m-1-5h0m0 1h0m-1 1h0m0 4h0m-1-3h0m0 3h0m-1-3h0m0 2h0m0 2h0m-1-6h0m0 3h0m0-1h0m0 2h0m-2 2h0m0-4h0m-2 4h0m-1-1h0m0-6h0m-1 1h0m0 2h0m-2 2h0m0 2h0m0-3h0m-1-4h0m-1 6h0m-1-5h0m-1 0h0m-2-1h0m0 6h0m-2 1h0m0-1h0m-1-2h0m-1 2h0m-2-3h0m-1 0h0m0 4h0m-1-4h0m0-1h0m0 2h0m-1-3h0m0 6h0m-2-4h0m-2 2h0m0 1h0m-1-3h0m-1 0h0m0 3h0m0-1h0m0 2h0m-1 0h0m0-6h0m-1 1h0m0 4h0m-2 1h0m0-3h0m-2 0h0m-1 1h0m-1 0h0m-3-4h0m0 2h0m0 3h0m0-6h0m-1 6h0m-1-5h0m0 4h0m-2-2h0m0 4h0m0-1h0m-1-6h0m0 2h0m-1 0h0m0 1h0m-1 4h0m0-6h0m0-1h0m0 2h0m0 2h0m-1 1h0m0 1h0m-2-1h0m0 2h0m-2-1h0m0-2h0m-1-2h0m-2 3h0m0 2h0m-1-7h0m0 1h0m-1 4h0m0-1h0m-1 3h0m0-6h0m0 2h0m-1-1h0m0-1h0m-1-1h0m-1 3h0m-1-3h0m0 4h0m-2-3h0m0 4h0m-1 1h0m-1 1h0m-1-1h0m0-4h0m-1 4h0m0-5h0m-1-1h0m0 2h0m0 2h0m0 1h0m-1-4h0m0 4h0m-1-3h0m0-1h0m0 3h0m-1-4h0m-1 5h0m0 2h0m-1-4h0m0-2h0m-1 2h0m-1 0h0m-2 1h0m-2-4h0m0 2h0m0-1h0m-1 0h0m-1-1h0m-1 1h0m0 2h0m0 4h0m-1-2h0m0 2h0m-1-2h0m-2-4h0m-1 1h0m-1 2h0m-1 1h0m0-4h0m8 7h0m1 1h0m0-1h0m2 1h0m1 1h0m1-2h0m1 2h0m1 2h0m0-4h0m0 3h0m1-1h0m0 1h0m2 1h0m2 2h0m1-2h0m0-1h0m1-2h0m1-1h0m2 1h0m1 5h0m2-6h0m1 7h0m2-6h0m0-1h0m1 1h0m0 3h0m1 3h0m0-6h0m2 6h0m0-6h0m0 2h0m0 1h0m1-2h0m2-2h0m2 1h0m1-1h0m0 4h0m1 1h0m0-4h0m1-1h0m1 3h0m1-2h0m1-1h0m1 4h0m0 2h0m1-4h0m2 1h0m0-1h0m2 3h0m0 1h0m1 1h0m2-1h0m3 0h0m0 1h0m1-1h0m0 1h0m2-3h0m0-4h0m2 3h0m1 4h0m0-6h0m1 6h0m3-4h0m2 1h0m1-3h0m1 1h0m1 5h0m3-7h0m1 1h0m1 4h0m0 1h0m0-3h0m1-1h0m2-2h0m1 7h0m0-6h0m1-1h0m0 3h0m0 1h0m1-2h0m1 2h0m1-1h0m2-1h0m1-1h0m0 4h0m0-1h0m0-4h0m1 1h0m0 5h0m2-5h0m1-1h0m2 1h0m8 1h0m-27 8h0m-2-2h0m-1 0h0m-1 2h0m-1-1h0m0-1h0m-2 1h0m-1 2h0m-1 2h0m-1-2h0m-1 0h0m0 4h0m-1-1h0m0-3h0m-1 4h0m-1-7h0m0 1h0m-1 2h0m-1-2h0m0 3h0m-2-1h0m-1 2h0m-1 1h0m0-6h0m-1 3h0m-2 0h0m0-2h0m-2 0h0m0 3h0m-1-1h0m-1-3h0m0 1h0m0 2h0m-7 1h0m0-3h0m0 2h0m-12-3h0m-1 2h0m-5-2h0m31 8h0m4 4h0m2-4h0m1 2h0m1 0h0" stroke="#EE4A30" stroke-width="1.8" stroke-linecap="round"/>
<path transform="scale(.5)" d="M274 326h0m1-3h0m1 4h0m2-2h0m1 1h0m3-1h0m1 1h0m-1 4h0m-2-2h0m0 6h0m0-1h0m0-4h0m-1-1h0m-1 2h0m-1 0h0m-2 0h0m1 8h0m3 0h0m0-2h0m0 6h0m1-2h0m0 2h0m0-1h0m1 1h0m0-4h0m1 5h0m0-7h0m0 6h0m0-1h0m1-1h0m0 3h0m1-2h0m0-3h0m0 5h0m0-1h0m1-2h0m0 3h0m0-6h0m1 4h0m0-1h0m3-1h0m0 9h0m-1-1h0m0 3h0m-1-2h0m-1-1h0m0-2h0m0 3h0m-1 0h0m0-1h0m0-1h0m0 3h0m-1 1h0m-2-4h0m0-1h0m0 3h0m-1-2h0m1 7h0m2 0h0m2 0h0m0-1h0m2 1h0" stroke="#B0206E" stroke-width="1.9" stroke-linecap="round"/>
<path transform="scale(.5)" d="M308 319h0m-1-3h0m-1 2h0m-1-2h0m-1 2h0m0 1h0m-1-1h0m0 1h0m-1-1h0m0-1h0m-1 2h0m0-1h0m-2-1h0m-1 2h0m-1 0h0m-4 2h0m0 3h0m0 2h0m1-6h0m0 4h0m0 2h0m0-5h0m1 2h0m0 1h0m1-3h0m1 0h0m1 2h0m1-2h0m0 5h0m2 1h0m2-7h0m3 1h0m0 2h0m0 4h0m1-6h0m0-1h0m0 4h0m1-4h0m1 7h0m0-5h0m0 4h0m1-1h0m0 2h0m1 0h0m-1 3h0m-1-2h0m0 2h0m0-1h0m-1 4h0m0-3h0m0 2h0m0 2h0m-1-4h0m0 3h0m0 2h0m-1 0h0m-1-7h0m-1 0h0m-1 1h0m-1 2h0m0 4h0m0-3h0m-2 3h0m-1 0h0m-1-7h0m-2 2h0m0 3h0m-1 2h0m0-1h0m-1-5h0m0-1h0m-1 0h0m0 4h0m-1 0h0m-1-4h0m8 8h0m1 0h0m4 1h0m1 0h0m1-1h0" stroke="#111" stroke-width="1.9" stroke-linecap="round"/>
<path transform="scale(.5)" d="M289 358h0m0 1h0m1-3h0m1 3h0m2-1h0m0 1h0m0 2h0m-3 0h0m0-1h0m-3 0h0" stroke="#0D6B38" stroke-width="1.9" stroke-linecap="round"/>
<path transform="scale(.5)" d="M226 409h0m-20 20h0m-29-2h0m19 6h0m12 1h0m0 1h0m16 11h0m-13-4h0m-6 4h0m-1-4h0m-4 3h0m5 5h0m4 2h0m5-1h0m29 2h0m-15 4h0m-21 4h0m-9 2h0m-19-1h0m3 6h0m21 1h0m1-4h0m11 6h0m13-7h0m-13 12h0" stroke="#D8C01C" stroke-width="2" stroke-linecap="round"/>
<rect x="35.70" y="135.60" width="175.10" height="183.60" fill="none" stroke="#555" stroke-width="1" />
<line x1="33.00" y1="179.40" x2="35.70" y2="179.40" stroke="#555" stroke-width="0.9"/>
<text x="23.29" y="182.00" font-size="7.2" fill="#333">25</text>
<line x1="33.00" y1="229.40" x2="35.70" y2="229.40" stroke="#555" stroke-width="0.9"/>
<text x="27.30" y="232.00" font-size="7.2" fill="#333">0</text>
<line x1="33.00" y1="279.40" x2="35.70" y2="279.40" stroke="#555" stroke-width="0.9"/>
<rect x="17.82" y="279.17" width="4.75" height="0.76" fill="#333"/>
<text x="23.29" y="282.00" font-size="7.2" fill="#333">25</text>
<line x1="37.50" y1="319.20" x2="37.50" y2="322.00" stroke="#555" stroke-width="0.9"/>
<rect x="29.56" y="328.07" width="4.75" height="0.76" fill="#333"/>
<text x="35.03" y="330.90" font-size="7.2" fill="#333">50</text>
<line x1="80.00" y1="319.20" x2="80.00" y2="322.00" stroke="#555" stroke-width="0.9"/>
<rect x="72.06" y="328.07" width="4.75" height="0.76" fill="#333"/>
<text x="77.53" y="330.90" font-size="7.2" fill="#333">25</text>
<line x1="122.50" y1="319.20" x2="122.50" y2="322.00" stroke="#555" stroke-width="0.9"/>
<text x="120.50" y="330.90" font-size="7.2" fill="#333">0</text>
<line x1="165.00" y1="319.20" x2="165.00" y2="322.00" stroke="#555" stroke-width="0.9"/>
<text x="161.00" y="330.90" font-size="7.2" fill="#333">25</text>
<line x1="207.50" y1="319.20" x2="207.50" y2="322.00" stroke="#555" stroke-width="0.9"/>
<text x="203.50" y="330.90" font-size="7.2" fill="#333">50</text>
<text x="121.15" y="341.80" font-size="8.8" text-anchor="middle" fill="#1a1a1a" font-weight="bold" textLength="16.1" lengthAdjust="spacingAndGlyphs" >tSNE1</text>
<text transform="translate(18.00,231.40) rotate(-90)" font-size="9.6" text-anchor="middle" fill="#1a1a1a" font-weight="bold" textLength="17" lengthAdjust="spacingAndGlyphs">tSNE2</text>
<path transform="scale(.5)" d="M600 286h0m0-1h0m-1 1h0m-4 1h0m-4-4h0m-9 4h0m-1-5h0m-1 5h0m-8-1h0m-7 0h0m-6 3h0m16 4h0m26-1h0m2 1h0m10 9h0m-2 0h0m0-1h0m-1-1h0m-2 2h0m-1 0h0m-6-3h0m-16-2h0m-4 5h0m-12-6h0m-10 6h0m-2-3h0m-5 4h0m-12 2h0m5 0h0m10 2h0m4-3h0m0 1h0m3-1h0m2 1h0m4 4h0m2 0h0m3 2h0m1-5h0m3-2h0m13 3h0m6-3h0m10 6h0m1 1h0m0-5h0m1-1h0m0-1h0m1 1h0m0 1h0m1 1h0m2-2h0m18 12h0m-4 2h0m-15-4h0m-4 2h0m0-5h0m-1 5h0m0-3h0m-1 0h0m0 1h0m-1-2h0m0-1h0m0 2h0m-1 5h0m0-7h0m-4 4h0m-2 0h0m-3-4h0m-18 0h0m-4 5h0m-5-4h0m-1 2h0m-1 3h0m0-1h0m-6-4h0m-9 4h0m-8-4h0m-4 14h0m13-6h0m1 0h0m4 1h0m1 2h0m3 1h0m1 1h0m6-5h0m2 6h0m2-4h0m3 0h0m5 4h0m25-4h0m1 3h0m20-2h0m0-1h0m0 4h0m2 0h0m1-3h0m1-1h0m0 4h0m1-6h0m2 6h0m0-7h0m1 6h0m2 1h0m11-4h0m12 10h0m-16 1h0m-9-6h0m-4 0h0m0 3h0m-1-2h0m-1 1h0m-9 5h0m-4 0h0m-4-4h0m-19-1h0m-7 3h0m-15-2h0m-8 0h0m-1 1h0m-9-3h0m-2 4h0m-5-4h0m-4 0h0m21 8h0m51 5h0m6-1h0m25-5h0m1 5h0m7 5h0m-21 0h0m-29-1h0m-42 4h0m-1 0h0m13 10h0m5-3h0m11-3h0m1 0h0m41 6h0m7-5h0m8-1h0m0 2h0m11 0h0m31 11h0m-26-6h0m-10 3h0m-12 4h0m-2-2h0m-56-2h0m-3 10h0m53-5h0m22 0h0m3 0h0m3 6h0m1 0h0m2 0h0m0-1h0m0-5h0m8 1h0m2 3h0m8-3h0m5 5h0m4-6h0m-12 11h0m-5-1h0m-1 1h0m-6 0h0m-1-3h0m-2 2h0m-1-2h0m-1 0h0m0 2h0m-22 0h0m-35 1h0m-16 2h0m-43-5h0m-20 3h0m137 6h0m15 1h0m3-2h0m-111 16h0m17 4h0m25-2h0m29 3h0m26 1h0m5-3h0m-3 11h0m-28-2h0m-80-2h0m101 6h0m-26 10h0m-9-2h0m-19 2h0m-30 9h0m10 0h0m16-1h0m23 9h0m-38-2h0m2 12h0m17 0h0" stroke="#1FA386" stroke-width="1.9" stroke-linecap="round"/>
<path transform="scale(.5)" d="M628 365h0m-1-5h0m-12 2h0m-10 4h0m-7 1h0m-7-6h0m-8 4h0m4 6h0m13 1h0m3 3h0m10 0h0m3 0h0m2-6h0m3 0h0m11 11h0m-2-3h0m-1-1h0m-3 5h0m-35-2h0m-9 4h0m-1-5h0m9 12h0m8-1h0m1 1h0m4-3h0m3 2h0m0-1h0m1 0h0m1-3h0m0 2h0m0 2h0m0 2h0m1-2h0m0-3h0m0 4h0m1-4h0m0 4h0m0-3h0m1 1h0m0-3h0m1 3h0m0 1h0m6-2h0m3 3h0m9-1h0m5-5h0m1 0h0m1 0h0m-5 15h0m-2-3h0m0-4h0m-4 6h0m-3-1h0m-1 1h0m-1-5h0m0 4h0m-1-4h0m0 4h0m-3-3h0m-2 5h0m-1-6h0m-1 5h0m0-6h0m-2 6h0m0-5h0m-1 5h0m-2-2h0m-2 1h0m-6-5h0m-4 3h0m-1 3h0m-1-5h0m7 8h0m1 6h0m0-7h0m0 4h0m0-3h0m1 4h0m1-5h0m0 2h0m0 3h0m0 2h0m1-1h0m0-1h0m1-1h0m0-1h0m1 2h0m0 2h0m0-1h0m1 0h0m1-4h0m2 1h0m0 4h0m3-1h0m0-5h0m2 4h0m0-5h0m1 5h0m1 1h0m0-5h0m2 5h0m1-1h0m1-5h0m1 7h0m1-1h0m4-2h0m2 3h0m5-6h0m1 3h0m2-2h0m-6 9h0m0 2h0m-2-5h0m-1 4h0m-3-3h0m-1 5h0m-1 1h0m0-2h0m-1 2h0m0-5h0m-1 5h0m0-1h0m0-1h0m-1-2h0m-1 1h0m-1-2h0m-1 2h0m-3-2h0m-1 4h0m-1-6h0m-4 2h0m-2 0h0m-1-2h0m-2 1h0m-2 0h0m12 12h0m0-5h0m8 2h0m1-2h0m1 0h0m0 2h0m1-1h0m0 1h0m6 3h0m9-1h0m1 2h0m2 6h0m-6-4h0m-7 13h0m4-4h0m1 0h0" stroke="#45BCE6" stroke-width="1.9" stroke-linecap="round"/>
<path transform="scale(.5)" d="M532 359h0m18-5h0m1 3h0m7 0h0m7-2h0m5 4h0m3-2h0m-9 8h0m-8-3h0m-4 1h0m-14 0h0m-1 0h0m-2 4h0m-2 3h0m2-2h0m0 3h0m1-2h0m1 0h0m1 1h0m7 0h0m0 3h0m7 0h0m3-3h0m-19 8h0" stroke="#2C4B9A" stroke-width="1.9" stroke-linecap="round"/>
<path transform="scale(.5)" d="M550 375h0m4-1h0m3 0h0m1-1h0m3 1h0m4 0h0m11 7h0m-3 0h0m-1 1h0m-1-4h0m0 5h0m-1-6h0m0 2h0m-1 4h0m-1-5h0m-1 3h0m0-3h0m-1 1h0m-1 3h0m0-6h0m-2 4h0m-2-2h0m0 4h0m0-5h0m0-1h0m-2 3h0m0 4h0m0-5h0m-1 2h0m0-1h0m0 2h0m0-5h0m-1 1h0m-1 3h0m0 1h0m-1-1h0m0-3h0m0 4h0m-1-3h0m0-1h0m0 4h0m0 2h0m-1-2h0m0-5h0m-1 2h0m-1-1h0m0 6h0m-1-4h0m0 4h0m0-6h0m0 4h0m-1-4h0m0 3h0m-1 0h0m0 3h0m0-5h0m0 3h0m-1-3h0m0 3h0m-1 2h0m-3-1h0m-1 1h0m-3 8h0m1-2h0m0 2h0m1-1h0m1-4h0m1 4h0m1 0h0m0-5h0m1 3h0m1 3h0m0-2h0m1-4h0m1 1h0m1 4h0m0-1h0m0-5h0m1 0h0m0 7h0m0-1h0m1-1h0m0-5h0m0 3h0m1 0h0m0 4h0m0-2h0m1-5h0m0 4h0m0 3h0m1-5h0m0 2h0m1-4h0m1 5h0m1 1h0m0-2h0m1-4h0m0 6h0m1 1h0m1-2h0m1-5h0m0 3h0m0-1h0m1 3h0m1-2h0m0-1h0m0 4h0m1-5h0m1 2h0m0-2h0m1-1h0m0 7h0m0-6h0m1 3h0m1 3h0m0-2h0m0-5h0m2 3h0m1-2h0m2 6h0m0-2h0m1 2h0m0-1h0m1-1h0m0-5h0m0 7h0m1-2h0m0-1h0m1 0h0m0-2h0m1 8h0m-2 0h0m0 4h0m-1-6h0m0 3h0m-1 2h0m0-2h0m-1 2h0m-1-5h0m-2 1h0m-1 0h0m-1-1h0m0 7h0m0-5h0m-1 5h0m0-1h0m-1 0h0m0-6h0m0 2h0m-2 1h0m-1 1h0m0-1h0m0 3h0m-1-3h0m0 2h0m-1-4h0m-1 2h0m0 4h0m0-5h0m-1 5h0m0-1h0m0-2h0m-1 2h0m0-2h0m-1 0h0m0-1h0m0 4h0m0-1h0m-1 1h0m0-3h0m-1-3h0m0 2h0m0 4h0m-1-3h0m-1-1h0m-1 1h0m0 3h0m0-6h0m-1 2h0m0-1h0m0 4h0m0-6h0m-1 4h0m-1-2h0m-1 4h0m0-1h0m0-2h0m-1 3h0m0-5h0m0-1h0m0 3h0m-1-3h0m0 6h0m-1 0h0m-1-1h0m0-4h0m-1 0h0m-1 6h0m0-5h0m0 4h0m-1-3h0m0-2h0m-1 0h0m-2-1h0m0 4h0m-1-1h0m0 4h0m0 6h0m1 0h0m1 2h0m0-5h0m0 4h0m0-6h0m0 4h0m1 3h0m0-6h0m0-1h0m1 5h0m0 2h0m1-4h0m0 2h0m0-5h0m1 6h0m0-2h0m1-3h0m0 3h0m0-2h0m1 5h0m0-5h0m0 4h0m0-6h0m1 5h0m0-3h0m2 5h0m0-6h0m1 4h0m1 2h0m0-2h0m1-5h0m0 1h0m1 1h0m1 5h0m0-6h0m0-1h0m1 4h0m0-1h0m1 4h0m0-5h0m0 2h0m1 0h0m0-1h0m0 3h0m0-6h0m1 6h0m0-5h0m0 4h0m0 2h0m0-5h0m1-1h0m0 3h0m1 3h0m0-7h0m2 1h0m0-1h0m1 7h0m0-5h0m0-1h0m1 3h0m1-2h0m1 3h0m0-2h0m0-1h0m1 5h0m0-2h0m1 2h0m0-6h0m0 3h0m1 2h0m0-5h0m1 6h0m1 0h0m0-1h0m0-5h0m0 4h0m1-4h0m0 4h0m2-2h0m0-1h0m0-1h0m1 1h0m0-2h0m0 7h0m1-3h0m0-3h0m1-1h0m1 7h0m0-5h0m0 4h0m2-2h0m1-1h0m1 0h0m0 4h0m0-1h0m2 1h0m1 0h0m11-1h0m0 1h0m2 0h0m0-1h0m1-1h0m1-2h0m0-1h0m0 4h0m0-1h0m0-1h0m1 2h0m1-3h0m0 4h0m2 0h0m6 7h0m0-2h0m-1 3h0m-1-2h0m-1-2h0m0-1h0m0-1h0m-1 4h0m0-5h0m0 6h0m-1-3h0m0-1h0m0 2h0m-1 1h0m0-5h0m0 7h0m-2 0h0m0-5h0m-1 3h0m-1 0h0m0-2h0m0-1h0m0 4h0m-1-4h0m0 2h0m-1 0h0m-1-2h0m0 2h0m-1 2h0m-1-1h0m0-5h0m0 6h0m-1-4h0m-1 4h0m0-1h0m0 2h0m-1-2h0m0-1h0m0 2h0m-1 0h0m-1 1h0m-1-1h0m-1-3h0m0-1h0m-1 2h0m0 3h0m0-5h0m0 4h0m-1-2h0m0-2h0m-1 5h0m0-4h0m-1 2h0m0-5h0m0 4h0m-1-1h0m0 2h0m-1-3h0m0-1h0m0 3h0m0-1h0m-1 2h0m0 2h0m-1-5h0m0 4h0m0-3h0m-1 2h0m0 2h0m0-1h0m-1-3h0m0 3h0m0-1h0m-1-2h0m-1 0h0m0 3h0m0-5h0m-1 6h0m0-5h0m-1-1h0m0 4h0m0-5h0m0 3h0m-1 3h0m-1 1h0m0-1h0m0-5h0m-1 3h0m-1-4h0m0 1h0m0 4h0m-1-4h0m-1 2h0m0 4h0m0-6h0m-1 4h0m-1-3h0m0 1h0m-1-2h0m0 2h0m0 3h0m-1-1h0m0-1h0m-1 1h0m0-5h0m0 4h0m-1-4h0m0 4h0m0-3h0m-1 3h0m-1 1h0m-1-4h0m0 4h0m-1-2h0m0 4h0m0-5h0m0-2h0m-1 6h0m0-5h0m0 6h0m0-5h0m-1-1h0m0 4h0m-1-3h0m-1-2h0m-2 6h0m0-5h0m0-1h0m-1 7h0m0-6h0m-1 2h0m0 4h0m-1-7h0m0 3h0m-1-1h0m0 3h0m-1-3h0m0 3h0m-1 0h0m-1-2h0m0 4h0m0-2h0m-1-3h0m0 3h0m0-1h0m0-1h0m-1-2h0m0 4h0m0 2h0m0-1h0m-2-1h0m0-3h0m0 4h0m0-5h0m-1-1h0m0 4h0m0-1h0m0-2h0m-1 6h0m0-5h0m0-2h0m1 9h0m1-1h0m1 4h0m0-2h0m1 3h0m0 2h0m1-2h0m1-3h0m1 5h0m1-3h0m0 2h0m1-2h0m0-2h0m0-1h0m1 2h0m0 4h0m1-7h0m0 7h0m0-1h0m1-2h0m0-1h0m1 2h0m2-4h0m0 2h0m1 2h0m1-3h0m1 4h0m0-6h0m2 3h0m0 3h0m0-5h0m1 1h0m0-2h0m1 3h0m0 4h0m0-1h0m1 0h0m2-2h0m0 3h0m1-2h0m0-5h0m1 6h0m1-6h0m0 4h0m0-1h0m0 3h0m0-5h0m1 0h0m0 2h0m1 2h0m0-1h0m0-2h0m0 4h0m1-5h0m0 3h0m1-3h0m1 6h0m0-1h0m0-6h0m1 6h0m0-1h0m0-1h0m0-1h0m0 4h0m1-4h0m0 4h0m1-3h0m0-1h0m0-1h0m0 4h0m0-1h0m1-3h0m0 1h0m1 3h0m1-6h0m0 4h0m0-1h0m1-1h0m0 1h0m1 1h0m0-1h0m0 3h0m2 0h0m0-6h0m1 7h0m0-1h0m1-4h0m0-2h0m0 3h0m1 2h0m1-4h0m1 3h0m0-1h0m1 4h0m0-5h0m0-2h0m1 0h0m1 5h0m0-5h0m1 1h0m1 4h0m0-1h0m0 3h0m1 0h0m0-1h0m1-4h0m0 4h0m1 0h0m0-5h0m1 2h0m0-1h0m0-1h0m0-1h0m1 5h0m0-5h0m0 7h0m0-6h0m1 5h0m0-5h0m1 4h0m0-5h0m1 3h0m0 4h0m1-6h0m1 2h0m0 4h0m1-6h0m1 2h0m0 3h0m1-3h0m2 0h0m0-2h0m1 1h0m1 0h0m0-2h0m1 6h0m1-4h0m0 2h0m1 2h0m2-1h0m11 10h0m-5-1h0m-1 0h0m0-2h0m-1-2h0m-1 5h0m-1-6h0m0 3h0m0 3h0m0-5h0m-1 3h0m-1-3h0m0 4h0m0-1h0m0-5h0m0 4h0m-1-3h0m-1 6h0m0-1h0m0-5h0m0 4h0m0-1h0m-1-2h0m-1-1h0m0-1h0m0 4h0m0 3h0m-1-1h0m0-2h0m-1 2h0m-1 1h0m-1 0h0m0-1h0m0-5h0m0-1h0m0 4h0m-2 0h0m0-2h0m-1 1h0m0 2h0m-1 1h0m0-6h0m0 7h0m-1-2h0m-1 0h0m-1 2h0m0-6h0m-1 4h0m-1-5h0m0 4h0m-1 1h0m0-5h0m0 6h0m-1-1h0m-1-5h0m0 6h0m-1-4h0m-2 3h0m0-5h0m0 7h0m0-5h0m-1-1h0m0 4h0m-1-3h0m-1 1h0m-1 2h0m0-1h0m-1-1h0m0 4h0m-1-1h0m-2-5h0m0 4h0m0-2h0m-1 0h0m0-3h0m-1 6h0m-1-5h0m0 6h0m0-1h0m-1 0h0m-1 0h0m0-2h0m0-1h0m0 4h0m0-5h0m-1-1h0m0 2h0m-1 2h0m-1-5h0m0 4h0m0-2h0m-1 4h0m0-6h0m-1 1h0m-1 0h0m0 4h0m0 2h0m0-5h0m-1-1h0m0-1h0m0 4h0m-1-3h0m0 4h0m0-2h0m-1 2h0m0-2h0m-1 0h0m0-1h0m0-1h0m0 4h0m0-5h0m-1 0h0m0 2h0m-1-2h0m0 3h0m0-2h0m0 4h0m-1-2h0m0-1h0m0-2h0m-1 3h0m-1 1h0m0-2h0m0-1h0m-1 3h0m-1-2h0m-1-1h0m0 4h0m-1 0h0m0-5h0m0 7h0m-1-6h0m0 4h0m0-5h0m-1 6h0m0-1h0m-1-4h0m0 4h0m-1-5h0m0 4h0m0 3h0m0-2h0m-1 2h0m0-6h0m-1 0h0m0 4h0m0-1h0m0-2h0m-1 4h0m0-5h0m-1 5h0m-1-5h0m0 6h0m-2-6h0m0 2h0m-1 2h0m0 2h0m0-5h0m-1 1h0m0 4h0m0-6h0m0 3h0m-1-4h0m0 4h0m-1-1h0m0 4h0m0-5h0m0 3h0m-1-2h0m0 3h0m0-6h0m0 4h0m-1 0h0m0-1h0m2 5h0m1 1h0m0-1h0m0 4h0m2-2h0m0 5h0m1-5h0m0-2h0m1 6h0m0-5h0m1 4h0m0-2h0m1 2h0m1 2h0m1-2h0m1-2h0m0 2h0m1-4h0m0 2h0m0 3h0m1-5h0m0 4h0m0-2h0m1-3h0m0 3h0m0-1h0m0 4h0m1-3h0m1 2h0m0-5h0m0 4h0m1 0h0m0-1h0m0-1h0m1 2h0m1 3h0m0-5h0m0-1h0m1-1h0m0 3h0m1-1h0m1 0h0m1 1h0m1-1h0m0-1h0m0-1h0m0 4h0m1 0h0m0 2h0m1-5h0m1 0h0m1 2h0m0-2h0m1 4h0m2-1h0m0-1h0m0 4h0m0-6h0m1 6h0m0-1h0m1-6h0m0 4h0m0-2h0m1 5h0m0-2h0m0-2h0m1 4h0m0-5h0m0-2h0m4 4h0m0 3h0m1-5h0m2 3h0m0-1h0m0 2h0m1-4h0m0-1h0m0 4h0m0-1h0m1-3h0m1 1h0m0 3h0m1-3h0m0-1h0m1 3h0m1-2h0m0 3h0m0-2h0m1 1h0m0-1h0m0 3h0m0-5h0m0 4h0m0-5h0m1 4h0m0 2h0m0-5h0m1 5h0m0-1h0m0-2h0m1 1h0m0-1h0m1 2h0m1-3h0m0 4h0m0-5h0m1 3h0m1 3h0m1-3h0m1-1h0m0 4h0m0-1h0m1-4h0m0 3h0m0-1h0m1 1h0m0-2h0m0 4h0m0-6h0m1 4h0m0 2h0m0-5h0m0 4h0m1-5h0m0 4h0m1-1h0m0 2h0m0-5h0m1 5h0m0-5h0m0-1h0m1 3h0m0 4h0m0-1h0m0-5h0m1 4h0m0-5h0m0 4h0m0-1h0m0 4h0m0-5h0m1 0h0m0-2h0m0 3h0m1 0h0m0-1h0m0 4h0m0-5h0m1 5h0m0-1h0m1-3h0m0-2h0m1 1h0m1 1h0m0 4h0m0-3h0m1 4h0m0-5h0m0-1h0m1 5h0m0-1h0m1 2h0m0-2h0m0-1h0m0-1h0m1-2h0m1 3h0m0-1h0m0 2h0m1-3h0m0 1h0m1 0h0m3-1h0m1 4h0m-1 3h0m-5 0h0m0 1h0m-3-2h0m0 4h0m0-2h0m-1 0h0m0-1h0m0 4h0m0-5h0m-1 1h0m-1 0h0m0 6h0m-1-5h0m0 3h0m0-5h0m0 4h0m-1-1h0m-1-3h0m0 4h0m-2 1h0m0-1h0m0-1h0m0-1h0m-1 2h0m-1-3h0m0-1h0m-1 6h0m0 1h0m0-5h0m-1 1h0m0 2h0m-1 0h0m0-2h0m0 4h0m-1-5h0m-1 2h0m0 2h0m0-6h0m-1 1h0m0 1h0m-1-2h0m0 2h0m0-1h0m0 4h0m-1-2h0m0-3h0m-1 3h0m0 4h0m-1-4h0m0-3h0m-1 2h0m0 4h0m0-5h0m0 3h0m-1-3h0m-1 3h0m0-2h0m0 3h0m-1 1h0m-1-6h0m0 4h0m0-1h0m0 4h0m-1-5h0m0 4h0m0-1h0m-1-4h0m0 2h0m0 2h0m0-1h0m0 3h0m-1-7h0m0 6h0m0-5h0m-1 4h0m0-5h0m0 4h0m-1-1h0m0 4h0m-1 0h0m0-5h0m-1 4h0m0-3h0m0 4h0m-1-6h0m0 6h0m0-5h0m0 4h0m-1-3h0m0 4h0m0-2h0m-1-4h0m0 4h0m-1 0h0m0-5h0m-1 4h0m0-1h0m0 4h0m-1-6h0m0 4h0m0-1h0m-1 3h0m0-2h0m-1-2h0m0 4h0m0-6h0m0 4h0m-1-1h0m0 3h0m-2-2h0m-2-1h0m0-1h0m0-1h0m-1-1h0m0 6h0m-1-5h0m0 4h0m0-1h0m0-5h0m-1 3h0m0 3h0m-1 0h0m0-4h0m-1-1h0m-1 5h0m0 1h0m-1-5h0m0-1h0m-1 3h0m-1-2h0m-1-2h0m0 3h0m0-1h0m-1 5h0m-1-1h0m0 1h0m-2-4h0m0 3h0m-1-4h0m-1 2h0m0-3h0m-1 5h0m-1-5h0m0 3h0m-1-3h0m0-1h0m-1 2h0m-2 0h0m0-2h0m10 10h0m3 0h0m3 0h0m1-2h0m1 2h0m1-2h0m1 4h0m0-1h0m1 0h0m0-1h0m0 2h0m1-4h0m0 4h0m0-2h0m1 1h0m0-2h0m0 4h0m0-1h0m1 2h0m0-1h0m0-5h0m1 0h0m0 4h0m0-1h0m0-2h0m1 1h0m0 3h0m1-5h0m0 2h0m0 4h0m1-6h0m0 3h0m0 4h0m0-5h0m1 5h0m0-5h0m0-1h0m0 3h0m1-4h0m0 3h0m0 3h0m1-2h0m0-2h0m1 2h0m1-3h0m1 2h0m0 4h0m0-5h0m0 4h0m0-5h0m1 4h0m0-5h0m1 5h0m0-5h0m0 4h0m1-3h0m2-1h0m0 4h0m1 3h0m0-5h0m0-1h0m0-1h0m1 7h0m0-6h0m1 2h0m1 2h0m0-5h0m1 5h0m0 2h0m0-6h0m1 2h0m0-2h0m0 3h0m1-1h0m0-1h0m0 4h0m0-1h0m1 1h0m1-3h0m1 1h0m1 0h0m1-1h0m1 1h0m1-1h0m0-1h0m0 2h0m2-1h0m2 1h0m0-1h0m0-1h0m1 1h0m1-1h0m1 0h0m-23 6h0" stroke="#EE4A30" stroke-width="2" stroke-linecap="round"/>
<path transform="scale(.5)" d="M632 300h0m-4 1h0m3 5h0m1-2h0m1 1h0" stroke="#111" stroke-width="1.9" stroke-linecap="round"/>
<rect x="248.50" y="136.30" width="100.60" height="96.10" fill="none" stroke="#333" stroke-width="1" />
<text x="301.20" y="133.50" font-size="8.8" text-anchor="middle" fill="#1a1a1a" >Diagnosis</text>
<path transform="scale(.5)" d="M802 279h0m0-1h0m2 0h0m1-2h0m1 2h0m1 1h0m13 8h0m-1-1h0m-3 1h0m-1-2h0m-1 1h0m0-1h0m0-1h0m-1-1h0m0 2h0m-1-2h0m0 4h0m0-1h0m-5-4h0m-1-1h0m-1 2h0m0-2h0m-1 6h0m0-2h0m-1 0h0m0-2h0m-1 2h0m-1-1h0m-1-3h0m0 4h0m0-2h0m-1 0h0m0-2h0m0 3h0m-1-3h0m0 3h0m0-1h0m0 4h0m0-5h0m-1 1h0m0 4h0m-1-2h0m0-1h0m-2-2h0m0-1h0m0 4h0m-1-4h0m-1 4h0m0-3h0m-1-2h0m-1 1h0m0-1h0m0 4h0m0-1h0m0 4h0m-1-6h0m-1 6h0m0-1h0m0-5h0m-1 5h0m-2 0h0m-1 1h0m-2 0h0m0-1h0m-2 0h0m-1 0h0m-8 6h0m2-2h0m0 4h0m1-2h0m0 1h0m2-4h0m0 3h0m1 1h0m0-2h0m1 2h0m1-4h0m1 5h0m1 1h0m0-6h0m1 2h0m0 4h0m0-2h0m1 2h0m1-6h0m0-1h0m0 4h0m1-4h0m0 4h0m0 3h0m0-6h0m1 2h0m0-2h0m1 4h0m0-5h0m0 4h0m0-1h0m1 0h0m0 4h0m1-1h0m0-3h0m1 0h0m1-3h0m1 2h0m1-2h0m1 6h0m1-5h0m0 2h0m1 1h0m0 3h0m0-6h0m1 5h0m1-4h0m0-1h0m1 2h0m0 3h0m0-1h0m1 1h0m0-6h0m0 4h0m1-1h0m0 4h0m1-2h0m0-5h0m0 4h0m0-1h0m0 3h0m1 1h0m0-5h0m1 3h0m1-4h0m0-1h0m1 7h0m0-5h0m1-2h0m0 4h0m0-1h0m0 4h0m1-5h0m0 3h0m0-5h0m0 3h0m1 0h0m0-1h0m0 4h0m0-5h0m0-1h0m1 5h0m0-2h0m0-1h0m0-1h0m1 1h0m0 4h0m0-1h0m0-5h0m0 3h0m1 4h0m0-7h0m1 5h0m0-3h0m0 4h0m0-5h0m1 1h0m0 4h0m0-1h0m0-1h0m1-4h0m0 4h0m0-1h0m0 4h0m0-5h0m0 4h0m0-1h0m1-4h0m0 1h0m1 0h0m0-2h0m0 3h0m1-3h0m0 4h0m0-1h0m0-1h0m1 1h0m1 0h0m0-1h0m0 4h0m0-1h0m1-2h0m0 4h0m0-5h0m3 5h0m1 0h0m1-2h0m0 1h0m2 1h0m10-6h0m-9 9h0m-1 4h0m-1 1h0m0-1h0m0-6h0m0 4h0m-1 1h0m0-3h0m-1 3h0m0-5h0m0 4h0m-1 1h0m-1 0h0m-1-1h0m0-1h0m0-1h0m0-2h0m-1 5h0m0-5h0m0 2h0m-1-2h0m0 3h0m0-1h0m0-1h0m-1 2h0m0 3h0m-1-5h0m-1 5h0m-2-1h0m0-5h0m-1 2h0m-1 3h0m0-2h0m-1-2h0m-1 2h0m0 2h0m0-5h0m-1 4h0m-1 3h0m0-2h0m-1-2h0m-1-2h0m0 6h0m0-5h0m-2 4h0m-1 0h0m0-2h0m0-1h0m-1 4h0m-1-1h0m0-6h0m0 4h0m-1-4h0m0 2h0m0 4h0m-1 1h0m0-7h0m0 4h0m-1 2h0m0-5h0m0 4h0m0-2h0m0 4h0m0-5h0m-1 1h0m0 3h0m0-6h0m-1 3h0m0-1h0m0 4h0m0-5h0m-1-1h0m-1 7h0m-1-5h0m0 4h0m0-3h0m-1 3h0m-1 0h0m-2-6h0m-1 7h0m0-1h0m-1 1h0m0-5h0m0 4h0m0-1h0m0-5h0m0 4h0m-1 3h0m0-7h0m-1 5h0m0-5h0m0 7h0m-1-1h0m0-2h0m-1-4h0m-1 1h0m-1-1h0m-1 6h0m-1-5h0m0-1h0m-1 3h0m-1 3h0m-1-5h0m-1-1h0m0 7h0m0-1h0m-1-5h0m0 3h0m-1 2h0m-1-4h0m-1 2h0m-1-4h0m0 7h0m-1 0h0m0-5h0m0 2h0m-1 1h0m0-1h0m-1 2h0m0-1h0m-2-4h0m0 3h0m0-1h0m-1 3h0m-1-4h0m-1 2h0m0-3h0m-1 2h0m0 4h0m-1-1h0m0-4h0m-2 3h0m0-1h0m-7 11h0m1 0h0m1-1h0m1 0h0m0-1h0m0-1h0m1 1h0m1 1h0m0-2h0m0 3h0m1 0h0m0-5h0m0-2h0m1 0h0m0 3h0m0 3h0m0-5h0m1 5h0m0 1h0m1-4h0m0 3h0m0-5h0m1 2h0m0 4h0m0-5h0m1 4h0m0 1h0m1-4h0m0-1h0m1 3h0m0-1h0m1-1h0m0 4h0m0-5h0m0-1h0m0-1h0m1 0h0m1 6h0m0-3h0m2-3h0m0 3h0m0 4h0m1-2h0m0-5h0m1 6h0m1 0h0m0 1h0m2-5h0m1 1h0m0-1h0m2 1h0m1 1h0m0 3h0m1-4h0m1 0h0m1-3h0m0 7h0m0-5h0m1 1h0m0 2h0m1 0h0m1-2h0m1 3h0m0-1h0m0-1h0m1 0h0m0-1h0m0-2h0m1 5h0m0-6h0m1 0h0m0 4h0m0-2h0m1 3h0m0-5h0m0 2h0m1-2h0m1 0h0m0 2h0m1-1h0m0-1h0m0 3h0m1-1h0m1 2h0m1-1h0m0 4h0m0-5h0m0-2h0m0 4h0m1-2h0m1 4h0m1 0h0m0-6h0m1 7h0m1-6h0m0 2h0m1 3h0m0-5h0m0 4h0m0-5h0m1 0h0m0 6h0m0-5h0m1 1h0m0 2h0m1-2h0m0 4h0m1-4h0m2-2h0m1 5h0m0-1h0m0-1h0m1-1h0m0 4h0m0-6h0m1 2h0m1-1h0m0 4h0m1-2h0m1 2h0m1 1h0m0-2h0m1 3h0m0-2h0m1-1h0m2 3h0m1-2h0m0-1h0m1 3h0m0-5h0m0 4h0m0-5h0m1 4h0m1-3h0m0 4h0m0-6h0m0 4h0m1 2h0m0-1h0m0-5h0m0 4h0m1-4h0m1 2h0m0 4h0m0-6h0m1 3h0m0 4h0m1-7h0m0 1h0m10 4h0m12-4h0m22 10h0m-43-1h0m-1 3h0m-1-1h0m0 2h0m-1-6h0m0 3h0m0 3h0m-1-1h0m-1-1h0m0 2h0m-1 0h0m0-5h0m-1 6h0m-1-1h0m-1-4h0m0 1h0m-1-2h0m0 4h0m0-3h0m-1 5h0m0-1h0m-1-5h0m-1 4h0m0 2h0m-1-4h0m0-1h0m0-2h0m-1 6h0m0-6h0m-1 7h0m0-2h0m0-5h0m-1 7h0m0-6h0m0 4h0m-1 1h0m-1 0h0m-1 1h0m0-7h0m-1 7h0m0-1h0m-1-3h0m0 3h0m-1-1h0m-1-4h0m-1 1h0m-3 5h0m0-1h0m0-1h0m-1-4h0m0 4h0m0-5h0m-1 7h0m0-6h0m-1 1h0m0-1h0m-1 3h0m-2-4h0m0 4h0m-1 1h0m-2 1h0m0-2h0m-1-4h0m0 4h0m0 2h0m0-1h0m-2-3h0m-1 4h0m-1-6h0m-3 5h0m-1-2h0m-1-2h0m-1 6h0m-1-5h0m-1-2h0m-1 0h0m0 4h0m0-2h0m-1 2h0m-2-4h0m0 5h0m-1 2h0m0-6h0m0 2h0m-1 3h0m0-2h0m0-1h0m-1-3h0m0 3h0m0-1h0m-1 5h0m0-5h0m0-1h0m0 4h0m0-1h0m0-1h0m-1-2h0m0 2h0m0 4h0m0-5h0m-1 3h0m0-5h0m0 4h0m0-2h0m-1 5h0m0-1h0m0-1h0m0-1h0m0-1h0m-1 2h0m0-2h0m0 4h0m0-6h0m-1 2h0m0 2h0m0-5h0m-1 1h0m-1 4h0m0-5h0m0 4h0m0-2h0m-1-1h0m0 4h0m0-2h0m-1 0h0m0 4h0m-1-7h0m0 3h0m0-1h0m-2 5h0m-1-2h0m-1 0h0m0-2h0m-1 1h0m0-2h0m-1 1h0m0-2h0m-1 0h0m0-1h0m0 3h0m-1-3h0m0 4h0m0 3h0m0-5h0m-1 5h0m0-3h0m-1-3h0m0-1h0m0 4h0m-1 7h0m1 3h0m0-6h0m1 7h0m0-6h0m1 4h0m0-1h0m1 3h0m0-3h0m0 2h0m1 0h0m1-5h0m0 4h0m0-2h0m0 4h0m2-2h0m0-5h0m0 4h0m0 3h0m0-5h0m1 1h0m0 4h0m1-3h0m0 1h0m0-5h0m1 1h0m0 4h0m0-1h0m0-1h0m1 4h0m0-3h0m1 0h0m0-2h0m0-1h0m0 4h0m1-5h0m1 7h0m0-1h0m0-6h0m0 4h0m1-4h0m0 4h0m1-3h0m0-1h0m0 3h0m2-1h0m1 3h0m1-2h0m0-1h0m0 4h0m0-5h0m0 4h0m1-3h0m0 4h0m0-5h0m0 4h0m0-1h0m1-1h0m0 4h0m0-1h0m0-1h0m2-4h0m0 4h0m0-3h0m1 1h0m0 3h0m0-5h0m1 3h0m0-2h0m1-1h0m0 1h0m1 5h0m0-5h0m0 4h0m0-6h0m1 6h0m0 1h0m1-5h0m1-1h0m0 3h0m1 1h0m0 2h0m1-3h0m0 3h0m1-2h0m0-5h0m0 6h0m1-4h0m1 5h0m0-7h0m1 1h0m0 5h0m0 1h0m1 0h0m0-1h0m0-5h0m0 4h0m0-2h0m1-2h0m0 4h0m1-4h0m0 2h0m1 3h0m0-5h0m0-1h0m1 3h0m0-2h0m0 4h0m0-5h0m1 1h0m0 3h0m1 3h0m0-5h0m0-2h0m1 3h0m1 2h0m0-2h0m1 2h0m0-5h0m1 4h0m0-1h0m0-1h0m2 5h0m1-3h0m0 3h0m1-7h0m1 0h0m0 7h0m1-1h0m0-1h0m0-2h0m1-2h0m0-1h0m1 3h0m1-2h0m0-1h0m1 2h0m0-2h0m1 6h0m0-4h0m1 1h0m0 3h0m0-6h0m1 3h0m1 2h0m0-3h0m1-1h0m0 4h0m1-5h0m0 4h0m0-2h0m1 4h0m0-5h0m0-1h0m0 3h0m1-2h0m0 4h0m0-5h0m1 0h0m2 5h0m2-3h0m3-2h0m0 4h0m16-2h0m2 3h0m19 2h0m1-2h0m1 2h0m3-1h0m7-3h0m17 12h0m-16-3h0m-8-1h0m-2 2h0m0-5h0m-1 2h0m0 4h0m0-1h0m0-5h0m-1 3h0m-4-1h0m-63 3h0m-2-3h0m-1 3h0m-1-2h0m-1-2h0m-1 6h0m-1-4h0m0-1h0m0-1h0m-1 5h0m0-5h0m-1-1h0m-1 3h0m0-2h0m0 4h0m-1-3h0m-1-2h0m-2 2h0m0-1h0m-1 4h0m-1-1h0m-1 1h0m0 2h0m0-5h0m-1 0h0m0-1h0m0 4h0m0-5h0m0 4h0m0-1h0m-1 4h0m-1-2h0m-1 1h0m0-1h0m0-1h0m-2-2h0m0 4h0m-1-3h0m0 4h0m0-5h0m0 4h0m0-2h0m-1 2h0m-1-3h0m-1 0h0m0 4h0m0-5h0m-1-1h0m0 4h0m0 2h0m-1 0h0m0-5h0m-1 4h0m0-6h0m0 4h0m0 3h0m0-5h0m-1 2h0m0-2h0m-1 4h0m0-1h0m0-5h0m0 4h0m-2 1h0m-1-4h0m0 4h0m0-1h0m-1 2h0m0-2h0m0-2h0m-1-1h0m0 4h0m-2-1h0m0-2h0m-1 0h0m0 2h0m-1 1h0m0-2h0m0 4h0m-1-3h0m0 1h0m-1 2h0m0-6h0m0-1h0m-1 0h0m-1 2h0m0-1h0m-1 1h0m0-2h0m2 15h0m4-5h0m1-1h0m1 3h0m1 2h0m1-4h0m1 5h0m1-7h0m0 7h0m1-1h0m0-2h0m2 2h0m1 1h0m1-3h0m0-1h0m0-1h0m2 2h0m0-1h0m1 2h0m1-3h0m0 4h0m1-4h0m1 2h0m0 3h0m0-5h0m2 5h0m1-5h0m0-1h0m0 4h0m1-4h0m2 6h0m0-5h0m0 3h0m1-3h0m3 2h0m0-2h0m0-1h0m1-1h0m0 2h0m1 4h0m0-5h0m0 3h0m1 3h0m0-1h0m1-1h0m0-2h0m0 4h0m1 0h0m0-1h0m0-1h0m1-3h0m1-1h0m0 4h0m0-5h0m0 2h0m0 5h0m1-7h0m3 5h0m2-5h0m0 4h0m4 2h0m21-1h0m7-2h0m1 0h0m12 0h0m20 9h0m-14-2h0m-1 2h0m-2 3h0m-57-5h0m-10-2h0m-5 3h0m-1 0h0m0-3h0m-3 0h0m0 4h0m-4-4h0m-13 7h0m-7-7h0m1 8h0m2 2h0m10-2h0m18 2h0m25-1h0m9 2h0m43-3h0m5 1h0m25 2h0m6 2h0m-2 10h0m-6-5h0m-26-2h0m-59 2h0m-19 1h0m-19 5h0m2 0h0m30 0h0m11 2h0m14 3h0m24-2h0m5-2h0m39-1h0m9 2h0m10-2h0m-32 9h0m-1 1h0m-4-2h0m-17 2h0m-42 4h0m-4-6h0m-4 6h0m-3 0h0m-5-5h0m-1 1h0m-25 0h0m-1 4h0m-1 1h0m-1 0h0m0-1h0m-1 1h0m-4-1h0m-2 0h0m-4 7h0m2-1h0m6-2h0m0-2h0m1 2h0m10 1h0m3-2h0m4 6h0m12-7h0m3 5h0m0-5h0m3 2h0m1 0h0m1 2h0m0-2h0m0 4h0m1-5h0m4 2h0m26 3h0m2-4h0m30 0h0m14-2h0m3 6h0m0 6h0m-17-2h0m-1-2h0m-30 7h0m-15-2h0m-36-5h0m-20 8h0m34 2h0m1-1h0m7 2h0m1-1h0m33 3h0m12 1h0m25-1h0m21-5h0m-42 13h0m-7 1h0m-4 0h0m-2-2h0m-12-2h0m-9 4h0m-3-1h0m-7-1h0m-36 11h0m16-6h0m32 0h0m4 1h0m1 2h0m11-3h0m10 2h0m1 3h0m8-6h0m4 1h0m-17 9h0m-7-2h0m-8 7h0m-25-3h0m-5-2h0m-9 4h0m-11-1h0m19 10h0m25-6h0m24 5h0m2 0h0m1 1h0m0-1h0m2-3h0m9 9h0m-1 0h0m-7-3h0m-1 2h0m-2 1h0m0-3h0m-1 2h0m-1-3h0m0 2h0m-1-2h0m-21 4h0m-35-2h0m31 9h0m1-2h0m13 0h0m10 4h0" stroke="#1FA386" stroke-width="1.9" stroke-linecap="round"/>
<path transform="scale(.5)" d="M790 371h0m8 1h0m2 3h0m20 2h0m-3 1h0m-18 5h0m-8-2h0m-2 0h0m-5-5h0m-3 6h0m-9-5h0m-1 5h0m-1-3h0m-2 1h0m0 7h0m2-1h0m0 2h0m0-3h0m1 0h0m1 5h0m0-5h0m0 2h0m1-2h0m0-1h0m3 1h0m0 2h0m1-3h0m0 6h0m1 1h0m6-1h0m1 1h0m3-5h0m1 1h0m19-1h0m11-2h0m2 6h0m-8 7h0m-20 2h0m-15-6h0m3 14h0m7-2h0m13 2h0m5-6h0m6 2h0m5 4h0m0-1h0m6-4h0m1-2h0m2 14h0m-4-4h0m-2-2h0m-8 7h0m-2-6h0m-9 3h0m-2 0h0m-8 1h0m-2-1h0m4 6h0m3 2h0m4 0h0m6-3h0m5 1h0m-1 9h0m-10 4h0m-6 5h0m10-2h0m0 4h0m3-1h0m0 2h0m1 0h0m3-1h0m13-4h0m7 6h0m-13 2h0m-3 0h0m-3 2h0m0-1h0m-1 1h0m-2-4h0m-1 7h0m0-7h0m0 6h0m-1 0h0m-1-2h0m-1-4h0m-7 4h0" stroke="#F39A88" stroke-width="1.9" stroke-linecap="round"/>
<path transform="scale(.5)" d="M818 354h0m4 4h0m1 1h0m1-4h0m1 2h0m1-2h0m5-1h0m0 2h0m0 3h0m2-6h0m0 1h0m0 4h0m1 1h0m0-3h0m0-1h0m1 0h0m0 4h0m2-5h0m8 4h0m2 3h0m-1 1h0m-5 0h0m-3 2h0m-4-3h0m-1 0h0m-1 5h0m-1 1h0m0-6h0m-1 0h0m0 2h0m0 2h0m0 2h0m-1-4h0m0 1h0m-1-3h0m0 1h0m-1 0h0m-1 4h0m0-1h0m-1 1h0m-1-3h0m0 4h0m-2-7h0m0 1h0m-1 4h0m0 2h0m0-5h0m-3 2h0m-13 0h0m18 5h0m1 3h0m2 1h0m1 2h0m1-5h0m0 4h0m2-4h0m2 3h0m1 0h0m0-3h0m0 2h0m2 0h0m0-1h0m1 1h0m0-3h0m1 0h0m1 5h0m1-5h0m0 4h0m16 7h0m-1 1h0m-5 1h0m-1-3h0m-1-1h0m-1 0h0m-3 3h0m-5-3h0m-4-2h0m-3 3h0m-6-2h0m-3 1h0m-10-1h0m-2 6h0m0-1h0m-7-3h0m2 8h0m2-3h0m3 6h0m2-5h0m11 6h0m22-7h0m4 0h0m1 2h0m3 1h0m1-3h0m3 0h0m-4 8h0m-7 0h0m-1 0h0m-5 0h0m-3 4h0m-9 3h0m-12-3h0m2 4h0m1 2h0m3 4h0m1-1h0m3 1h0m1 0h0m6-2h0m3-1h0m6 3h0m7-4h0m5-1h0m2 4h0m1 10h0m-6 0h0m-1-3h0m-1-3h0m-20 6h0m-1-3h0m-2 2h0m0-5h0m-2-1h0m-2 2h0m-4 3h0m19 5h0m5-2h0m19 6h0m0 8h0m-7-1h0m-1 1h0m-2-5h0m1 11h0" stroke="#45BCE6" stroke-width="1.9" stroke-linecap="round"/>
<path transform="scale(.5)" d="M787 351h0m-11 0h0m-26 7h0m2-3h0m0 4h0m1 0h0m1-2h0m1-3h0m0 2h0m1 1h0m1 1h0m0 1h0m1-4h0m0 4h0m2-5h0m0 2h0m1-3h0m0 4h0m0-5h0m1 1h0m1 3h0m0-1h0m1 0h0m0 1h0m0 2h0m1-3h0m0 2h0m0-1h0m1 1h0m0-3h0m0 4h0m0-3h0m1-2h0m0 5h0m0-1h0m0 2h0m0-5h0m1 1h0m0 3h0m1 0h0m0-3h0m1 4h0m0-7h0m0 2h0m2 1h0m1-2h0m0 2h0m1-1h0m0-1h0m1 0h0m2 6h0m0-7h0m1 2h0m0 4h0m1 0h0m1 0h0m0-5h0m0 2h0m0 4h0m3-5h0m3 1h0m1-1h0m2 5h0m0-5h0m0-1h0m1 2h0m0-1h0m0 2h0m1-2h0m0 4h0m0-3h0m0 2h0m1-2h0m0 4h0m0-1h0m1 1h0m1-2h0m0 1h0m1-3h0m0 2h0m-3 4h0m-2 2h0m-1-2h0m-1 1h0m-2 1h0m0-1h0m-2 4h0m0-1h0m-1 0h0m0-3h0m-1 0h0m0 2h0m0-3h0m0 2h0m0 2h0m-1-3h0m0 1h0m0 2h0m-2-2h0m0 2h0m-1-5h0m0 4h0m0-3h0m-1 3h0m-2-2h0m-1-2h0m-1 6h0m-1-2h0m-1-1h0m-1-2h0m0 6h0m0-3h0m-1 1h0m0 2h0m0-5h0m0 2h0m-2-2h0m-3 4h0m0-6h0m-1 5h0m-1 1h0m-1-4h0m0 4h0m0-3h0m-1-1h0m0 3h0m-1 2h0m-1-3h0m0 2h0m0-3h0m0 4h0m-1 0h0m0-1h0m0-3h0m-1 4h0m0-1h0m0-5h0m0 2h0m-1 4h0m0-7h0m-1 4h0m0 1h0m-2-2h0m-2-3h0m-1 1h0m6 8h0m1 2h0m0-3h0m0 2h0m0 2h0m1 2h0m0-6h0m0 2h0m0 2h0m1-3h0m0 2h0m0-3h0m1 4h0m0-3h0m1-1h0m0 2h0m1 4h0m0-5h0m0 6h0m2-5h0m1 5h0m1-2h0m0-1h0m0 2h0m1 1h0m1-6h0m0-1h0m1 7h0m1-3h0m0-1h0m0 2h0m1 0h0m1-5h0m0 4h0m1 0h0m0-3h0m2 3h0m0-3h0m0 4h0m0-3h0m1-2h0m1 3h0m-11 5h0m-2 0h0m-1 0h0" stroke="#2C4B9A" stroke-width="1.9" stroke-linecap="round"/>
<path transform="scale(.5)" d="M802 362h0m0-1h0m-6-1h0m-1 6h0m-1-6h0m0 3h0m5 11h0m10 18h0m-6 5h0m-1 1h0m12 3h0m-13 7h0m-8 12h0m8 0h0" stroke="#D8C01C" stroke-width="1.9" stroke-linecap="round"/>
<path transform="scale(.5)" d="M840 302h0m-4-2h0m-1 3h0m0-1h0m0 3h0m0 6h0m1-7h0m0 2h0m1 0h0m0 2h0m0-4h0m1 1h0m0 6h0m0-1h0m0-3h0m0-1h0m1 2h0m1 3h0m0-4h0m0 2h0m1-3h0m0 3h0m0 3h0m0 3h0m0-1h0m-1 0h0m0 2h0m-1 0h0m0-2h0m-1-2h0" stroke="#B0206E" stroke-width="1.9" stroke-linecap="round"/>
<path transform="scale(.5)" d="M851 295h0m3 6h0m0 2h0m-1-4h0m0 1h0m-1 0h0m0-4h0m0 3h0m0 3h0m-1-4h0m0 3h0m0-4h0m-1 3h0m0 1h0m-1 0h0m0-1h0m0-3h0m-1-1h0m0 6h0m0-4h0m-1 5h0m0-3h0m-1-3h0m0 1h0m0 2h0m-1 0h0m0 3h0m0-1h0m-1-2h0m0 2h0m0-1h0m2 3h0m1 0h0m1 2h0m0 1h0m1-1h0m1-1h0m0-1h0m0 3h0m1-2h0m0 1h0m1-1h0" stroke="#111" stroke-width="1.9" stroke-linecap="round"/>
<path transform="scale(.5)" d="M845 319h0m-2 0h0m0-2h0m-1 2h0m0-1h0m-1 0h0m1 2h0" stroke="#0D6B38" stroke-width="1.9" stroke-linecap="round"/>
<rect x="358.50" y="136.30" width="100.60" height="96.10" fill="none" stroke="#333" stroke-width="1" />
<text x="411.20" y="133.50" font-size="8.8" text-anchor="middle" fill="#1a1a1a" >MRD</text>
<path transform="scale(.5)" d="M551 499h0m5 1h0m3 3h0m3-3h0m2-1h0m1 3h0m1-4h0m0 4h0m6-3h0m9 4h0m1 0h0m4-5h0m2 5h0m9 2h0m-5 2h0m-4 4h0m-5-7h0m-13 3h0m0-2h0m-1 4h0m0-2h0m-2-3h0m-1 3h0m0-1h0m-3 3h0m0-2h0m0-2h0m-1 2h0m-1 3h0m0-5h0m-1 2h0m0 4h0m-2-6h0m-2-1h0m-1 6h0m0-2h0m-1 0h0m-2 1h0m-1-1h0m-1 2h0m4 7h0m9-5h0m4 3h0m1-3h0m8 4h0m5-3h0m19 6h0m6-6h0m23 14h0m-17-3h0m-6-3h0m-17-1h0m-2 2h0m-8 2h0m-9-1h0m-1 3h0m-1-3h0m-8 3h0m-7-4h0m-1 1h0m-11 3h0m-3 6h0m2-3h0m2 3h0m7 0h0m29 0h0m14 2h0m3 0h0m42 8h0m-19-2h0m-1 2h0m-1-5h0m0-1h0m0 3h0m-1 2h0m0-1h0m0-1h0m0 4h0m0-1h0m-1-4h0m-1 2h0m-15 3h0m-4 0h0m0-3h0m-2 1h0m-1-1h0m0-1h0m-1-1h0m-2 0h0m0 4h0m0-2h0m-4-3h0m-16-1h0m-1 1h0m-16 6h0m0-2h0m-2-4h0m-5 5h0m-9-6h0m-2 9h0m11-1h0m42 6h0m1-2h0m3-3h0m1 2h0m0-3h0m3 3h0m4 1h0m1-3h0m1 3h0m0-3h0m1 4h0m0-1h0m1-1h0m0 2h0m0-5h0m1 3h0m0-1h0m2-1h0m7 6h0m1-2h0m1 0h0m0-1h0m0 3h0m1-2h0m2-5h0m2 7h0m7-3h0m1 0h0m0-1h0m0-1h0m0-1h0m0 4h0m1-4h0m1 3h0m0-1h0m1 1h0m0-3h0m2 6h0m18 7h0m-2 1h0m0-2h0m-1 2h0m0-3h0m-1 1h0m-1 1h0m0-1h0m-3 2h0m-1-3h0m-1 2h0m-1-1h0m-1 0h0m0-3h0m-1 2h0m-1-3h0m0 4h0m-1-5h0m0 4h0m0-1h0m0 3h0m-1-4h0m-1 0h0m0-2h0m0 3h0m-1-1h0m-1 4h0m-3-5h0m-2 6h0m-4-7h0m-7 2h0m0-1h0m-1-1h0m-1 5h0m0-2h0m0-1h0m-1 0h0m0-1h0m-1 0h0m0-1h0m0 3h0m-1-1h0m-5-1h0m-1 3h0m-1 0h0m0 3h0m-1-3h0m0-2h0m-1 1h0m0-1h0m0-1h0m0 4h0m-1 0h0m0-2h0m0-1h0m-1 2h0m0-1h0m0 3h0m-2-6h0m0 4h0m0 3h0m-2-3h0m-1 1h0m-11 0h0m-11 0h0m0-3h0m-3 4h0m-2-4h0m-12 5h0m-1 3h0m2 0h0m0-1h0m1 3h0m0-2h0m2 0h0m1-2h0m1 1h0m1 2h0m3-3h0m2 6h0m9 1h0m6-3h0m8 2h0m6-6h0m0 6h0m1-5h0m0 4h0m0-1h0m0-1h0m2-2h0m0 3h0m1-2h0m0 4h0m1-3h0m4-2h0m2 1h0m1 4h0m15-2h0m3-3h0m0 1h0m1 0h0m1 2h0m0-3h0m1-1h0m1 3h0m11-3h0m5 7h0m0-7h0m1 7h0m0-7h0m1 7h0m0-1h0m1-1h0m1 2h0m0-5h0m1 4h0m1 0h0m0-1h0m9-4h0m14 14h0m-3-4h0m-2 0h0m0-1h0m0 2h0m-1 0h0m0-1h0m0-2h0m-1 2h0m0-2h0m-2 2h0m-10-3h0m0 3h0m-3 4h0m-1-1h0m-1-4h0m0 2h0m-1 1h0m0 2h0m-1-5h0m0-1h0m0-1h0m-1 2h0m0-2h0m-1 0h0m-2 1h0m-1 1h0m-2 5h0m-3-6h0m-8-1h0m-2 6h0m-25-6h0m-2 3h0m0-3h0m-1 5h0m0-5h0m0 3h0m-2-2h0m0 3h0m-1-1h0m0 3h0m-1-4h0m-2 4h0m-8-4h0m-66 13h0m38-3h0m20-1h0m1 1h0m0-3h0m1 4h0m0-1h0m0-2h0m1 1h0m1 1h0m0-1h0m0 4h0m0-1h0m1 1h0m48-2h0m0 2h0m1-1h0m3 0h0m3-1h0m11-3h0m0-2h0m1 0h0m0 2h0m1 1h0m1-2h0m0-1h0m1 5h0m1-5h0m5 6h0m1-4h0m0 3h0m1-2h0m0 4h0m0-5h0m0 4h0m0-1h0m1-2h0m1-2h0m2 2h0m1 0h0m0 2h0m8-3h0m12 7h0m-4 6h0m-11-5h0m-1-1h0m-5 5h0m-3 1h0m-7-1h0m-2 1h0m-6-5h0m-12-2h0m-2 0h0m-1 2h0m0-1h0m0-1h0m-1 2h0m-1-1h0m-13 4h0m-8-4h0m-27 0h0m-58 5h0m-20 6h0m1 1h0m1-3h0m0-1h0m0 3h0m1-1h0m1-1h0m0 3h0m1-1h0m0-1h0m1 0h0m1 3h0m0-6h0m0 3h0m1-2h0m4 3h0m3 2h0m0-1h0m7 2h0m31-7h0m2 7h0m74-3h0m14 1h0m0 2h0m2-1h0m1-3h0m0 3h0m2-2h0m1-1h0m0-1h0m0-1h0m1 4h0m0-4h0m1-1h0m1 1h0m2 4h0m3-5h0m2 2h0m0-1h0m1 2h0m0-1h0m0-1h0m1-1h0m1 0h0m0 3h0m1 0h0m13 12h0m-1 0h0m-4-2h0m-9 2h0m0-3h0m-1 2h0m-4 1h0m-11-7h0m-1 2h0m0-2h0m-2 2h0m0-2h0m-32 2h0m-53 4h0m-38 0h0m0-1h0m-1-4h0m-1 6h0m0-1h0m-2-4h0m-1 1h0m-2 2h0m-1-3h0m-4 2h0m-8-4h0m16 13h0m0-5h0m2 1h0m1 0h0m0 4h0m1-2h0m20 4h0m117-3h0m1 1h0m0-5h0m1 3h0m0-2h0m1 0h0m1 0h0m0 3h0m0-1h0m1 4h0m0-6h0m7 5h0m0-5h0m0 3h0m0 3h0m2-3h0m0-1h0m0-1h0m1 3h0m0-5h0m1 3h0m0-1h0m0-1h0m1-1h0m0 4h0m1-1h0m0-2h0m1-1h0m1 0h0m0 4h0m0-1h0m1-1h0m-5 6h0m-3 1h0m-4 1h0m-3 1h0m-3-1h0m-5-2h0m-3 4h0m-2-3h0m-31 6h0m-39-2h0m-8 0h0m-45-1h0m-8-3h0m-4 4h0m0-2h0m26 7h0m46 3h0m0 1h0m1-1h0m1-5h0m1 6h0m0-6h0m1 7h0m0-5h0m0 4h0m0-5h0m0 4h0m33-3h0m0-2h0m0 3h0m1-3h0m0 1h0m1 1h0m0-1h0m0-1h0m0 3h0m2 1h0m28 3h0m3-3h0m-28 7h0m-29-1h0m-10-1h0m0 2h0m-3-2h0m0-1h0m-2 2h0m-1 1h0m-53 6h0m18 6h0m50-3h0m8 3h0m4 2h0m-71 6h0m25 1h0m17 3h0m3-3h0m7 2h0m20 2h0m-30 4h0" stroke="#1FA386" stroke-width="1.9" stroke-linecap="round"/>
<path transform="scale(.5)" d="M622 574h0m0-1h0m-2-1h0m-3 2h0m-5 0h0m0-2h0m-1 0h0m-2 2h0m0-4h0m-1 4h0m-1 0h0m0 1h0m-1-1h0m-1 0h0m0-2h0m-1 2h0m0-1h0m0 2h0m-1-4h0m0 3h0m-2 0h0m-1-3h0m-1 3h0m-14 5h0m0 1h0m2 1h0m1 0h0m1 1h0m1-6h0m2 5h0m2 1h0m5-2h0m1-2h0m1 0h0m0 2h0m1-2h0m1-1h0m1 2h0m0-2h0m0 4h0m1-5h0m0 7h0m0-5h0m1 5h0m0-4h0m1-1h0m0-1h0m0 4h0m1 0h0m0-5h0m0 4h0m1-3h0m0-1h0m0 4h0m1-2h0m1 1h0m0 4h0m0-5h0m1 3h0m0-1h0m1 1h0m1-1h0m1 1h0m1-5h0m0 4h0m0-1h0m1-1h0m1-1h0m0-1h0m1 3h0m0-1h0m1-2h0m1 4h0m0-1h0m0-1h0m0 4h0m1-2h0m0-1h0m1-1h0m0-1h0m1 1h0m2 1h0m0 3h0m0-1h0m1 0h0m0-1h0m0 2h0m1 0h0m1-1h0m1-3h0m1 4h0m0-2h0m1 2h0m2 2h0m-3 7h0m0-5h0m-1-2h0m0 7h0m-1-2h0m-1-3h0m-1 1h0m-1 1h0m0-1h0m0 3h0m-2-6h0m0 7h0m0-5h0m-1 5h0m0-7h0m-2 3h0m-1 0h0m-1 3h0m-1-5h0m-1 0h0m0 4h0m-1 0h0m0-1h0m-1 3h0m0-5h0m-2 3h0m0-2h0m0 4h0m-1-2h0m-1 1h0m0-3h0m0 4h0m0-5h0m-1 1h0m0-1h0m0 4h0m-1-2h0m0-1h0m0 4h0m0-5h0m-1 0h0m0 4h0m0-5h0m0 3h0m-1 0h0m0-2h0m0 4h0m0-6h0m-1 7h0m0-1h0m-1-4h0m0-1h0m0-1h0m0 4h0m-1-3h0m0 4h0m-1 2h0m-1-1h0m0 1h0m-2 0h0m-7 0h0m-1-6h0m0-1h0m-2 1h0m-2 6h0m-1-1h0m0-1h0m-1 1h0m0-5h0m0 3h0m-2 0h0m-1 2h0m-1-6h0m-1 7h0m0-5h0m-2 5h0m3 8h0m0-5h0m4 0h0m0-1h0m1 3h0m2-3h0m1 3h0m6-1h0m3 1h0m1 1h0m0-1h0m3-2h0m2 3h0m0-5h0m0 4h0m1-4h0m0 3h0m0 2h0m1-1h0m0 3h0m1 0h0m0-5h0m0-1h0m0 3h0m1 2h0m0-5h0m0-1h0m1 2h0m0-1h0m0 4h0m1-2h0m1 4h0m0-6h0m1 2h0m0 4h0m0-1h0m0-6h0m1 3h0m0 4h0m0-7h0m1 3h0m0-1h0m1 1h0m0 3h0m0-6h0m0 4h0m1 0h0m1 1h0m0-1h0m0-1h0m0 4h0m1-2h0m0-1h0m1-3h0m0 4h0m0-1h0m0 2h0m1-5h0m0-1h0m1 2h0m0 4h0m0-1h0m1 2h0m0-5h0m0 4h0m0-5h0m1-1h0m1 2h0m0 4h0m0-5h0m0 4h0m1 0h0m0-5h0m0 3h0m0 4h0m1-1h0m0-1h0m1-1h0m1-3h0m0 4h0m0-2h0m1-1h0m1-1h0m-1 7h0m0 7h0m-1-1h0m0-2h0m-2 0h0m-1-2h0m-1 5h0m0-5h0m0-1h0m-1 0h0m-1 5h0m0-2h0m-1-4h0m0 1h0m-1 0h0m-1 6h0m-1-7h0m-1 4h0m0-1h0m-1 0h0m-1-3h0m0 4h0m0-3h0m-1 6h0m0-6h0m0-1h0m-1 5h0m0-1h0m0-2h0m-2-1h0m-1 2h0m-1-1h0m0-2h0m-1 1h0m-2 4h0m-1-4h0m0 1h0m-1 4h0m-1-6h0m-2 4h0m-5-3h0m-2 1h0m-3 12h0m14 1h0m2-1h0m0-3h0m2 1h0m0-1h0m0 4h0m0-1h0m0-1h0m1 0h0m0-1h0m0-2h0m1-1h0m0 4h0m0-5h0m0 4h0m1 1h0m0-5h0m0 7h0m0-5h0m0 4h0m1-2h0m0-2h0m1 4h0m1-5h0m0 2h0m0 4h0m1 0h0m0-1h0m1-4h0m1 4h0m0-3h0m0 4h0m1-5h0m0 3h0m0-1h0m1-2h0m0 4h0m1 1h0m1-4h0m0-1h0m0 4h0m0-5h0m0 4h0m1 1h0m1-1h0m1 2h0m0-2h0m0-5h0m2 3h0m0 4h0m0-5h0m0-1h0m2-1h0m1 3h0m0 4h0m0-2h0m1 1h0m5 1h0m1 8h0m-1-3h0m-1-2h0m0 4h0m-3-5h0m-3-1h0m-1 1h0m-3 6h0m-1-7h0m0 4h0m-1-3h0m0-1h0m-1 5h0m-3-3h0m0-1h0m0 4h0m-1-5h0m0 3h0m-2 4h0m-7-5h0m-2 3h0m-2 0h0m-1-4h0m4 12h0m9-5h0m2 2h0m0 4h0m4-3h0m0 2h0m1-1h0m0 3h0m1 0h0m2-2h0m0 2h0m1-2h0m1-2h0m3 3h0m1 1h0m0-3h0m5-1h0m1-1h0m5 12h0m-4-5h0m-1 1h0m0 2h0m-1-2h0m0 2h0m-2 3h0m-6-5h0m0-1h0m-1 5h0m0-5h0m-1 1h0m-2 0h0m-3 4h0m-3 0h0m-5-6h0m-1 10h0m0-1h0m3 1h0m3 1h0m1 3h0m2-1h0m2-1h0m1 3h0m1-7h0m1 5h0m0-4h0m4 4h0m1-2h0m1 2h0m0-3h0m2 3h0m0-1h0m1 3h0m0-1h0m0-6h0m1 4h0m2 1h0m0-2h0m1 4h0m-2 2h0m-1 2h0m-1 1h0m-1-2h0m-1 4h0m0-6h0m-4 2h0m-1 3h0m0-1h0m0 2h0m-2-1h0m0-5h0m0 3h0m-1 4h0m0-1h0m0-5h0m0 4h0m-1 1h0m0-5h0m-1 5h0m0-1h0m-1 2h0m0-1h0m-5 1h0m0-6h0m-2 2h0m4 8h0m0-1h0m1-2h0m2 2h0m1-2h0m1 3h0m1 0h0m0 4h0m1-5h0m0-1h0m1 3h0m0-1h0m-6 5h0" stroke="#45BCE6" stroke-width="1.9" stroke-linecap="round"/>
<path transform="scale(.5)" d="M558 567h0m5 8h0m-1-5h0m-22 4h0m-4-5h0m-11 14h0m2-3h0m2 2h0m1-5h0m1 6h0m3-2h0m2 1h0m1-1h0m1-2h0m8 4h0m2-4h0m1-2h0m2 1h0m3-1h0m2 5h0m0-4h0m4 4h0m3 0h0m9-5h0m-27 8h0m-7-1h0m-1 1h0m-3 3h0m-2 0h0m-2 0h0" stroke="#2C4B9A" stroke-width="1.9" stroke-linecap="round"/>
<path transform="scale(.5)" d="M557 591h0m-2-1h0m-8 8h0m1-5h0m2 0h0m0 3h0m1 2h0m2-4h0m0-1h0m0-1h0m0 3h0m1-2h0m2 4h0m1-4h0m0-1h0m1 2h0m1-1h0m1 4h0m0-5h0m2 7h0m2-5h0m0 2h0m1 2h0m0-1h0m1-3h0m1 4h0m0-1h0m0-5h0m3 0h0m2 6h0m1-1h0m20 8h0m-1 2h0m-3-2h0m0-2h0m-1 4h0m-1-3h0m0 3h0m-1 0h0m0-2h0m-1 1h0m-1-4h0m-1 1h0m0 2h0m-1-3h0m0 4h0m0-1h0m0-5h0m-1 5h0m0-1h0m-1 3h0m0-1h0m0-6h0m-1 6h0m0-1h0m0-2h0m-1 0h0m-1 0h0m-1 2h0m-2 2h0m-2-4h0m0 4h0m-1-4h0m-1 4h0m0-5h0m-4-2h0m-5 4h0m-1-3h0m-8-1h0m-1 2h0m-1 1h0m-2 2h0m-3 1h0m0-6h0m-2 5h0m-1-3h0m-1 5h0m-3 6h0m1-1h0m3-1h0m1-3h0m1 2h0m2 4h0m1-5h0m1 4h0m4 2h0m0-6h0m0 4h0m2-3h0m0-1h0m1 6h0m1 0h0m1-1h0m1-2h0m0-1h0m0 4h0m0-2h0m2-4h0m1 3h0m0-1h0m1-2h0m1 2h0m0 3h0m0-1h0m1-1h0m2-2h0m1 4h0m7 0h0m0-1h0m1-2h0m2 1h0m0 1h0m3-3h0m0 3h0m2-4h0m2 3h0m1 1h0m0-5h0m1 6h0m0-5h0m1 1h0m0 4h0m0-6h0m0 4h0m0-1h0m1 4h0m0-5h0m0 3h0m1-3h0m0 4h0m0-1h0m0-1h0m0-1h0m1 0h0m0 2h0m1-3h0m0-2h0m3 6h0m4 4h0m0-2h0m-1 0h0m0 4h0m-1-3h0m-3 4h0m-1 2h0m0-7h0m-2 4h0m0-3h0m-1 6h0m0-7h0m-1 7h0m-3-6h0m-2 3h0m0 2h0m-2 1h0m-2-1h0m-6 0h0m-1-3h0m-2 4h0m-3-3h0m-1 2h0m-1-6h0m-2 3h0m-1 3h0m-1 0h0m-1 0h0m-2-6h0m0 4h0m0-1h0m-1 4h0m0-5h0m-2-1h0m0 4h0m-1 2h0m0-5h0m0-1h0m0 3h0m-1-4h0m0 4h0m0 3h0m-1 0h0m-1-4h0m0-3h0m-1 6h0m0-6h0m0 2h0m-1 1h0m0 4h0m0-7h0m-1 5h0m-1-1h0m-1-1h0m0-1h0m-2-2h0m-1 2h0m0 3h0m-6 2h0m1 2h0m1 6h0m3-3h0m1-2h0m7-1h0m1-1h0m0 1h0m1 0h0m0 2h0m1-1h0m0-1h0m1 3h0m0-2h0m0 4h0m7 1h0m2-5h0m3 5h0m1-5h0m1 3h0m4 0h0m2-2h0m6 1h0m1-2h0m1-2h0m0 2h0m1 4h0m0-1h0m1 0h0m0-2h0m1 4h0m0-2h0m0-1h0m1-1h0m3 2h0m0-2h0m0 4h0m1 0h0m1-2h0m1-2h0m0-1h0m0-1h0m1 6h0m0-5h0m0-1h0m0-1h0m0 4h0m0-1h0m1-1h0m0-1h0m1 3h0m0-1h0m0 4h0m1-4h0m1 0h0m0-1h0m3 0h0m1 4h0m0-3h0m0-1h0m1 0h0m1 1h0m1 2h0m0-1h0m2 1h0m0 1h0m1-2h0m2 2h0m3 5h0m-2 3h0m0-6h0m-2 4h0m-1-1h0m0 4h0m0-5h0m0 4h0m-1 0h0m0-2h0m0 3h0m-1-4h0m0 3h0m-1-5h0m0-1h0m-2 4h0m0 3h0m0-1h0m-1 1h0m0-6h0m0 3h0m0-1h0m-3 4h0m-1-4h0m-1-3h0m-5 2h0m0 2h0m-1 2h0m0-4h0m-2 5h0m-1 0h0m-9-1h0m-4-2h0m-4 3h0m-4-7h0m-2 6h0m-4 0h0m-5-1h0m-1-3h0m-1 5h0m-2-4h0m-2 4h0m-2-7h0m-6 5h0m-2-2h0m-1 2h0m5 5h0m0-1h0m0 3h0m1-2h0m0 3h0m1 0h0m0-1h0m0-1h0m1 2h0m0-1h0m2 2h0m2-5h0m0 4h0m2-3h0m0 4h0m2-3h0m0-3h0m2 4h0m2-3h0m1 5h0m0 1h0m2-4h0m2 3h0m5-5h0m1 2h0m1 2h0m1 2h0m2-4h0m1 3h0m2 1h0m1-2h0m1-4h0m0 1h0m1 0h0m0 4h0m0-2h0m1-1h0m0 4h0m0-5h0m1 4h0m0-6h0m0 4h0m1-2h0m0-1h0m0 4h0m0-1h0m1 1h0m0-1h0m0-1h0m1 0h0m0-1h0m0 4h0m0-1h0m0-1h0m1 1h0m0-5h0m0 7h0m0-5h0m0 4h0m0-5h0m2 1h0m0 4h0m0-6h0m1 0h0m0 1h0m1 0h0m0 4h0m1-5h0m2 3h0m2 3h0m2-5h0m1 4h0m1-4h0m4-1h0m0 1h0m2-1h0m1 0h0m0 3h0m0-1h0m1 0h0m6 5h0m1-2h0m0-1h0m1 3h0m1 0h0m0-5h0m2 4h0m1 0h0m1-2h0m2-1h0m-2 8h0m-2 0h0m0-2h0m-1-1h0m-2 3h0m-1-3h0m-2 2h0m0 3h0m-1 2h0m-1-4h0m0 2h0m-1 2h0m0-6h0m-1 4h0m0-1h0m-1 3h0m0-2h0m-1-1h0m-1 0h0m0-1h0m0 4h0m-2-1h0m-1-6h0m-2 6h0m-3 0h0m-1-2h0m0 3h0m0-1h0m-1-5h0m0 6h0m-1-1h0m-2-3h0m-1 2h0m-1-3h0m-2-1h0m-1 4h0m-1 0h0m0-3h0m-2 3h0m0-5h0m-1 0h0m-3 0h0m-3 4h0m-1 0h0m-1-1h0m-6 3h0m-3-4h0m-8-2h0m-12 1h0m3 7h0m4 3h0m7 1h0m1 0h0m2-2h0m1 5h0m3-6h0m1 6h0m1-7h0m1 7h0m2-1h0m0-4h0m1 3h0m0-1h0m1 3h0m1-1h0m1 1h0m0-2h0m7 0h0m1-5h0m1 1h0m2 5h0m1-5h0m1 4h0m0-5h0m1 0h0m1 0h0m0 6h0m2 1h0m0-1h0m1 0h0m0-5h0m1 1h0m0-2h0m1 5h0m0-2h0m0-1h0m0 4h0m1-5h0m0-1h0m2 5h0m0-1h0m0 3h0m1-4h0m1 3h0m1 0h0m1-6h0m1 5h0m0-2h0m0 3h0m1 1h0m0-6h0m1 5h0m1-1h0m0-5h0m0 4h0m0-2h0m1 4h0m0-6h0m1 3h0m0-1h0m0 4h0m0-5h0m0-1h0m1 1h0m0 4h0m0-2h0m1 0h0m2 2h0m3-1h0m-5 6h0m-3 3h0m-1-5h0m-1 4h0m0-1h0m0 4h0m-1-4h0m0 1h0m-1-2h0m0 3h0m0-5h0m0 3h0m-1-2h0m-1 0h0m-1 2h0m-1 1h0m0-2h0m0 4h0m-1-4h0m0-1h0m0 4h0m-1-3h0m0 4h0m-1-5h0m-2 2h0m-1 3h0m0-6h0m-1 2h0m-1-1h0m-1-1h0m0 4h0m-6 2h0m-3 0h0m-1-3h0m-3 0h0m0 3h0m-1 0h0m-1-2h0m0-1h0m0-1h0m0 4h0m0-5h0m-2 0h0m0-1h0m0 3h0m0 4h0m-1-2h0m0-2h0m0 4h0m-1-2h0m0-5h0m-1 4h0m-2-3h0m-2 0h0m-9 0h0m14 8h0m1 0h0m0 2h0m1-1h0m1-2h0m2 2h0" stroke="#EE4A30" stroke-width="2" stroke-linecap="round"/>
<path transform="scale(.5)" d="M618 526h0m-1 1h0m2 1h0" stroke="#B0206E" stroke-width="1.9" stroke-linecap="round"/>
<path transform="scale(.5)" d="M629 519h0m2-5h0m-1 7h0m-5 0h0" stroke="#111" stroke-width="1.9" stroke-linecap="round"/>
<rect x="248.50" y="244.90" width="100.60" height="96.10" fill="none" stroke="#333" stroke-width="1" />
<text x="301.20" y="242.10" font-size="8.8" text-anchor="middle" fill="#1a1a1a" >Relapse</text>
<path transform="scale(.5)" d="M790 502h0m8-1h0m0 2h0m4-5h0m0 4h0m3 1h0m2-5h0m1 5h0m1-2h0m1-2h0m1 0h0m1 2h0m0-1h0m1 3h0m0-2h0m1 2h0m0-2h0m4 1h0m14 4h0m-6 5h0m-2-2h0m-3 1h0m-1-5h0m-1 3h0m-5-1h0m-3-2h0m-9 2h0m-5 1h0m-4-2h0m-3-2h0m-2 0h0m0 4h0m-6-4h0m-4 6h0m-3-1h0m-1 2h0m0-2h0m-1 1h0m-1-3h0m-1 1h0m0-1h0m-2 2h0m-4 10h0m5-3h0m2-3h0m3 0h0m0-1h0m0 4h0m1-2h0m0-1h0m0 3h0m0-1h0m1-2h0m1-1h0m0 7h0m1-3h0m1-1h0m0 3h0m0-1h0m1 2h0m3-5h0m2 5h0m1 0h0m2-2h0m2 2h0m1-1h0m0-6h0m0 4h0m1 0h0m1 2h0m0-2h0m0-1h0m2 3h0m2 0h0m1 0h0m2 0h0m5-2h0m1-3h0m1 3h0m1-1h0m1 4h0m0-1h0m1-6h0m2 7h0m0-5h0m7 2h0m1-4h0m2 2h0m0 2h0m2-4h0m0 3h0m4 0h0m-3 6h0m-1 6h0m-1-4h0m-2 3h0m-1 0h0m-1-2h0m-6 1h0m-1-4h0m0-1h0m0 3h0m-2-1h0m0-1h0m-1-1h0m0 3h0m0-2h0m-2 0h0m-2 2h0m-1 3h0m-1-1h0m-1-3h0m-1 1h0m-3-2h0m-2 6h0m-1-7h0m-1 0h0m-1 0h0m0 3h0m-4 1h0m-1-1h0m0-1h0m0-2h0m0 4h0m-1 1h0m0-3h0m0-1h0m-1 0h0m0 3h0m-1-3h0m-1 2h0m-2-2h0m-4 1h0m-2 5h0m-1-4h0m0-1h0m-5 4h0m-1 1h0m0-1h0m-1 0h0m0 1h0m-2-3h0m-1 3h0m-1 0h0m-1-7h0m0 3h0m-10 4h0m-1 6h0m3-4h0m2 5h0m4-3h0m1-3h0m0 4h0m1 3h0m0-3h0m1 0h0m0-1h0m0-1h0m0 3h0m1 1h0m0 1h0m1-2h0m1 0h0m0 2h0m1 0h0m0-2h0m2 0h0m0-2h0m0-1h0m1 4h0m0-5h0m0-1h0m1 1h0m1 1h0m1-2h0m1 4h0m2 3h0m1-7h0m0 3h0m1-2h0m0 2h0m1-1h0m0 4h0m1-6h0m0 4h0m1-2h0m0-1h0m0 3h0m0-1h0m1 2h0m6 0h0m8 1h0m2-2h0m0 3h0m2 0h0m0-1h0m0-1h0m1 1h0m1 0h0m0-4h0m1 2h0m3-2h0m1-2h0m2 0h0m1 3h0m1-1h0m1 2h0m0 3h0m1-1h0m0-4h0m1 3h0m1-4h0m1 4h0m0-1h0m1 3h0m2-1h0m1 1h0m1-2h0m0-5h0m0 3h0m1-1h0m0 4h0m0-1h0m0-5h0m1 2h0m0 4h0m1-4h0m0 2h0m0-1h0m1-3h0m2 4h0m15 3h0m1 0h0m3-6h0m6 0h0m3 8h0m-4 3h0m-2-1h0m-4 0h0m-1 0h0m-5 3h0m-3 0h0m-9 0h0m-1-2h0m0 3h0m0-1h0m-1-1h0m0 2h0m0-1h0m-1-1h0m-3-4h0m0-1h0m-2 2h0m0-2h0m-1 2h0m-1-2h0m-1 1h0m-1 4h0m0-5h0m0 3h0m-1-3h0m-1 2h0m-1-2h0m-1 2h0m-1 4h0m-5-6h0m-1 5h0m-1-2h0m0-1h0m-3-2h0m-2 1h0m-3 0h0m-2 4h0m0-2h0m-1-2h0m-2-1h0m-3 0h0m0 4h0m-7-1h0m-6-1h0m-3 5h0m-2-5h0m-1-1h0m0 2h0m0-1h0m-1 1h0m0 2h0m-1-4h0m0 4h0m0-5h0m0 7h0m-1-7h0m0 4h0m0-1h0m0-1h0m0 3h0m-1-2h0m0 4h0m0-5h0m0 4h0m0-2h0m-1-4h0m0 4h0m0-1h0m0-1h0m0 4h0m-2 0h0m-5 1h0m-2-3h0m0-2h0m0 4h0m-1-3h0m0 2h0m-1 1h0m0-2h0m0 3h0m-1-3h0m-1 3h0m0-2h0m-1 1h0m0-1h0m0-1h0m0 3h0m-1 0h0m0-1h0m-1 0h0m0 1h0m-1 0h0m-1 2h0m1-1h0m0 3h0m1-1h0m0-2h0m1 2h0m0-1h0m1 1h0m0 4h0m0-5h0m1 1h0m0-2h0m1 5h0m0-4h0m1 4h0m0-5h0m1 3h0m0 3h0m1 0h0m1-6h0m1 4h0m4-4h0m2 6h0m1 1h0m0-7h0m3 6h0m1 1h0m8-2h0m0 1h0m1-1h0m2 0h0m0-1h0m1-1h0m0-1h0m0 4h0m0-1h0m2 0h0m2-2h0m1 1h0m2-1h0m11-1h0m11-2h0m3 7h0m1 0h0m0-2h0m1-1h0m0 3h0m1 0h0m1 0h0m10-7h0m4 0h0m5 3h0m1 4h0m1-1h0m1-5h0m0 3h0m1 3h0m0-1h0m1 0h0m0-5h0m0-1h0m0 3h0m0 4h0m1 0h0m0-1h0m0-5h0m1 0h0m0 3h0m0-1h0m1 4h0m1-4h0m0 2h0m1-1h0m0 3h0m5-3h0m1-3h0m0 4h0m1-1h0m0 3h0m1-7h0m1 4h0m1-2h0m1 0h0m0-1h0m2 1h0m4 3h0m0 2h0m2-3h0m10 0h0m6 4h0m-10 4h0m-4 0h0m-1-3h0m-1 1h0m0 4h0m-1-1h0m-1-2h0m0-1h0m0-2h0m-1 6h0m0-5h0m0 4h0m0-1h0m0-1h0m0-1h0m-1 1h0m0 4h0m0-5h0m-1-1h0m0 4h0m0-5h0m-1 5h0m0-2h0m-5-3h0m-1 6h0m-2-6h0m0 3h0m-1 0h0m0 4h0m0-2h0m-1 2h0m0-7h0m0 4h0m-1 2h0m0 1h0m0-5h0m-1 4h0m0-1h0m-1 1h0m-3-2h0m-2 3h0m0-2h0m0-5h0m-1 1h0m0 4h0m0-2h0m0 4h0m0-5h0m-1-2h0m0 5h0m0-2h0m-1-1h0m0 4h0m0-1h0m0-1h0m-1-3h0m0 4h0m0-1h0m0-1h0m0 4h0m-1-4h0m0 4h0m0-1h0m0-2h0m-1-1h0m0 3h0m0-2h0m-1-3h0m0 4h0m-2 0h0m0 1h0m-3 0h0m-7 1h0m-3-1h0m-1-1h0m0 2h0m-1-3h0m0 3h0m0-1h0m-1-5h0m0 4h0m-1-4h0m0-1h0m-1 7h0m-1-4h0m-2 1h0m-2 0h0m-1 2h0m-1-1h0m-1-1h0m0 3h0m0-5h0m0 3h0m-1-3h0m0-1h0m-1 0h0m0 2h0m-1-1h0m0 3h0m-1-3h0m0-1h0m0 4h0m0-1h0m0-1h0m0 4h0m-1-2h0m0-1h0m0-1h0m0 3h0m-2-3h0m-13-1h0m-2-2h0m-2 3h0m0 4h0m-22-7h0m-4 2h0m0-1h0m-1-1h0m0 2h0m-2 0h0m0-1h0m-1-1h0m0 3h0m28 8h0m0 4h0m1-2h0m0-3h0m1 4h0m1-2h0m1 1h0m0-2h0m0 4h0m0-5h0m1 1h0m0 3h0m0-1h0m19-5h0m1 0h0m1 7h0m0-5h0m5 5h0m1-1h0m2-2h0m0 2h0m1-2h0m1 0h0m0-1h0m0 4h0m1-7h0m0 3h0m1 4h0m0-5h0m0 3h0m0-5h0m1 0h0m0 3h0m0 3h0m1-3h0m0 4h0m0-1h0m1 0h0m0-5h0m8 3h0m6-3h0m0-1h0m1 4h0m1 3h0m0-7h0m1 0h0m0 3h0m1 4h0m0-5h0m1 5h0m0-5h0m0 4h0m0-5h0m0-1h0m0 4h0m1 1h0m0-5h0m0 4h0m0-1h0m0 4h0m0-5h0m0 4h0m0-5h0m1 1h0m0 4h0m0-1h0m0-5h0m0 4h0m1-1h0m0 3h0m0-1h0m0-1h0m1 0h0m0 3h0m0-5h0m0 4h0m1 0h0m0-1h0m0-1h0m1 0h0m0-1h0m0-1h0m0-1h0m1-1h0m0 7h0m0-6h0m2-1h0m1 7h0m3-5h0m0-1h0m1 0h0m4-1h0m2 5h0m3 2h0m2-6h0m4 6h0m2-6h0m2 3h0m7-1h0m-14 6h0m0 1h0m-2 0h0m0-1h0m-1 4h0m-1-2h0m0-1h0m0-1h0m0 4h0m-1-2h0m0-2h0m-2 5h0m-6-4h0m-9-1h0m0 3h0m0-1h0m-1-2h0m-2 0h0m-1-1h0m-2 4h0m-1 2h0m-17-5h0m-1-1h0m-1 2h0m0 4h0m0-6h0m-1 2h0m0-1h0m-1 0h0m-2 4h0m-5 0h0m0-5h0m-2 4h0m0 2h0m-1 0h0m0-1h0m0-1h0m-1-1h0m0 4h0m0-1h0m0-1h0m-1 0h0m-19-5h0m-38 4h0m2 9h0m54-2h0m4 4h0m1 0h0m1-1h0m0-1h0m2 2h0m2-7h0m5 6h0m1-4h0m1 5h0m20-6h0m6 5h0m1 1h0m0-1h0m1 0h0m0-1h0m0-5h0m0 3h0m1-1h0m0 3h0m10 2h0m3-5h0m-2 13h0m-7-3h0m-7-4h0m-2 4h0m-34-3h0m0-1h0m-1 0h0m0 1h0m-1 1h0m0-1h0m0-1h0m-1 2h0m-50 4h0m-15 1h0m-17 4h0m1-1h0m1 5h0m0-4h0m1 1h0m0-1h0m1-2h0m1 4h0m1-1h0m0-3h0m1 1h0m0-1h0m1 2h0m11-1h0m3 1h0m9 3h0m14-2h0m0 1h0m13 0h0m72-5h0m2 3h0m0-1h0m0-1h0m1 0h0m1 1h0m1 3h0m0-5h0m1 3h0m1-2h0m1 0h0m16 14h0m-17-7h0m-89 5h0m-30-4h0m0 1h0m-3-1h0m-1 6h0m0-5h0m-1 3h0m-2-3h0m5 10h0m0-3h0m1 6h0m0-5h0m1 4h0m1 1h0m1-5h0m0-1h0m3 0h0m1 0h0m60 5h0m40-4h0m32 3h0m1-1h0m-10 8h0m-33-4h0m-76 3h0m-20-3h0m0 4h0m-4-1h0m106 11h0m7 1h0m0-5h0m2 3h0m27-2h0m-70 10h0m-9-4h0m-39 6h0m-4 4h0m55 0h0m55-1h0m-50 20h0m5 5h0" stroke="#1FA386" stroke-width="1.9" stroke-linecap="round"/>
<path transform="scale(.5)" d="M866 567h0m2-1h0m2 0h0m0-1h0m1-1h0m2 3h0m2-3h0m1 0h0m3 1h0m4 1h0m15 9h0m-2 0h0m-2 0h0m-2 0h0m-1-3h0m-1 2h0m0-2h0m-2-2h0m0 4h0m0-3h0m-1 0h0m0 4h0m0-1h0m-1-3h0m0 4h0m0-1h0m-1-4h0m0 4h0m0-5h0m0 3h0m0-1h0m-1-3h0m0 7h0m0-6h0m-1 6h0m0-1h0m-1-2h0m0 3h0m-1-4h0m0-2h0m-2 5h0m0-1h0m0 2h0m-1 0h0m-1-5h0m0-1h0m0 3h0m-1-3h0m0 3h0m0-2h0m-1 1h0m0 4h0m0-3h0m-2-2h0m0-1h0m-1 3h0m0 3h0m0-6h0m-4-1h0m0 4h0m0-2h0m-2-2h0m0 4h0m-2-3h0m0 4h0m0 10h0m0-5h0m1 3h0m0-5h0m0 4h0m0-1h0m1-1h0m0-2h0m1 5h0m0-1h0m0 2h0m0-5h0m1 2h0m0 4h0m0-6h0m0 4h0m0-1h0m1 2h0m0-1h0m1-2h0m0-1h0m1 1h0m0 3h0m0-6h0m1 3h0m0 3h0m2-6h0m1 7h0m0-5h0m1 0h0m0 4h0m0-1h0m0 2h0m1-4h0m0 4h0m0-5h0m0-1h0m0 4h0m1-1h0m0 3h0m0-1h0m0-5h0m1 1h0m0 4h0m0-6h0m1 2h0m0 4h0m1-1h0m0 1h0m2 0h0m0-5h0m1 4h0m0-1h0m1 2h0m0-1h0m0-1h0m1-4h0m0 4h0m0-2h0m1 5h0m0-2h0m0-5h0m1 0h0m1 5h0m0 1h0m1-5h0m1 6h0m0-1h0m0-5h0m2 6h0m1-3h0m0 2h0m1 0h0m0-6h0m0 3h0m0 4h0m1-5h0m1 5h0m1 0h0m0-2h0m0-1h0m1-1h0m0-3h0m1 5h0m0-3h0m0-1h0m1 0h0m1 4h0m0-1h0m0 2h0m0-5h0m1 6h0m2-2h0m1 1h0m1-1h0m3 3h0m-1 4h0m0-2h0m-1 4h0m0-1h0m0-1h0m0-2h0m-1 2h0m0 3h0m0-5h0m0 4h0m0-5h0m0 4h0m-1-1h0m0 3h0m0-2h0m-1 2h0m-1-3h0m0-1h0m-1 2h0m-1 0h0m0 2h0m-1 0h0m0-5h0m0 4h0m0-1h0m0-5h0m-1 1h0m0-1h0m-1 7h0m-1-7h0m-1 6h0m0-5h0m0 4h0m0-5h0m-1 7h0m0-5h0m0 3h0m0-5h0m-1 7h0m0-6h0m0 4h0m0-1h0m0-1h0m-1-2h0m0-1h0m0 4h0m-1 0h0m0-2h0m0-1h0m0 4h0m-1-3h0m0 2h0m0-1h0m-1-2h0m0 4h0m0 2h0m-2-1h0m-1-4h0m-2 2h0m0-1h0m-1-3h0m0 4h0m-1-2h0m0 4h0m0-5h0m0 3h0m-1 0h0m0-1h0m-1 0h0m0-1h0m0-1h0m0 4h0m0-5h0m-1 7h0m0-5h0m0 4h0m0-6h0m-1 1h0m0-1h0m0 3h0m0 4h0m-1-3h0m0-2h0m-1 0h0m0 2h0m0-1h0m-1 0h0m0-1h0m0-1h0m0-1h0m-1 3h0m0-1h0m0-1h0m0-1h0m0 4h0m-1-2h0m0 4h0m0-5h0m0 3h0m0 3h0m-1-3h0m0-1h0m0-1h0m0-1h0m0 4h0m0-5h0m-1 2h0m0-1h0m0 4h0m0-5h0m0 4h0m0-1h0m-1 3h0m0-5h0m0 1h0m-1 1h0m0-1h0m0 3h0m-1-1h0m0-1h0m-1 2h0m0-3h0m-1 2h0m0-1h0m0 4h0m0-1h0m0-5h0m0-1h0m-1 7h0m0-6h0m0 2h0m-1-3h0m0 3h0m0-1h0m0-1h0m-1 2h0m0-1h0m0-1h0m0-1h0m-1 1h0m0 2h0m-1 10h0m2-1h0m1 0h0m1-1h0m0 4h0m0-5h0m1 3h0m0-5h0m0 4h0m0-1h0m0-1h0m0 4h0m1 0h0m0-1h0m0 2h0m0-5h0m1 0h0m0 4h0m1-1h0m0-2h0m0-1h0m1 3h0m0-1h0m1-1h0m0-1h0m0-1h0m0-1h0m1 1h0m0-1h0m0 3h0m0-1h0m1 0h0m0-1h0m1 2h0m0 2h0m1-4h0m1-1h0m1 4h0m0-2h0m1 2h0m1-4h0m1 4h0m0-2h0m0 4h0m1 0h0m0-2h0m2 2h0m1-5h0m0-1h0m0 4h0m1 3h0m1-4h0m1 4h0m0-5h0m1-2h0m0 4h0m0 3h0m1-1h0m0-2h0m1-1h0m0 3h0m0-1h0m0-1h0m1 2h0m0-2h0m1-3h0m1 1h0m0 4h0m0-5h0m0 4h0m0-1h0m1-4h0m0 4h0m0-1h0m0-1h0m1 1h0m0-1h0m0 3h0m0-5h0m1 1h0m0 4h0m0-5h0m0 3h0m0 3h0m1-5h0m0-1h0m1 7h0m0-6h0m1 3h0m1-4h0m1 7h0m0-5h0m0-1h0m0 4h0m0-1h0m1-3h0m0 4h0m0-2h0m0-1h0m0 4h0m1-5h0m0 4h0m0-1h0m1-4h0m0 4h0m0-1h0m0 4h0m0-5h0m0 4h0m1 1h0m0-6h0m1-1h0m1 0h0m-2 10h0m-2-2h0m0 4h0m0-1h0m0-2h0m-1 2h0m-1 0h0m0 3h0m-1 0h0m-2-2h0m-1 0h0m-1-3h0m0-1h0m0 7h0m-1 0h0m-1-3h0m-1 0h0m0 2h0m-1-6h0m-1 6h0m-1-1h0m0-5h0m0 4h0m0-1h0m0 4h0m0-5h0m0-1h0m-1 0h0m0 3h0m-1 3h0m0-5h0m0-2h0m0 3h0m-1 2h0m0-5h0m0 4h0m-1-2h0m0 3h0m-1-4h0m0-1h0m0 7h0m-1-1h0m0-1h0m-2-5h0m-1 2h0m0 4h0m0-2h0m-1-1h0m-1 4h0m0-5h0m0 4h0m-1-3h0m0 4h0m-1-1h0m0-1h0m0-1h0m0 3h0m-1-7h0m0 4h0m0-1h0m0 4h0m-2 0h0m-1 0h0m-3 0h0m0-5h0m-1 4h0m0-1h0m-1-3h0m2 12h0m1-4h0m0-1h0m0-1h0m1 3h0m0-2h0m0 4h0m1-1h0m1-2h0m0 4h0m1-2h0m0 1h0m1-5h0m0 2h0m1-2h0m1 3h0m0-2h0m0-1h0m1 2h0m2 2h0m0 3h0m0-6h0m1 4h0m0-3h0m1 4h0m1-1h0m0 2h0m0-5h0m1 5h0m0-1h0m0-1h0m1-1h0m0 3h0m0-1h0m2-3h0m0-1h0m0 3h0m2-2h0m0 4h0m1-4h0m1 3h0m1 0h0m0-2h0m0 3h0m0-5h0m1 1h0m0 3h0m0-1h0m0-1h0m1-2h0m0 2h0m0-1h0m0 4h0m1-5h0m0 3h0m1-2h0m0-2h0m1 0h0m0 4h0m0-5h0m0 4h0m0-1h0m0-1h0m1 1h0m0-1h0m0 3h0m0-1h0m1 1h0m0-5h0m0 4h0m0-1h0m0-2h0m1-1h0m0 4h0m0-1h0m0-1h0m1 1h0m-6 7h0m0-2h0m-1 2h0m0-1h0m0-1h0m0 4h0m-1 0h0m0-3h0m-1-1h0m-1 1h0m-2 2h0m0 2h0m-1 0h0m0 1h0m0-5h0m-1 1h0m0 4h0m-1-6h0m-1 5h0m0-5h0m0 2h0m-1 3h0m0-5h0m-1 2h0m0-1h0m0 4h0m-1-5h0m-1 3h0m0-2h0m-1-1h0m-1 7h0m0-5h0m-1 5h0m0-5h0m-1 0h0m-1 5h0m0-1h0m-1-4h0m0-1h0m0 3h0m0-1h0m-2-1h0m-1-2h0m0 3h0" stroke="#1FA386" stroke-width="1.9" stroke-linecap="round"/>
<path transform="scale(.5)" d="M802 591h0m-3-3h0m27 8h0m-49 9h0m0 4h0m7-1h0m25 2h0m5 4h0m2 8h0m-27 5h0m29-1h0m-16 20h0m13-4h0m-7 15h0m12 4h0" stroke="#F39A88" stroke-width="1.9" stroke-linecap="round"/>
<path transform="scale(.5)" d="M807 580h0m31 1h0m14 6h0m-95-1h0m0 6h0m67 2h0m0-1h0m19 14h0m-6-1h0m-6-1h0m-15-2h0m-49-1h0m-4 1h0m61 8h0m27-1h0m5 4h0m-10 6h0m-7 6h0m2 1h0m8 0h0m6 4h0m-14 6h0m-6-2h0m19 9h0" stroke="#45BCE6" stroke-width="1.9" stroke-linecap="round"/>
<path transform="scale(.5)" d="M764 571h0m-9 4h0m0 7h0m0-4h0m4 3h0m2-2h0m2 2h0m0-1h0m2 0h0m0-1h0m1 5h0m-2 1h0" stroke="#8A8CD0" stroke-width="1.9" stroke-linecap="round"/>
<path transform="scale(.5)" d="M844 513h0m1 1h0m2 3h0m4 2h0m-6 3h0" stroke="#111" stroke-width="1.9" stroke-linecap="round"/>
<rect x="358.50" y="244.90" width="100.60" height="96.10" fill="none" stroke="#333" stroke-width="1" />
<text x="411.20" y="242.10" font-size="8.8" text-anchor="middle" fill="#1a1a1a" >Healthy</text>
<line x1="245.90" y1="159.03" x2="248.50" y2="159.03" stroke="#444" stroke-width="0.9"/>
<text x="237.09" y="161.53" font-size="7.2" fill="#333">25</text>
<line x1="245.90" y1="185.20" x2="248.50" y2="185.20" stroke="#444" stroke-width="0.9"/>
<text x="241.10" y="187.70" font-size="7.2" fill="#333">0</text>
<line x1="245.90" y1="211.38" x2="248.50" y2="211.38" stroke="#444" stroke-width="0.9"/>
<rect x="231.62" y="211.05" width="4.75" height="0.76" fill="#333"/>
<text x="237.09" y="213.88" font-size="7.2" fill="#333">25</text>
<line x1="245.90" y1="267.62" x2="248.50" y2="267.62" stroke="#444" stroke-width="0.9"/>
<text x="237.09" y="270.12" font-size="7.2" fill="#333">25</text>
<line x1="245.90" y1="293.80" x2="248.50" y2="293.80" stroke="#444" stroke-width="0.9"/>
<text x="241.10" y="296.30" font-size="7.2" fill="#333">0</text>
<line x1="245.90" y1="319.98" x2="248.50" y2="319.98" stroke="#444" stroke-width="0.9"/>
<rect x="231.62" y="319.65" width="4.75" height="0.76" fill="#333"/>
<text x="237.09" y="322.48" font-size="7.2" fill="#333">25</text>
<line x1="249.20" y1="341.00" x2="249.20" y2="343.60" stroke="#444" stroke-width="0.9"/>
<rect x="241.26" y="349.97" width="4.75" height="0.76" fill="#333"/>
<text x="246.73" y="352.80" font-size="7.2" fill="#333">50</text>
<line x1="273.73" y1="341.00" x2="273.73" y2="343.60" stroke="#444" stroke-width="0.9"/>
<rect x="265.79" y="349.97" width="4.75" height="0.76" fill="#333"/>
<text x="271.26" y="352.80" font-size="7.2" fill="#333">25</text>
<line x1="298.25" y1="341.00" x2="298.25" y2="343.60" stroke="#444" stroke-width="0.9"/>
<text x="296.25" y="352.80" font-size="7.2" fill="#333">0</text>
<line x1="322.77" y1="341.00" x2="322.77" y2="343.60" stroke="#444" stroke-width="0.9"/>
<text x="318.77" y="352.80" font-size="7.2" fill="#333">25</text>
<line x1="347.30" y1="341.00" x2="347.30" y2="343.60" stroke="#444" stroke-width="0.9"/>
<text x="343.30" y="352.80" font-size="7.2" fill="#333">50</text>
<line x1="359.20" y1="341.00" x2="359.20" y2="343.60" stroke="#444" stroke-width="0.9"/>
<rect x="351.26" y="349.97" width="4.75" height="0.76" fill="#333"/>
<text x="356.73" y="352.80" font-size="7.2" fill="#333">50</text>
<line x1="383.73" y1="341.00" x2="383.73" y2="343.60" stroke="#444" stroke-width="0.9"/>
<rect x="375.79" y="349.97" width="4.75" height="0.76" fill="#333"/>
<text x="381.26" y="352.80" font-size="7.2" fill="#333">25</text>
<line x1="408.25" y1="341.00" x2="408.25" y2="343.60" stroke="#444" stroke-width="0.9"/>
<text x="406.25" y="352.80" font-size="7.2" fill="#333">0</text>
<line x1="432.77" y1="341.00" x2="432.77" y2="343.60" stroke="#444" stroke-width="0.9"/>
<text x="428.77" y="352.80" font-size="7.2" fill="#333">25</text>
<line x1="457.30" y1="341.00" x2="457.30" y2="343.60" stroke="#444" stroke-width="0.9"/>
<text x="453.30" y="352.80" font-size="7.2" fill="#333">50</text>
<text x="356.20" y="365.10" font-size="8.8" text-anchor="middle" fill="#1a1a1a" font-weight="bold" textLength="16.8" lengthAdjust="spacingAndGlyphs" >tSNE1</text>
<text transform="translate(226.00,239.20) rotate(-90)" font-size="9.6" text-anchor="middle" fill="#1a1a1a" font-weight="bold" textLength="16.6" lengthAdjust="spacingAndGlyphs">tSNE2</text>
<text x="468.20" y="202.40" font-size="7.0" text-anchor="start" fill="#333" >Clusters</text>
<circle cx="472.6" cy="210.20" r="2.6" fill="#EE4A30" stroke="#222" stroke-width="0.6"/>
<text x="480.70" y="212.80" font-size="7.0" text-anchor="start" fill="#333" >Diagnosis</text>
<circle cx="472.6" cy="219.63" r="2.6" fill="#1FA386" stroke="#222" stroke-width="0.6"/>
<text x="480.70" y="222.23" font-size="7.0" text-anchor="start" fill="#333" >Healthy</text>
<circle cx="472.6" cy="229.06" r="2.6" fill="#0D6B38" stroke="#222" stroke-width="0.6"/>
<text x="480.70" y="231.66" font-size="7.0" text-anchor="start" fill="#333" >MRD1</text>
<circle cx="472.6" cy="238.49" r="2.6" fill="#2C55A0" stroke="#222" stroke-width="0.6"/>
<text x="480.70" y="241.09" font-size="7.0" text-anchor="start" fill="#333" >MRD2</text>
<circle cx="472.6" cy="247.92" r="2.6" fill="#D8C01C" stroke="#222" stroke-width="0.6"/>
<text x="480.70" y="250.52" font-size="7.0" text-anchor="start" fill="#333" >MRD3</text>
<circle cx="472.6" cy="257.35" r="2.6" fill="#AE1F6C" stroke="#222" stroke-width="0.6"/>
<text x="480.70" y="259.95" font-size="7.0" text-anchor="start" fill="#333" >MRD4</text>
<circle cx="472.6" cy="266.78" r="2.6" fill="#141414" stroke="#222" stroke-width="0.6"/>
<text x="480.70" y="269.38" font-size="7.0" text-anchor="start" fill="#333" >MRD5</text>
<circle cx="472.6" cy="276.21" r="2.6" fill="#3CBBE5" stroke="#222" stroke-width="0.6"/>
<text x="480.70" y="278.81" font-size="7.0" text-anchor="start" fill="#333" >Relapse</text>
<text x="18.80" y="373.30" font-size="10" text-anchor="start" fill="#111" font-weight="bold" >C</text>
<rect x="56.60" y="374.30" width="4.10" height="11.90" fill="#141414" stroke="none" stroke-width="1" />
<rect x="62.00" y="374.30" width="25.79" height="11.90" fill="#f88a50" stroke="#555" stroke-width="0.5" />
<text x="76.49" y="381.90" font-size="6.3" text-anchor="middle" fill="#333" >0.84</text>
<rect x="87.79" y="374.30" width="25.79" height="11.90" fill="#fee293" stroke="#555" stroke-width="0.5" />
<text x="102.28" y="381.90" font-size="6.3" text-anchor="middle" fill="#333" >0.66</text>
<rect x="113.58" y="374.30" width="25.79" height="11.90" fill="#b2dceb" stroke="#555" stroke-width="0.5" />
<text x="128.07" y="381.90" font-size="6.3" text-anchor="middle" fill="#333" >0.35</text>
<rect x="139.37" y="374.30" width="25.79" height="11.90" fill="#c0e3ef" stroke="#555" stroke-width="0.5" />
<text x="153.87" y="381.90" font-size="6.3" text-anchor="middle" fill="#333" >0.38</text>
<rect x="165.16" y="374.30" width="25.79" height="11.90" fill="#e1f3f6" stroke="#555" stroke-width="0.5" />
<text x="179.66" y="381.90" font-size="6.3" text-anchor="middle" fill="#333" >0.45</text>
<rect x="190.95" y="374.30" width="25.79" height="11.90" fill="#e9f7e7" stroke="#555" stroke-width="0.5" />
<text x="205.44" y="381.90" font-size="6.3" text-anchor="middle" fill="#333" >0.48</text>
<rect x="216.74" y="374.30" width="25.79" height="11.90" fill="#c5e6f0" stroke="#555" stroke-width="0.5" />
<text x="231.24" y="381.90" font-size="6.3" text-anchor="middle" fill="#333" >0.39</text>
<rect x="242.53" y="374.30" width="25.79" height="11.90" fill="#d73027" stroke="#555" stroke-width="0.5" />
<text x="257.03" y="381.90" font-size="6.3" text-anchor="middle" fill="#333" >1.00</text>
<rect x="268.32" y="374.30" width="25.79" height="11.90" fill="#d73027" stroke="#555" stroke-width="0.5" />
<text x="282.81" y="381.90" font-size="6.3" text-anchor="middle" fill="#333" >1.00</text>
<rect x="294.11" y="374.30" width="25.79" height="11.90" fill="#72aad0" stroke="#555" stroke-width="0.5" />
<text x="308.61" y="381.90" font-size="6.3" text-anchor="middle" fill="#333" >0.22</text>
<rect x="319.90" y="374.30" width="25.79" height="11.90" fill="#a3d3e5" stroke="#555" stroke-width="0.5" />
<text x="334.39" y="381.90" font-size="6.3" text-anchor="middle" fill="#333" >0.32</text>
<rect x="345.69" y="374.30" width="25.79" height="11.90" fill="#72aad0" stroke="#555" stroke-width="0.5" />
<text x="360.19" y="381.90" font-size="6.3" text-anchor="middle" fill="#333" >0.22</text>
<rect x="371.48" y="374.30" width="25.79" height="11.90" fill="#659bc8" stroke="#555" stroke-width="0.5" />
<text x="385.98" y="381.90" font-size="6.3" text-anchor="middle" fill="#333" >0.19</text>
<rect x="397.27" y="374.30" width="25.79" height="11.90" fill="#99cbe1" stroke="#555" stroke-width="0.5" />
<text x="411.76" y="381.90" font-size="6.3" text-anchor="middle" fill="#333" >0.30</text>
<text x="425.60" y="382.10" font-size="7.7" text-anchor="start" fill="#222" >MRD5 (0.73%)</text>
<rect x="56.60" y="386.20" width="4.10" height="11.90" fill="#0D6B38" stroke="none" stroke-width="1" />
<rect x="62.00" y="386.20" width="25.79" height="11.90" fill="#fee293" stroke="#555" stroke-width="0.5" />
<text x="76.49" y="393.80" font-size="6.3" text-anchor="middle" fill="#333" >0.66</text>
<rect x="87.79" y="386.20" width="25.79" height="11.90" fill="#fdbb6d" stroke="#555" stroke-width="0.5" />
<text x="102.28" y="393.80" font-size="6.3" text-anchor="middle" fill="#333" >0.75</text>
<rect x="113.58" y="386.20" width="25.79" height="11.90" fill="#eff9dd" stroke="#555" stroke-width="0.5" />
<text x="128.07" y="393.80" font-size="6.3" text-anchor="middle" fill="#333" >0.50</text>
<rect x="139.37" y="386.20" width="25.79" height="11.90" fill="#cae8f2" stroke="#555" stroke-width="0.5" />
<text x="153.87" y="393.80" font-size="6.3" text-anchor="middle" fill="#333" >0.40</text>
<rect x="165.16" y="386.20" width="25.79" height="11.90" fill="#fff6b1" stroke="#555" stroke-width="0.5" />
<text x="179.66" y="393.80" font-size="6.3" text-anchor="middle" fill="#333" >0.59</text>
<rect x="190.95" y="386.20" width="25.79" height="11.90" fill="#fffbba" stroke="#555" stroke-width="0.5" />
<text x="205.44" y="393.80" font-size="6.3" text-anchor="middle" fill="#333" >0.57</text>
<rect x="216.74" y="386.20" width="25.79" height="11.90" fill="#addaea" stroke="#555" stroke-width="0.5" />
<text x="231.24" y="393.80" font-size="6.3" text-anchor="middle" fill="#333" >0.34</text>
<rect x="242.53" y="386.20" width="25.79" height="11.90" fill="#fed282" stroke="#555" stroke-width="0.5" />
<text x="257.03" y="393.80" font-size="6.3" text-anchor="middle" fill="#333" >0.70</text>
<rect x="268.32" y="386.20" width="25.79" height="11.90" fill="#fffbba" stroke="#555" stroke-width="0.5" />
<text x="282.81" y="393.80" font-size="6.3" text-anchor="middle" fill="#333" >0.57</text>
<rect x="294.11" y="386.20" width="25.79" height="11.90" fill="#c0e3ef" stroke="#555" stroke-width="0.5" />
<text x="308.61" y="393.80" font-size="6.3" text-anchor="middle" fill="#333" >0.38</text>
<rect x="319.90" y="386.20" width="25.79" height="11.90" fill="#fdb265" stroke="#555" stroke-width="0.5" />
<text x="334.39" y="393.80" font-size="6.3" text-anchor="middle" fill="#333" >0.77</text>
<rect x="345.69" y="386.20" width="25.79" height="11.90" fill="#8abfdb" stroke="#555" stroke-width="0.5" />
<text x="360.19" y="393.80" font-size="6.3" text-anchor="middle" fill="#333" >0.27</text>
<rect x="371.48" y="386.20" width="25.79" height="11.90" fill="#94c7df" stroke="#555" stroke-width="0.5" />
<text x="385.98" y="393.80" font-size="6.3" text-anchor="middle" fill="#333" >0.29</text>
<rect x="397.27" y="386.20" width="25.79" height="11.90" fill="#e6f6ec" stroke="#555" stroke-width="0.5" />
<text x="411.76" y="393.80" font-size="6.3" text-anchor="middle" fill="#333" >0.47</text>
<text x="425.60" y="394.00" font-size="7.7" text-anchor="start" fill="#222" >MRD1 (0.3%)</text>
<rect x="56.60" y="398.10" width="4.10" height="11.90" fill="#AE1F6C" stroke="none" stroke-width="1" />
<rect x="62.00" y="398.10" width="25.79" height="11.90" fill="#fedf8f" stroke="#555" stroke-width="0.5" />
<text x="76.49" y="405.70" font-size="6.3" text-anchor="middle" fill="#333" >0.67</text>
<rect x="87.79" y="398.10" width="25.79" height="11.90" fill="#fffbba" stroke="#555" stroke-width="0.5" />
<text x="102.28" y="405.70" font-size="6.3" text-anchor="middle" fill="#333" >0.57</text>
<rect x="113.58" y="398.10" width="25.79" height="11.90" fill="#8fc3dd" stroke="#555" stroke-width="0.5" />
<text x="128.07" y="405.70" font-size="6.3" text-anchor="middle" fill="#333" >0.28</text>
<rect x="139.37" y="398.10" width="25.79" height="11.90" fill="#c0e3ef" stroke="#555" stroke-width="0.5" />
<text x="153.87" y="405.70" font-size="6.3" text-anchor="middle" fill="#333" >0.38</text>
<rect x="165.16" y="398.10" width="25.79" height="11.90" fill="#d3edf4" stroke="#555" stroke-width="0.5" />
<text x="179.66" y="405.70" font-size="6.3" text-anchor="middle" fill="#333" >0.42</text>
<rect x="190.95" y="398.10" width="25.79" height="11.90" fill="#d3edf4" stroke="#555" stroke-width="0.5" />
<text x="205.44" y="405.70" font-size="6.3" text-anchor="middle" fill="#333" >0.42</text>
<rect x="216.74" y="398.10" width="25.79" height="11.90" fill="#b2dceb" stroke="#555" stroke-width="0.5" />
<text x="231.24" y="405.70" font-size="6.3" text-anchor="middle" fill="#333" >0.35</text>
<rect x="242.53" y="398.10" width="25.79" height="11.90" fill="#e95739" stroke="#555" stroke-width="0.5" />
<text x="257.03" y="405.70" font-size="6.3" text-anchor="middle" fill="#333" >0.93</text>
<rect x="268.32" y="398.10" width="25.79" height="11.90" fill="#4b7db8" stroke="#555" stroke-width="0.5" />
<text x="282.81" y="405.70" font-size="6.3" text-anchor="middle" fill="#333" >0.13</text>
<rect x="294.11" y="398.10" width="25.79" height="11.90" fill="#5c91c2" stroke="#555" stroke-width="0.5" />
<text x="308.61" y="405.70" font-size="6.3" text-anchor="middle" fill="#333" >0.17</text>
<rect x="319.90" y="398.10" width="25.79" height="11.90" fill="#94c7df" stroke="#555" stroke-width="0.5" />
<text x="334.39" y="405.70" font-size="6.3" text-anchor="middle" fill="#333" >0.29</text>
<rect x="345.69" y="398.10" width="25.79" height="11.90" fill="#6196c5" stroke="#555" stroke-width="0.5" />
<text x="360.19" y="405.70" font-size="6.3" text-anchor="middle" fill="#333" >0.18</text>
<rect x="371.48" y="398.10" width="25.79" height="11.90" fill="#5c91c2" stroke="#555" stroke-width="0.5" />
<text x="385.98" y="405.70" font-size="6.3" text-anchor="middle" fill="#333" >0.17</text>
<rect x="397.27" y="398.10" width="25.79" height="11.90" fill="#8fc3dd" stroke="#555" stroke-width="0.5" />
<text x="411.76" y="405.70" font-size="6.3" text-anchor="middle" fill="#333" >0.28</text>
<text x="425.60" y="405.90" font-size="7.7" text-anchor="start" fill="#222" >MRD4 (0.35%)</text>
<rect x="56.60" y="410.00" width="4.10" height="11.90" fill="#1FA386" stroke="none" stroke-width="1" />
<rect x="62.00" y="410.00" width="25.79" height="11.90" fill="#fee89c" stroke="#555" stroke-width="0.5" />
<text x="76.49" y="417.60" font-size="6.3" text-anchor="middle" fill="#333" >0.64</text>
<rect x="87.79" y="410.00" width="25.79" height="11.90" fill="#fedf8f" stroke="#555" stroke-width="0.5" />
<text x="102.28" y="417.60" font-size="6.3" text-anchor="middle" fill="#333" >0.67</text>
<rect x="113.58" y="410.00" width="25.79" height="11.90" fill="#8abfdb" stroke="#555" stroke-width="0.5" />
<text x="128.07" y="417.60" font-size="6.3" text-anchor="middle" fill="#333" >0.27</text>
<rect x="139.37" y="410.00" width="25.79" height="11.90" fill="#b2dceb" stroke="#555" stroke-width="0.5" />
<text x="153.87" y="417.60" font-size="6.3" text-anchor="middle" fill="#333" >0.35</text>
<rect x="165.16" y="410.00" width="25.79" height="11.90" fill="#99cbe1" stroke="#555" stroke-width="0.5" />
<text x="179.66" y="417.60" font-size="6.3" text-anchor="middle" fill="#333" >0.30</text>
<rect x="190.95" y="410.00" width="25.79" height="11.90" fill="#fee293" stroke="#555" stroke-width="0.5" />
<text x="205.44" y="417.60" font-size="6.3" text-anchor="middle" fill="#333" >0.66</text>
<rect x="216.74" y="410.00" width="25.79" height="11.90" fill="#5c91c2" stroke="#555" stroke-width="0.5" />
<text x="231.24" y="417.60" font-size="6.3" text-anchor="middle" fill="#333" >0.17</text>
<rect x="242.53" y="410.00" width="25.79" height="11.90" fill="#addaea" stroke="#555" stroke-width="0.5" />
<text x="257.03" y="417.60" font-size="6.3" text-anchor="middle" fill="#333" >0.34</text>
<rect x="268.32" y="410.00" width="25.79" height="11.90" fill="#d3edf4" stroke="#555" stroke-width="0.5" />
<text x="282.81" y="417.60" font-size="6.3" text-anchor="middle" fill="#333" >0.42</text>
<rect x="294.11" y="410.00" width="25.79" height="11.90" fill="#a3d3e5" stroke="#555" stroke-width="0.5" />
<text x="308.61" y="417.60" font-size="6.3" text-anchor="middle" fill="#333" >0.32</text>
<rect x="319.90" y="410.00" width="25.79" height="11.90" fill="#8fc3dd" stroke="#555" stroke-width="0.5" />
<text x="334.39" y="417.60" font-size="6.3" text-anchor="middle" fill="#333" >0.28</text>
<rect x="345.69" y="410.00" width="25.79" height="11.90" fill="#f7fccd" stroke="#555" stroke-width="0.5" />
<text x="360.19" y="417.60" font-size="6.3" text-anchor="middle" fill="#333" >0.53</text>
<rect x="371.48" y="410.00" width="25.79" height="11.90" fill="#f7fccd" stroke="#555" stroke-width="0.5" />
<text x="385.98" y="417.60" font-size="6.3" text-anchor="middle" fill="#333" >0.53</text>
<rect x="397.27" y="410.00" width="25.79" height="11.90" fill="#69a0ca" stroke="#555" stroke-width="0.5" />
<text x="411.76" y="417.60" font-size="6.3" text-anchor="middle" fill="#333" >0.20</text>
<text x="425.60" y="417.80" font-size="7.7" text-anchor="start" fill="#222" >Healthy (67.48%)</text>
<rect x="56.60" y="421.90" width="4.10" height="11.90" fill="#2C55A0" stroke="none" stroke-width="1" />
<rect x="62.00" y="421.90" width="25.79" height="11.90" fill="#8abfdb" stroke="#555" stroke-width="0.5" />
<text x="76.49" y="429.50" font-size="6.3" text-anchor="middle" fill="#333" >0.27</text>
<rect x="87.79" y="421.90" width="25.79" height="11.90" fill="#b2dceb" stroke="#555" stroke-width="0.5" />
<text x="102.28" y="429.50" font-size="6.3" text-anchor="middle" fill="#333" >0.35</text>
<rect x="113.58" y="421.90" width="25.79" height="11.90" fill="#fee89c" stroke="#555" stroke-width="0.5" />
<text x="128.07" y="429.50" font-size="6.3" text-anchor="middle" fill="#333" >0.64</text>
<rect x="139.37" y="421.90" width="25.79" height="11.90" fill="#b2dceb" stroke="#555" stroke-width="0.5" />
<text x="153.87" y="429.50" font-size="6.3" text-anchor="middle" fill="#333" >0.35</text>
<rect x="165.16" y="421.90" width="25.79" height="11.90" fill="#fffebe" stroke="#555" stroke-width="0.5" />
<text x="179.66" y="429.50" font-size="6.3" text-anchor="middle" fill="#333" >0.56</text>
<rect x="190.95" y="421.90" width="25.79" height="11.90" fill="#a8d7e8" stroke="#555" stroke-width="0.5" />
<text x="205.44" y="429.50" font-size="6.3" text-anchor="middle" fill="#333" >0.33</text>
<rect x="216.74" y="421.90" width="25.79" height="11.90" fill="#5487bd" stroke="#555" stroke-width="0.5" />
<text x="231.24" y="429.50" font-size="6.3" text-anchor="middle" fill="#333" >0.15</text>
<rect x="242.53" y="421.90" width="25.79" height="11.90" fill="#6196c5" stroke="#555" stroke-width="0.5" />
<text x="257.03" y="429.50" font-size="6.3" text-anchor="middle" fill="#333" >0.18</text>
<rect x="268.32" y="421.90" width="25.79" height="11.90" fill="#d3edf4" stroke="#555" stroke-width="0.5" />
<text x="282.81" y="429.50" font-size="6.3" text-anchor="middle" fill="#333" >0.42</text>
<rect x="294.11" y="421.90" width="25.79" height="11.90" fill="#9ecfe3" stroke="#555" stroke-width="0.5" />
<text x="308.61" y="429.50" font-size="6.3" text-anchor="middle" fill="#333" >0.31</text>
<rect x="319.90" y="421.90" width="25.79" height="11.90" fill="#85bbd8" stroke="#555" stroke-width="0.5" />
<text x="334.39" y="429.50" font-size="6.3" text-anchor="middle" fill="#333" >0.26</text>
<rect x="345.69" y="421.90" width="25.79" height="11.90" fill="#4778b5" stroke="#555" stroke-width="0.5" />
<text x="360.19" y="429.50" font-size="6.3" text-anchor="middle" fill="#333" >0.12</text>
<rect x="371.48" y="421.90" width="25.79" height="11.90" fill="#8abfdb" stroke="#555" stroke-width="0.5" />
<text x="385.98" y="429.50" font-size="6.3" text-anchor="middle" fill="#333" >0.27</text>
<rect x="397.27" y="421.90" width="25.79" height="11.90" fill="#8abfdb" stroke="#555" stroke-width="0.5" />
<text x="411.76" y="429.50" font-size="6.3" text-anchor="middle" fill="#333" >0.27</text>
<text x="425.60" y="429.70" font-size="7.7" text-anchor="start" fill="#222" >MRD2 (2.75%)</text>
<rect x="56.60" y="433.80" width="4.10" height="11.90" fill="#EE4A30" stroke="none" stroke-width="1" />
<rect x="62.00" y="433.80" width="25.79" height="11.90" fill="#e9f7e7" stroke="#555" stroke-width="0.5" />
<text x="76.49" y="441.40" font-size="6.3" text-anchor="middle" fill="#333" >0.48</text>
<rect x="87.79" y="433.80" width="25.79" height="11.90" fill="#e6f6ec" stroke="#555" stroke-width="0.5" />
<text x="102.28" y="441.40" font-size="6.3" text-anchor="middle" fill="#333" >0.47</text>
<rect x="113.58" y="433.80" width="25.79" height="11.90" fill="#f88a50" stroke="#555" stroke-width="0.5" />
<text x="128.07" y="441.40" font-size="6.3" text-anchor="middle" fill="#333" >0.84</text>
<rect x="139.37" y="433.80" width="25.79" height="11.90" fill="#fba25b" stroke="#555" stroke-width="0.5" />
<text x="153.87" y="441.40" font-size="6.3" text-anchor="middle" fill="#333" >0.80</text>
<rect x="165.16" y="433.80" width="25.79" height="11.90" fill="#feeda4" stroke="#555" stroke-width="0.5" />
<text x="179.66" y="441.40" font-size="6.3" text-anchor="middle" fill="#333" >0.62</text>
<rect x="190.95" y="433.80" width="25.79" height="11.90" fill="#7bb3d4" stroke="#555" stroke-width="0.5" />
<text x="205.44" y="441.40" font-size="6.3" text-anchor="middle" fill="#333" >0.24</text>
<rect x="216.74" y="433.80" width="25.79" height="11.90" fill="#6da5cd" stroke="#555" stroke-width="0.5" />
<text x="231.24" y="441.40" font-size="6.3" text-anchor="middle" fill="#333" >0.21</text>
<rect x="242.53" y="433.80" width="25.79" height="11.90" fill="#fffbba" stroke="#555" stroke-width="0.5" />
<text x="257.03" y="441.40" font-size="6.3" text-anchor="middle" fill="#333" >0.57</text>
<rect x="268.32" y="433.80" width="25.79" height="11.90" fill="#a3d3e5" stroke="#555" stroke-width="0.5" />
<text x="282.81" y="441.40" font-size="6.3" text-anchor="middle" fill="#333" >0.32</text>
<rect x="294.11" y="433.80" width="25.79" height="11.90" fill="#fed282" stroke="#555" stroke-width="0.5" />
<text x="308.61" y="441.40" font-size="6.3" text-anchor="middle" fill="#333" >0.70</text>
<rect x="319.90" y="433.80" width="25.79" height="11.90" fill="#6da5cd" stroke="#555" stroke-width="0.5" />
<text x="334.39" y="441.40" font-size="6.3" text-anchor="middle" fill="#333" >0.21</text>
<rect x="345.69" y="433.80" width="25.79" height="11.90" fill="#6da5cd" stroke="#555" stroke-width="0.5" />
<text x="360.19" y="441.40" font-size="6.3" text-anchor="middle" fill="#333" >0.21</text>
<rect x="371.48" y="433.80" width="25.79" height="11.90" fill="#cae8f2" stroke="#555" stroke-width="0.5" />
<text x="385.98" y="441.40" font-size="6.3" text-anchor="middle" fill="#333" >0.40</text>
<rect x="397.27" y="433.80" width="25.79" height="11.90" fill="#d8eff6" stroke="#555" stroke-width="0.5" />
<text x="411.76" y="441.40" font-size="6.3" text-anchor="middle" fill="#333" >0.43</text>
<text x="425.60" y="441.60" font-size="7.7" text-anchor="start" fill="#222" >Diagnosis (18.82%)</text>
<rect x="56.60" y="445.70" width="4.10" height="11.90" fill="#D8C01C" stroke="none" stroke-width="1" />
<rect x="62.00" y="445.70" width="25.79" height="11.90" fill="#e6f6ec" stroke="#555" stroke-width="0.5" />
<text x="76.49" y="453.30" font-size="6.3" text-anchor="middle" fill="#333" >0.47</text>
<rect x="87.79" y="445.70" width="25.79" height="11.90" fill="#f88a50" stroke="#555" stroke-width="0.5" />
<text x="102.28" y="453.30" font-size="6.3" text-anchor="middle" fill="#333" >0.84</text>
<rect x="113.58" y="445.70" width="25.79" height="11.90" fill="#fdc476" stroke="#555" stroke-width="0.5" />
<text x="128.07" y="453.30" font-size="6.3" text-anchor="middle" fill="#333" >0.73</text>
<rect x="139.37" y="445.70" width="25.79" height="11.90" fill="#fafdc8" stroke="#555" stroke-width="0.5" />
<text x="153.87" y="453.30" font-size="6.3" text-anchor="middle" fill="#333" >0.54</text>
<rect x="165.16" y="445.70" width="25.79" height="11.90" fill="#fdbb6d" stroke="#555" stroke-width="0.5" />
<text x="179.66" y="453.30" font-size="6.3" text-anchor="middle" fill="#333" >0.75</text>
<rect x="190.95" y="445.70" width="25.79" height="11.90" fill="#fedb8b" stroke="#555" stroke-width="0.5" />
<text x="205.44" y="453.30" font-size="6.3" text-anchor="middle" fill="#333" >0.68</text>
<rect x="216.74" y="445.70" width="25.79" height="11.90" fill="#e9f7e7" stroke="#555" stroke-width="0.5" />
<text x="231.24" y="453.30" font-size="6.3" text-anchor="middle" fill="#333" >0.48</text>
<rect x="242.53" y="445.70" width="25.79" height="11.90" fill="#e4f4f1" stroke="#555" stroke-width="0.5" />
<text x="257.03" y="453.30" font-size="6.3" text-anchor="middle" fill="#333" >0.46</text>
<rect x="268.32" y="445.70" width="25.79" height="11.90" fill="#fdc476" stroke="#555" stroke-width="0.5" />
<text x="282.81" y="453.30" font-size="6.3" text-anchor="middle" fill="#333" >0.73</text>
<rect x="294.11" y="445.70" width="25.79" height="11.90" fill="#fed687" stroke="#555" stroke-width="0.5" />
<text x="308.61" y="453.30" font-size="6.3" text-anchor="middle" fill="#333" >0.69</text>
<rect x="319.90" y="445.70" width="25.79" height="11.90" fill="#ddf1f7" stroke="#555" stroke-width="0.5" />
<text x="334.39" y="453.30" font-size="6.3" text-anchor="middle" fill="#333" >0.44</text>
<rect x="345.69" y="445.70" width="25.79" height="11.90" fill="#b6dfec" stroke="#555" stroke-width="0.5" />
<text x="360.19" y="453.30" font-size="6.3" text-anchor="middle" fill="#333" >0.36</text>
<rect x="371.48" y="445.70" width="25.79" height="11.90" fill="#fee598" stroke="#555" stroke-width="0.5" />
<text x="385.98" y="453.30" font-size="6.3" text-anchor="middle" fill="#333" >0.65</text>
<rect x="397.27" y="445.70" width="25.79" height="11.90" fill="#f7844e" stroke="#555" stroke-width="0.5" />
<text x="411.76" y="453.30" font-size="6.3" text-anchor="middle" fill="#333" >0.85</text>
<text x="425.60" y="453.50" font-size="7.7" text-anchor="start" fill="#222" >MRD3 (0.27%)</text>
<rect x="56.60" y="457.60" width="4.10" height="11.90" fill="#3CBBE5" stroke="none" stroke-width="1" />
<rect x="62.00" y="457.60" width="25.79" height="11.90" fill="#fedf8f" stroke="#555" stroke-width="0.5" />
<text x="76.49" y="465.20" font-size="6.3" text-anchor="middle" fill="#333" >0.67</text>
<rect x="87.79" y="457.60" width="25.79" height="11.90" fill="#fedf8f" stroke="#555" stroke-width="0.5" />
<text x="102.28" y="465.20" font-size="6.3" text-anchor="middle" fill="#333" >0.67</text>
<rect x="113.58" y="457.60" width="25.79" height="11.90" fill="#fecd7e" stroke="#555" stroke-width="0.5" />
<text x="128.07" y="465.20" font-size="6.3" text-anchor="middle" fill="#333" >0.71</text>
<rect x="139.37" y="457.60" width="25.79" height="11.90" fill="#bbe1ee" stroke="#555" stroke-width="0.5" />
<text x="153.87" y="465.20" font-size="6.3" text-anchor="middle" fill="#333" >0.37</text>
<rect x="165.16" y="457.60" width="25.79" height="11.90" fill="#fafdc8" stroke="#555" stroke-width="0.5" />
<text x="179.66" y="465.20" font-size="6.3" text-anchor="middle" fill="#333" >0.54</text>
<rect x="190.95" y="457.60" width="25.79" height="11.90" fill="#fffebe" stroke="#555" stroke-width="0.5" />
<text x="205.44" y="465.20" font-size="6.3" text-anchor="middle" fill="#333" >0.56</text>
<rect x="216.74" y="457.60" width="25.79" height="11.90" fill="#85bbd8" stroke="#555" stroke-width="0.5" />
<text x="231.24" y="465.20" font-size="6.3" text-anchor="middle" fill="#333" >0.26</text>
<rect x="242.53" y="457.60" width="25.79" height="11.90" fill="#fedb8b" stroke="#555" stroke-width="0.5" />
<text x="257.03" y="465.20" font-size="6.3" text-anchor="middle" fill="#333" >0.68</text>
<rect x="268.32" y="457.60" width="25.79" height="11.90" fill="#76afd2" stroke="#555" stroke-width="0.5" />
<text x="282.81" y="465.20" font-size="6.3" text-anchor="middle" fill="#333" >0.23</text>
<rect x="294.11" y="457.60" width="25.79" height="11.90" fill="#fba25b" stroke="#555" stroke-width="0.5" />
<text x="308.61" y="465.20" font-size="6.3" text-anchor="middle" fill="#333" >0.80</text>
<rect x="319.90" y="457.60" width="25.79" height="11.90" fill="#9ecfe3" stroke="#555" stroke-width="0.5" />
<text x="334.39" y="465.20" font-size="6.3" text-anchor="middle" fill="#333" >0.31</text>
<rect x="345.69" y="457.60" width="25.79" height="11.90" fill="#fafdc8" stroke="#555" stroke-width="0.5" />
<text x="360.19" y="465.20" font-size="6.3" text-anchor="middle" fill="#333" >0.54</text>
<rect x="371.48" y="457.60" width="25.79" height="11.90" fill="#fa9c59" stroke="#555" stroke-width="0.5" />
<text x="385.98" y="465.20" font-size="6.3" text-anchor="middle" fill="#333" >0.81</text>
<rect x="397.27" y="457.60" width="25.79" height="11.90" fill="#ecf8e2" stroke="#555" stroke-width="0.5" />
<text x="411.76" y="465.20" font-size="6.3" text-anchor="middle" fill="#333" >0.49</text>
<text x="425.60" y="465.40" font-size="7.7" text-anchor="start" fill="#222" >Relapse (9.3%)</text>
<line x1="34.10" y1="388.90" x2="34.10" y2="434.90" stroke="#888" stroke-width="0.8"/>
<line x1="34.10" y1="388.90" x2="38.90" y2="388.90" stroke="#888" stroke-width="0.8"/>
<line x1="38.90" y1="379.80" x2="38.90" y2="398.00" stroke="#888" stroke-width="0.8"/>
<line x1="38.90" y1="379.80" x2="55.70" y2="379.80" stroke="#888" stroke-width="0.8"/>
<line x1="38.90" y1="398.00" x2="40.00" y2="398.00" stroke="#888" stroke-width="0.8"/>
<line x1="40.00" y1="392.10" x2="40.00" y2="403.90" stroke="#888" stroke-width="0.8"/>
<line x1="40.00" y1="392.10" x2="55.70" y2="392.10" stroke="#888" stroke-width="0.8"/>
<line x1="40.00" y1="403.90" x2="55.70" y2="403.90" stroke="#888" stroke-width="0.8"/>
<line x1="34.10" y1="434.90" x2="36.80" y2="434.90" stroke="#888" stroke-width="0.8"/>
<line x1="36.80" y1="421.50" x2="36.80" y2="448.10" stroke="#888" stroke-width="0.8"/>
<line x1="36.80" y1="421.50" x2="40.75" y2="421.50" stroke="#888" stroke-width="0.8"/>
<line x1="40.75" y1="415.70" x2="40.75" y2="427.50" stroke="#888" stroke-width="0.8"/>
<line x1="40.75" y1="415.70" x2="55.70" y2="415.70" stroke="#888" stroke-width="0.8"/>
<line x1="40.75" y1="427.50" x2="55.70" y2="427.50" stroke="#888" stroke-width="0.8"/>
<line x1="36.80" y1="448.10" x2="40.30" y2="448.10" stroke="#888" stroke-width="0.8"/>
<line x1="40.30" y1="439.30" x2="40.30" y2="456.90" stroke="#888" stroke-width="0.8"/>
<line x1="40.30" y1="439.30" x2="55.70" y2="439.30" stroke="#888" stroke-width="0.8"/>
<line x1="40.30" y1="456.90" x2="42.00" y2="456.90" stroke="#888" stroke-width="0.8"/>
<line x1="42.00" y1="451.10" x2="42.00" y2="462.90" stroke="#888" stroke-width="0.8"/>
<line x1="42.00" y1="451.10" x2="55.70" y2="451.10" stroke="#888" stroke-width="0.8"/>
<line x1="42.00" y1="462.90" x2="55.70" y2="462.90" stroke="#888" stroke-width="0.8"/>
<text transform="translate(55.90,471.60) rotate(90)" font-size="7.6" text-anchor="start" fill="#333">Cluster</text>
<text transform="translate(72.89,471.60) rotate(90)" font-size="7.7" text-anchor="start" fill="#333">FSC-A</text>
<text transform="translate(98.68,471.60) rotate(90)" font-size="7.7" text-anchor="start" fill="#333">SSC-A</text>
<text transform="translate(124.47,471.60) rotate(90)" font-size="7.7" text-anchor="start" fill="#333">CD34</text>
<text transform="translate(150.27,471.60) rotate(90)" font-size="7.7" text-anchor="start" fill="#333">CD117</text>
<text transform="translate(176.06,471.60) rotate(90)" font-size="7.7" text-anchor="start" fill="#333">HLA-DR</text>
<text transform="translate(201.84,471.60) rotate(90)" font-size="7.7" text-anchor="start" fill="#333">CD45</text>
<text transform="translate(227.64,471.60) rotate(90)" font-size="7.7" text-anchor="start" fill="#333">CD71</text>
<text transform="translate(253.43,471.60) rotate(90)" font-size="7.7" text-anchor="start" fill="#333">CD38</text>
<text transform="translate(279.21,471.60) rotate(90)" font-size="7.7" text-anchor="start" fill="#333">CD19</text>
<text transform="translate(305.00,471.60) rotate(90)" font-size="7.7" text-anchor="start" fill="#333">CD13</text>
<text transform="translate(330.79,471.60) rotate(90)" font-size="7.7" text-anchor="start" fill="#333">CD14</text>
<text transform="translate(356.58,471.60) rotate(90)" font-size="7.7" text-anchor="start" fill="#333">CD15</text>
<text transform="translate(382.38,471.60) rotate(90)" font-size="7.7" text-anchor="start" fill="#333">CD33</text>
<text transform="translate(408.16,471.60) rotate(90)" font-size="7.7" text-anchor="start" fill="#333">IL1RAP</text>
<defs><linearGradient id="cb" x1="0" y1="1" x2="0" y2="0"><stop offset="0.000" stop-color="#4575b4"/><stop offset="0.125" stop-color="#74add1"/><stop offset="0.250" stop-color="#abd9e9"/><stop offset="0.375" stop-color="#e0f3f8"/><stop offset="0.500" stop-color="#ffffbf"/><stop offset="0.625" stop-color="#fee090"/><stop offset="0.750" stop-color="#fdae61"/><stop offset="0.875" stop-color="#f46d43"/><stop offset="1.000" stop-color="#d73027"/></linearGradient></defs>
<rect x="492.90" y="374.50" width="4.00" height="60.70" fill="url(#cb)" stroke="none" stroke-width="1" />
<text x="498.60" y="376.80" font-size="6.6" text-anchor="start" fill="#333" >1</text>
<text x="498.60" y="390.50" font-size="6.6" text-anchor="start" fill="#333" >0.8</text>
<text x="498.60" y="404.20" font-size="6.6" text-anchor="start" fill="#333" >0.6</text>
<text x="498.60" y="417.90" font-size="6.6" text-anchor="start" fill="#333" >0.4</text>
<text x="498.60" y="431.60" font-size="6.6" text-anchor="start" fill="#333" >0.2</text>
<text x="16.70" y="506.60" font-size="10" text-anchor="start" fill="#111" font-weight="bold" >D</text>
<path transform="scale(.5)" d="M123 1039h0m-3-3h0m-1 0h0m-10 2h0m-3-1h0m14 10h0m1-1h0m26 5h0m-28 0h0m-4-1h0m-5 0h0m-17-2h0m-5 1h0m6 11h0m5 0h0m16-4h0m18 0h0m3 4h0m0-4h0m-1 15h0m-9 1h0m16 3h0m7-3h0m4 4h0m1 2h0m6 0h0m-10 16h0m-38 14h0m20 11h0m-22 0h0" stroke="#F5AAB0" stroke-width="2.7" stroke-linecap="round"/>
<path transform="scale(.5)" d="M123 1036h0m-1 1h0m-2 1h0m0-1h0m0-1h0m-8 2h0m0-4h0m-2 4h0m-17 9h0m7-1h0m24-4h0m10 1h0m3 3h0m-2 9h0m-4-3h0m-8-4h0m-6 5h0m-23-1h0m-7 7h0m7 1h0m5-1h0m11-3h0m22 2h0m0 1h0m2 1h0m12 5h0m-19-1h0m-5 5h0m-23 6h0m14 3h0m3-1h0m1 2h0m11-5h0m22 3h0m3-1h0m4 4h0m-5 0h0m-8 7h0m-7-6h0m-2 6h0m-10-1h0m-3-6h0m-7 6h0m2 6h0m2 0h0m2-1h0m0 2h0m0-3h0m3 2h0m1 1h0m6 0h0m3 2h0m9-5h0m6 5h0m8 0h0m-21 4h0m-1-2h0m-3-1h0m-4 5h0m-2 1h0m0 1h0m-1 0h0m-2 0h0m-1-7h0m2 8h0m1 0h0m0 1h0m1 0h0m4-1h0m2 1h0m2-1h0m1 2h0" stroke="#F07A72" stroke-width="2.7" stroke-linecap="round"/>
<path transform="scale(.5)" d="M121 1038h0m0-1h0m-1-1h0m0 1h0m-5-1h0m-9-1h0m-8 11h0m19 1h0m2-6h0m15 12h0m-12-1h0m-5-4h0m-29 12h0m3-1h0m4-1h0m38 3h0m0 2h0m1 8h0m-7-4h0m-5-3h0m-7 4h0m-9 9h0m26 1h0m1-6h0m17 5h0m2-2h0m7 11h0m-8 0h0m-11-5h0m-8 2h0m-2-1h0m-24 3h0m-1 0h0m-9-1h0m0 1h0m0 2h0m-5 5h0m1 3h0m2 0h0m1-1h0m0-1h0m0-5h0m1 3h0m1-2h0m0 2h0m1 3h0m1-6h0m2 5h0m1-3h0m4-1h0m0 6h0m0-7h0m1 4h0m1 2h0m10-3h0m1 1h0m1-1h0m0 1h0m1 0h0m0 2h0m1 1h0m5-1h0m1-4h0m4 2h0m0 1h0m2 1h0m2 0h0m1-6h0m7 4h0m0 3h0m1-2h0m-10 8h0m-2-2h0m-1 2h0m-3-5h0m-2 3h0m-2 4h0m-1-1h0m-2-1h0m-2-5h0m0 2h0m0 3h0m-10-1h0m-1 0h0m0-1h0m0 4h0m-1-3h0m-5 2h0m-1-3h0m0 3h0m-1-2h0m-1 1h0m-1-2h0m-1 0h0m-2-1h0m-1 2h0m0 2h0m-1 0h0m0-3h0m0 2h0m-2-1h0m0 2h0m0 2h0m1 5h0m2-1h0m0 2h0m2-3h0m2-2h0m0 4h0m0-1h0m1 0h0m1-3h0m1 4h0m2-1h0m0-1h0m5 2h0m1-4h0m0 6h0m1-2h0m0 2h0m1-7h0m2 0h0m1 0h0m0 2h0m1 0h0m1 3h0m1-5h0m1 2h0m1 2h0m1-4h0m0 4h0m0-3h0m1 5h0m3-6h0m0 1h0m1-1h0m0 1h0m0 2h0m1-2h0m0 6h0m1 0h0m3-2h0m2 1h0m1-6h0m2 0h0m2 6h0m-9 5h0m-1 3h0m0 1h0m-1-5h0m0 2h0m0 1h0m-2-5h0m0 2h0m0 4h0m-1 0h0m-1 0h0m-3-4h0m-4 1h0m-1 0h0m-2 2h0m-2-4h0m0 6h0m-2-4h0m-1-1h0m-4-2h0m0 4h0m-1 3h0m-4-1h0m-1-6h0m-4 4h0m0-3h0m0 2h0m-2-2h0m7 9h0m3 1h0m3-2h0m1 0h0m0-1h0m2 3h0m0-3h0m1 4h0m1-3h0m1 5h0m3-2h0m0 2h0m2-2h0m2 2h0m2-6h0m0 4h0m3-2h0m0-2h0m1 4h0m0-3h0m2-1h0m3 0h0" stroke="#E8402F" stroke-width="2.7" stroke-linecap="round"/>
<path transform="scale(.5)" d="M101 1071h0m-11 8h0m7 0h0m1-5h0m1 3h0m1-3h0m3-2h0m2 0h0m0 2h0m1-1h0m2 13h0m-3 0h0m-2-1h0m0 2h0m-4-2h0m0-2h0m-3 3h0m0-3h0m-1 2h0m-6-3h0m3 9h0m0 4h0m0-5h0m0 2h0m0 2h0m2-1h0m3 0h0m2-5h0m1 0h0m0 6h0m1-2h0m0 2h0m1 0h0m0 1h0m1-2h0m1-4h0m0 2h0m1 1h0m0-2h0m1 0h0m2 5h0m2-5h0m13 12h0m-2-1h0m-1-3h0m0 1h0m0 4h0m-6-1h0m-3 0h0m0-2h0m-1 3h0m0-3h0m-1 1h0m-1 2h0m-1-6h0m-1 3h0m-1-2h0m-1 4h0m-1 0h0m-1 1h0m0-7h0m-3 4h0m0 2h0m-3-2h0m-1-2h0m-1 0h0m0 2h0m-1-1h0m-1-1h0m0 2h0m-1 1h0m-1-1h0m1 8h0m1 1h0m1 2h0m1-6h0m0 2h0m1-2h0m0 2h0m1 2h0m0 1h0m0-5h0m2 3h0m0 1h0m1-3h0m1 3h0m2 1h0m1-6h0m1 4h0m4-3h0m1 6h0m0-1h0m1-4h0m0 4h0m0-6h0m1 7h0m1-6h0m2 0h0m0 1h0m1 0h0m0 4h0m1 1h0m1 0h0m0-4h0m1 2h0m1 2h0m0-7h0m1 5h0m2-4h0m0-1h0m0 4h0m1 0h0m2-4h0m1 7h0m0-3h0m0 1h0m1 0h0m1 1h0m4 8h0m-2 1h0m-1-4h0m0 2h0m-1 0h0m0-3h0m-1 4h0m-1-5h0m-1-1h0m-1 7h0m0-7h0m-1 5h0m0 2h0m0-3h0m-1 0h0m-1-3h0m-1 1h0m0 5h0m-1-6h0m-1 6h0m-1-1h0m-2-1h0m-1 1h0m0-5h0m-1 1h0m0 1h0m-1-2h0m0 6h0m0-5h0m0 2h0m-1 0h0m0-3h0m0 1h0m-1 3h0m0-5h0m0 2h0m-1 0h0m0 5h0m0-7h0m-2 6h0m0 1h0m-1-3h0m-1-4h0m0 6h0m-1-4h0m-2 3h0m-1-5h0m-1 6h0m0-1h0m-2-4h0m-1-1h0m0 5h0m-1 1h0m0-4h0m-2-1h0m-1 0h0m6 8h0m0-1h0m1 0h0m1 3h0m0-3h0m0 1h0m1 0h0m1 2h0m0 1h0m4 1h0m0-1h0m1 1h0m0-5h0m1 4h0m1-2h0m1 0h0m0 2h0m2 1h0m0-1h0m0 2h0m1-4h0m2 0h0m1 2h0m1 1h0m3-3h0m0-1h0m0 2h0m1-1h0m2-2h0m1 0h0m1 2h0m1-1h0m3 1h0" stroke="#E0162B" stroke-width="2.7" stroke-linecap="round"/>
<path transform="scale(.5)" d="M108 1086h0m-2 0h0m-1-1h0m-1 2h0m-2 0h0m-2 0h0m-1-1h0m-1 1h0m0-2h0m0-1h0m-1 3h0m0-2h0m0-1h0m-2 2h0m-4 8h0m0-1h0m0-1h0m1 0h0m0-1h0m0 3h0m1-5h0m0 4h0m0-2h0m1-2h0m0 4h0m0-1h0m0-1h0m1 4h0m0-1h0m0-1h0m1-5h0m1 0h0m1 6h0m0-5h0m1 6h0m0-4h0m1-2h0m0 4h0m1 2h0m2-3h0m0-1h0m0-1h0m0 4h0m0-6h0m1 3h0m1 1h0m1 1h0m1 1h0m0 1h0m1-3h0m0-1h0m0 4h0m0-5h0m0 3h0m1-4h0m0 4h0m0-1h0m0 2h0m1 0h0m0-2h0m13 11h0m-1-3h0m0 3h0m-1-1h0m-1-2h0m0 3h0m-1-1h0m-7 1h0m-1-5h0m-1 4h0m0-1h0m0-5h0m-1 1h0m0-1h0m-1 5h0m0 2h0m-1-2h0m-2 1h0m-1 1h0m0-1h0m0-1h0m0-1h0m-1 3h0m0-6h0m-1 1h0m-1 3h0m0-2h0m-1 3h0m0-5h0m0 3h0m0-1h0m0-1h0m-1 5h0m0-6h0m0 3h0m-1-1h0m0-1h0m-1 2h0m0-1h0m0 4h0m-1-4h0m0 3h0m0-1h0m0-1h0m-1 2h0m0-1h0m0-5h0m-1 3h0m0-1h0m0 2h0m-1-2h0m0-1h0m0 4h0m-1 1h0m0-3h0m0-1h0m-1 3h0m0-5h0m-1 1h0m0 2h0m1 9h0m1 1h0m0-5h0m1 4h0m0-4h0m1 4h0m0-3h0m1 0h0m1 6h0m0-1h0m1-1h0m0-5h0m0 6h0m1-4h0m0-2h0m2 0h0m0 3h0m1-2h0m1 3h0m1-2h0m1 2h0m0-2h0m1 5h0m0-5h0m1 3h0m0-5h0m0 4h0m1-1h0m0-2h0m0 4h0m1-2h0m0 4h0m1-1h0m1-4h0m0 4h0m1 1h0m0-1h0m0-5h0m2 4h0m1 1h0m0-2h0m1-4h0m0 3h0m0-1h0m2 5h0m0-6h0m0 4h0m0-1h0m0-1h0m1-3h0m0 2h0m0 3h0m1 2h0m0-5h0m0-1h0m0 2h0m1-2h0m1 2h0m0-2h0m2-1h0m0 6h0m1-1h0m0-1h0m0-1h0m1 4h0m0-2h0m1-2h0m0 2h0m2 1h0m1 1h0m1 2h0m-1 5h0m0-3h0m0-1h0m-1 0h0m0 4h0m0-5h0m-1 6h0m0-2h0m-1-5h0m-1 7h0m0-1h0m0-5h0m0-1h0m-1 6h0m0-5h0m-1 6h0m-1-4h0m0-1h0m0 2h0m-1 1h0m0 2h0m-1-5h0m-2 4h0m0 1h0m0-5h0m-1 2h0m0-4h0m-1 1h0m0 4h0m-1 0h0m0-5h0m-1 3h0m0 1h0m-1 1h0m0 2h0m-1-2h0m0-5h0m0 2h0m0 4h0m-1-4h0m0 4h0m0-5h0m0-1h0m-1 0h0m0 4h0m0-2h0m-1 2h0m0-3h0m0 4h0m-1-2h0m0-2h0m0 4h0m-1-5h0m0 3h0m-1 3h0m0-5h0m-1 4h0m0-1h0m-1 2h0m0-3h0m0 4h0m-1-5h0m0-2h0m-1 1h0m0-1h0m0 2h0m-1 5h0m-1 0h0m-1-6h0m0-1h0m-1 4h0m-1-2h0m0 3h0m-1-5h0m0 3h0m-1-1h0m0 4h0m0-1h0m-1 0h0m-1-3h0m0-1h0m5 7h0m1 1h0m2 1h0m2 2h0m2-2h0m0 3h0m0-5h0m1 4h0m0-1h0m0-2h0m1 2h0m0-1h0m0-1h0m1 4h0m1-4h0m0 4h0m0-5h0m1 6h0m1-6h0m1 0h0m1 2h0m0 3h0m1-3h0m1 4h0m0-5h0m1 2h0m0-1h0m0 2h0m1-4h0m0 1h0m1 1h0m0-1h0m1 2h0m1-3h0m0 3h0m0-1h0m1 0h0m0 2h0m1-2h0m1-1h0m0-1h0m2 1h0m0-1h0m2 0h0m1 0h0m2 0h0" stroke="#B71F2E" stroke-width="2.7" stroke-linecap="round"/>
<rect x="35.40" y="514.40" width="48.80" height="51.10" fill="none" stroke="#555" stroke-width="0.9" />
<text x="59.80" y="510.30" font-size="8.8" text-anchor="middle" fill="#1a1a1a" >Diagnosis</text>
<path transform="scale(.5)" d="M240 1039h0m-1-3h0m0 2h0m0 1h0m-1-1h0m0 1h0m-1-3h0m0 2h0m0-1h0m-1 2h0m0-3h0m0 2h0m-2-1h0m0 2h0m0-5h0m0 2h0m-2-1h0m-1 1h0m0 1h0m-1 1h0m-2 1h0m-2-2h0m0-1h0m-3-2h0m-1 3h0m-2 2h0m-1 0h0m-1 0h0m0-1h0m0-3h0m-2 3h0m-1 1h0m-2 0h0m-1 0h0m-3 8h0m1-6h0m1 3h0m0 2h0m1-2h0m0-1h0m0-3h0m0 2h0m1-2h0m0 2h0m0 2h0m0-3h0m1 5h0m0-3h0m1 4h0m2 0h0m0-2h0m1-2h0m0-3h0m0 6h0m1 0h0m1-6h0m2 6h0m3 0h0m0-1h0m1-1h0m1 2h0m0-1h0m0 2h0m2-2h0m2-3h0m2 4h0m1-2h0m1-3h0m0 6h0m2-1h0m0-4h0m2-2h0m0 1h0m2 5h0m11-4h0m-12 9h0m0-3h0m0 1h0m-1-1h0m0 2h0m-2 4h0m-1 0h0m-1-5h0m-1 0h0m0 6h0m-1-7h0m-2 0h0m-1 1h0m0-1h0m-2 7h0m-1-4h0m-1-2h0m-1 5h0m-2-1h0m0 2h0m-1-3h0m0 1h0m0 2h0m-1-4h0m-1-1h0m0 2h0m0-1h0m-1-1h0m0 4h0m-1-6h0m-4 4h0m-1 2h0m0-1h0m-2 0h0m-1-3h0m0 1h0m-2 4h0m-2-4h0m-1 1h0m-1-3h0m0 2h0m0 2h0m-1-1h0m1 6h0m0 2h0m0-1h0m2-3h0m1 3h0m0-1h0m1 0h0m1-1h0m1 5h0m0-6h0m1 0h0m0 2h0m0-1h0m1 1h0m0 3h0m0 2h0m1-2h0m0-3h0m1-1h0m0 4h0m2-2h0m0-1h0m1-2h0m0 2h0m0 2h0m0-3h0m0 2h0m1 4h0m0-3h0m1-3h0m0 6h0m1-7h0m1 6h0m1-6h0m1 4h0m4-4h0m4 1h0m1-1h0m1 2h0m1-1h0m2-1h0m36 13h0m-8 1h0m0-1h0m-47-5h0m-3 0h0m-1 0h0m-2 1h0m0 2h0m0-1h0m-4 0h0m64 9h0m-47 8h0m-8 12h0m8-1h0m7-3h0m9-3h0m7 1h0m15 2h0m-8 7h0m-45 9h0m29 4h0m6-3h0m2 3h0m3-3h0m3 0h0m10 0h0m-1 5h0m-5 2h0m-2 4h0m-9-7h0m-2 2h0m-1-1h0m-6 8h0m4-1h0m2 6h0m10-4h0m1 0h0m1-1h0m0 3h0m2-4h0" stroke="#FCE0DC" stroke-width="2.7" stroke-linecap="round"/>
<path transform="scale(.5)" d="M221 1036h0m-5 1h0m-10 10h0m1-2h0m4-2h0m0 1h0m4-4h0m3 3h0m3-1h0m5-1h0m8 6h0m0-2h0m7 5h0m-8-2h0m-2 0h0m-15 2h0m-5 3h0m-2 2h0m7 7h0m14-6h0m6 0h0m-12 10h0m-6-1h0m4 21h0m-10 9h0m34 16h0m1-1h0m1-3h0m6 12h0m-13 5h0" stroke="#A59AD3" stroke-width="2.7" stroke-linecap="round"/>
<path transform="scale(.5)" d="M239 1038h0m-1 0h0m0-1h0m-1 1h0m0-1h0m-1-2h0m0 4h0m0-3h0m-6-2h0m0 2h0m-3-1h0m-1 2h0m0 1h0m-2-5h0m0 2h0m-1 1h0m0 2h0m0-5h0m-1 5h0m0-3h0m-1 2h0m-3 2h0m0-3h0m-1 1h0m0 2h0m-2-2h0m0 2h0m-2 0h0m-8 8h0m2-1h0m1 0h0m0-1h0m1-2h0m0 4h0m0-3h0m1-1h0m0-1h0m1 0h0m1 2h0m0-3h0m0 2h0m0-3h0m0 2h0m1-2h0m0 1h0m1 0h0m1 1h0m0 5h0m1-3h0m0-4h0m2 1h0m0-1h0m1 6h0m0-5h0m1 2h0m0-1h0m2 4h0m0-3h0m1-2h0m0 1h0m1 4h0m2 0h0m0-1h0m0-1h0m2 3h0m1-1h0m1-1h0m0-5h0m1 7h0m1 0h0m0-5h0m0-1h0m1-1h0m1 6h0m1-5h0m0 2h0m1 1h0m0-1h0m1-2h0m0-1h0m0 4h0m1-4h0m1 7h0m0-7h0m1 1h0m0 6h0m1-2h0m0 5h0m-1 1h0m0-3h0m0 2h0m-1-1h0m0 2h0m0 2h0m0-3h0m-2 1h0m-1 0h0m0 4h0m0-7h0m0 6h0m-2 0h0m0-3h0m0-3h0m-1 3h0m0 1h0m-1-2h0m-1 4h0m0-5h0m-1 4h0m-2 1h0m0-3h0m0 2h0m0-5h0m-1 7h0m-1 0h0m-2-1h0m0-5h0m0 6h0m-1-3h0m0-3h0m-1 5h0m0-1h0m-1-4h0m0 2h0m0 4h0m0-5h0m-1 5h0m0-5h0m0-1h0m0 2h0m-1-3h0m-1 3h0m-1 3h0m0-1h0m-1 0h0m-1-4h0m0 2h0m0 4h0m0-3h0m-1 0h0m-1 0h0m0 2h0m0-3h0m0 4h0m0-5h0m-1 1h0m-1 3h0m0-4h0m-1-2h0m-1 7h0m0-1h0m-1 1h0m0-7h0m0 6h0m-1-6h0m-1 5h0m0-3h0m0 2h0m0-3h0m-1 3h0m0 2h0m0-1h0m-1 0h0m0 2h0m0 5h0m2-2h0m0 2h0m0 1h0m1-2h0m0 2h0m1-1h0m1-3h0m0 1h0m0 4h0m1-5h0m0 4h0m1 0h0m0 2h0m0-1h0m1-4h0m0 2h0m0-1h0m3 1h0m0-3h0m1 0h0m0 1h0m1 0h0m0 2h0m0-1h0m1-3h0m0 2h0m0 2h0m1-4h0m0 3h0m2 4h0m0-2h0m2-3h0m1-2h0m3 0h0m2 2h0m2-2h0m1 0h0m1 2h0m0 2h0m0-3h0m0-1h0m1 0h0m0 1h0m1 1h0m7 8h0m-17-1h0m-5 0h0m-2 0h0m-1 0h0m-1-1h0m-2 1h0m-1 4h0m-1-5h0m-1 3h0m0-3h0m-2 0h0m0 3h0m-1-2h0m-1 0h0m-7 2h0m69 11h0m6 1h0m0-1h0m-59 14h0m10 0h0m3-1h0m36 1h0m-4 7h0m-3 3h0m-2-6h0m-48 7h0m-4-2h0m3 6h0m12-3h0m18 3h0m6 1h0m3 0h0m0 1h0m1 1h0m1 1h0m3-2h0m3-3h0m-36 12h0m-2 2h0m21 4h0m14-1h0m1-3h0m1 4h0m0-3h0" stroke="#F5AAB0" stroke-width="2.7" stroke-linecap="round"/>
<path transform="scale(.5)" d="M238 1039h0m-2-4h0m-1 4h0m-1-1h0m-10-2h0m-1 1h0m0-3h0m-1 4h0m-1 0h0m0 1h0m0-3h0m-4 2h0m-3 0h0m-7 5h0m2 4h0m3 0h0m6-2h0m3-3h0m1 4h0m1 1h0m0-7h0m1 5h0m4 2h0m0-7h0m2 6h0m5-4h0m2-1h0m1 0h0m2-1h0m12 3h0m-13 9h0m0-3h0m0 1h0m-3 4h0m-1 1h0m-1-7h0m0 4h0m-10-3h0m-2 5h0m-3 1h0m0-7h0m0 2h0m0 2h0m-2-4h0m-2 4h0m-1 2h0m-2-1h0m0-5h0m-7 6h0m0 7h0m4-2h0m0-3h0m1 6h0m2-4h0m2 4h0m0-1h0m0 2h0m2-2h0m1-5h0m0 2h0m0 2h0m0-3h0m1 2h0m0-1h0m8-2h0m2 2h0m2-1h0m35 13h0m-52-5h0m55 10h0m-29 11h0m-9-3h0m-2 3h0m-16-2h0m-10 3h0m8 2h0m0 3h0m2-3h0m2 0h0m0 1h0m2 2h0m1-4h0m3 5h0m1 0h0m2-3h0m1 0h0m9 4h0m0-6h0m13 4h0m-6 11h0m-4-3h0m-2-4h0m-2 6h0m0-3h0m-2 3h0m-7 1h0m-2-5h0m-17 3h0m16 7h0m18 2h0m7-2h0m2-1h0m-6 10h0m-7-3h0m-5-1h0m22 9h0m3-2h0m0 4h0m1 0h0" stroke="#F07A72" stroke-width="2.7" stroke-linecap="round"/>
<path transform="scale(.5)" d="M248 1053h0m-1-1h0m0 3h0m-25 16h0m-17 6h0m0-3h0m2 0h0m2 5h0m3-5h0m1 1h0m0-1h0m1 3h0m0-1h0m3 0h0m2-3h0m1-1h0m2 1h0m1 0h0m2 2h0m1 2h0m2 2h0m1-3h0m1 3h0m0-1h0m1-2h0m0 2h0m0-1h0m1 0h0m0 1h0m4 0h0m2-2h0m0 2h0m1-2h0m0 2h0m1 0h0m1-3h0m2 2h0m0-1h0m0-3h0m7 6h0m-2 3h0m-1 5h0m-5-6h0m0 2h0m0-3h0m-2 1h0m-3-1h0m-1 5h0m0 2h0m-4-7h0m-2 3h0m0 2h0m0-5h0m-1 2h0m-14-1h0m-1 0h0m-2 6h0m-2-7h0m-1 2h0m-2 1h0m4 7h0m1-1h0m0 2h0m1-1h0m1 0h0m1 1h0m1 4h0m7-1h0m8-2h0m12 2h0m4 4h0m-8 1h0m-1-1h0m-3 0h0m-1 2h0m-4 2h0m-1-6h0m-7 11h0m14-2h0m13 5h0m6-3h0m-28 9h0" stroke="#E8402F" stroke-width="2.7" stroke-linecap="round"/>
<path transform="scale(.5)" d="M243 1045h0m1 0h0m0-3h0m1 5h0m0-1h0m3-3h0m0 2h0m0-3h0m1 0h0m0-1h0m0 2h0m1 3h0m0-5h0m0 2h0m0 2h0m0 2h0m0-5h0m1 3h0m0-1h0m0 2h0m0-5h0m0 2h0m1-2h0m0 2h0m0 2h0m0-1h0m-5 6h0m0 2h0m-1-2h0m0 2h0m-1-2h0m0 2h0m0-3h0m0-1h0m-7 22h0m-20 0h0m-10 1h0m-5 5h0m1-2h0m1 1h0m0-1h0m1 0h0m0 2h0m0-3h0m0 2h0m0-3h0m1 0h0m0 4h0m2-2h0m1 5h0m1 0h0m1-1h0m1 1h0m1-6h0m0 4h0m1-3h0m1 4h0m0-5h0m0 2h0m2 0h0m0-2h0m1 2h0m0 2h0m1-1h0m1-1h0m1 1h0m6 0h0m1 0h0m0 2h0m0 1h0m1-2h0m1 0h0m2 1h0m0-1h0m4-2h0m2 3h0m1-5h0m0 2h0m1 1h0m1 2h0m1-1h0m1 0h0m2-2h0m0 11h0m-3 0h0m-3-4h0m-5 0h0m0-1h0m-2 0h0m-1-1h0m-20 3h0m-1 1h0m-1-4h0m0 4h0m0-3h0m0 2h0m-3-3h0m-1 1h0m31 11h0m5-1h0m8 8h0m-3-1h0m8 11h0" stroke="#E0162B" stroke-width="2.7" stroke-linecap="round"/>
<path transform="scale(.5)" d="M212 1071h0m-5 0h0m-3 6h0m0-4h0m1-1h0m0 2h0m0 3h0m1-3h0m0-1h0m0 2h0m1-1h0m1-2h0m1 7h0m0-1h0m1 1h0m0-1h0m1-1h0m1 1h0m0-5h0m1 3h0m0 2h0m2-5h0m0 6h0m1-1h0m1-6h0m3 6h0m3-4h0m-8 6h0m-3 1h0m-1-1h0m-1 1h0m0-1h0m-1 0h0m-1 1h0m-1 0h0" stroke="#B71F2E" stroke-width="2.7" stroke-linecap="round"/>
<rect x="93.50" y="514.40" width="48.80" height="51.10" fill="none" stroke="#555" stroke-width="0.9" />
<text x="117.90" y="510.30" font-size="8.8" text-anchor="middle" fill="#1a1a1a" >MRD</text>
<path transform="scale(.5)" d="M96 1182h0m-4 3h0m1 2h0m0-1h0m1-2h0m1 1h0m0 2h0m0-1h0m1 2h0m3-3h0m36 1h0m-40 13h0m1 2h0m12 6h0m1-1h0m1-1h0m2 0h0m7-1h0m0 2h0m1-1h0m1 1h0m0-1h0m2 0h0m0-3h0m1 2h0m0 2h0m3-1h0m2 1h0m2 1h0m1-4h0m4 11h0m-1-3h0m-1-2h0m0 1h0m-1 0h0m-2-1h0m-1 0h0m0-1h0m-21 1h0m-1-1h0m-20 0h0m47 8h0m2 2h0m5 0h0m4 4h0m1-2h0m0-1h0m1-2h0m0 3h0m5 3h0m2-4h0m6 7h0m0 2h0m-1-1h0m0 1h0m-8 0h0m-1 1h0m0-1h0m-1 0h0m-26-3h0m-45-1h0m-2 4h0m6 4h0m1 3h0m1-2h0m41 4h0m13-1h0m6-4h0m6 1h0m1 1h0m2 5h0m1 0h0m2-2h0m-2 4h0m0-1h0m-1 0h0m0 1h0m-1 0h0m-13 2h0m-1 0h0m-1 0h0m0-1h0m-7 22h0" stroke="#F5AAB0" stroke-width="2.7" stroke-linecap="round"/>
<path transform="scale(.5)" d="M135 1180h0m-14-2h0m-14 2h0m0-1h0m-14 8h0m0-1h0m1 3h0m0-3h0m1 0h0m3 0h0m0 1h0m1-3h0m6 2h0m4 3h0m2 2h0m5-6h0m1 5h0m16 6h0m-15 0h0m-10 1h0m-13 6h0m6 4h0m7 0h0m2-1h0m1-1h0m0-1h0m1 1h0m1-1h0m6 0h0m0 2h0m1-2h0m1-2h0m0 4h0m1-4h0m1 2h0m0 1h0m1-2h0m1 3h0m5 1h0m0-1h0m1-5h0m0 4h0m0 2h0m1-3h0m0 2h0m9 9h0m-1-7h0m-5 1h0m-2 1h0m0 1h0m-1 3h0m-1-6h0m-13 7h0m-9-7h0m-5 2h0m-2-2h0m-11 8h0m3 6h0m42-4h0m0-1h0m0 2h0m1-2h0m1 0h0m6-1h0m1 5h0m1-1h0m1 0h0m0-1h0m1-2h0m0 3h0m14 7h0m0 2h0m-1-3h0m0 1h0m-1-2h0m-1 2h0m-2-2h0m-1 3h0m-3 0h0m-2 0h0m0-1h0m-1 1h0m-2 2h0m-13-4h0m-52 5h0m-4-1h0m-1-3h0m4 7h0m2 0h0m70 5h0m0-5h0m1 5h0m0 1h0m-1 0h0m-15 3h0m0-1h0m-1 1h0m0-1h0m-47 1h0" stroke="#F07A72" stroke-width="2.7" stroke-linecap="round"/>
<path transform="scale(.5)" d="M114 1178h0m-1 5h0m-14 0h0m-5-1h0m-2 6h0m1-3h0m0 1h0m2 5h0m0-5h0m1 2h0m10 3h0m2-5h0m15 0h0m6 3h0m0 2h0m3-4h0m3-2h0m2 10h0m-19-2h0m-3-1h0m-7 0h0m-11 1h0m11 14h0m2-2h0m2-1h0m0-1h0m1 2h0m1-2h0m5 1h0m2 2h0m0-1h0m2-1h0m0 1h0m1-2h0m0 2h0m0-1h0m4-1h0m2 3h0m1 0h0m2-2h0m5-3h0m3 5h0m-6 4h0m-1 1h0m0-1h0m0 2h0m-1-1h0m-3-3h0m-1 5h0m-5 2h0m-5-4h0m0 3h0m-1 0h0m0 1h0m-3 0h0m-8-1h0m-10 1h0m-2-2h0m-7 3h0m2 1h0m1 1h0m2-2h0m7 0h0m1 3h0m0-1h0m2-1h0m3 1h0m9 2h0m3-2h0m2 5h0m1-3h0m0 2h0m0 1h0m1-2h0m0 2h0m1-6h0m1 1h0m0 2h0m1 2h0m0-5h0m3 2h0m0 1h0m1-1h0m0-1h0m1 3h0m0-3h0m0 2h0m1-3h0m0-1h0m0 4h0m1-2h0m0 5h0m0-2h0m1-1h0m0 2h0m1-4h0m2 0h0m0-1h0m0 2h0m1-1h0m9 1h0m1-1h0m0 2h0m0-1h0m14 7h0m-5 4h0m-5-1h0m0-1h0m-1-1h0m0 1h0m-2 3h0m-2-1h0m-12-3h0m0-1h0m-1 3h0m0-1h0m-1-1h0m0 1h0m0 2h0m-1-6h0m0 3h0m-1 3h0m-1-4h0m-4 0h0m-1 2h0m0 1h0m-1-5h0m0 2h0m0 4h0m-1-5h0m-1 0h0m0 4h0m0-5h0m-1 1h0m0 2h0m0 2h0m-1-2h0m-1 1h0m0-1h0m-1 1h0m-1-1h0m-16-1h0m-6-1h0m-12 5h0m-2-5h0m-1 2h0m-1 0h0m0 1h0m-1-2h0m-1 2h0m7 9h0m0-4h0m0 2h0m9 1h0m0-3h0m1 4h0m2-2h0m1-2h0m1 0h0m0 2h0m0-3h0m2 0h0m5 2h0m5-1h0m0 2h0m0 1h0m1-3h0m0 2h0m4-3h0m11 0h0m0 6h0m1-2h0m1 1h0m3-1h0m1 2h0m0 1h0m0-7h0m0 2h0m6-2h0m14 6h0m2 1h0m1 0h0m1 2h0m0-1h0m-1 1h0m-1 0h0m-13 2h0m-6 2h0m0-3h0m-1 1h0m-1-2h0m-3-1h0m-7 0h0m-1 0h0m0 2h0m-2-1h0m0 3h0m-1 0h0m0-4h0m-1 1h0m0 4h0m0-3h0m0 2h0m-2-2h0m-1-2h0m-3 5h0m-2-3h0m-1-1h0m0 4h0m-2-2h0m-4 2h0m-2-1h0m-1 0h0m0 1h0m-2 2h0m-2-4h0m-1-1h0m-1 1h0m5 12h0m1 0h0m2-2h0m0 1h0m1-4h0m0 4h0m1-1h0m0-1h0m1-3h0m0 2h0m1-2h0m0 2h0m1-1h0m1 0h0m1 2h0m3-3h0m5-1h0m1 4h0m1-2h0m9 4h0m1-2h0m2-2h0m1 5h0m2-1h0m0-2h0m1 1h0m0-2h0m1-1h0m0 2h0m1 3h0m0-4h0m1 3h0m1-3h0m-9 6h0m0 1h0m-2-1h0m-2 3h0m-1-3h0m-1 2h0m-1-1h0m-1 4h0m-2-1h0m-4 0h0m-4-1h0m0 1h0m-1 0h0m0-1h0m-8-4h0m0 2h0m7 9h0m0-1h0m5-1h0m0 3h0m5-4h0" stroke="#E8402F" stroke-width="2.7" stroke-linecap="round"/>
<path transform="scale(.5)" d="M130 1215h0m-7 0h0m-4 0h0m-7 8h0m5-3h0m0-3h0m1-1h0m2 1h0m1 4h0m3-2h0m0 2h0m1-1h0m3-2h0m0 2h0m1 2h0m0-5h0m0 6h0m0-7h0m0 2h0m1 3h0m0-5h0m1 1h0m0 2h0m0 4h0m0-7h0m0 4h0m1 3h0m1-6h0m0 4h0m0-3h0m2 9h0m-1 2h0m0 2h0m0-3h0m-1-1h0m0 2h0m-1-4h0m0-1h0m-1 2h0m0 4h0m-1-2h0m0-3h0m0-1h0m-1 5h0m0-4h0m-2 3h0m-3 0h0m-1 1h0m0-4h0m-1-1h0m-10 3h0m-8 4h0m-3 0h0m-1-4h0m0 2h0m-6 1h0m-2 5h0m0 1h0m0-3h0m1 2h0m0 4h0m1-6h0m0 2h0m1 1h0m0-3h0m1 1h0m0-1h0m6-1h0m0 4h0m0-3h0m1 0h0m2 3h0m1-4h0m2 3h0m1 2h0m0-3h0m1 2h0m0 1h0m1 1h0m0-3h0m2 2h0m11-2h0m0 3h0m1-4h0m0 4h0m1-3h0m0 2h0m2-1h0m2 3h0m0-1h0m0-5h0m1 3h0m0 1h0m1-1h0m0 2h0m0-1h0m4-2h0m1 3h0m-3 4h0m-1 0h0m-1 1h0m-1-3h0m-1 3h0m0-3h0m-4 0h0m-4 1h0m-2 1h0m0 2h0m0 2h0m0-5h0m0 2h0m-1 3h0m0-5h0m0 2h0m-1-2h0m0 4h0m0-5h0m-1 3h0m0 2h0m0-3h0m0 2h0m-3-4h0m-3 1h0m0 2h0m-1 0h0m0 4h0m0-5h0m-1 4h0m-1-1h0m0 1h0m-2-2h0m0-3h0m-2 2h0m-2 1h0m-1 2h0m0-5h0m0 2h0m0 2h0m0 2h0m-1-1h0m0 1h0m0-5h0m-6 0h0m-3 7h0m2-1h0m3 4h0m5 1h0m1-3h0m0-1h0m0 4h0m1 0h0m1-1h0m1-3h0m0 2h0m1-2h0m0 2h0m2 0h0m5 2h0m1-4h0m0 1h0m4-2h0m7 3h0m2 2h0m1-2h0m2 4h0m1-5h0m1 0h0m1 4h0m1-1h0m0-1h0m1-1h0m0 3h0m1-2h0m1 3h0m4-1h0m-5 3h0m0 2h0m-6-2h0m-1-1h0m-2 3h0m-2 0h0m-1 1h0m-1-1h0m0-1h0m-1 1h0m-1 1h0m-5-2h0m-4 0h0m-3 2h0m0-1h0m-1-2h0m-4 5h0m-1-2h0m-3 4h0m3 1h0m5 1h0m2-2h0m2 4h0m3-2h0m4-2h0m1 0h0m5 0h0" stroke="#E0162B" stroke-width="2.7" stroke-linecap="round"/>
<path transform="scale(.5)" d="M135 1215h0m-8 0h0m-8-1h0m-1-1h0m-1-1h0m-1-2h0m0 4h0m5 7h0m1 2h0m2-5h0m3 0h0m2 1h0m1-2h0m1 3h0m1-1h0m0 2h0m0 2h0m1-3h0m0-1h0m4 5h0m-3 2h0m0 2h0m-2 0h0m-1-4h0m-1 4h0m-1 3h0m-1-6h0m0 6h0m-1-7h0m-2 1h0m0 3h0m-1-4h0m0 3h0m-1-3h0m-3 2h0m0 2h0m0 2h0m-1-5h0m-1 2h0m-5 4h0m-2-3h0m-1 2h0m-6 0h0m0 1h0m-1-6h0m-1 2h0m-3-2h0m0 2h0m-2-2h0m-4 6h0m-3 3h0m2 1h0m0 1h0m1-1h0m1-1h0m2 2h0m4-4h0m2 0h0m1 1h0m0-1h0m0 2h0m1 0h0m5 1h0m2 4h0m3-4h0m3 3h0m7-2h0m1-4h0m0 4h0m1-2h0m0 2h0m1 1h0m3 2h0m0-7h0m2 6h0m0-3h0m4 12h0m-5-2h0m0-5h0m-1 1h0m-5 5h0m-5-1h0m-1-2h0m0 2h0m0-5h0m0 4h0m-1 0h0m-2-1h0m-6 0h0m-1 3h0m0-3h0m0 2h0m-1 2h0m0-1h0m-1-2h0m0 1h0m-4-3h0m-1 4h0m-1-2h0m0 2h0m-1-3h0m0-3h0m-8 3h0m8 6h0m1-1h0m1 7h0m2 0h0m0-7h0m2 1h0m0 2h0m0-3h0m1 7h0m0-7h0m1 0h0m1 1h0m11-1h0m1 5h0m0 2h0m3-1h0m1-2h0m4 3h0m1-4h0m4-1h0m0 2h0m0 2h0m0-5h0m1 3h0m0 2h0m1-4h0m0 2h0m1 0h0m0 9h0m-3-1h0m0-4h0m-2 0h0m-1 0h0m0 1h0m-1-1h0m-1 2h0m-5-2h0m-4 7h0m-1-7h0m-2 4h0m-4-1h0m0-3h0m-2 1h0m0 2h0m-1 0h0m0 1h0m-1 0h0m0-1h0m-1 3h0m-4 0h0m-1-4h0m-4-1h0m11 10h0m2 0h0m4 2h0" stroke="#B71F2E" stroke-width="2.7" stroke-linecap="round"/>
<rect x="35.40" y="585.40" width="48.80" height="50.20" fill="none" stroke="#555" stroke-width="0.9" />
<text x="59.80" y="580.40" font-size="8.8" text-anchor="middle" fill="#1a1a1a" >Relapse</text>
<path transform="scale(.5)" d="M227 1175h0m12 6h0m-1 2h0m-8-1h0m0-1h0m-1-1h0m-2-3h0m-17 10h0m0 4h0m1-2h0m5-2h0m2-3h0m7 5h0m1-2h0m4 2h0m1-2h0m5 0h0m0 2h0m2-5h0m18 15h0m-12-2h0m-1 0h0m0 1h0m-6-2h0m0 1h0m-6 1h0m-5-5h0m-1-1h0m-1 1h0m0 2h0m-1 0h0m-2 1h0m-11-4h0m-3 2h0m-4 6h0m9 2h0m1 0h0m3 0h0m4 4h0m14-6h0m2 2h0m6 5h0m0-1h0m4-4h0m1 2h0m0 2h0m0-5h0m2 5h0m3 1h0m2-5h0m1 1h0m1 0h0m0 1h0m1-2h0m0 2h0m0-3h0m0 4h0m1 2h0m0-3h0m1 2h0m12 6h0m-6 2h0m-1 1h0m-1-2h0m-1-5h0m-3 5h0m-5-5h0m-1 1h0m-4 2h0m0 1h0m-26 2h0m9 4h0m0 2h0m0-3h0m0 2h0m3 4h0m9-6h0m0 1h0m1 0h0m0-1h0m13 5h0m3-1h0m2-2h0m1-1h0m6 3h0m2-5h0m6 11h0m0 3h0m-2-4h0m-1 0h0m-5 1h0m0 4h0m0-5h0m-1 4h0m0-5h0m-1 2h0m0 3h0m-2-5h0m-1 2h0m0 2h0m-2 2h0m-1-6h0m-1 4h0m-1 2h0m-41-2h0m-25-1h0m68 9h0m0-2h0m1 1h0m1 2h0m2-6h0m0 4h0m6 2h0m2 0h0m-8 2h0m-11 6h0m-35 0h0" stroke="#FCE0DC" stroke-width="2.7" stroke-linecap="round"/>
<path transform="scale(.5)" d="M239 1183h0m-1-2h0m-1 2h0m-1-3h0m-2 0h0m-1 0h0m-2-2h0m0 2h0m-1 2h0m0-1h0m-6-2h0m-2-1h0m-5 2h0m-10 5h0m2 5h0m1 0h0m0 1h0m0-5h0m0 2h0m1-1h0m1 3h0m1-4h0m1-2h0m7 7h0m2-3h0m1 1h0m1-1h0m0-3h0m0 4h0m4 0h0m1 1h0m5 0h0m1-2h0m0-1h0m0 2h0m1-2h0m0-1h0m0 2h0m2-4h0m1 2h0m11 1h0m1 0h0m2 11h0m-3 1h0m-5-2h0m-1 0h0m-1 0h0m-1 1h0m-6-2h0m0 1h0m-1-1h0m0 2h0m-1 0h0m0-1h0m-2-1h0m-1 3h0m-1-7h0m0 1h0m-3 0h0m-1-1h0m-2 0h0m0 2h0m-2 1h0m-1 0h0m-7-3h0m-1 5h0m-8 3h0m4 0h0m2 2h0m0 2h0m0-1h0m1-1h0m1 2h0m1-4h0m16 6h0m3-2h0m7 2h0m2 0h0m1 1h0m1-3h0m4 2h0m3 1h0m3-3h0m0-1h0m1 1h0m0 2h0m0-5h0m1 1h0m0 4h0m0-5h0m0 6h0m0-7h0m1 3h0m0 4h0m0-6h0m1 5h0m2-2h0m9 10h0m0 1h0m-1 0h0m-2 0h0m0-1h0m-1-1h0m-1-2h0m-1 4h0m0-1h0m-1-3h0m-1-3h0m0 2h0m-2 4h0m0-1h0m-1-5h0m-5 0h0m-1 1h0m0-1h0m-1 0h0m0 1h0m-1 3h0m-1-4h0m0 6h0m0-3h0m-1 0h0m0 2h0m-1-1h0m-1 2h0m-3 1h0m-8-5h0m-3 1h0m-2 1h0m-11 1h0m-1 2h0m-27 8h0m10-1h0m2-2h0m1-3h0m0 2h0m1 2h0m2-1h0m0 1h0m6-1h0m15-2h0m2 0h0m0 2h0m3 3h0m1 0h0m0-1h0m1 1h0m2-6h0m5-1h0m2 1h0m1-1h0m6 6h0m2-1h0m3-5h0m0 4h0m2 1h0m1 1h0m0-5h0m1 4h0m0-5h0m1 2h0m1-1h0m0 2h0m1-1h0m1 1h0m1 2h0m0 2h0m0-6h0m1 0h0m0 4h0m0 2h0m1-1h0m0-5h0m0 2h0m1 4h0m0-3h0m1 2h0m0-1h0m1 2h0m1-3h0m1 1h0m0-5h0m1 2h0m0 2h0m0-3h0m2 6h0m1-1h0m1 7h0m0-4h0m-1 5h0m0-1h0m0-5h0m-2 6h0m0-5h0m-1 2h0m0 2h0m-2 1h0m0-5h0m-1 6h0m0-5h0m0 1h0m0 2h0m-1 0h0m0 1h0m0 1h0m0-3h0m-1 0h0m0 2h0m0-3h0m0 2h0m0 2h0m-1 0h0m0-7h0m0 6h0m-1 1h0m0-1h0m-1-2h0m0 2h0m0-5h0m0 2h0m0 2h0m0 2h0m0-7h0m-1 0h0m0 3h0m-1 4h0m-1-4h0m0 4h0m-1 0h0m-2-6h0m0 6h0m-5-5h0m-12 3h0m-3-1h0m-5-4h0m-2 0h0m-2 4h0m0-3h0m-24 3h0m-3 0h0m-2 2h0m-4-2h0m-2-1h0m2 7h0m2 0h0m1 0h0m37 4h0m9 0h0m15-2h0m0-1h0m1 1h0m0-1h0m1 2h0m0-2h0m1 4h0m1 0h0m0-7h0m0 6h0m1 0h0m0-5h0m0 4h0m0 2h0m0-5h0m0 2h0m2-1h0m0-3h0m1 0h0m1 0h0m0 2h0m4 0h0m-3 6h0m-5 0h0m-1 0h0m-1 0h0m0 2h0m-9 5h0m-11-7h0m-15 1h0m-31-1h0m27 11h0m9-3h0m2 6h0m12 0h0m1 8h0m-3-2h0m-16 5h0" stroke="#F5AAB0" stroke-width="2.7" stroke-linecap="round"/>
<path transform="scale(.5)" d="M239 1183h0m-1-1h0m-1 0h0m-5 1h0m-2-2h0m-1 0h0m-2-3h0m-3-2h0m-2 5h0m-2-3h0m-2 4h0m-4-3h0m-6 10h0m1 2h0m1-1h0m0-3h0m0 2h0m1 2h0m1-1h0m11 0h0m0-1h0m1 0h0m1-5h0m2 6h0m1 0h0m1-4h0m1 3h0m0 1h0m2-5h0m2 4h0m1-4h0m0 2h0m0-3h0m0 4h0m1-2h0m0 2h0m0-1h0m1-2h0m18 12h0m-4 1h0m-6-1h0m-2-1h0m0 2h0m-1-1h0m-2 0h0m-1-2h0m-3 2h0m0 2h0m-1-1h0m-5-3h0m-3-3h0m-2 1h0m-2 3h0m-1 2h0m0-3h0m-8-1h0m0 4h0m-2 1h0m-4-5h0m-4 6h0m4 2h0m1 0h0m2-2h0m2 2h0m0-1h0m2 2h0m8-3h0m5 2h0m6 3h0m7 1h0m1-1h0m1 2h0m0-1h0m0-3h0m3 0h0m1 3h0m1 0h0m1-1h0m2-2h0m1 3h0m2 1h0m0-7h0m0 2h0m1 0h0m0 2h0m0-1h0m1 2h0m0-3h0m0 2h0m0-3h0m1 3h0m0 3h0m1 0h0m0-5h0m0 4h0m0-5h0m1 6h0m0-3h0m0 2h0m11 9h0m-1-1h0m-3-2h0m-3-1h0m-1 4h0m-1-4h0m0 2h0m0-1h0m0 2h0m-1 1h0m-1-7h0m-1 7h0m-5-7h0m-1 0h0m-1 4h0m-1-1h0m-1 2h0m-15-2h0m-3 3h0m-3 0h0m-4 0h0m-15-2h0m21 11h0m1-4h0m0 4h0m1-3h0m0-1h0m1-1h0m1 5h0m0-4h0m1 4h0m0-1h0m10-6h0m0 1h0m7 4h0m2-4h0m5 2h0m0 2h0m1 0h0m2-2h0m0-1h0m0-1h0m1 1h0m0 2h0m0 2h0m0-3h0m1-1h0m0-1h0m1 6h0m1-3h0m1-3h0m0 2h0m0 3h0m2 1h0m0-7h0m0 1h0m1 5h0m0-3h0m0 2h0m1-2h0m0 2h0m1 0h0m0-3h0m0 1h0m1 2h0m0-5h0m0 1h0m1 4h0m1 2h0m0-5h0m1 5h0m1-2h0m0-2h0m1 2h0m2 8h0m-2-5h0m0 6h0m-1-2h0m0 2h0m-1-3h0m0 2h0m0-3h0m-1 0h0m-1 3h0m0-5h0m0 1h0m-1-1h0m-1 6h0m0-5h0m0-1h0m0 2h0m-1 1h0m-1 0h0m0 1h0m0 2h0m-1-4h0m0-2h0m-1 3h0m0 4h0m0-3h0m-1 2h0m-1-2h0m0-1h0m0 4h0m-1-7h0m0 4h0m0 1h0m0 2h0m-1-1h0m0-5h0m0 4h0m0 2h0m0-7h0m-1 7h0m0-1h0m-1-6h0m-1 0h0m0 3h0m-1-1h0m-5 1h0m-21-3h0m-36 7h0m0-5h0m-3 4h0m-1-5h0m5 10h0m62-2h0m0 2h0m0-1h0m1-2h0m0 4h0m0 2h0m0-3h0m1 1h0m0-1h0m0-3h0m1 0h0m0 4h0m0 2h0m0-3h0m1 4h0m0-7h0m1 5h0m0 2h0m0-1h0m1 0h0m0-1h0m0 2h0m2-2h0m2-1h0m1-2h0m0 1h0m1-1h0m1 1h0m1-1h0m1 0h0m-3 6h0m-2 0h0m-2 1h0m-1 1h0m-2-2h0m0 2h0m-2-1h0m-11 6h0m-10-4h0m-5 1h0m-40 1h0m53 7h0" stroke="#F07A72" stroke-width="2.7" stroke-linecap="round"/>
<path transform="scale(.5)" d="M238 1183h0m-7-4h0m0 1h0m-1-4h0m0 6h0m-1-6h0m0 3h0m-20 12h0m5-3h0m12 2h0m2-2h0m2 0h0m12 2h0m3 7h0m-9 1h0m-1-1h0m-11-5h0m0 6h0m-1-3h0m-1 0h0m-4 4h0m-6-2h0m-4 3h0m5 3h0m12 2h0m23 2h0m1-1h0m0-1h0m3-2h0m5 0h0m0 3h0m0-4h0m7 13h0m-3-5h0m-7-1h0m-1-1h0m-3 2h0m-1 1h0m-1 0h0m-4 4h0m-13 4h0m4-3h0m10 0h0m19 3h0m0-1h0m2 4h0m0-5h0m1 5h0m1-5h0m5 2h0m3 3h0m2 1h0m0 6h0m0 2h0m-1-1h0m-1-2h0m-6 3h0m0-3h0m-1 3h0m-1-4h0m0 3h0m-3-3h0m0-2h0m-2-1h0m-1 7h0m-1-2h0m-15-2h0m-49 4h0m-4-4h0m72 11h0m6-4h0m0-2h0m4 0h0m1 1h0m-6 9h0m0-2h0" stroke="#E8402F" stroke-width="2.7" stroke-linecap="round"/>
<rect x="93.50" y="585.40" width="48.80" height="50.20" fill="none" stroke="#555" stroke-width="0.9" />
<text x="117.90" y="580.40" font-size="8.8" text-anchor="middle" fill="#1a1a1a" >Healthy</text>
<line x1="33.00" y1="526.45" x2="35.40" y2="526.45" stroke="#444" stroke-width="0.8"/>
<text x="24.99" y="528.65" font-size="6.3" fill="#333">25</text>
<line x1="33.00" y1="540.50" x2="35.40" y2="540.50" stroke="#444" stroke-width="0.8"/>
<text x="28.50" y="542.70" font-size="6.3" fill="#333">0</text>
<line x1="33.00" y1="554.55" x2="35.40" y2="554.55" stroke="#444" stroke-width="0.8"/>
<rect x="20.21" y="554.23" width="4.16" height="0.76" fill="#333"/>
<text x="24.99" y="556.75" font-size="6.3" fill="#333">25</text>
<line x1="33.00" y1="597.25" x2="35.40" y2="597.25" stroke="#444" stroke-width="0.8"/>
<text x="24.99" y="599.45" font-size="6.3" fill="#333">25</text>
<line x1="33.00" y1="611.30" x2="35.40" y2="611.30" stroke="#444" stroke-width="0.8"/>
<text x="28.50" y="613.50" font-size="6.3" fill="#333">0</text>
<line x1="33.00" y1="625.35" x2="35.40" y2="625.35" stroke="#444" stroke-width="0.8"/>
<rect x="20.21" y="625.03" width="4.16" height="0.76" fill="#333"/>
<text x="24.99" y="627.55" font-size="6.3" fill="#333">25</text>
<line x1="35.90" y1="635.60" x2="35.90" y2="638.20" stroke="#444" stroke-width="0.8"/>
<rect x="28.80" y="643.28" width="4.16" height="0.76" fill="#333"/>
<text x="33.59" y="645.80" font-size="6.3" fill="#333">50</text>
<line x1="47.60" y1="635.60" x2="47.60" y2="638.20" stroke="#444" stroke-width="0.8"/>
<rect x="40.50" y="643.28" width="4.16" height="0.76" fill="#333"/>
<text x="45.29" y="645.80" font-size="6.3" fill="#333">25</text>
<line x1="59.30" y1="635.60" x2="59.30" y2="638.20" stroke="#444" stroke-width="0.8"/>
<text x="57.55" y="645.80" font-size="6.3" fill="#333">0</text>
<line x1="71.00" y1="635.60" x2="71.00" y2="638.20" stroke="#444" stroke-width="0.8"/>
<text x="67.50" y="645.80" font-size="6.3" fill="#333">25</text>
<line x1="82.70" y1="635.60" x2="82.70" y2="638.20" stroke="#444" stroke-width="0.8"/>
<text x="79.20" y="645.80" font-size="6.3" fill="#333">50</text>
<line x1="94.00" y1="635.60" x2="94.00" y2="638.20" stroke="#444" stroke-width="0.8"/>
<rect x="86.90" y="643.28" width="4.16" height="0.76" fill="#333"/>
<text x="91.69" y="645.80" font-size="6.3" fill="#333">50</text>
<line x1="105.70" y1="635.60" x2="105.70" y2="638.20" stroke="#444" stroke-width="0.8"/>
<rect x="98.60" y="643.28" width="4.16" height="0.76" fill="#333"/>
<text x="103.39" y="645.80" font-size="6.3" fill="#333">25</text>
<line x1="117.40" y1="635.60" x2="117.40" y2="638.20" stroke="#444" stroke-width="0.8"/>
<text x="115.65" y="645.80" font-size="6.3" fill="#333">0</text>
<line x1="129.10" y1="635.60" x2="129.10" y2="638.20" stroke="#444" stroke-width="0.8"/>
<text x="125.60" y="645.80" font-size="6.3" fill="#333">25</text>
<line x1="140.80" y1="635.60" x2="140.80" y2="638.20" stroke="#444" stroke-width="0.8"/>
<text x="137.30" y="645.80" font-size="6.3" fill="#333">50</text>
<text x="82.55" y="657.10" font-size="8.8" text-anchor="middle" fill="#1a1a1a" font-weight="bold" textLength="16.2" lengthAdjust="spacingAndGlyphs" >tSNE1</text>
<text transform="translate(16.80,580.40) rotate(-90)" font-size="9.6" text-anchor="middle" fill="#1a1a1a" font-weight="bold" textLength="16.6" lengthAdjust="spacingAndGlyphs">tSNE2</text>
<text x="149.00" y="541.70" font-size="7.8" text-anchor="start" fill="#222" >CD34</text>
<rect x="150.00" y="547.10" width="10.40" height="7.79" fill="#B71F2E" stroke="#555" stroke-width="0.35" />
<rect x="150.00" y="554.89" width="10.40" height="7.79" fill="#E0162B" stroke="#555" stroke-width="0.35" />
<rect x="150.00" y="562.68" width="10.40" height="7.79" fill="#E8402F" stroke="#555" stroke-width="0.35" />
<rect x="150.00" y="570.47" width="10.40" height="7.79" fill="#F07A72" stroke="#555" stroke-width="0.35" />
<rect x="150.00" y="578.26" width="10.40" height="7.79" fill="#F5AAB0" stroke="#555" stroke-width="0.35" />
<rect x="150.00" y="586.05" width="10.40" height="7.79" fill="#FCE0DC" stroke="#555" stroke-width="0.35" />
<rect x="150.00" y="593.84" width="10.40" height="7.79" fill="#A59AD3" stroke="#555" stroke-width="0.35" />
<rect x="150.00" y="547.10" width="10.40" height="54.50" fill="none" stroke="#555" stroke-width="0.5" />
<text x="167.13" y="557.50" font-size="5.7" fill="#333">4</text>
<text x="167.13" y="565.22" font-size="5.7" fill="#333">3</text>
<text x="167.13" y="572.94" font-size="5.7" fill="#333">2</text>
<text x="167.13" y="580.66" font-size="5.7" fill="#333">1</text>
<text x="167.13" y="588.38" font-size="5.7" fill="#333">0</text>
<rect x="163.53" y="593.78" width="3.00" height="0.76" fill="#333"/>
<text x="167.13" y="596.10" font-size="5.7" fill="#333">1</text>
<path transform="scale(.5)" d="M452 1035h0m-4 1h0m-6 3h0m0-5h0m-15 10h0m8-1h0m8 1h0m39 5h0m-29 0h0m-1 1h0m0-1h0m-1 1h0m-6 5h0m-4-7h0m-9 1h0m-7 3h0m16 6h0m2 0h0m5 5h0m20-3h0m21 10h0m-21-4h0m-17-1h0m-2 0h0m0-1h0m-8 3h0m31 10h0m13 2h0m5 7h0m-3 1h0m-4-6h0m-5 3h0m-1-3h0m-40 6h0m-4-3h0m0-1h0m0 6h0m3 4h0m1 1h0m0 1h0m1 0h0m1-4h0m3-3h0m11 7h0m23-6h0m18 2h0m1 5h0m-1 1h0m-39 2h0m-1 3h0m-2 0h0m-4 0h0m-2 0h0m-2-1h0m0 2h0m-1-1h0m0-1h0m-5-2h0m0-3h0m-10 7h0m-1-5h0m0 12h0m4-1h0m3 2h0m4-7h0m2 1h0m1 1h0m1-1h0m3-1h0m0 1h0m2 4h0m2-3h0m1 2h0m1-2h0m1 4h0m1 0h0m4 0h0m0-5h0m2-1h0m1 5h0m12 8h0m-8-1h0m-1-1h0m-3 3h0m-3-6h0m-3 2h0m-1 3h0m0-5h0m-2 5h0m-1-3h0m-2 3h0m-1-2h0m-12-1h0m-5 2h0m9 6h0m2 0h0m2 0h0m2 4h0m2-5h0m7 0h0m2-1h0m1 1h0" stroke="#FCE0DC" stroke-width="2.4" stroke-linecap="round"/>
<path transform="scale(.5)" d="M439 1045h0m3-2h0m9 8h0m0-1h0m-5 0h0m16 12h0m-22 6h0m40 19h0m-7 6h0m9-1h0m-2 10h0" stroke="#A59AD3" stroke-width="2.4" stroke-linecap="round"/>
<path transform="scale(.5)" d="M452 1045h0m14-1h0m-19 9h0m-20 8h0m8 0h0m42 9h0m-22-4h0m3 6h0m30 9h0m-9 34h0" stroke="#2C4EA0" stroke-width="2.4" stroke-linecap="round"/>
<path transform="scale(.5)" d="M444 1037h0m-2 8h0m18-3h0m-6 7h0m-3 2h0m-18-1h0m0 2h0m-1 6h0m18 5h0m3 0h0m-4 2h0m0-1h0m-10 21h0m-1-1h0m-1 3h0m-1-4h0m-2-2h0m-1 5h0m-6 7h0m1-5h0m5 5h0m1 2h0m6-3h0m5 3h0m3-2h0m47 5h0m-43 5h0m-2 0h0m-4-3h0m-2-3h0m-1-1h0m0 1h0m-1 3h0m0 2h0m-2-5h0m-2 3h0m-1-4h0m-1 3h0m0 3h0m-1-1h0m-1-4h0m0 1h0m-5-1h0m2 10h0m6-2h0m0 4h0m0-1h0m1 1h0m2 0h0m2-4h0m0 2h0m7-2h0m2 0h0m2 0h0m1 2h0m3 3h0m6 0h0m2 2h0m-9 0h0m-1 5h0m-6-4h0m-1-1h0m-2 2h0m-3-1h0m-1 2h0m-3 4h0m-12-7h0m12 9h0m0 1h0m1-1h0m3 0h0m0 4h0m5-3h0m0 2h0m2-1h0m3 0h0m1-1h0m4 1h0m2-1h0m1 1h0" stroke="#F5AAB0" stroke-width="2.4" stroke-linecap="round"/>
<path transform="scale(.5)" d="M468 1042h0m0 3h0m-41 33h0m4-5h0m8 0h0m0 5h0m2-6h0m11 5h0m1 0h0m14-2h0m0 5h0m-12 3h0m-1-2h0m-5 5h0m-9-1h0m-3 2h0m0-3h0m0 1h0m-1-2h0m0 2h0m-2 1h0m0-1h0m-1-3h0m-1 3h0m-1-3h0m0 2h0m0-1h0m-3-2h0m-1 11h0m2 1h0m1-5h0m2 3h0m2 1h0m1 3h0m1-5h0m2 5h0m2 0h0m0-7h0m1 0h0m2 7h0m12 0h0m1-4h0m0 2h0m4-2h0m2-2h0m2 2h0m2 1h0m3 10h0m-1-3h0m-1-3h0m0 1h0m-3 5h0m-6-2h0m0-1h0m-1 1h0m0-1h0m-1 0h0m0 4h0m-1-6h0m-2 4h0m-8-4h0m0 2h0m0 2h0m0 2h0m-1-4h0m-1 4h0m0-5h0m0 4h0m0-5h0m0 4h0m-1 2h0m0-1h0m-1 1h0m-1 0h0m-1-6h0m-2 3h0m-1 0h0m-1-3h0m0 6h0m-1-2h0m0 2h0m-1-6h0m-1-1h0m-4 5h0m0 2h0m-1-5h0m0-1h0m-1 1h0m0 7h0m1 3h0m1-4h0m1 2h0m0 4h0m0-1h0m4-3h0m2 1h0m0-3h0m1 7h0m1-2h0m0-3h0m1 5h0m4-7h0m0 2h0m0 1h0m1 2h0m1 0h0m3-4h0m1 5h0m1-4h0m1 1h0m0 2h0m0-5h0m1 1h0m1 0h0m4 1h0m1 2h0m2 0h0m0-1h0m1-1h0m1 3h0m3 2h0m6-6h0m4-1h0m-9 9h0m-2 0h0m0 3h0m-1-1h0m0 2h0m-2-1h0m0-3h0m-1-1h0m-4 1h0m-1-1h0m-1 7h0m0-1h0m-1 0h0m-1-2h0m-1 1h0m-1-4h0m0 1h0m0 2h0m-1-3h0m-1 0h0m-1 2h0m-1-2h0m-1 3h0m0 2h0m-1-4h0m-1 3h0m-1 0h0m-1 2h0m0-1h0m-3-1h0m-1-3h0m-1 1h0m-1-3h0m-1 1h0m0 4h0m-2 2h0m-1-3h0m0 1h0m0-3h0m-1-2h0m5 9h0m3 0h0m0 2h0m1 1h0m1-3h0m8 5h0m1-2h0m1 1h0m1-5h0m2 0h0m0 1h0m3-1h0m0 2h0m1 4h0m1-2h0m3-4h0m3 1h0" stroke="#F07A72" stroke-width="2.4" stroke-linecap="round"/>
<path transform="scale(.5)" d="M458 1073h0m-3 11h0m-1 2h0m-4-2h0m-7 2h0m-1-1h0m-2-1h0m-3 1h0m-2-2h0m-1 0h0m0 4h0m0-5h0m-2 0h0m-1 5h0m0-2h0m-4 9h0m0 1h0m1-2h0m0-4h0m1 0h0m0 6h0m0-5h0m2 4h0m1-6h0m1 6h0m0-5h0m1 5h0m1 1h0m1-6h0m0 4h0m0-5h0m2 4h0m0-3h0m0 6h0m1-3h0m0-1h0m1 3h0m0-1h0m0-3h0m1-1h0m0 5h0m1-4h0m0-1h0m1 2h0m1 0h0m10 1h0m2 2h0m1 0h0m6-3h0m1 1h0m5 3h0m2-1h0m-1 8h0m-1 0h0m0-5h0m-3 3h0m-1 0h0m-1 2h0m0-5h0m-1 4h0m0-5h0m-1 2h0m-4 4h0m0-3h0m0 2h0m-1 0h0m0 1h0m0-3h0m-1-1h0m0 2h0m-1 0h0m-1 2h0m0-1h0m-3 2h0m-4-5h0m-2-1h0m0 2h0m-2 4h0m0-5h0m-1 0h0m0 4h0m-1-6h0m-2 2h0m-1-1h0m-2 4h0m0-1h0m-1-4h0m-1 7h0m-1-7h0m-1 6h0m0-6h0m-1 4h0m-2 3h0m-1-1h0m-1-1h0m0 2h0m-1-4h0m0 10h0m3-3h0m1-1h0m1-1h0m1 0h0m2 7h0m2-3h0m2-4h0m0 3h0m1-1h0m1 0h0m0 2h0m0 2h0m0-6h0m1 7h0m1-7h0m4 5h0m1-4h0m1-1h0m1 1h0m0-1h0m2 7h0m1-3h0m1 2h0m0-1h0m1-1h0m1-1h0m1-3h0m0 6h0m4 1h0m1-3h0m0-1h0m2 4h0m1-5h0m12 7h0m-11-1h0m-1 7h0m-1-6h0m0 2h0m0 3h0m-2-1h0m0 2h0m-1-7h0m0 2h0m-1 3h0m-1 1h0m0 1h0m-3-2h0m-1-3h0m-1 1h0m0 4h0m0-3h0m-1-2h0m0 4h0m0-3h0m-1 3h0m0 1h0m-2-2h0m0-3h0m-2-2h0m-2 6h0m-1-3h0m-1-3h0m0 1h0m-1 6h0m0-1h0m-2-1h0m0-3h0m0 4h0m-1 1h0m-1-1h0m0-4h0m-1 0h0m-2 1h0m-1-2h0m0 4h0m-1 2h0m-1 0h0m-1-1h0m-1-6h0m-1 1h0m0 2h0m-1-3h0m8 8h0m2 0h0m1 1h0m0-1h0m2 1h0m2 3h0m0 2h0m1-5h0m2 0h0m1 5h0m2 0h0m0-5h0m1 5h0m0-6h0m0 2h0m1-2h0m1 2h0m1-1h0m0 4h0m1-5h0m0 2h0m1-1h0m1 2h0m0 3h0m1-2h0m0-3h0m1 2h0m2-2h0m0-1h0m2 0h0m0 1h0" stroke="#E8402F" stroke-width="2.4" stroke-linecap="round"/>
<path transform="scale(.5)" d="M439 1083h0m-1 1h0m-5-1h0m-3 4h0m-4 8h0m8-6h0m5 5h0m2-6h0m13 12h0m-2 3h0m-6-5h0m-1 2h0m-3 2h0m-2-2h0m-5-1h0m-5 0h0m-4 3h0m4 4h0m6 1h0m2 4h0m1 0h0m1-4h0m2-3h0m2 6h0m1-1h0m0-5h0m1 2h0m2-2h0m4 5h0m1 2h0m1-6h0m0 2h0m0 3h0m2-6h0m1 6h0m1-2h0m1 0h0m4 9h0m-5 0h0m-3-3h0m-1 5h0m-10-1h0m-1-3h0m-2 2h0m-3 2h0m-1-7h0m-1 2h0m-2 3h0m-6-2h0m11 7h0m0 2h0m5 0h0m1 0h0m1 2h0m1-1h0m2-5h0m2 5h0m0-5h0m2 1h0m4 2h0" stroke="#E0162B" stroke-width="2.4" stroke-linecap="round"/>
<rect x="203.00" y="514.40" width="49.00" height="51.10" fill="none" stroke="#555" stroke-width="0.9" />
<text x="227.50" y="510.30" font-size="8.8" text-anchor="middle" fill="#1a1a1a" >Diagnosis</text>
<path transform="scale(.5)" d="M566 1031h0m17 8h0m-9-3h0m-1-1h0m-1 0h0m-1 1h0m0 2h0m-2-2h0m0 2h0m-1 0h0m0 1h0m-1-5h0m0-1h0m-1 0h0m-1 1h0m0-1h0m-1 6h0m0-6h0m-1 6h0m0-1h0m-1 0h0m0-1h0m0 2h0m-1 0h0m-1-4h0m-2-1h0m0 1h0m-4 1h0m0 2h0m-1 1h0m-10 8h0m1-1h0m1-3h0m1 1h0m1 3h0m2-4h0m1-2h0m1-1h0m0 4h0m1-3h0m0 2h0m0-3h0m0 6h0m1-2h0m0-3h0m0 4h0m1 1h0m0 1h0m0-5h0m0 2h0m1-2h0m1 2h0m0-3h0m0 2h0m0 2h0m1-2h0m1 0h0m1-1h0m0 2h0m0-3h0m0 2h0m0 2h0m1 1h0m0-3h0m1-2h0m1 0h0m0 2h0m0-3h0m1 1h0m0-1h0m1 1h0m0 4h0m1 1h0m0-5h0m0 6h0m0-7h0m0 2h0m1 0h0m0 2h0m0-1h0m1-2h0m0 2h0m0 2h0m0-3h0m0 2h0m1 1h0m0-3h0m0 2h0m0 2h0m0-5h0m0 2h0m1 0h0m0 2h0m0-5h0m0 2h0m0 4h0m1-2h0m1-3h0m0 4h0m1-4h0m0 2h0m2-3h0m1 5h0m0-5h0m1 3h0m0 4h0m1 0h0m0-5h0m2 2h0m2 3h0m1 0h0m1-2h0m1-1h0m1-1h0m0 1h0m1 1h0m0 2h0m2-4h0m0 2h0m0-1h0m0 2h0m-4 4h0m0 4h0m-2-5h0m-1-1h0m0 1h0m-4 0h0m0-1h0m0 2h0m-1-2h0m0 2h0m-1 0h0m-1 1h0m0-3h0m0 6h0m-1-4h0m0 4h0m-1-2h0m0 2h0m0-1h0m0 2h0m-1-2h0m0 2h0m0-5h0m0 4h0m-2-4h0m-1-1h0m0 1h0m-1 3h0m-1-4h0m0 4h0m-1-5h0m0 1h0m-1 0h0m0 2h0m-1 2h0m0-5h0m0 2h0m0-1h0m-1 1h0m0 2h0m0-3h0m0-1h0m-1 5h0m0-1h0m-1 1h0m-3 2h0m0-3h0m-1-2h0m0 4h0m0-5h0m-1 3h0m-1 0h0m0 2h0m-1-3h0m0 4h0m0-3h0m-1 0h0m-1-4h0m0 4h0m-1 1h0m-1-3h0m-1-2h0m-1 1h0m0 6h0m-1-5h0m0 2h0m-1 3h0m0-7h0m-1 7h0m0-3h0m-1-4h0m0 6h0m-2 0h0m0-1h0m0 3h0m2 7h0m0-7h0m0 6h0m1-5h0m0 6h0m0-5h0m1 0h0m0 4h0m0-5h0m1 0h0m0 2h0m0-1h0m1 1h0m0-2h0m1 5h0m0-3h0m0-3h0m1 3h0m1 1h0m0-4h0m1 2h0m0 3h0m1-5h0m1 2h0m1-1h0m2 5h0m1-5h0m0 2h0m0 4h0m0-5h0m1 1h0m0 4h0m0-1h0m1-4h0m0 2h0m1-4h0m0 2h0m1 4h0m1-3h0m0-3h0m1 2h0m2 0h0m1-1h0m2 6h0m4-7h0m16 1h0m4 5h0m1-3h0m9 2h0m-41 4h0m-1 0h0m-2 0h0m0-1h0m-3 1h0m-1 6h0m-1-7h0m-1 2h0m-3-2h0m0 2h0m-8 9h0m0 1h0m2 0h0m3 1h0m1 0h0m2-4h0m1-1h0m1 5h0m1-5h0m4 2h0m1 3h0m1 0h0m0 1h0m1-5h0m9 6h0m16 6h0m-19-5h0m-9 6h0m-9-6h0m-2 3h0m-3 1h0m-2 1h0m-1-1h0m0 1h0m-2 3h0m1 1h0m2-1h0m1 0h0m1 1h0m11-1h0m30 15h0m18 5h0m-14 10h0m-3-1h0m-17-4h0m-8 3h0" stroke="#FCE0DC" stroke-width="2.4" stroke-linecap="round"/>
<path transform="scale(.5)" d="M570 1038h0m-3-2h0m-1 0h0m0-3h0m-1 6h0m-2-4h0m-8 4h0m-3 0h0m-1-1h0m-6 7h0m3-1h0m8 1h0m1-2h0m1 0h0m1 2h0m1-5h0m1 5h0m0-4h0m5 6h0m1-5h0m0 2h0m1-2h0m0 2h0m2 1h0m3-3h0m15 4h0m-13 6h0m-2-1h0m0-3h0m0 6h0m-2-1h0m-4-4h0m0 2h0m-5-2h0m-2 0h0m-4 1h0m-1 1h0m-1-3h0m-1 2h0m-7 1h0m-1 1h0m-2-3h0m0 3h0m-3 5h0m1-1h0m3 0h0m4 4h0m2-3h0m2-1h0m3 0h0m3 7h0m1-2h0m0-3h0m1 4h0m0 1h0m-14 2h0m-12 10h0m57 2h0m-6 19h0m-38 11h0m36 0h0" stroke="#A59AD3" stroke-width="2.4" stroke-linecap="round"/>
<path transform="scale(.5)" d="M565 1033h0m-2 5h0m-7-1h0m7 10h0m8 6h0m-26 2h0m-3-7h0m-1 2h0m2 7h0m0-1h0m1 0h0m8 5h0m-4 4h0m2 13h0" stroke="#2C4EA0" stroke-width="2.4" stroke-linecap="round"/>
<path transform="scale(.5)" d="M573 1035h0m0 2h0m-4-3h0m-2 5h0m0-4h0m-1 4h0m-1-6h0m0 6h0m-2 0h0m-6-2h0m-2 0h0m-3 2h0m-7 8h0m1-4h0m1 2h0m2-1h0m0-1h0m1-3h0m1 0h0m0 1h0m1 2h0m0-3h0m1 0h0m0 4h0m2-2h0m4 0h0m0 2h0m0 3h0m1-4h0m0 1h0m1 0h0m3-3h0m0 5h0m2-2h0m1 2h0m0-1h0m0-5h0m1 5h0m0-2h0m1 1h0m1-1h0m0 2h0m2-1h0m2-3h0m0 2h0m1-2h0m6 4h0m4-1h0m0 2h0m1 1h0m0-5h0m1 2h0m0-1h0m0 2h0m1 1h0m1-1h0m-3 7h0m-2 1h0m-1-4h0m0 4h0m-1-5h0m0 2h0m0-1h0m0 2h0m-6-2h0m0-1h0m-2 5h0m0 1h0m-1-2h0m0 1h0m0 2h0m-1-1h0m0-3h0m0 2h0m-1 0h0m-1-2h0m-1-2h0m-1 1h0m-4-1h0m-2 1h0m-3 1h0m-2 4h0m-2-2h0m-1-2h0m-2 1h0m-2 0h0m-3 0h0m0 2h0m-1 1h0m0-5h0m-1 5h0m-1-2h0m0-3h0m-3 1h0m-1 5h0m2 1h0m1 1h0m1-2h0m1 1h0m1 3h0m0-2h0m1 4h0m1-4h0m2-1h0m2 1h0m1 4h0m3-1h0m2-5h0m0 6h0m1-1h0m0 2h0m1-1h0m0 1h0m5-7h0m7 9h0m-3 5h0m-9-5h0m-4 6h0m0-6h0m-6-1h0m0 1h0m-1 6h0m-3-5h0m-6 8h0m0 3h0m2-3h0m0-1h0m1 1h0m4-1h0m1 6h0m0-5h0m1 0h0m4 1h0m2-3h0m0 2h0m3 2h0m0-3h0m1 1h0m1 0h0m2 1h0m2 2h0m20 1h0m28 2h0m-43 7h0m-18-5h0m-3 0h0m-1 1h0m-3-3h0m-5 6h0m2 4h0m5 2h0m8-1h0m1 3h0m16-2h0m5 0h0m14 6h0m-17 3h0m-2-4h0m-4 2h0m-5 0h0m-3 0h0m0 2h0m-2-5h0m-10 3h0m2 12h0m11-6h0m4 1h0m3 1h0m2-1h0m1-1h0m4 1h0m1-2h0m3 4h0m1 2h0m4-2h0m-6 5h0m0 2h0m-1-3h0m-1 0h0m-2 1h0m-5 5h0m-1-2h0m-13-4h0m-9 0h0m18 9h0m26 1h0" stroke="#F5AAB0" stroke-width="2.4" stroke-linecap="round"/>
<path transform="scale(.5)" d="M540 1075h0m1-2h0m0 6h0m0-1h0m0-4h0m1-1h0m1 0h0m0-1h0m2 6h0m1-6h0m4 2h0m8 3h0m1-2h0m0 3h0m0-1h0m1-1h0m13 0h0m1-4h0m1 0h0m0 7h0m1-7h0m2 5h0m1-5h0m10 15h0m-8-5h0m-1 3h0m-2-5h0m0 1h0m-4 5h0m-14 1h0m-1 0h0m-1-2h0m-3 1h0m-1-3h0m-5 0h0m-3-2h0m4 9h0m5-1h0m16 1h0m21 10h0m-12-1h0m-15 12h0m12-3h0m14-4h0m-13 8h0m-1 0h0m-11 9h0" stroke="#F07A72" stroke-width="2.4" stroke-linecap="round"/>
<path transform="scale(.5)" d="M558 1071h0m-18 7h0m1-5h0m1 2h0m0 2h0m0-4h0m3-1h0m2 1h0m0 5h0m2 1h0m1 0h0m1-1h0m2-4h0m1 1h0m3-1h0m1 2h0m0-1h0m1 1h0m0-4h0m0 6h0m0-1h0m7 0h0m9 2h0m1-4h0m2-1h0m0-2h0m1 6h0m2 0h0m2 0h0m4-1h0m-5 6h0m0 1h0m-1-3h0m-1 1h0m-1 1h0m-1-3h0m0 3h0m0 2h0m-1-2h0m0 3h0m-4-6h0m-2 7h0m-20-6h0m-8-1h0m0 2h0m41 24h0m4 5h0m2-3h0m1 1h0m2 0h0m-4 3h0" stroke="#E8402F" stroke-width="2.4" stroke-linecap="round"/>
<path transform="scale(.5)" d="M569 1075h0m5 4h0m1-5h0m4 2h0m9 10h0m-5-2h0m-1 1h0m-1-5h0m0 5h0m-1 0h0m2 10h0m5 6h0" stroke="#E0162B" stroke-width="2.4" stroke-linecap="round"/>
<rect x="261.80" y="514.40" width="49.00" height="51.10" fill="none" stroke="#555" stroke-width="0.9" />
<text x="286.30" y="510.30" font-size="8.8" text-anchor="middle" fill="#1a1a1a" >MRD</text>
<path transform="scale(.5)" d="M466 1183h0m-38 3h0m1 5h0m3-2h0m12-1h0m2-4h0m31 8h0m-27 3h0m-6 4h0m0-1h0m-1 1h0m-1-2h0m-1 1h0m-14-2h0m14 4h0m2 1h0m6 6h0m0-1h0m1 1h0m7-6h0m10-1h0m1 0h0m1 0h0m0 1h0m1 0h0m8 14h0m-1-1h0m0-1h0m-1 0h0m0 1h0m-1 1h0m-1-7h0m-6 6h0m-1 1h0m0-3h0m0 2h0m-2 1h0m0-1h0m-5-1h0m-8 2h0m-2-7h0m-2 2h0m0 1h0m-1-1h0m0 2h0m0-1h0m-1 4h0m1 4h0m3 4h0m0-3h0m3-3h0m5 5h0m2-5h0m0 4h0m0-3h0m4 5h0m1-6h0m1 0h0m1 5h0m2-4h0m12 5h0m2 0h0m2-1h0m4 1h0m0-7h0m1 7h0m6-4h0m0 4h0m0-5h0m0 2h0m1-2h0m-7 6h0m-1 1h0m0-1h0m-1 0h0m-1 0h0m-2 7h0m-2-6h0m-1-1h0m-1 1h0m-13 4h0m-1-4h0m0 2h0m-1 1h0m-1-4h0m0 6h0m0-1h0m-4-4h0m-4-1h0m-1 0h0m-1 1h0m-4 0h0m-10 3h0m-7 1h0m-1-1h0m-13 1h0m-2 2h0m-3 0h0m-4-7h0m5 13h0m4 0h0m14-5h0m23 2h0m3-2h0m2 1h0m3 1h0m1-1h0m2 0h0m1 4h0m0-3h0m15-2h0m1 0h0m6 5h0m-18 7h0m-1 1h0m0-3h0m-4 5h0m-14-3h0m-12 2h0m-3-1h0m0-2h0m-2 2h0m-8 9h0m1 1h0m4-7h0m0 3h0m3 4h0m5-4h0m1 2h0m1 1h0m0-3h0m1 4h0m0-1h0m1-3h0m1 2h0m1-1h0m2-1h0m0-1h0m1 0h0m3 1h0m12 3h0m4-5h0m1 6h0m1-1h0m1-1h0m1 2h0m0-4h0m-3 6h0m-18-1h0m0 2h0m-1 2h0m0 2h0m0-1h0m0-5h0m-1 1h0m-1-1h0m-1 0h0m-3 1h0m-1 1h0m-1 4h0m-2-6h0m-2 4h0m-4 3h0m-2-4h0m0 4h0m2 3h0m6-1h0m6 0h0m1 1h0m0-1h0m1 1h0" stroke="#FCE0DC" stroke-width="2.4" stroke-linecap="round"/>
<path transform="scale(.5)" d="M449 1178h0m-14 9h0m1-1h0m21 4h0m2 7h0m-12 2h0m-5-1h0m0-1h0m-1 2h0m-4-5h0m-1 2h0m7 6h0m3-1h0m1 1h0m2 4h0m1 0h0m10-6h0m8 0h0m1 0h0m1 1h0m1 0h0m18 8h0m-3 6h0m-8-1h0m0-1h0m-1 1h0m0-1h0m-2 2h0m-8-1h0m-1 0h0m-1-2h0m-5-2h0m-7 3h0m-3-5h0m-2 6h0m0-2h0m-1 0h0m3 11h0m3 0h0m29 0h0m12-3h0m3-1h0m0 2h0m-1 7h0m-2-1h0m-3-1h0m-2 5h0m0-7h0m-1 1h0m0-1h0m-4 0h0m-1 0h0m0 2h0m-1-2h0m-6 6h0m-12-1h0m-49-2h0m-2 0h0m-1 1h0m5 9h0m30 2h0m24 0h0m16-7h0m1 7h0m0 1h0m-15 4h0m-1-2h0m0 2h0m0-1h0" stroke="#A59AD3" stroke-width="2.4" stroke-linecap="round"/>
<path transform="scale(.5)" d="M456 1181h0m-4 0h0m-5-5h0m-2 2h0m-16 12h0m32 0h0m-15 4h0m-3 5h0m-2 1h0m1 0h0m2 0h0m5 7h0m1-1h0m0-1h0m0 2h0m1-1h0m19-6h0m0 1h0m1 0h0m7 9h0m0 3h0m-1 2h0m-1-1h0m-4-2h0m-5 3h0m0-2h0m-1 1h0m0 1h0m-3 0h0m0-1h0m-1-1h0m-7 1h0m-5-6h0m-1 3h0m0 1h0m-1 0h0m-1 0h0m-4 2h0m-24 8h0m32-2h0m6 0h0m0 2h0m0-1h0m1 0h0m0-5h0m1 6h0m1-6h0m5 1h0m2 5h0m0-2h0m1-2h0m2 1h0m1 3h0m12-6h0m12 4h0m1-1h0m0 1h0m0-3h0m1 3h0m-4 11h0m-4-1h0m0-6h0m-1 0h0m-2 7h0m-1 0h0m-2-6h0m0 1h0m-2-1h0m-11 1h0m-1 5h0m0-3h0m0 2h0m-1 0h0m-1-1h0m-1 0h0m0-1h0m-1 0h0m0-1h0m-2 4h0m-1-7h0m-1 0h0m-1 2h0m0-1h0m-1-1h0m-2 4h0m-5-4h0m-9 5h0m-1 0h0m-6 1h0m-2-3h0m-2 1h0m-22-2h0m8 7h0m2 5h0m13 1h0m0-5h0m2 1h0m2 1h0m0-1h0m2-3h0m9 7h0m4-1h0m9-2h0m2-1h0m2 3h0m1-1h0m1-1h0m0 3h0m1 0h0m0-3h0m0-1h0m1-2h0m0 1h0m1 0h0m1 3h0m14-5h0m1 1h0m0-1h0m1 0h0m8 4h0m-22 7h0m-1 0h0m0 2h0m0-1h0m-1 0h0m-5-2h0m-3 4h0m-2-3h0m-6-3h0m-4 7h0m-5-5h0m-7 0h0m0-1h0m-1 1h0m-5 8h0m0 2h0m1 0h0m7-4h0m1 5h0m1 0h0m0 2h0m1-3h0m0-1h0m1 2h0m0-1h0m1 0h0m1-1h0m2 2h0m2-3h0m2 5h0m8-1h0m0-6h0m6 5h0m6 0h0m1 1h0m1 3h0m-1 3h0m-1-3h0m-2 0h0m-11 5h0m-5-5h0m-1 1h0m-3 0h0m-3 3h0m-2-5h0m0 2h0m-1-1h0m0 1h0m-4-1h0m-10 0h0m4 7h0m9 0h0m5 2h0m1 0h0m2-1h0" stroke="#F5AAB0" stroke-width="2.4" stroke-linecap="round"/>
<path transform="scale(.5)" d="M465 1190h0m4-4h0m-4 29h0m0-1h0m-5 0h0m-18 1h0m-3-2h0m-3 2h0m-1-4h0m0 2h0m-2 0h0m-9 1h0m-2 4h0m5 0h0m7-1h0m1 3h0m19 1h0m1 1h0m1 1h0m0-3h0m2 0h0m4 3h0m1-6h0m0 6h0m1 0h0m1-5h0m2 1h0m2 0h0m1 12h0m0-1h0m-1 0h0m0-5h0m0 4h0m-3-4h0m0 4h0m0-1h0m0 2h0m-1 0h0m0-5h0m-1 0h0m-1 5h0m-1-6h0m-1 1h0m-1 5h0m-1-3h0m0-3h0m-1 0h0m-8 3h0m-7 3h0m-6-1h0m0-1h0m-3 0h0m-2-1h0m-1-2h0m-1 5h0m-4 4h0m3 1h0m4 0h0m1 0h0m2-1h0m0-2h0m1 1h0m0 4h0m2 2h0m9-4h0m5 2h0m3-4h0m6 1h0m0 4h0m3-1h0m1-1h0m0 2h0m0-1h0m1-2h0m0 2h0m0-5h0m0 2h0m1-2h0m1 0h0m1 2h0m0 1h0m1 0h0m3 2h0m-13 7h0m-1 2h0m-19-2h0m-1-3h0m0 2h0m-1 0h0m-1-2h0m-2-1h0m-4 11h0m2 0h0m1 1h0m2-1h0m2-2h0m5 3h0m0 2h0m1-1h0m0-1h0m0 2h0m1-2h0m1 1h0m0 2h0m1-4h0m0 1h0m2-3h0m1 3h0m6 2h0m4-5h0m3 4h0m0-3h0m2 1h0m4 4h0m1-6h0m1 5h0m2 0h0m1-1h0m1 3h0m-3 1h0m-3-1h0m-2 5h0m-2-3h0m-1 0h0m-4-1h0m-7 3h0m0-3h0m-1 2h0m0 4h0m-1-4h0m-2-1h0m0 2h0m-2 3h0m-3-6h0m0-1h0m0 2h0m-5 1h0m-4 4h0m-2 2h0m1 1h0m1-2h0m1 1h0m0 2h0m1-1h0m11-2h0m0 3h0m1-2h0m5 0h0" stroke="#F07A72" stroke-width="2.4" stroke-linecap="round"/>
<path transform="scale(.5)" d="M455 1214h0m1 9h0m1-3h0m1-2h0m1 1h0m1-2h0m0-1h0m0 2h0m1 4h0m0-5h0m1 0h0m1 0h0m1 2h0m0-1h0m0 2h0m1-4h0m0 2h0m0 2h0m2-3h0m0 2h0m4 11h0m-2 0h0m0-1h0m-4 2h0m-2-2h0m-1-5h0m-1 2h0m-1 0h0m-3-1h0m-14 6h0m-7-3h0m-1-2h0m0 2h0m0 2h0m-1 0h0m1 4h0m0 2h0m1-2h0m0-1h0m0-1h0m12 4h0m2 1h0m9-5h0m3 0h0m4 0h0m1 4h0m2-2h0m0 4h0m-11 5h0m-6 3h0m-2-2h0m-1-4h0m-6 7h0m-11-3h0m-4 4h0m4 5h0m3-3h0m4-2h0m2 1h0m3 4h0m1-1h0m0 2h0m4-4h0m1 3h0m0-3h0m0 2h0m1 3h0m4-3h0m5-4h0m2 5h0m8 0h0m1 2h0m3-1h0m1 2h0m-6 5h0m-3 0h0m-11-3h0m-2 2h0m-1 0h0m0-3h0m0 1h0m-7-1h0m-4 1h0m-1 2h0m-3-2h0m-2 6h0m3 1h0m3 1h0m6 0h0m3 1h0" stroke="#E8402F" stroke-width="2.4" stroke-linecap="round"/>
<path transform="scale(.5)" d="M434 1226h0m2 11h0m4-3h0m3-2h0m13 11h0m-16-3h0m-3 0h0m-4 0h0m-7 2h0m8 8h0m1 1h0m10 1h0m0 3h0m0-4h0m1 0h0m1 4h0m1-3h0m1 0h0m6 0h0m-3 8h0m-6-3h0m2 9h0" stroke="#E0162B" stroke-width="2.4" stroke-linecap="round"/>
<rect x="203.00" y="585.50" width="49.00" height="50.10" fill="none" stroke="#555" stroke-width="0.9" />
<text x="227.50" y="580.40" font-size="8.8" text-anchor="middle" fill="#1a1a1a" >Relapse</text>
<path transform="scale(.5)" d="M576 1183h0m0-1h0m-2-1h0m-1-4h0m-1 5h0m0 1h0m-1 0h0m-3-7h0m-8 5h0m0-2h0m-1 4h0m-2-5h0m-7 4h0m-6 5h0m8 2h0m1 1h0m1 0h0m1 1h0m0-2h0m1 0h0m1 2h0m2-5h0m8 3h0m0-1h0m1-2h0m0 2h0m1-3h0m0 2h0m1 4h0m2 0h0m1 0h0m1-2h0m1-2h0m13 8h0m-2 1h0m-1-2h0m-1 2h0m-5 1h0m-5-2h0m0-1h0m-1 0h0m0-2h0m-1 1h0m0 2h0m0-3h0m-2 0h0m0 1h0m-1-1h0m0 1h0m-1-1h0m-1 1h0m-2 1h0m0 4h0m0-1h0m-1-2h0m0 2h0m-1-2h0m-1 2h0m-5 2h0m-3-5h0m-4 3h0m0 2h0m-4-4h0m0-2h0m-4-1h0m-2 8h0m10 1h0m0-1h0m1 1h0m3-1h0m17 5h0m0-1h0m2-1h0m10-1h0m2 4h0m7-5h0m2 6h0m0-1h0m0-1h0m1 1h0m0-1h0m13 10h0m-2-2h0m-2 1h0m-1-3h0m-4 2h0m-1-2h0m-1 2h0m-1 1h0m0-3h0m0 4h0m-1-2h0m0 1h0m-1-1h0m-4-1h0m-2 0h0m-1-1h0m0 1h0m-1-2h0m0 2h0m0-1h0m0 2h0m-1 1h0m0-3h0m-1-2h0m0 4h0m-2-5h0m0 1h0m-1 1h0m0-1h0m-1 0h0m-1 1h0m-18 0h0m-17 2h0m22 6h0m1-1h0m0 2h0m0-3h0m1 3h0m0-1h0m0-1h0m5 0h0m10-1h0m0 2h0m1-2h0m0 2h0m1-2h0m1 1h0m2 5h0m1 0h0m3-4h0m2-1h0m1-1h0m1 3h0m2 3h0m0-5h0m1 5h0m0-1h0m1-1h0m0-3h0m2 4h0m1-4h0m1 4h0m1 0h0m1-1h0m0 2h0m1 1h0m0-3h0m1 1h0m1-3h0m1-1h0m0 2h0m1 2h0m1-1h0m0 2h0m0-1h0m1 0h0m0-3h0m0 4h0m1-2h0m0 2h0m0-1h0m1 1h0m0-1h0m0 6h0m0 1h0m-1-3h0m-1 5h0m0-1h0m0 2h0m0-5h0m-1 1h0m-2-3h0m-1 4h0m0-4h0m-1 0h0m0 2h0m-1 1h0m0-3h0m-1 0h0m0 2h0m-1 4h0m-2 0h0m0-4h0m-1 2h0m-1 0h0m0 1h0m-2-2h0m0 2h0m-1 0h0m-1 0h0m-1-3h0m-2 0h0m-1-2h0m0 2h0m-1-1h0m0 2h0m0-3h0m-1 1h0m0-1h0m-2 1h0m0-1h0m-1 1h0m-5-1h0m-46 6h0m-1 1h0m-3-7h0m-4 2h0m6 12h0m1-5h0m1 0h0m61 3h0m0-1h0m1 2h0m1-4h0m1 6h0m1-2h0m0-3h0m0 4h0m1-4h0m0 2h0m0 2h0m1 1h0m0-5h0m1 4h0m1-1h0m0 2h0m0-4h0m1 0h0m1-1h0m0 2h0m1-1h0m1 1h0m1 1h0m0 2h0m2-7h0m-7 8h0m-2 1h0m0-1h0m-1 0h0m-1 2h0m0-2h0m-1 0h0m0 1h0m-1-1h0m-19 3h0m-30 0h0" stroke="#FCE0DC" stroke-width="2.4" stroke-linecap="round"/>
<path transform="scale(.5)" d="M569 1182h0m-1 1h0m-7 0h0m-3-5h0m-5 2h0m-10 11h0m1-4h0m9 3h0m1-5h0m1-1h0m1 7h0m0-3h0m2-3h0m9 3h0m1 3h0m0-3h0m0-1h0m2 0h0m1 1h0m1 3h0m1-2h0m0 2h0m19 8h0m-3-6h0m-4 2h0m-11-1h0m-1 0h0m0-2h0m-2 1h0m0 4h0m-2-5h0m-2 7h0m-2-3h0m0 2h0m0-5h0m-1 3h0m0-1h0m-1-2h0m0 2h0m0-1h0m-2-1h0m-2 5h0m-3-3h0m-5 2h0m-1 2h0m0-1h0m-1-1h0m-2-3h0m-5 3h0m21 8h0m2-5h0m2 3h0m2-1h0m8 0h0m7 4h0m3-1h0m7 1h0m0-1h0m1 2h0m9-5h0m0 13h0m0-1h0m-2-3h0m-4-1h0m-2 4h0m-1-1h0m0 2h0m0-1h0m-1-1h0m-1 0h0m-6-2h0m0 1h0m-1-2h0m0 1h0m0 2h0m-1 1h0m0-2h0m-1 2h0m0-3h0m-1 3h0m-2-5h0m0-1h0m-1 1h0m-2 5h0m-2-3h0m-5 2h0m-5 6h0m1-2h0m0 1h0m1 1h0m0-3h0m0 1h0m4 1h0m12-1h0m0 1h0m5 5h0m1-1h0m6 1h0m0-3h0m1-2h0m0-1h0m1 4h0m1-3h0m1-2h0m0 3h0m5-1h0m3 1h0m1 4h0m3-6h0m1 4h0m0-1h0m0 2h0m2 0h0m0 7h0m-1-5h0m0 2h0m0 2h0m-1-1h0m-1 0h0m0-1h0m-1 1h0m-1 1h0m-2-4h0m-2 5h0m-1-5h0m0 4h0m-4 1h0m-2 1h0m-6-5h0m0-1h0m-1 1h0m0 1h0m-2-2h0m-1 0h0m-57 1h0m-2 1h0m-1 1h0m4 5h0m3 5h0m61-4h0m3 0h0m3 6h0m2-1h0m0-3h0m0 4h0m1-4h0m2 0h0m0-3h0m1 5h0m1 0h0m0 2h0m-5 1h0m0 1h0m-3-1h0m-43 2h0m10 14h0" stroke="#A59AD3" stroke-width="2.4" stroke-linecap="round"/>
<path transform="scale(.5)" d="M562 1174h0m8 6h0m-14 2h0m-3-3h0m0 10h0m2 0h0m9 2h0m3-4h0m2 3h0m3-6h0m13 6h0m2-6h0m5 14h0m-19-5h0m0-1h0m-1 1h0m0-1h0m-1 0h0m-1 0h0m-1 0h0m-2 5h0m-2 2h0m0-5h0m0 1h0m-4-2h0m-1 2h0m-4-3h0m-2 3h0m-12 7h0m6 2h0m1-4h0m1 0h0m24 2h0m9-1h0m6 1h0m1-2h0m2 4h0m3 2h0m0-1h0m0 2h0m11 7h0m-1-1h0m-1 0h0m-1-1h0m-3 2h0m0-1h0m-2 2h0m-3 0h0m-1-6h0m0-1h0m-3 7h0m-1-7h0m-3 3h0m0 1h0m-1-2h0m0 4h0m0-3h0m-4-3h0m0 2h0m0 2h0m0-3h0m-38 8h0m4 2h0m2-1h0m4 0h0m14 5h0m0-5h0m1 1h0m5-3h0m2 3h0m7-3h0m0 1h0m1-1h0m0 2h0m2 1h0m11 1h0m1 3h0m2-3h0m1 2h0m0-5h0m0 2h0m1-3h0m0 2h0m0 2h0m0 2h0m2-6h0m1 6h0m0-1h0m0-1h0m1 1h0m0 2h0m0-4h0m1 4h0m1-1h0m0-6h0m1 2h0m0 4h0m2 0h0m0-5h0m0 2h0m1 1h0m0 1h0m1 1h0m1-1h0m1 9h0m0-3h0m-1 0h0m0 1h0m-1 2h0m0-3h0m0 2h0m0 2h0m-1-4h0m0 2h0m0-3h0m-1-1h0m0 2h0m0-1h0m0 2h0m-1-1h0m0 2h0m0-5h0m0 6h0m-1 0h0m0-5h0m0-1h0m-2 2h0m0 2h0m-1 0h0m0-4h0m-1 1h0m-2 2h0m-1 3h0m-1-4h0m-1 5h0m0-3h0m-1 1h0m-1-2h0m-1 1h0m-1 1h0m0-5h0m-1 0h0m-2 2h0m-1 0h0m-3-1h0m-1-1h0m0 1h0m-11 6h0m-8-2h0m-6-2h0m-27 1h0m-1 3h0m9 5h0m7 1h0m2-5h0m14 6h0m11 0h0m1-3h0m5-1h0m6 2h0m8-4h0m0 2h0m2 5h0m1-6h0m0 6h0m1-4h0m0-1h0m0 4h0m1-3h0m0 4h0m1-4h0m1 4h0m1-5h0m0 2h0m0-3h0m0 2h0m1 2h0m1 0h0m2-3h0m0-1h0m0 4h0m0 2h0m0-7h0m1 4h0m0-3h0m1 2h0m-4 5h0m-1 0h0m-1 1h0m-1-1h0m-3 1h0m0-1h0m-1 0h0m0 2h0m-16 4h0m-12-6h0m5 11h0m-3 6h0" stroke="#F5AAB0" stroke-width="2.4" stroke-linecap="round"/>
<rect x="261.80" y="585.50" width="49.00" height="50.10" fill="none" stroke="#555" stroke-width="0.9" />
<text x="286.30" y="580.40" font-size="8.8" text-anchor="middle" fill="#1a1a1a" >Healthy</text>
<line x1="200.60" y1="526.45" x2="203.00" y2="526.45" stroke="#444" stroke-width="0.8"/>
<text x="192.59" y="528.65" font-size="6.3" fill="#333">25</text>
<line x1="200.60" y1="540.50" x2="203.00" y2="540.50" stroke="#444" stroke-width="0.8"/>
<text x="196.10" y="542.70" font-size="6.3" fill="#333">0</text>
<line x1="200.60" y1="554.55" x2="203.00" y2="554.55" stroke="#444" stroke-width="0.8"/>
<rect x="187.81" y="554.23" width="4.16" height="0.76" fill="#333"/>
<text x="192.59" y="556.75" font-size="6.3" fill="#333">25</text>
<line x1="200.60" y1="597.25" x2="203.00" y2="597.25" stroke="#444" stroke-width="0.8"/>
<text x="192.59" y="599.45" font-size="6.3" fill="#333">25</text>
<line x1="200.60" y1="611.30" x2="203.00" y2="611.30" stroke="#444" stroke-width="0.8"/>
<text x="196.10" y="613.50" font-size="6.3" fill="#333">0</text>
<line x1="200.60" y1="625.35" x2="203.00" y2="625.35" stroke="#444" stroke-width="0.8"/>
<rect x="187.81" y="625.03" width="4.16" height="0.76" fill="#333"/>
<text x="192.59" y="627.55" font-size="6.3" fill="#333">25</text>
<line x1="203.60" y1="635.60" x2="203.60" y2="638.20" stroke="#444" stroke-width="0.8"/>
<rect x="196.50" y="642.28" width="4.16" height="0.76" fill="#333"/>
<text x="201.29" y="644.80" font-size="6.3" fill="#333">50</text>
<line x1="215.30" y1="635.60" x2="215.30" y2="638.20" stroke="#444" stroke-width="0.8"/>
<rect x="208.20" y="642.28" width="4.16" height="0.76" fill="#333"/>
<text x="212.99" y="644.80" font-size="6.3" fill="#333">25</text>
<line x1="227.00" y1="635.60" x2="227.00" y2="638.20" stroke="#444" stroke-width="0.8"/>
<text x="225.25" y="644.80" font-size="6.3" fill="#333">0</text>
<line x1="238.70" y1="635.60" x2="238.70" y2="638.20" stroke="#444" stroke-width="0.8"/>
<text x="235.20" y="644.80" font-size="6.3" fill="#333">25</text>
<line x1="250.40" y1="635.60" x2="250.40" y2="638.20" stroke="#444" stroke-width="0.8"/>
<text x="246.90" y="644.80" font-size="6.3" fill="#333">50</text>
<line x1="262.40" y1="635.60" x2="262.40" y2="638.20" stroke="#444" stroke-width="0.8"/>
<rect x="255.30" y="642.28" width="4.16" height="0.76" fill="#333"/>
<text x="260.09" y="644.80" font-size="6.3" fill="#333">50</text>
<line x1="274.10" y1="635.60" x2="274.10" y2="638.20" stroke="#444" stroke-width="0.8"/>
<rect x="267.00" y="642.28" width="4.16" height="0.76" fill="#333"/>
<text x="271.79" y="644.80" font-size="6.3" fill="#333">25</text>
<line x1="285.80" y1="635.60" x2="285.80" y2="638.20" stroke="#444" stroke-width="0.8"/>
<text x="284.05" y="644.80" font-size="6.3" fill="#333">0</text>
<line x1="297.50" y1="635.60" x2="297.50" y2="638.20" stroke="#444" stroke-width="0.8"/>
<text x="294.00" y="644.80" font-size="6.3" fill="#333">25</text>
<line x1="309.20" y1="635.60" x2="309.20" y2="638.20" stroke="#444" stroke-width="0.8"/>
<text x="305.70" y="644.80" font-size="6.3" fill="#333">50</text>
<text x="252.45" y="655.90" font-size="8.8" text-anchor="middle" fill="#1a1a1a" font-weight="bold" textLength="16.2" lengthAdjust="spacingAndGlyphs" >tSNE1</text>
<text transform="translate(183.50,580.40) rotate(-90)" font-size="9.6" text-anchor="middle" fill="#1a1a1a" font-weight="bold" textLength="16.6" lengthAdjust="spacingAndGlyphs">tSNE2</text>
<text x="319.20" y="541.70" font-size="7.8" text-anchor="start" fill="#222" >IL1RAP</text>
<rect x="320.20" y="547.10" width="10.40" height="7.79" fill="#A51C28" stroke="#555" stroke-width="0.35" />
<rect x="320.20" y="554.89" width="10.40" height="7.79" fill="#C8202E" stroke="#555" stroke-width="0.35" />
<rect x="320.20" y="562.68" width="10.40" height="7.79" fill="#E41F2A" stroke="#555" stroke-width="0.35" />
<rect x="320.20" y="570.47" width="10.40" height="7.79" fill="#F08A85" stroke="#555" stroke-width="0.35" />
<rect x="320.20" y="578.26" width="10.40" height="7.79" fill="#FCE0DC" stroke="#555" stroke-width="0.35" />
<rect x="320.20" y="586.05" width="10.40" height="7.79" fill="#9D93CF" stroke="#555" stroke-width="0.35" />
<rect x="320.20" y="593.84" width="10.40" height="7.79" fill="#2C4EA0" stroke="#555" stroke-width="0.35" />
<rect x="320.20" y="547.10" width="10.40" height="54.50" fill="none" stroke="#555" stroke-width="0.5" />
<text x="337.33" y="557.50" font-size="5.7" fill="#333">4</text>
<text x="337.33" y="565.22" font-size="5.7" fill="#333">3</text>
<text x="337.33" y="572.94" font-size="5.7" fill="#333">2</text>
<text x="337.33" y="580.66" font-size="5.7" fill="#333">1</text>
<text x="337.33" y="588.38" font-size="5.7" fill="#333">0</text>
<rect x="333.73" y="593.78" width="3.00" height="0.76" fill="#333"/>
<text x="337.33" y="596.10" font-size="5.7" fill="#333">1</text>
<path transform="scale(.5)" d="M774 1042h0m9 3h0m6-3h0m0 1h0m1 0h0m0-1h0m0 2h0m8 9h0m-15 1h0m-4-2h0m-1 7h0m10-2h0m23 3h0m4 12h0m10 6h0m11 7h0m-8 1h0m-59 8h0m1-2h0m1-3h0m1 6h0m0-5h0m51 7h0m-51 1h0m0 2h0m-1 2h0m0-3h0m0 2h0m-2-4h0m1 13h0m5 0h0m3-3h0m2 2h0m1 1h0m1-2h0m1 3h0m24 7h0m-2-2h0m-2 3h0m0-1h0m-2 1h0m-2-3h0m-2 2h0m-1-1h0m-2 1h0m-3-1h0m-7-4h0m-1-1h0m-1 5h0m0-5h0m0 2h0m-1-2h0m-2 6h0m0-4h0m-3 1h0m0 1h0m-2-2h0m-1 4h0m-1-5h0m0 4h0m-2-5h0m-1 0h0m8 9h0m1-1h0m1 1h0m0 2h0m2 0h0m1 1h0m1 0h0m5-2h0m4-1h0m4 1h0m1 0h0m0-1h0m1 4h0m1-2h0m0-3h0m1 2h0m2 3h0m0-5h0" stroke="#FCE0DC" stroke-width="2.5" stroke-linecap="round"/>
<path transform="scale(.5)" d="M786 1087h0m-7 0h0m-1 0h0m-5 0h0m0-1h0m-1 0h0m-1 1h0m-1 6h0m1-1h0m1 0h0m0 2h0m1-1h0m0 2h0m1 0h0m3-4h0m9 0h0m0 3h0m10 8h0m-14-1h0m-5 2h0m-5-4h0m-1-1h0m0 3h0m-1-2h0m0-3h0m0 6h0m-1-3h0m0 3h0m0-5h0m-1 5h0m0-5h0m0 6h0m0 3h0m0 1h0m1-2h0m1 5h0m0-5h0m0-1h0m1 7h0m0-5h0m0 2h0m1 3h0m2-2h0m2-3h0m0 4h0m0 1h0m0-7h0m1 1h0m0 2h0m0 2h0m0 2h0m0-3h0m0 2h0m1-1h0m1 2h0m0-1h0m4-3h0m3-2h0m7 0h0m0-1h0m5 2h0m3 0h0m1 1h0m5 8h0m0 2h0m0-3h0m-1 4h0m0-3h0m0 2h0m0-1h0m-1 3h0m0-3h0m0 2h0m-1-1h0m0 2h0m0-3h0m-1 0h0m0-1h0m-1-2h0m0 6h0m-3 0h0m0-1h0m-1-1h0m-1 1h0m-1-3h0m0 4h0m-1-1h0m-1 1h0m0-7h0m0 4h0m0-1h0m-3 1h0m-1 3h0m-1-1h0m-1-1h0m-1-2h0m0-1h0m-1 2h0m-1-3h0m-1-1h0m-2 7h0m0-5h0m0 2h0m0 2h0m0-5h0m-1 4h0m0 2h0m-2-2h0m0 2h0m-1 0h0m0-7h0m0 1h0m-1 3h0m0-3h0m0 2h0m0 2h0m-1-1h0m-1 1h0m-1 2h0m0-7h0m-2 2h0m0 4h0m-1-5h0m-1-1h0m5 8h0m6 5h0m0-1h0m1-3h0m0 3h0m0-1h0m0 2h0m1-1h0m0 2h0m0-3h0m0 2h0m1-4h0m0 4h0m0-3h0m1 2h0m1-2h0m0 4h0m1-2h0m0 2h0m1-5h0m0 3h0m1-4h0m0 4h0m0-3h0m2 3h0m0 1h0m2 2h0m0-4h0m1-2h0m1 2h0m0 2h0m0-5h0m0 2h0m1 1h0m0-1h0m0 4h0m0-5h0m1 1h0m0-1h0m0-1h0m1 5h0m0-5h0m0 2h0m1 1h0m0 2h0m0-5h0m0 2h0m1-1h0m1 1h0m0 1h0m1-2h0m1-1h0m1 0h0m0 1h0" stroke="#A59AD3" stroke-width="2.5" stroke-linecap="round"/>
<path transform="scale(.5)" d="M789 1033h0m-18 12h0m16-3h0m2 1h0m0 2h0m1-2h0m0 1h0m5 3h0m17-2h0m-2 9h0m-8-4h0m-10 3h0m-13-4h0m-10 6h0m-4 1h0m5 5h0m14-1h0m21-1h0m12 0h0m-22 12h0m-13 0h0m-16 3h0m8 1h0m1-3h0m2 2h0m1 3h0m4-1h0m3-3h0m30 0h0m4 2h0m0-1h0m20 4h0m-1 4h0m-27 3h0m-9-2h0m-15 2h0m-2 1h0m-1 1h0m-1-2h0m-1 2h0m0-2h0m-1 1h0m-4-3h0m-1-3h0m-1 6h0m-1 0h0m-1-1h0m-1-4h0m-2-1h0m3 14h0m1-1h0m1 2h0m0-5h0m0 2h0m1-1h0m1 0h0m0-1h0m3 4h0m0-5h0m1 6h0m0-5h0m1-1h0m0-1h0m1 7h0m0-2h0m3-2h0m0-1h0m1 4h0m11-2h0m1 1h0m2-2h0m1 4h0m0-1h0m2 0h0m1-3h0m3 1h0m0-3h0m0 6h0m2-1h0m3 1h0m4-4h0m8 3h0m-10 5h0m-3 3h0m-1 1h0m-1 0h0m-1-1h0m0-5h0m-1 6h0m-1-2h0m-1 1h0m-1 1h0m-1-1h0m0 1h0m0-7h0m-3 3h0m-1 1h0m-2-1h0m0 4h0m-2-2h0m-1 2h0m0-1h0m-8-6h0m0 6h0m-1-3h0m-2 2h0m0-3h0m0-1h0m-1-1h0m0 2h0m0 2h0m-5 3h0m0-5h0m-1 4h0m0-1h0m-1 2h0m0-3h0m0-3h0m-3 5h0m-1-5h0m-1 1h0m-2 3h0m0 2h0m-1-4h0m3 10h0m1-4h0m0 4h0m1-5h0m1 0h0m1 0h0m1 6h0m0-5h0m1 5h0m0-5h0m2 6h0m0-3h0m0 2h0m0-3h0m1 1h0m1-3h0m1 2h0m0-3h0m2 2h0m1-1h0m1 6h0m1-2h0m1 1h0m1-6h0m0 2h0m1 5h0m1-7h0m1 4h0m1 0h0m0-2h0m2-1h0m0 2h0m0-3h0m1 5h0m0-5h0m0 2h0m1 1h0m0 2h0m0 2h0m2-2h0m0-3h0m1 4h0m0-3h0m3-3h0m1 0h0m0 2h0m0-1h0m1-1h0m2 6h0m2-4h0m3-2h0m5 7h0m-7 3h0m-3-1h0m-2 1h0m0-1h0m-1 2h0m0 2h0m-1 2h0m0-5h0m-1-2h0m-1 3h0m-1 2h0m0-1h0m-1-2h0m-1 3h0m0-5h0m-1 0h0m0 4h0m-2 3h0m-2-6h0m-2 6h0m0-5h0m-1 4h0m0-5h0m-4-1h0m0 3h0m-2 2h0m-1 2h0m-3-7h0m-1 6h0m-1-2h0m0-1h0m-1 4h0m0-3h0m-1 0h0m-1-4h0m-1 0h0m-5 1h0m8 10h0m0-3h0m1 1h0m2 3h0m1 3h0m1-1h0m0-3h0m1-1h0m0 2h0m6-2h0m5 2h0m3-2h0m1 0h0m0-1h0m1 2h0m1-1h0m1 0h0m0-1h0m0 2h0m3-3h0" stroke="#F5AAB0" stroke-width="2.5" stroke-linecap="round"/>
<path transform="scale(.5)" d="M796 1037h0m-10-4h0m-11 13h0m14-2h0m2-3h0m0 2h0m1-1h0m19 12h0m-26-3h0m0-1h0m-15-2h0m-1 2h0m-1 3h0m20 3h0m4 2h0m2 3h0m19-2h0m11 8h0m-1 3h0m-51 3h0m22 6h0m10-1h0m11-6h0m1 1h0m0 2h0m1-2h0m1 4h0m2-3h0m10-1h0m-9 7h0m-10 6h0m-6 0h0m-21 0h0m-1 0h0m0-2h0m-2 3h0m-1 0h0m0-1h0m-1 0h0m0-3h0m-2-1h0m-1 2h0m-1 0h0m-1 2h0m0 8h0m0-3h0m0-3h0m1 1h0m1 0h0m1 4h0m0-1h0m1 0h0m0-4h0m1 0h0m0 4h0m0-3h0m1 1h0m0 4h0m0 1h0m0-7h0m2 5h0m0-1h0m2 1h0m0-3h0m1-1h0m1 6h0m0-3h0m4-4h0m2 1h0m6 5h0m1 0h0m0-5h0m0 3h0m1 2h0m3-1h0m10 1h0m14-4h0m-16 12h0m0 1h0m-1-5h0m-2 2h0m-1 3h0m-1-5h0m-2 4h0m0 1h0m-1-3h0m-3 3h0m-1-3h0m-1-1h0m-1 4h0m0-1h0m-5 1h0m-3-2h0m-1 2h0m0-4h0m-1-2h0m0 2h0m0 2h0m-1-4h0m0 2h0m-1 1h0m0 1h0m0-5h0m-1 5h0m0-3h0m0 4h0m-1-1h0m0-1h0m-1-2h0m0 1h0m-1-3h0m-2 4h0m-1 1h0m0-1h0m0-3h0m0 2h0m-1 4h0m0-7h0m-1 7h0m0-7h0m0 1h0m-1-1h0m-1 6h0m0-3h0m3 6h0m2-1h0m2 1h0m2-1h0m2 3h0m0 2h0m0-1h0m3-4h0m1 3h0m1 2h0m0 2h0m0-7h0m2 3h0m0 4h0m1-3h0m0-3h0m1 0h0m0 2h0m1 4h0m0-5h0m1-2h0m1 2h0m0 2h0m0-1h0m0-3h0m1 0h0m1 1h0m3-1h0m1 0h0m0 4h0m1-3h0m0 4h0m1 0h0m0-1h0m1 1h0m6-5h0m4 5h0m-9 4h0m-1 0h0m-3 0h0m-1 6h0m0-5h0m-3-2h0m-1 1h0m0-1h0m-4 2h0m-7-2h0" stroke="#F07A72" stroke-width="2.5" stroke-linecap="round"/>
<path transform="scale(.5)" d="M791 1045h0m21 3h0m-33 0h0m32 14h0m1 11h0m25 10h0m-53 3h0m-3-1h0m-1 0h0m-6 2h0m0 7h0m0-1h0m3-1h0m2-1h0m0 1h0m1-1h0m1 1h0m0-3h0m3 3h0m0-3h0m2-1h0m12 14h0m0-4h0m0 2h0m-1-2h0m-8 1h0m-1 1h0m-1 1h0m0-3h0m-1 5h0m0-1h0m0-6h0m-1 3h0m-1 4h0m-1-1h0m-1-6h0m0 1h0m-4 1h0m0 1h0m-1 5h0m1 0h0m3 1h0m2 0h0m1 0h0m2-1h0m0 3h0m2 1h0m2 0h0m3 3h0m1-1h0m1-2h0m1 2h0m0-5h0m1 2h0m1 0h0m0 2h0m3 0h0m5 4h0m-1 0h0m-5-1h0m-3 2h0m-2-1h0m-1 0h0m-8 0h0m20 8h0" stroke="#E8402F" stroke-width="2.5" stroke-linecap="round"/>
<rect x="373.90" y="515.30" width="49.20" height="49.00" fill="none" stroke="#555" stroke-width="0.9" />
<text x="398.50" y="510.30" font-size="8.8" text-anchor="middle" fill="#1a1a1a" >Diagnosis</text>
<path transform="scale(.5)" d="M916 1037h0m-1 0h0m-5 2h0m-2-6h0m-4 3h0m-2 2h0m-1-1h0m-3 0h0m-3 1h0m-1 0h0m-4 5h0m0 2h0m0 2h0m1-1h0m0-6h0m0 5h0m3-2h0m5 4h0m2-7h0m1 6h0m1-4h0m2 0h0m1 5h0m1-4h0m1 1h0m1-3h0m1-1h0m0 5h0m1-5h0m0 2h0m1 4h0m0-3h0m0 2h0m0 2h0m1-5h0m1 4h0m0-6h0m0 2h0m1 5h0m0-1h0m1-2h0m2-2h0m2 8h0m-1-1h0m0 2h0m0-3h0m-1 7h0m0-4h0m0 2h0m-2-5h0m-1 2h0m0 4h0m0-1h0m0-5h0m-1 0h0m0 1h0m-3 3h0m0 2h0m0-5h0m0 4h0m-1-4h0m0 1h0m0 2h0m0 2h0m-1-6h0m0 6h0m0-5h0m0 2h0m0 2h0m-1-3h0m-1-1h0m-1 2h0m-7-1h0m0-1h0m-2 4h0m0-5h0m-1 1h0m-3 1h0m-1-1h0m0 4h0m-1-4h0m0 4h0m0-3h0m-1-2h0m0 4h0m-1-3h0m0 1h0m-1 5h0m0-3h0m0-3h0m0 2h0m-1-1h0m-1 4h0m0 1h0m-1-1h0m0-5h0m0 2h0m0 1h0m-1 0h0m-2 4h0m3 1h0m0 4h0m1-3h0m0 4h0m1-4h0m2-1h0m1 5h0m0-1h0m0-3h0m2 4h0m2-6h0m1 1h0m0-1h0m0 4h0m1-4h0m1 6h0m2 0h0m0-6h0m2 3h0m2-1h0m1 5h0m1-4h0m0 4h0m1-5h0m0-1h0m9-1h0m2 2h0m31 5h0m2 8h0m-34-1h0m-3 0h0m-9-6h0m-5 3h0m-5 0h0m-5-2h0m0-1h0m0 2h0m0 2h0m-1 3h0m0-5h0m-1-1h0m0 1h0m0 2h0m7 8h0m10 3h0m17-6h0m34 10h0m-37-1h0m16 19h0m-1 0h0m-15-2h0m2 12h0m7-7h0m3 1h0m8 10h0m-48 1h0m33 8h0m2-2h0" stroke="#FCE0DC" stroke-width="2.5" stroke-linecap="round"/>
<path transform="scale(.5)" d="M915 1071h0m1 3h0m1 0h0m2 5h0m0-1h0m1-2h0m1-3h0m0 5h0m2-6h0m4 3h0m4 11h0m-2-5h0m-5-1h0m-1 0h0m-3 1h0m0 2h0m-5-2h0m-5 10h0m5-1h0m1 0h0m9 3h0m6-3h0m4 10h0m-1-2h0m0 2h0m0 3h0m-1-4h0m0 2h0m-1-3h0m0 3h0m0-1h0m-9 2h0m0 4h0m7-1h0m3 8h0m-3 1h0" stroke="#A59AD3" stroke-width="2.5" stroke-linecap="round"/>
<path transform="scale(.5)" d="M929 1037h0m-11 1h0m-2-1h0m-1 0h0m-2 2h0m-1 0h0m0-1h0m-3-2h0m0 1h0m-2-4h0m0 6h0m-1 0h0m-1-5h0m0 2h0m-1 0h0m0 2h0m-1-5h0m0 6h0m-2-2h0m-1 2h0m-1-5h0m-1 4h0m-3-1h0m0 2h0m-2-1h0m-7 8h0m2-4h0m2 4h0m1-6h0m1 5h0m2-1h0m2-4h0m1 6h0m1-4h0m1 1h0m0-1h0m1-1h0m1 2h0m0 4h0m1-7h0m0 6h0m0-5h0m3 5h0m1-5h0m1-1h0m1 6h0m1 0h0m1-6h0m0 4h0m1-4h0m0 2h0m1 2h0m0-1h0m0-3h0m1 7h0m0-7h0m0 6h0m1-2h0m0 3h0m1-2h0m0 2h0m0-5h0m1 2h0m0 2h0m1-1h0m0-4h0m1 4h0m0 2h0m0-7h0m9 14h0m0-1h0m-1-1h0m0 1h0m-6-3h0m0 1h0m-1 1h0m0 2h0m0-3h0m-1-3h0m0 1h0m0 2h0m-1-2h0m0 2h0m-2 3h0m0-5h0m0-1h0m-1 0h0m0 2h0m0-1h0m-1 3h0m0 1h0m-1-1h0m-1 0h0m0-3h0m0 2h0m-1-2h0m0 4h0m0-5h0m0 7h0m0-5h0m-1 5h0m0-1h0m0-3h0m0 2h0m-1 2h0m-2-6h0m0 2h0m-1 3h0m-2-5h0m-2 0h0m0 2h0m-1-1h0m-2 5h0m0-5h0m0 3h0m-1 0h0m0-5h0m-1 4h0m0-4h0m-1 6h0m-1-2h0m0-1h0m-2 0h0m0 2h0m-1 0h0m0-5h0m-1 7h0m0-5h0m0-1h0m-1 3h0m0-3h0m0 4h0m-1-5h0m-1 6h0m0-4h0m0 2h0m-1 0h0m0-3h0m0 2h0m-1-2h0m0 2h0m0 1h0m-1 0h0m0-3h0m-2 9h0m2 2h0m1 2h0m0-1h0m1-4h0m0 2h0m1-3h0m0 1h0m2 6h0m0-7h0m0 3h0m1 0h0m2 0h0m0 4h0m1-6h0m1 3h0m1-1h0m0-1h0m0 2h0m2 1h0m3 0h0m0-1h0m0-1h0m4 3h0m1-6h0m3 0h0m1 1h0m7 2h0m2-2h0m0-1h0m0 2h0m2-2h0m11 0h0m9 13h0m-25-4h0m-9 1h0m-2 1h0m-7 4h0m-1-6h0m-3 2h0m-1-2h0m-3 0h0m0 1h0m-1-1h0m-1 1h0m-1-1h0m-2 12h0m1 1h0m2-2h0m0 3h0m3-4h0m0 2h0m2 2h0m0-1h0m1-2h0m0-3h0m2 4h0m1-2h0m0 2h0m4-5h0m0 5h0m1-2h0m2 2h0m1 1h0m9 1h0m4 0h0m1-6h0m0 4h0m2-1h0m1 1h0m1-1h0m0-1h0m2 3h0m7 7h0m0-3h0m-4 5h0m-1-2h0m-3-4h0m-6 3h0m-3-1h0m-1 1h0m0 3h0m-5-3h0m-1-2h0m-2 5h0m0-2h0m-1-5h0m-11 1h0m0-1h0m-3 0h0m-2 3h0m-2-3h0m11 12h0m7-4h0m0 2h0m0 2h0m1-3h0m2 4h0m0 2h0m1-2h0m1 0h0m6-1h0m13-3h0m2 4h0m19 0h0m-15 8h0m-1 2h0m0-2h0m-2 0h0m0 2h0m-25-1h0m-1-3h0m-10 5h0m24 1h0m5 2h0m11-3h0m1 3h0m-12 6h0m0 6h0m-2-1h0m-1-5h0m-3 0h0m-4 3h0m-3-4h0m-4 3h0m-3 0h0m-1-1h0m7 9h0m11-1h0m1-1h0m1 0h0m1 5h0m0-5h0m2 1h0" stroke="#F5AAB0" stroke-width="2.5" stroke-linecap="round"/>
<path transform="scale(.5)" d="M913 1037h0m0 2h0m-1 0h0m-1-1h0m-7-5h0m0 5h0m-1 0h0m-1-4h0m0 2h0m0 1h0m-2 2h0m-1-1h0m0 1h0m-2-3h0m-1 3h0m-1-1h0m-8 4h0m2 5h0m0-3h0m0 2h0m3-6h0m0 2h0m2 5h0m1-5h0m1 3h0m1 1h0m3-6h0m1 4h0m0-3h0m1-1h0m0 1h0m1-1h0m0 2h0m2 5h0m1-6h0m2 6h0m2-7h0m0 1h0m1 6h0m0-5h0m1-1h0m1 4h0m0 1h0m1 0h0m0 1h0m1-2h0m0 2h0m1-4h0m0 4h0m1-5h0m2 1h0m1 2h0m1 5h0m-1 0h0m0-1h0m-1 3h0m0-1h0m-1 0h0m-1 3h0m-1-6h0m0 6h0m-1-5h0m-1 2h0m-1 3h0m-1-6h0m0 4h0m-1-4h0m0 1h0m0 2h0m-1-2h0m0 1h0m0 2h0m-1-4h0m-1 5h0m-3-5h0m-3 3h0m-1 1h0m-2-1h0m-1-3h0m-1 1h0m-2 2h0m-1 1h0m-1 3h0m-1-1h0m-1-6h0m0 2h0m0 2h0m-1-4h0m0 2h0m0-1h0m-1 2h0m0-3h0m0 2h0m-1 2h0m0-1h0m-1 0h0m0 1h0m-1-2h0m0 3h0m-2 2h0m-1 0h0m0 6h0m1 2h0m1-6h0m0 2h0m1-2h0m0-1h0m2 6h0m0-3h0m0-1h0m1 3h0m0-1h0m1-3h0m0 4h0m1-4h0m1 0h0m0 2h0m1-1h0m0 2h0m0 1h0m1-3h0m3 0h0m1 1h0m2-3h0m1 6h0m0-1h0m4-5h0m0 2h0m8-2h0m5 0h0m23 7h0m-11 2h0m-12 6h0m-14-5h0m-4 5h0m-1-2h0m-1 1h0m0-5h0m-1 0h0m-1 6h0m-2-5h0m-2 0h0m0 5h0m-5-5h0m-3 8h0m1 0h0m0 2h0m0 1h0m1-2h0m0 1h0m4-1h0m0-1h0m1 2h0m0-1h0m2-1h0m1 4h0m0-1h0m1-1h0m0 3h0m1-3h0m3-1h0m0-1h0m0 4h0m1-3h0m0 2h0m1 0h0m49 3h0m-30 3h0m-7-2h0m-9 0h0m-2 0h0m-1 3h0m-1-2h0m-1 1h0m-11-1h0m-6 0h0m20 11h0m1-3h0m0 4h0m1-4h0m2 4h0m1-2h0m5 3h0m1-4h0m4 1h0m2 8h0m-13 3h0m-9-2h0m-3-4h0m6 13h0m3-1h0m0-5h0m3 0h0m25 15h0m-6-2h0m-10-1h0m-9 5h0m14 1h0m1-2h0m1 1h0m1-1h0m10 0h0" stroke="#F07A72" stroke-width="2.5" stroke-linecap="round"/>
<path transform="scale(.5)" d="M882 1076h0m2-2h0m0-2h0m0 6h0m2-5h0m2-1h0m1 1h0m0 4h0m1-2h0m0 3h0m0-2h0m1-1h0m0 3h0m1-6h0m0 3h0m0 3h0m0-1h0m0-4h0m0 6h0m1-2h0m1 1h0m0 1h0m1 0h0m0-3h0m1-4h0m0 2h0m1 1h0m-3 7h0m-1-2h0m-1 1h0m-1 2h0m-1 1h0m0-4h0m-5 1h0m0-1h0" stroke="#E8402F" stroke-width="2.5" stroke-linecap="round"/>
<path transform="scale(.5)" d="M922 1046h0m1-2h0m0 2h0m0-1h0m1 0h0m0 2h0m4-4h0m0 3h0m0-4h0m0 3h0m1 0h0m0-1h0m0 3h0m0-4h0m0 3h0m1 0h0m0-3h0m1 2h0m0-1h0m0 3h0m0-1h0m0-3h0m1 2h0m0-1h0m-5 4h0m-1 1h0m0 1h0m-1 0h0m-1-1h0" stroke="#B71F2E" stroke-width="2.5" stroke-linecap="round"/>
<rect x="432.90" y="515.30" width="49.20" height="49.00" fill="none" stroke="#555" stroke-width="0.9" />
<text x="457.50" y="510.30" font-size="8.8" text-anchor="middle" fill="#1a1a1a" >MRD</text>
<path transform="scale(.5)" d="M798 1181h0m-13-5h0m-14 11h0m3 3h0m29-4h0m3 13h0m-2 0h0m-1 0h0m-5-6h0m-10-1h0m-1 1h0m0-1h0m0 2h0m-1 3h0m-4 7h0m18-4h0m4 0h0m1 1h0m6 1h0m0-1h0m0-1h0m0 3h0m10 11h0m-6 1h0m-7-1h0m-7-3h0m-1-1h0m0 3h0m-1-2h0m-14 1h0m-1 1h0m5 4h0m1-1h0m22 2h0m2 0h0m2 0h0m8 12h0m-1 0h0m-36 1h0m-8 0h0m-25-5h0m-1 0h0m28 13h0m1-4h0m0 3h0m1-5h0m1 0h0m2 1h0m17 5h0m19-2h0m1-1h0m0-3h0m1 0h0m0 4h0m1 1h0m0-5h0m8 3h0m-42 9h0m-1-1h0m-1 1h0m-9-5h0" stroke="#FCE0DC" stroke-width="2.5" stroke-linecap="round"/>
<path transform="scale(.5)" d="M807 1215h0m-1 0h0m-1 0h0m-1-1h0m-2 0h0m0 1h0m-1-2h0m0 2h0m0-1h0m-1 0h0m0 1h0m-1 0h0m0-1h0m-1 0h0m-8 6h0m0 2h0m4-1h0m0 2h0m0-7h0m2 4h0m0 2h0m4-1h0m0-5h0m0 6h0m0-5h0m1-1h0m0 2h0m0 2h0m1 0h0m1 3h0m0-7h0m0 2h0m0-1h0m1 4h0m0 2h0m0-7h0m0 4h0m0-3h0m0 2h0m1 0h0m0 2h0m0-5h0m1 7h0m0-7h0m0 2h0m0-1h0m1 6h0m0-7h0m0 2h0m0-1h0m1 2h0m0 2h0m0 2h0m1-4h0m0 3h0m1-1h0m2 0h0m4 10h0m-5-1h0m0-6h0m0 2h0m-2 2h0m0 1h0m-2-1h0m-3-1h0m0-3h0m-1 6h0m0-5h0m0-1h0m-2 1h0m0 2h0m0 2h0m-1-4h0m0 2h0m-3 4h0m-2-7h0m0 2h0m-1-2h0m-11 4h0m-3-2h0m-2 3h0m0-1h0m-6 2h0m-4 9h0m1-4h0m8 4h0m3 0h0m1-1h0m2-4h0m1 0h0m1 0h0m9-2h0m1 3h0m0-1h0m0 2h0m1 0h0m1-2h0m1 1h0m6-1h0m1-1h0m0 2h0m0-1h0m2 2h0m0-3h0m3 3h0m1-4h0m1 6h0m0 1h0m2 0h0m0-7h0m0 8h0m0 1h0m-1-1h0m-1 0h0m-2 0h0m-3 4h0m0-1h0m-6-3h0m-8 2h0m-1 3h0m-1-5h0m-2 5h0m-5-3h0m-10 5h0m-3-7h0m0 6h0m-2-1h0m-1-2h0m3 12h0m2-3h0m0-3h0m0 1h0m1 0h0m1-1h0m0-1h0m0 4h0m1-1h0m1-2h0m0 4h0m0-3h0m0 2h0m1-1h0m0-3h0m0 2h0m1 3h0m0 2h0m0-4h0m1 4h0m2-1h0m0 1h0m2-4h0m1-2h0m2 1h0m0-1h0m1 2h0m2 2h0m5-1h0m0-1h0m0-1h0m1 1h0m0-1h0m0-1h0m1-1h0m2 5h0m2-3h0m1 4h0m4-3h0m1 4h0m1-6h0m0 4h0m0-3h0m1 3h0m0 2h0m0-5h0m0-1h0m1 1h0m0 4h0m0-3h0m0-3h0m4 5h0m2 3h0m-3 1h0m0-1h0m-2 1h0m-3 0h0m-1 2h0m-5 4h0m0-5h0m-1 4h0m-7 1h0m0-5h0m-1 1h0m0 4h0m0-1h0m-1-1h0m-1 0h0m-1-3h0m0 3h0m-2-5h0m0 1h0m0 2h0m0 4h0m-1-6h0m0 1h0m-3 5h0m0-1h0m-1 0h0m-2-6h0m-1 0h0m-1 5h0m-1 0h0m0-1h0m0 2h0m-1-2h0m0-1h0m0 2h0m-4-4h0m12 7h0m0 1h0m1-1h0m1 0h0m1 2h0m5-2h0m1 4h0m3-4h0" stroke="#A59AD3" stroke-width="2.5" stroke-linecap="round"/>
<path transform="scale(.5)" d="M783 1176h0m-15 11h0m8-3h0m31 6h0m3-5h0m2 5h0m8 4h0m-15 5h0m-16-4h0m-1 1h0m0-1h0m-1-1h0m-1-2h0m-9 14h0m18-6h0m10 0h0m6 0h0m1 2h0m4 3h0m10 0h0m-8 8h0m-3 2h0m-9-1h0m0 1h0m-1 0h0m-3 0h0m-1 0h0m0-1h0m-1-2h0m0-1h0m0-3h0m-15 4h0m-1 0h0m-1-1h0m0 2h0m-1-1h0m-3-2h0m0 2h0m0 1h0m-1 1h0m-2-4h0m-8 4h0m-1 9h0m4-5h0m3 3h0m3-1h0m12-4h0m1 0h0m1 1h0m1 5h0m2 1h0m3-4h0m3-3h0m2 7h0m0-7h0m0 4h0m1-4h0m0 1h0m1 4h0m0-3h0m0 1h0m1 0h0m0 4h0m1-7h0m0 2h0m0 4h0m1-3h0m0-3h0m2 1h0m0 3h0m2 2h0m1-4h0m1 0h0m0-1h0m1 2h0m1-3h0m2 0h0m2 2h0m4 4h0m5-2h0m-3 9h0m-1-1h0m0 1h0m-1 2h0m-1-3h0m0 2h0m-12-6h0m-3 2h0m-1 5h0m-19 0h0m-2 0h0m-2-2h0m-3-1h0m-1 0h0m0 2h0m0-1h0m-1 0h0m0-5h0m0 4h0m-1 2h0m-1-3h0m-2-2h0m-1 0h0m0 2h0m-1-2h0m-12 2h0m0 2h0m-3-4h0m-3 3h0m7 6h0m9 2h0m6-2h0m0 1h0m2-3h0m3 5h0m1 0h0m0-1h0m1-1h0m0 4h0m6-1h0m3-3h0m1 1h0m1 2h0m0-3h0m2 1h0m7-2h0m3-2h0m4 0h0m2 7h0m1-1h0m9-2h0m1 0h0m1 0h0m1-4h0m0 2h0m0 4h0m0-5h0m0 2h0m0 4h0m1-2h0m2-2h0m3-1h0m1 0h0m0 2h0m0-1h0m1 2h0m-9 7h0m-8 3h0m-1-6h0m0-1h0m-1 1h0m-1 3h0m-1 3h0m0-6h0m-4 2h0m0-2h0m-6 5h0m0 1h0m-4-4h0m-4 4h0m-3-2h0m0-2h0m-1-1h0m0 2h0m-1 2h0m-7-4h0m-3-1h0m-1 0h0m-1 5h0m-9-4h0m2 11h0m4-3h0m0 5h0m1-4h0m1-2h0m1 4h0m1 0h0m1 1h0m1 0h0m1-5h0m3 6h0m1-4h0m1-1h0m1-2h0m0 2h0m0-1h0m1 0h0m0 1h0m0 4h0m2-4h0m2 2h0m2-1h0m2 0h0m4 3h0m1-3h0m0-3h0m3 7h0m1-3h0m1 3h0m1-6h0m2 2h0m0-3h0m1 2h0m1 1h0m1-2h0m1 2h0m1-1h0m0 1h0m3 2h0m-5 4h0m-6-1h0m-5 2h0m-1 2h0m-2 2h0m-3-4h0m-3 4h0m0 1h0m-1 0h0m0-1h0m-1-2h0m-2-1h0m-1 1h0m-1-4h0m-1 7h0m-1-2h0m-1 2h0m-1-1h0m-2 0h0m-2-2h0m-1 0h0m0 2h0m9 4h0m1-1h0m1 2h0m0-1h0m1 0h0m1 2h0m3-4h0m1 1h0m6 0h0m3 0h0" stroke="#F5AAB0" stroke-width="2.5" stroke-linecap="round"/>
<path transform="scale(.5)" d="M780 1177h0m6 14h0m2 0h0m4 0h0m13 2h0m-1 6h0m-5-4h0m-9-2h0m-1 0h0m-3 2h0m-1 0h0m-11-1h0m30 7h0m6 1h0m1-2h0m0 2h0m1 0h0m9 1h0m-7 12h0m-6-1h0m-4 1h0m-1-1h0m-2-1h0m0-3h0m0 2h0m0 2h0m-1-2h0m0-1h0m0 4h0m-10-2h0m-5-1h0m-1 2h0m0-1h0m-2 0h0m7 3h0m0 1h0m1-1h0m4 6h0m1-5h0m0 4h0m0-1h0m6-3h0m1-1h0m2 1h0m1 6h0m1-7h0m0 2h0m1-1h0m5 0h0m0 1h0m1-2h0m2 0h0m1 0h0m2 1h0m13 2h0m2 1h0m-8 11h0m-1-1h0m-1-4h0m-1 3h0m-8-4h0m-2 1h0m-4 2h0m-3-4h0m-3 4h0m-22 0h0m-1-1h0m-18 3h0m-2 1h0m-1-4h0m-5-2h0m6 7h0m0 2h0m2-1h0m0 6h0m9 0h0m4-4h0m4 0h0m3 3h0m0-5h0m1 3h0m1-3h0m0 6h0m1-7h0m4 7h0m7-5h0m2 1h0m6 0h0m2 1h0m6 0h0m12 0h0m1-1h0m0 2h0m0-3h0m0 2h0m1-3h0m0 2h0m0 2h0m1 1h0m6-4h0m0 2h0m0-1h0m1 0h0m1 2h0m0-5h0m-4 12h0m-1-2h0m-4-2h0m-12 1h0m0 6h0m-6-2h0m-12 2h0m0-5h0m-5 2h0m-1-1h0m-2-2h0m0 2h0m-5-3h0m-3 1h0m-5 6h0m-5-3h0m1 11h0m1-2h0m0-5h0m3 3h0m0-3h0m3 2h0m3 5h0m1-2h0m2 2h0m3-6h0m1 0h0m1 4h0m16 2h0m1-7h0m2 7h0m2-4h0m3-2h0m2-1h0m3 2h0m-3 10h0m-6 2h0m-3 1h0m-4 0h0m-1-6h0m-5 6h0m-5-7h0m-1 4h0m-3 3h0m-2 0h0m0-1h0m-2-2h0m-2 1h0m-3-1h0m0 3h0m8 1h0m2 2h0m1 0h0m3-1h0" stroke="#F07A72" stroke-width="2.5" stroke-linecap="round"/>
<path transform="scale(.5)" d="M798 1180h0m-3-1h0m-7-2h0m16 21h0m-14-3h0m-1-1h0m-1 0h0m0 2h0m-2-1h0m-7-3h0m-6 1h0m-5 11h0m6-3h0m8 4h0m22-5h0m1 0h0m1 0h0m3 1h0m1 0h0m1 0h0m0-1h0m9 11h0m-5 4h0m-10-7h0m-18 6h0m-3-2h0m0 1h0m5 4h0m1 1h0m1-2h0m21 2h0m1-1h0m0 2h0m1-3h0m1 0h0m23 4h0m2 2h0m-18 8h0m-30-4h0m-12 3h0m-17 1h0m-6-1h0m6 9h0m19-5h0m0 6h0m9-5h0m32 1h0m0 1h0m1 2h0m0-4h0m2 5h0m6-4h0m-20 12h0m-11-3h0m-11 0h0m-6 1h0m30 4h0" stroke="#E8402F" stroke-width="2.5" stroke-linecap="round"/>
<rect x="373.90" y="586.50" width="49.20" height="49.00" fill="none" stroke="#555" stroke-width="0.9" />
<text x="398.50" y="580.40" font-size="8.8" text-anchor="middle" fill="#1a1a1a" >Relapse</text>
<path transform="scale(.5)" d="M902 1175h0m13 7h0m-12-6h0m-4 7h0m-3 6h0m1-3h0m0 2h0m1-3h0m0-1h0m3 5h0m2 2h0m1-3h0m0-1h0m1 1h0m7 2h0m3 1h0m1 0h0m17 7h0m-4-3h0m-1 2h0m0-3h0m-1 1h0m0 2h0m0-1h0m-1-1h0m-17 3h0m-9 1h0m-2-3h0m-1 1h0m0 2h0m0-1h0m-1-2h0m-11 1h0m-1 2h0m-2 2h0m3-1h0m0 2h0m11 0h0m1 0h0m1-1h0m0-1h0m1 0h0m3 0h0m5 5h0m2 0h0m3-2h0m1 0h0m3 3h0m7-6h0m1 1h0m1 2h0m2-2h0m6 0h0m0 2h0m19 12h0m-2-7h0m-7 5h0m-1-2h0m0 1h0m-1 2h0m0-1h0m-1 0h0m-1 0h0m0-1h0m-1 3h0m0-1h0m-1 0h0m0-5h0m0 4h0m-2 1h0m-7-4h0m-1-2h0m-2 3h0m-14 4h0m-3-4h0m0-1h0m-9-2h0m0 1h0m0 2h0m11 5h0m1 0h0m2 5h0m1-3h0m1-2h0m0 6h0m16-2h0m0-1h0m1 0h0m6 3h0m0-5h0m1 5h0m0-5h0m0-1h0m0 2h0m1 5h0m1-2h0m1-3h0m1 5h0m2 0h0m0-4h0m1 3h0m1-3h0m3 0h0m1-3h0m0 2h0m2 0h0m3 3h0m0 2h0m1-2h0m-1 4h0m0 6h0m-2-1h0m0 1h0m-1-6h0m0-1h0m0 6h0m-1-1h0m0-5h0m0 4h0m0 2h0m0-5h0m-2 6h0m-1-4h0m-3 0h0m-3-3h0m0 6h0m-3-3h0m0-3h0m0 4h0m-1-4h0m-11 14h0m11-6h0m5 7h0m1-6h0m0 2h0m2-1h0m2 0h0m0 4h0m1 0h0m0-6h0m0 2h0m3 5h0m1-2h0m-12 4h0m-9 15h0" stroke="#FCE0DC" stroke-width="2.5" stroke-linecap="round"/>
<path transform="scale(.5)" d="M901 1175h0m2 0h0m10 3h0m-5 1h0m0-3h0m-1 5h0m-12-1h0m-4 1h0m-3 6h0m4-2h0m5 0h0m1 1h0m1-1h0m1 4h0m2 2h0m0-1h0m1 0h0m3-5h0m3 3h0m3 3h0m1-7h0m2 5h0m1 0h0m0 1h0m1-2h0m1-2h0m10 1h0m4-1h0m3-2h0m5 14h0m-4 1h0m-1 0h0m-1 0h0m-3 0h0m-3-1h0m0-1h0m-1-2h0m0 2h0m-6 1h0m-7-4h0m-2 5h0m0-6h0m-4 0h0m-5-1h0m0 6h0m-3 0h0m-1 1h0m-1-4h0m0 2h0m-1 1h0m-1 1h0m-2-3h0m-5 1h0m-4-4h0m-1 4h0m-1 0h0m-2 5h0m2-1h0m1 1h0m15 1h0m0-3h0m3 1h0m1-1h0m0 2h0m1-1h0m6 3h0m1-1h0m0 4h0m1-5h0m1-1h0m0 1h0m1 2h0m5 2h0m3-2h0m2-2h0m1-2h0m0 7h0m1-5h0m6 0h0m3 0h0m2 4h0m10 7h0m-2 2h0m-1-3h0m-1 3h0m-1-2h0m0-3h0m-1 2h0m0 1h0m-1 0h0m0-1h0m-1 1h0m0-1h0m0-1h0m-1 2h0m0 1h0m-1 0h0m-1 0h0m-1 0h0m-24 1h0m-1-4h0m0 3h0m-1-2h0m0-4h0m-10 1h0m-10 11h0m0-3h0m0 2h0m1-1h0m20 4h0m1-6h0m2 3h0m0-2h0m1 1h0m0 2h0m0-1h0m1-2h0m2-1h0m5 7h0m6 0h0m2-5h0m3-2h0m3 0h0m1 0h0m0 6h0m1 0h0m0-6h0m1 6h0m0-5h0m0 6h0m1 0h0m0-1h0m0-1h0m1 2h0m1 0h0m1-7h0m1 0h0m2 2h0m1 5h0m0-3h0m0-3h0m2 1h0m0-1h0m2 5h0m1 0h0m0-5h0m0-1h0m1 2h0m0 5h0m1-1h0m1-2h0m0-3h0m0 6h0m1 0h0m1 4h0m-1 1h0m0 3h0m-1-6h0m0-1h0m-1 0h0m0 6h0m0-3h0m-1-2h0m0 4h0m0-3h0m-1 0h0m0-1h0m-1 6h0m-1 0h0m0-1h0m0-5h0m-1 4h0m-1-4h0m0 5h0m-1-3h0m0 4h0m-1 0h0m0-1h0m-2-4h0m-1-1h0m0 2h0m0 2h0m-2 2h0m-1 0h0m-1-5h0m-1 0h0m-18 5h0m-10-5h0m-6 2h0m-9 1h0m-9 0h0m-7-1h0m-1 2h0m-2 5h0m3-3h0m6 7h0m11-4h0m13 4h0m30-7h0m2 7h0m1 0h0m0-7h0m2 4h0m1 2h0m1-1h0m1-5h0m0 1h0m0 2h0m1-1h0m0 2h0m0 2h0m0-5h0m0 6h0m1-1h0m0-1h0m1-5h0m2 3h0m0 2h0m0 2h0m0-7h0m2 4h0m2-3h0m-4 7h0m-4 0h0m-3 2h0m-1 0h0m-1-1h0m-1-1h0m-1 0h0m-18 6h0m-10-5h0m-10 14h0m23-2h0m5 7h0m-11-3h0m-1 0h0m-4 6h0m-14-7h0" stroke="#F5AAB0" stroke-width="2.5" stroke-linecap="round"/>
<path transform="scale(.5)" d="M903 1175h0m0 1h0m-1 0h0m-1 0h0m0 2h0m0-1h0m-2 2h0m-3-1h0m-1 2h0m-9 11h0m3-2h0m2-5h0m1 3h0m2-3h0m4 3h0m2-3h0m1 7h0m1 0h0m1 0h0m0-3h0m0 2h0m1-2h0m1 0h0m2-2h0m0 2h0m4 2h0m2-3h0m3 2h0m1 0h0m0 1h0m1-4h0m17 11h0m0 1h0m-2 1h0m-4-5h0m-1 2h0m0-1h0m-1 2h0m0-1h0m-1 0h0m-1 3h0m-7-7h0m0 2h0m-1 2h0m-8 2h0m-1-6h0m-2 6h0m-8-1h0m0 2h0m-1 0h0m-5-1h0m-3-1h0m-6 2h0m-1 1h0m2 2h0m3 1h0m11-3h0m5 2h0m1-1h0m0-1h0m8 2h0m1-1h0m9 6h0m4-4h0m2-1h0m1 0h0m1 0h0m1 5h0m4 0h0m0-7h0m3 6h0m7-6h0m3 15h0m-4-2h0m-1-3h0m-1 5h0m0-1h0m-1 0h0m0-1h0m-2-1h0m0 2h0m-1 1h0m0-1h0m-1-5h0m0 6h0m-1-1h0m-1-2h0m-1 3h0m-4-3h0m-8-4h0m-11 7h0m-1-6h0m0 2h0m0 4h0m-1-3h0m0-3h0m0-1h0m-1 2h0m-9-1h0m0 2h0m-1-1h0m-4-2h0m15 12h0m5-2h0m0 1h0m1-2h0m0 2h0m15-1h0m0 2h0m0-1h0m6-3h0m0 3h0m1-2h0m1 3h0m0 1h0m1 1h0m0 1h0m1-5h0m0 4h0m2-3h0m0-3h0m2 2h0m0 4h0m1-5h0m1 3h0m0-1h0m0 2h0m1-5h0m0 3h0m1 1h0m0 2h0m2-1h0m1-5h0m0 2h0m1 0h0m0-1h0m0 2h0m0-3h0m1 0h0m0 2h0m0-1h0m2 6h0m1 0h0m1-3h0m0 3h0m-1 1h0m0 4h0m0-1h0m-1-3h0m0 6h0m-1-6h0m0 1h0m0 2h0m-1-2h0m0 1h0m0 2h0m0 2h0m-1-4h0m0-1h0m-1 0h0m0 6h0m-1-5h0m0 4h0m-1-6h0m0 4h0m-1 1h0m0-5h0m-1 3h0m-2 3h0m-1-4h0m-1 2h0m-1 3h0m0-5h0m-1 0h0m0 2h0m0 2h0m0-1h0m-2-4h0m-7 3h0m-53 2h0m-5-3h0m-1-1h0m0 2h0m0 2h0m-1-1h0m5 5h0m3-2h0m0 5h0m55-5h0m5 2h0m1 1h0m2-2h0m0 4h0m1-3h0m1 5h0m1-6h0m0 2h0m3-3h0m0 6h0m1-5h0m0 2h0m0-3h0m1 2h0m1-2h0m1 4h0m1 0h0m1-3h0m0 2h0m-5 5h0m-2 1h0m-4 0h0m-1 1h0m-47 10h0" stroke="#F07A72" stroke-width="2.5" stroke-linecap="round"/>
<path transform="scale(.5)" d="M901 1173h0m10 7h0m-8 2h0m-1-5h0m0 4h0m-14 4h0m0 3h0m4 0h0m6-3h0m1 4h0m2 0h0m1 1h0m0-3h0m1 4h0m0-5h0m0 4h0m1-2h0m1-2h0m10 3h0m1 1h0m18-1h0m1 10h0m-1-1h0m0-1h0m-5-1h0m-2 1h0m0-1h0m-2 3h0m-16-4h0m-3-3h0m-6 4h0m-2 2h0m-3-1h0m-13 3h0m1 1h0m17 6h0m4-7h0m7 1h0m1 1h0m1 0h0m1-1h0m9 0h0m1 0h0m0 2h0m0-1h0m1-1h0m22 5h0m-3 6h0m-1 1h0m-1-1h0m-4 1h0m0-1h0m-1 3h0m-10-6h0m-17 6h0m0-5h0m0 4h0m-1-3h0m-10 0h0m-1 0h0m32 8h0m1 1h0m4-4h0m3 7h0m2-4h0m1 2h0m0-5h0m1 7h0m3 0h0m1-4h0m1 4h0m4-3h0m2 0h0m2 1h0m1 2h0m0 1h0m0 6h0m-1-4h0m-4 1h0m-4 1h0m-1-3h0m-1 6h0m-1-2h0m-3 2h0m-68-2h0m73 5h0m0 4h0m2-2h0m0 3h0m1-1h0m1-5h0m0-1h0m1 7h0m-6 1h0m-3 0h0" stroke="#E8402F" stroke-width="2.5" stroke-linecap="round"/>
<rect x="432.90" y="586.50" width="49.20" height="49.00" fill="none" stroke="#555" stroke-width="0.9" />
<text x="457.50" y="580.40" font-size="8.8" text-anchor="middle" fill="#1a1a1a" >Healthy</text>
<line x1="371.50" y1="526.45" x2="373.90" y2="526.45" stroke="#444" stroke-width="0.8"/>
<text x="363.49" y="528.65" font-size="6.3" fill="#333">25</text>
<line x1="371.50" y1="540.50" x2="373.90" y2="540.50" stroke="#444" stroke-width="0.8"/>
<text x="367.00" y="542.70" font-size="6.3" fill="#333">0</text>
<line x1="371.50" y1="554.55" x2="373.90" y2="554.55" stroke="#444" stroke-width="0.8"/>
<rect x="358.71" y="554.23" width="4.16" height="0.76" fill="#333"/>
<text x="363.49" y="556.75" font-size="6.3" fill="#333">25</text>
<line x1="371.50" y1="597.25" x2="373.90" y2="597.25" stroke="#444" stroke-width="0.8"/>
<text x="363.49" y="599.45" font-size="6.3" fill="#333">25</text>
<line x1="371.50" y1="611.30" x2="373.90" y2="611.30" stroke="#444" stroke-width="0.8"/>
<text x="367.00" y="613.50" font-size="6.3" fill="#333">0</text>
<line x1="371.50" y1="625.35" x2="373.90" y2="625.35" stroke="#444" stroke-width="0.8"/>
<rect x="358.71" y="625.03" width="4.16" height="0.76" fill="#333"/>
<text x="363.49" y="627.55" font-size="6.3" fill="#333">25</text>
<line x1="374.60" y1="635.50" x2="374.60" y2="638.10" stroke="#444" stroke-width="0.8"/>
<rect x="367.50" y="641.38" width="4.16" height="0.76" fill="#333"/>
<text x="372.29" y="643.90" font-size="6.3" fill="#333">50</text>
<line x1="386.30" y1="635.50" x2="386.30" y2="638.10" stroke="#444" stroke-width="0.8"/>
<rect x="379.20" y="641.38" width="4.16" height="0.76" fill="#333"/>
<text x="383.99" y="643.90" font-size="6.3" fill="#333">25</text>
<line x1="398.00" y1="635.50" x2="398.00" y2="638.10" stroke="#444" stroke-width="0.8"/>
<text x="396.25" y="643.90" font-size="6.3" fill="#333">0</text>
<line x1="409.70" y1="635.50" x2="409.70" y2="638.10" stroke="#444" stroke-width="0.8"/>
<text x="406.20" y="643.90" font-size="6.3" fill="#333">25</text>
<line x1="421.40" y1="635.50" x2="421.40" y2="638.10" stroke="#444" stroke-width="0.8"/>
<text x="417.90" y="643.90" font-size="6.3" fill="#333">50</text>
<line x1="433.60" y1="635.50" x2="433.60" y2="638.10" stroke="#444" stroke-width="0.8"/>
<rect x="426.50" y="641.38" width="4.16" height="0.76" fill="#333"/>
<text x="431.29" y="643.90" font-size="6.3" fill="#333">50</text>
<line x1="445.30" y1="635.50" x2="445.30" y2="638.10" stroke="#444" stroke-width="0.8"/>
<rect x="438.20" y="641.38" width="4.16" height="0.76" fill="#333"/>
<text x="442.99" y="643.90" font-size="6.3" fill="#333">25</text>
<line x1="457.00" y1="635.50" x2="457.00" y2="638.10" stroke="#444" stroke-width="0.8"/>
<text x="455.25" y="643.90" font-size="6.3" fill="#333">0</text>
<line x1="468.70" y1="635.50" x2="468.70" y2="638.10" stroke="#444" stroke-width="0.8"/>
<text x="465.20" y="643.90" font-size="6.3" fill="#333">25</text>
<line x1="480.40" y1="635.50" x2="480.40" y2="638.10" stroke="#444" stroke-width="0.8"/>
<text x="476.90" y="643.90" font-size="6.3" fill="#333">50</text>
<text x="423.30" y="654.10" font-size="8.8" text-anchor="middle" fill="#1a1a1a" font-weight="bold" textLength="16.2" lengthAdjust="spacingAndGlyphs" >tSNE1</text>
<text transform="translate(354.40,580.80) rotate(-90)" font-size="9.6" text-anchor="middle" fill="#1a1a1a" font-weight="bold" textLength="16.6" lengthAdjust="spacingAndGlyphs">tSNE2</text>
<text x="490.20" y="541.70" font-size="7.8" text-anchor="start" fill="#222" >CD19</text>
<rect x="491.20" y="547.10" width="10.40" height="7.79" fill="#B71F2E" stroke="#555" stroke-width="0.35" />
<rect x="491.20" y="554.89" width="10.40" height="7.79" fill="#E0162B" stroke="#555" stroke-width="0.35" />
<rect x="491.20" y="562.68" width="10.40" height="7.79" fill="#E8402F" stroke="#555" stroke-width="0.35" />
<rect x="491.20" y="570.47" width="10.40" height="7.79" fill="#F07A72" stroke="#555" stroke-width="0.35" />
<rect x="491.20" y="578.26" width="10.40" height="7.79" fill="#F5AAB0" stroke="#555" stroke-width="0.35" />
<rect x="491.20" y="586.05" width="10.40" height="7.79" fill="#FCE0DC" stroke="#555" stroke-width="0.35" />
<rect x="491.20" y="593.84" width="10.40" height="7.79" fill="#A59AD3" stroke="#555" stroke-width="0.35" />
<rect x="491.20" y="547.10" width="10.40" height="54.50" fill="none" stroke="#555" stroke-width="0.5" />
<text x="508.33" y="557.50" font-size="5.7" fill="#333">4</text>
<text x="508.33" y="565.22" font-size="5.7" fill="#333">3</text>
<text x="508.33" y="572.94" font-size="5.7" fill="#333">2</text>
<text x="508.33" y="580.66" font-size="5.7" fill="#333">1</text>
<text x="508.33" y="588.38" font-size="5.7" fill="#333">0</text>
<rect x="504.73" y="593.78" width="3.00" height="0.76" fill="#333"/>
<text x="508.33" y="596.10" font-size="5.7" fill="#333">1</text>
<rect x="0.5" y="0.5" width="519" height="666" fill="none" stroke="#000" stroke-width="1.2"/>
</svg></body></html>
